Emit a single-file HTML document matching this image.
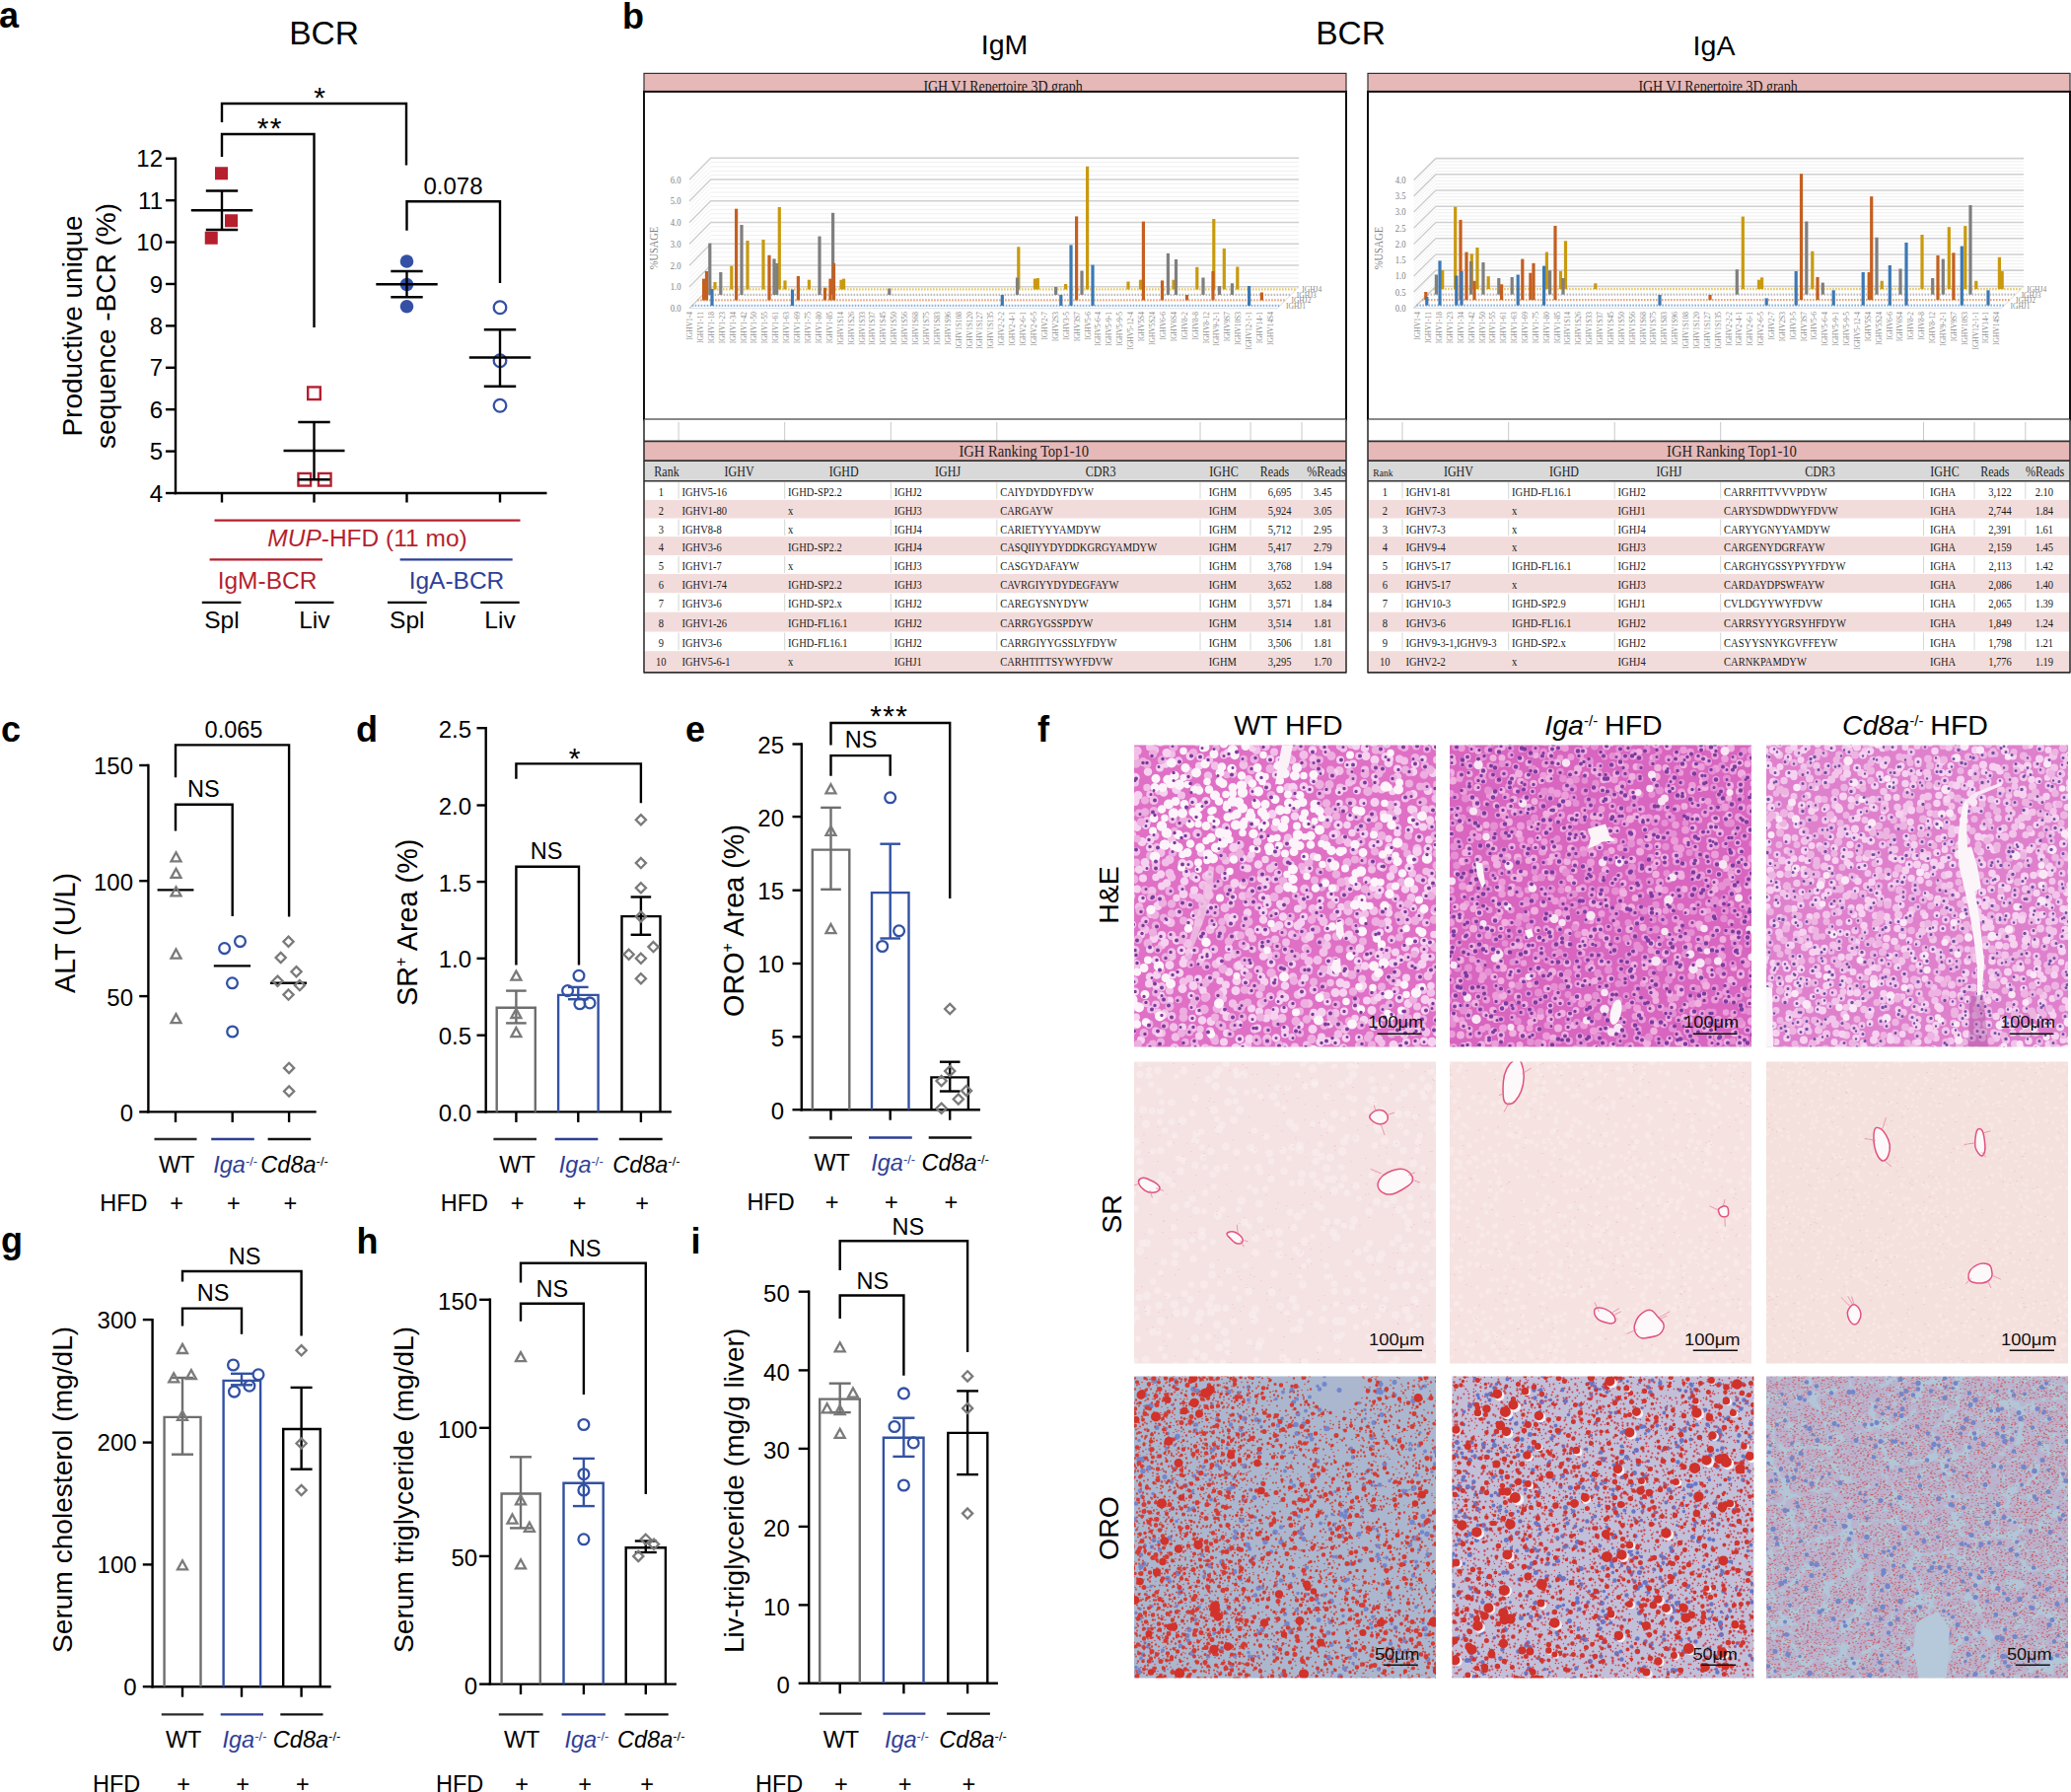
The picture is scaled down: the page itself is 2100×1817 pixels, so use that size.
<!DOCTYPE html>
<html><head><meta charset="utf-8"><title>Figure</title>
<style>html,body{margin:0;padding:0;background:#fff;overflow:hidden}svg{display:block}</style></head>
<body><svg width="2100" height="1817" viewBox="0 0 2100 1817" font-family="Liberation Sans, Arial, sans-serif" font-size="24">
<rect width="2100" height="1817" fill="#fff"/>
<text x="-1" y="28" font-size="36" font-weight="bold">a</text>
<text x="328.5" y="45" font-size="33.5" text-anchor="middle">BCR</text>
<path d="M178 159.55L178 501.2" stroke="#000" stroke-width="2.4" />
<path d="M168 160.75L178 160.75" stroke="#000" stroke-width="2.4" />
<text x="165" y="169.34" text-anchor="end">12</text>
<path d="M168 203.16L178 203.16" stroke="#000" stroke-width="2.4" />
<text x="165" y="211.75" text-anchor="end">11</text>
<path d="M168 245.56L178 245.56" stroke="#000" stroke-width="2.4" />
<text x="165" y="254.15" text-anchor="end">10</text>
<path d="M168 287.97L178 287.97" stroke="#000" stroke-width="2.4" />
<text x="165" y="296.56" text-anchor="end">9</text>
<path d="M168 330.38L178 330.38" stroke="#000" stroke-width="2.4" />
<text x="165" y="338.97" text-anchor="end">8</text>
<path d="M168 372.78L178 372.78" stroke="#000" stroke-width="2.4" />
<text x="165" y="381.37" text-anchor="end">7</text>
<path d="M168 415.19L178 415.19" stroke="#000" stroke-width="2.4" />
<text x="165" y="423.78" text-anchor="end">6</text>
<path d="M168 457.59L178 457.59" stroke="#000" stroke-width="2.4" />
<text x="165" y="466.19" text-anchor="end">5</text>
<path d="M168 500L178 500" stroke="#000" stroke-width="2.4" />
<text x="165" y="508.59" text-anchor="end">4</text>
<path d="M176.8 500L554.5 500" stroke="#000" stroke-width="2.4" />
<path d="M225 500L225 509.5" stroke="#000" stroke-width="2.4" />
<path d="M318.5 500L318.5 509.5" stroke="#000" stroke-width="2.4" />
<path d="M412.5 500L412.5 509.5" stroke="#000" stroke-width="2.4" />
<path d="M507 500L507 509.5" stroke="#000" stroke-width="2.4" />
<text x="82.5" y="330.5" font-size="28" text-anchor="middle" transform="rotate(-90 82.5 330.5)">Productive unique</text>
<text x="117" y="330.5" font-size="28" text-anchor="middle" transform="rotate(-90 117 330.5)">sequence -BCR (%)</text>
<path d="M225 124V105H412V167.5" stroke="#000" stroke-width="2.4" fill="none" stroke-linejoin="miter"/>
<text x="324" y="109.4" font-size="30" text-anchor="middle">*</text>
<path d="M225 159V136H318.5V332" stroke="#000" stroke-width="2.4" fill="none" stroke-linejoin="miter"/>
<text x="273.7" y="139.7" font-size="30" text-anchor="middle" letter-spacing="1.3">**</text>
<path d="M412.5 233.75V204.25H507V287" stroke="#000" stroke-width="2.4" fill="none" stroke-linejoin="miter"/>
<text x="459.5" y="197" text-anchor="middle">0.078</text>
<rect x="218" y="169.25" width="13" height="13" fill="#b51f2e"/>
<rect x="228" y="217.25" width="13" height="13" fill="#b51f2e"/>
<rect x="207.75" y="234.75" width="13" height="13" fill="#b51f2e"/>
<path d="M225 193.5L225 233" stroke="#000" stroke-width="2.4" />
<path d="M208.8 193.5L241.2 193.5" stroke="#000" stroke-width="2.4" />
<path d="M208.8 233L241.2 233" stroke="#000" stroke-width="2.4" />
<path d="M193.8 213.25L256.2 213.25" stroke="#000" stroke-width="2.4" />
<rect x="312.2" y="392.45" width="12.6" height="12.6" fill="none" stroke="#b51f2e" stroke-width="2.4"/>
<rect x="302.45" y="479.95" width="12.6" height="12.6" fill="none" stroke="#b51f2e" stroke-width="2.4"/>
<rect x="322.95" y="479.95" width="12.6" height="12.6" fill="none" stroke="#b51f2e" stroke-width="2.4"/>
<path d="M318.5 428L318.5 486.25" stroke="#000" stroke-width="2.4" />
<path d="M302.3 428L334.7 428" stroke="#000" stroke-width="2.4" />
<path d="M302.3 486.25L334.7 486.25" stroke="#000" stroke-width="2.4" />
<path d="M287.5 457L349.5 457" stroke="#000" stroke-width="2.4" />
<circle cx="412.5" cy="265" r="6.8" fill="#3450a6"/>
<circle cx="412.5" cy="288.5" r="6.8" fill="#3450a6"/>
<circle cx="412.5" cy="310.7" r="6.8" fill="#3450a6"/>
<path d="M412.5 275L412.5 301.25" stroke="#000" stroke-width="2.4" />
<path d="M396.3 275L428.7 275" stroke="#000" stroke-width="2.4" />
<path d="M396.3 301.25L428.7 301.25" stroke="#000" stroke-width="2.4" />
<path d="M381.3 288.25L443.7 288.25" stroke="#000" stroke-width="2.4" />
<circle cx="507" cy="311.75" r="6.3" fill="none" stroke="#3450a6" stroke-width="2.3"/>
<circle cx="507" cy="365.75" r="6.3" fill="none" stroke="#3450a6" stroke-width="2.3"/>
<circle cx="507" cy="411.25" r="6.3" fill="none" stroke="#3450a6" stroke-width="2.3"/>
<path d="M507 334.25L507 391.75" stroke="#000" stroke-width="2.4" />
<path d="M490.8 334.25L523.2 334.25" stroke="#000" stroke-width="2.4" />
<path d="M490.8 391.75L523.2 391.75" stroke="#000" stroke-width="2.4" />
<path d="M475.8 362.5L538.2 362.5" stroke="#000" stroke-width="2.4" />
<path d="M217.5 527.6L527.5 527.6" stroke="#b51f2e" stroke-width="2.3" />
<text x="372.5" y="553.6" font-size="24.5" text-anchor="middle" fill="#b51f2e"><tspan font-style="italic">MUP</tspan>-HFD (11 mo)</text>
<path d="M212.6 567.3L327 567.3" stroke="#b51f2e" stroke-width="2.3" />
<path d="M405.6 567.3L519.7 567.3" stroke="#2e3f96" stroke-width="2.3" />
<text x="271" y="596.8" font-size="24.5" text-anchor="middle" fill="#b51f2e">IgM-BCR</text>
<text x="463" y="596.8" font-size="24.5" text-anchor="middle" fill="#2e3f96">IgA-BCR</text>
<path d="M204.8 610.9L244.4 610.9" stroke="#000" stroke-width="2.3" />
<path d="M299 610.9L338.5 610.9" stroke="#000" stroke-width="2.3" />
<path d="M393 610.9L432.7 610.9" stroke="#000" stroke-width="2.3" />
<path d="M487.3 610.9L526.7 610.9" stroke="#000" stroke-width="2.3" />
<text x="225" y="637" font-size="24.5" text-anchor="middle">Spl</text>
<text x="318.8" y="637" font-size="24.5" text-anchor="middle">Liv</text>
<text x="412.8" y="637" font-size="24.5" text-anchor="middle">Spl</text>
<text x="507" y="637" font-size="24.5" text-anchor="middle">Liv</text>
<text x="631" y="28.6" font-size="36" font-weight="bold">b</text>
<text x="1018.5" y="55.2" font-size="28.5" text-anchor="middle">IgM</text>
<text x="1369.5" y="44.8" font-size="33.5" text-anchor="middle">BCR</text>
<text x="1738" y="56.4" font-size="28.5" text-anchor="middle">IgA</text>
<rect x="653" y="74.4" width="712" height="18.5" fill="#e6b8b7" stroke="#333" stroke-width="1.2"/>
<svg x="653" y="74.4" width="712" height="18.5" overflow="hidden"><g font-family="Liberation Serif" font-size="16" fill="#1a1a1a"><text transform="matrix(0.87 0 0 1 364 18.8)" text-anchor="middle">IGH VJ Repertoire 3D graph</text></g></svg>
<rect x="653" y="92.9" width="712" height="332.6" fill="#fff" stroke="#111" stroke-width="2"/>
<path d="M699 312.7L720.7 290.7H1317" stroke="#d0d0d0" stroke-width="1.6" fill="none"/><path d="M699 308.35L720.7 286.35H1317" stroke="#ececec" stroke-width="0.8" fill="none"/><path d="M699 304L720.7 282H1317" stroke="#ececec" stroke-width="0.8" fill="none"/><path d="M699 299.65L720.7 277.65H1317" stroke="#ececec" stroke-width="0.8" fill="none"/><path d="M699 295.3L720.7 273.3H1317" stroke="#ececec" stroke-width="0.8" fill="none"/><path d="M699 290.95L720.7 268.95H1317" stroke="#d0d0d0" stroke-width="1.6" fill="none"/><path d="M699 286.6L720.7 264.6H1317" stroke="#ececec" stroke-width="0.8" fill="none"/><path d="M699 282.25L720.7 260.25H1317" stroke="#ececec" stroke-width="0.8" fill="none"/><path d="M699 277.9L720.7 255.9H1317" stroke="#ececec" stroke-width="0.8" fill="none"/><path d="M699 273.55L720.7 251.55H1317" stroke="#ececec" stroke-width="0.8" fill="none"/><path d="M699 269.2L720.7 247.2H1317" stroke="#d0d0d0" stroke-width="1.6" fill="none"/><path d="M699 264.85L720.7 242.85H1317" stroke="#ececec" stroke-width="0.8" fill="none"/><path d="M699 260.5L720.7 238.5H1317" stroke="#ececec" stroke-width="0.8" fill="none"/><path d="M699 256.15L720.7 234.15H1317" stroke="#ececec" stroke-width="0.8" fill="none"/><path d="M699 251.8L720.7 229.8H1317" stroke="#ececec" stroke-width="0.8" fill="none"/><path d="M699 247.45L720.7 225.45H1317" stroke="#d0d0d0" stroke-width="1.6" fill="none"/><path d="M699 243.1L720.7 221.1H1317" stroke="#ececec" stroke-width="0.8" fill="none"/><path d="M699 238.75L720.7 216.75H1317" stroke="#ececec" stroke-width="0.8" fill="none"/><path d="M699 234.4L720.7 212.4H1317" stroke="#ececec" stroke-width="0.8" fill="none"/><path d="M699 230.05L720.7 208.05H1317" stroke="#ececec" stroke-width="0.8" fill="none"/><path d="M699 225.7L720.7 203.7H1317" stroke="#d0d0d0" stroke-width="1.6" fill="none"/><path d="M699 221.35L720.7 199.35H1317" stroke="#ececec" stroke-width="0.8" fill="none"/><path d="M699 217L720.7 195H1317" stroke="#ececec" stroke-width="0.8" fill="none"/><path d="M699 212.65L720.7 190.65H1317" stroke="#ececec" stroke-width="0.8" fill="none"/><path d="M699 208.3L720.7 186.3H1317" stroke="#ececec" stroke-width="0.8" fill="none"/><path d="M699 203.95L720.7 181.95H1317" stroke="#d0d0d0" stroke-width="1.6" fill="none"/><path d="M699 199.6L720.7 177.6H1317" stroke="#ececec" stroke-width="0.8" fill="none"/><path d="M699 195.25L720.7 173.25H1317" stroke="#ececec" stroke-width="0.8" fill="none"/><path d="M699 190.9L720.7 168.9H1317" stroke="#ececec" stroke-width="0.8" fill="none"/><path d="M699 186.55L720.7 164.55H1317" stroke="#ececec" stroke-width="0.8" fill="none"/><path d="M699 182.2L720.7 160.2H1317" stroke="#d0d0d0" stroke-width="1.6" fill="none"/><path d="M699 312.7H1295.3L1317 290.7" stroke="#dcdcdc" stroke-width="1" fill="none"/>
<path d="M701.71 309.95H1298.01" stroke="#8fb6dd" stroke-width="2.2" stroke-dasharray="1.6 1.4" fill="none"/>
<path d="M707.14 304.45H1303.44" stroke="#e9a57c" stroke-width="2.2" stroke-dasharray="1.6 1.4" fill="none"/>
<path d="M712.56 298.95H1308.86" stroke="#bcbcbc" stroke-width="2.2" stroke-dasharray="1.6 1.4" fill="none"/>
<path d="M717.99 293.45H1314.29" stroke="#e6c766" stroke-width="2.2" stroke-dasharray="1.6 1.4" fill="none"/>
<rect x="723.4" y="286" width="3.2" height="7.45" fill="#c99a0e"/>
<rect x="740.2" y="269.7" width="3.2" height="23.75" fill="#c99a0e"/>
<rect x="756.4" y="244" width="3.2" height="49.45" fill="#c99a0e"/>
<rect x="772.4" y="243" width="3.2" height="50.45" fill="#c99a0e"/>
<rect x="788.7" y="210" width="3.2" height="83.45" fill="#c99a0e"/>
<rect x="794.4" y="284.4" width="3.2" height="9.05" fill="#c99a0e"/>
<rect x="818.8" y="283.7" width="3.2" height="9.75" fill="#c99a0e"/>
<rect x="851.4" y="283.7" width="3.2" height="9.75" fill="#c99a0e"/>
<rect x="854" y="282.6" width="3.2" height="10.85" fill="#c99a0e"/>
<rect x="1031.2" y="250.3" width="3.2" height="43.15" fill="#c99a0e"/>
<rect x="1047.8" y="282.6" width="3.2" height="10.85" fill="#c99a0e"/>
<rect x="1050.7" y="282" width="3.2" height="11.45" fill="#c99a0e"/>
<rect x="1079" y="288" width="3.2" height="5.45" fill="#c99a0e"/>
<rect x="1101" y="168.8" width="3.2" height="124.65" fill="#c99a0e"/>
<rect x="1142.4" y="285.5" width="3.2" height="7.95" fill="#c99a0e"/>
<rect x="1154.9" y="283.7" width="3.2" height="9.75" fill="#c99a0e"/>
<rect x="1188.4" y="283.7" width="3.2" height="9.75" fill="#c99a0e"/>
<rect x="1212.2" y="270.8" width="3.2" height="22.65" fill="#c99a0e"/>
<rect x="1229.2" y="222" width="3.2" height="71.45" fill="#c99a0e"/>
<rect x="1239.7" y="252" width="3.2" height="41.45" fill="#c99a0e"/>
<rect x="1253.2" y="270.5" width="3.2" height="22.95" fill="#c99a0e"/>
<rect x="718.2" y="246.6" width="3.2" height="52.35" fill="#7f7f7f"/>
<rect x="729.2" y="276" width="3.2" height="22.95" fill="#7f7f7f"/>
<rect x="750.4" y="228" width="3.2" height="70.95" fill="#7f7f7f"/>
<rect x="783.4" y="262.4" width="3.2" height="36.55" fill="#7f7f7f"/>
<rect x="786.1" y="267" width="3.2" height="31.95" fill="#7f7f7f"/>
<rect x="829.4" y="239.6" width="3.2" height="59.35" fill="#7f7f7f"/>
<rect x="843" y="215.8" width="3.2" height="83.15" fill="#7f7f7f"/>
<rect x="900.2" y="292.5" width="3.2" height="6.45" fill="#7f7f7f"/>
<rect x="1029.9" y="281.5" width="3.2" height="17.45" fill="#7f7f7f"/>
<rect x="1069" y="291" width="3.2" height="7.95" fill="#7f7f7f"/>
<rect x="1095.4" y="274.5" width="3.2" height="24.45" fill="#7f7f7f"/>
<rect x="1182.8" y="256.9" width="3.2" height="42.05" fill="#7f7f7f"/>
<rect x="1190.9" y="263" width="3.2" height="35.95" fill="#7f7f7f"/>
<rect x="1218.4" y="281.5" width="3.2" height="17.45" fill="#7f7f7f"/>
<rect x="1234.9" y="290" width="3.2" height="8.95" fill="#7f7f7f"/>
<rect x="1247.8" y="287.3" width="3.2" height="11.65" fill="#7f7f7f"/>
<rect x="712" y="282.6" width="3.2" height="21.85" fill="#c55f1f"/>
<rect x="714.9" y="275" width="3.2" height="29.45" fill="#c55f1f"/>
<rect x="745" y="211.7" width="3.2" height="92.75" fill="#c55f1f"/>
<rect x="778.4" y="258.7" width="3.2" height="45.75" fill="#c55f1f"/>
<rect x="807.8" y="280" width="3.2" height="24.45" fill="#c55f1f"/>
<rect x="834.9" y="291.7" width="3.2" height="12.75" fill="#c55f1f"/>
<rect x="840.4" y="282.6" width="3.2" height="21.85" fill="#c55f1f"/>
<rect x="843.9" y="266.8" width="3.2" height="37.65" fill="#c55f1f"/>
<rect x="1090" y="219.4" width="3.2" height="85.05" fill="#c55f1f"/>
<rect x="1157.8" y="224.6" width="3.2" height="79.85" fill="#c55f1f"/>
<rect x="1176.9" y="284.4" width="3.2" height="20.05" fill="#c55f1f"/>
<rect x="1201.9" y="299" width="3.2" height="5.45" fill="#c55f1f"/>
<rect x="1228.4" y="275" width="3.2" height="29.45" fill="#c55f1f"/>
<rect x="1277.8" y="296.5" width="3.2" height="7.95" fill="#c55f1f"/>
<rect x="720.4" y="293" width="3.2" height="16.95" fill="#3b78b5"/>
<rect x="801.9" y="293.6" width="3.2" height="16.35" fill="#3b78b5"/>
<rect x="1014.7" y="299" width="3.2" height="10.95" fill="#3b78b5"/>
<rect x="1074.2" y="299" width="3.2" height="10.95" fill="#3b78b5"/>
<rect x="1084.4" y="248.4" width="3.2" height="61.55" fill="#3b78b5"/>
<rect x="1106.4" y="268.6" width="3.2" height="41.35" fill="#3b78b5"/>
<rect x="1265" y="290" width="3.2" height="19.95" fill="#3b78b5"/>
<g font-family="Liberation Serif" font-size="10" fill="#7f7f7f"><text transform="matrix(0.87 0 0 1 690.6 316.1)" text-anchor="end">0.0</text></g>
<g font-family="Liberation Serif" font-size="10" fill="#7f7f7f"><text transform="matrix(0.87 0 0 1 690.6 294.35)" text-anchor="end">1.0</text></g>
<g font-family="Liberation Serif" font-size="10" fill="#7f7f7f"><text transform="matrix(0.87 0 0 1 690.6 272.6)" text-anchor="end">2.0</text></g>
<g font-family="Liberation Serif" font-size="10" fill="#7f7f7f"><text transform="matrix(0.87 0 0 1 690.6 250.85)" text-anchor="end">3.0</text></g>
<g font-family="Liberation Serif" font-size="10" fill="#7f7f7f"><text transform="matrix(0.87 0 0 1 690.6 229.1)" text-anchor="end">4.0</text></g>
<g font-family="Liberation Serif" font-size="10" fill="#7f7f7f"><text transform="matrix(0.87 0 0 1 690.6 207.35)" text-anchor="end">5.0</text></g>
<g font-family="Liberation Serif" font-size="10" fill="#7f7f7f"><text transform="matrix(0.87 0 0 1 690.6 185.6)" text-anchor="end">6.0</text></g>
<g font-family="Liberation Serif" font-size="12" fill="#7f7f7f"><text transform="matrix(0 -0.87 1 0 666.5 251.5)" text-anchor="middle">%USAGE</text></g>
<g font-family="Liberation Serif" font-size="8.9" fill="#8a8a8a" text-anchor="end"><text transform="matrix(0 -0.84 1 0 702 316)">IGHV1-4</text><text transform="matrix(0 -0.84 1 0 712.91 316)">IGHV1-11</text><text transform="matrix(0 -0.84 1 0 723.81 316)">IGHV1-18</text><text transform="matrix(0 -0.84 1 0 734.72 316)">IGHV1-23</text><text transform="matrix(0 -0.84 1 0 745.63 316)">IGHV1-34</text><text transform="matrix(0 -0.84 1 0 756.53 316)">IGHV1-42</text><text transform="matrix(0 -0.84 1 0 767.44 316)">IGHV1-50</text><text transform="matrix(0 -0.84 1 0 778.35 316)">IGHV1-55</text><text transform="matrix(0 -0.84 1 0 789.26 316)">IGHV1-61</text><text transform="matrix(0 -0.84 1 0 800.16 316)">IGHV1-63</text><text transform="matrix(0 -0.84 1 0 811.07 316)">IGHV1-69</text><text transform="matrix(0 -0.84 1 0 821.98 316)">IGHV1-75</text><text transform="matrix(0 -0.84 1 0 832.88 316)">IGHV1-80</text><text transform="matrix(0 -0.84 1 0 843.79 316)">IGHV1-85</text><text transform="matrix(0 -0.84 1 0 854.7 316)">IGHV1S14</text><text transform="matrix(0 -0.84 1 0 865.61 316)">IGHV1S26</text><text transform="matrix(0 -0.84 1 0 876.51 316)">IGHV1S33</text><text transform="matrix(0 -0.84 1 0 887.42 316)">IGHV1S37</text><text transform="matrix(0 -0.84 1 0 898.33 316)">IGHV1S45</text><text transform="matrix(0 -0.84 1 0 909.23 316)">IGHV1S50</text><text transform="matrix(0 -0.84 1 0 920.14 316)">IGHV1S56</text><text transform="matrix(0 -0.84 1 0 931.05 316)">IGHV1S68</text><text transform="matrix(0 -0.84 1 0 941.95 316)">IGHV1S75</text><text transform="matrix(0 -0.84 1 0 952.86 316)">IGHV1S83</text><text transform="matrix(0 -0.84 1 0 963.77 316)">IGHV1S96</text><text transform="matrix(0 -0.84 1 0 974.67 316)">IGHV1S108</text><text transform="matrix(0 -0.84 1 0 985.58 316)">IGHV1S120</text><text transform="matrix(0 -0.84 1 0 996.49 316)">IGHV1S127</text><text transform="matrix(0 -0.84 1 0 1007.4 316)">IGHV1S135</text><text transform="matrix(0 -0.84 1 0 1018.3 316)">IGHV2-2-2</text><text transform="matrix(0 -0.84 1 0 1029.21 316)">IGHV2-4-1</text><text transform="matrix(0 -0.84 1 0 1040.12 316)">IGHV2-6-1</text><text transform="matrix(0 -0.84 1 0 1051.02 316)">IGHV2-6-5</text><text transform="matrix(0 -0.84 1 0 1061.93 316)">IGHV2-7</text><text transform="matrix(0 -0.84 1 0 1072.84 316)">IGHV2S3</text><text transform="matrix(0 -0.84 1 0 1083.74 316)">IGHV3-5</text><text transform="matrix(0 -0.84 1 0 1094.65 316)">IGHV3S7</text><text transform="matrix(0 -0.84 1 0 1105.56 316)">IGHV5-6</text><text transform="matrix(0 -0.84 1 0 1116.47 316)">IGHV5-6-4</text><text transform="matrix(0 -0.84 1 0 1127.37 316)">IGHV5-9-1</text><text transform="matrix(0 -0.84 1 0 1138.28 316)">IGHV5-9-5</text><text transform="matrix(0 -0.84 1 0 1149.19 316)">IGHV5-12-4</text><text transform="matrix(0 -0.84 1 0 1160.09 316)">IGHV5S4</text><text transform="matrix(0 -0.84 1 0 1171 316)">IGHV5S24</text><text transform="matrix(0 -0.84 1 0 1181.91 316)">IGHV6-6</text><text transform="matrix(0 -0.84 1 0 1192.82 316)">IGHV6S4</text><text transform="matrix(0 -0.84 1 0 1203.72 316)">IGHV8-2</text><text transform="matrix(0 -0.84 1 0 1214.63 316)">IGHV8-8</text><text transform="matrix(0 -0.84 1 0 1225.54 316)">IGHV8-12</text><text transform="matrix(0 -0.84 1 0 1236.44 316)">IGHV9-2-1</text><text transform="matrix(0 -0.84 1 0 1247.35 316)">IGHV9S7</text><text transform="matrix(0 -0.84 1 0 1258.26 316)">IGHV10S3</text><text transform="matrix(0 -0.84 1 0 1269.16 316)">IGHV12-1-1</text><text transform="matrix(0 -0.84 1 0 1280.07 316)">IGHV14-1</text><text transform="matrix(0 -0.84 1 0 1290.98 316)">IGHV14S4</text></g>
<text x="1304.01" y="312.95" font-family="Liberation Serif" font-size="7.5" fill="#8a8a8a">IGHJ1</text>
<text x="1309.44" y="307.45" font-family="Liberation Serif" font-size="7.5" fill="#8a8a8a">IGHJ2</text>
<text x="1314.86" y="301.95" font-family="Liberation Serif" font-size="7.5" fill="#8a8a8a">IGHJ3</text>
<text x="1320.29" y="296.45" font-family="Liberation Serif" font-size="7.5" fill="#8a8a8a">IGHJ4</text>
<rect x="653" y="425.5" width="712" height="22" fill="#fff"/>
<path d="M688.1 428V446.5" stroke="#c8c8c8" stroke-width="1"/>
<path d="M795.7 428V446.5" stroke="#c8c8c8" stroke-width="1"/>
<path d="M903.3 428V446.5" stroke="#c8c8c8" stroke-width="1"/>
<path d="M1010.8 428V446.5" stroke="#c8c8c8" stroke-width="1"/>
<path d="M1217 428V446.5" stroke="#c8c8c8" stroke-width="1"/>
<path d="M1268 428V446.5" stroke="#c8c8c8" stroke-width="1"/>
<path d="M1320 428V446.5" stroke="#c8c8c8" stroke-width="1"/>
<rect x="653" y="447.4" width="712" height="19.7" fill="#e6b8b7"/>
<g font-family="Liberation Serif" font-size="16.8" fill="#222"><text transform="matrix(0.87 0 0 1 1038.3 462.8)" text-anchor="middle">IGH Ranking Top1-10</text></g>
<rect x="653" y="467.1" width="712" height="20.7" fill="#d9d9d9"/>
<g font-family="Liberation Serif" font-size="13.8" fill="#222"><text transform="matrix(0.87 0 0 1 676 482.8)" text-anchor="middle">Rank</text></g>
<g font-family="Liberation Serif" font-size="13.8" fill="#222"><text transform="matrix(0.87 0 0 1 749.6 482.8)" text-anchor="middle">IGHV</text></g>
<g font-family="Liberation Serif" font-size="13.8" fill="#222"><text transform="matrix(0.87 0 0 1 855.7 482.8)" text-anchor="middle">IGHD</text></g>
<g font-family="Liberation Serif" font-size="13.8" fill="#222"><text transform="matrix(0.87 0 0 1 961.1 482.8)" text-anchor="middle">IGHJ</text></g>
<g font-family="Liberation Serif" font-size="13.8" fill="#222"><text transform="matrix(0.87 0 0 1 1116.2 482.8)" text-anchor="middle">CDR3</text></g>
<g font-family="Liberation Serif" font-size="13.8" fill="#222"><text transform="matrix(0.87 0 0 1 1241 482.8)" text-anchor="middle">IGHC</text></g>
<g font-family="Liberation Serif" font-size="13.8" fill="#222"><text transform="matrix(0.87 0 0 1 1292.5 482.8)" text-anchor="middle">Reads</text></g>
<g font-family="Liberation Serif" font-size="13.8" fill="#222"><text transform="matrix(0.87 0 0 1 1345 482.8)" text-anchor="middle">%Reads</text></g>
<path d="M688.1 489V505.9" stroke="#d6d6d6" stroke-width="1"/>
<path d="M795.7 489V505.9" stroke="#d6d6d6" stroke-width="1"/>
<path d="M903.3 489V505.9" stroke="#d6d6d6" stroke-width="1"/>
<path d="M1010.8 489V505.9" stroke="#d6d6d6" stroke-width="1"/>
<path d="M1217 489V505.9" stroke="#d6d6d6" stroke-width="1"/>
<path d="M1268 489V505.9" stroke="#d6d6d6" stroke-width="1"/>
<path d="M1320 489V505.9" stroke="#d6d6d6" stroke-width="1"/>
<rect x="653" y="506.9" width="712" height="18.6" fill="#f2dcdb"/>
<path d="M688.1 526.5V543.1" stroke="#d6d6d6" stroke-width="1"/>
<path d="M795.7 526.5V543.1" stroke="#d6d6d6" stroke-width="1"/>
<path d="M903.3 526.5V543.1" stroke="#d6d6d6" stroke-width="1"/>
<path d="M1010.8 526.5V543.1" stroke="#d6d6d6" stroke-width="1"/>
<path d="M1217 526.5V543.1" stroke="#d6d6d6" stroke-width="1"/>
<path d="M1268 526.5V543.1" stroke="#d6d6d6" stroke-width="1"/>
<path d="M1320 526.5V543.1" stroke="#d6d6d6" stroke-width="1"/>
<rect x="653" y="544.1" width="712" height="18.9" fill="#f2dcdb"/>
<path d="M688.1 564V580.9" stroke="#d6d6d6" stroke-width="1"/>
<path d="M795.7 564V580.9" stroke="#d6d6d6" stroke-width="1"/>
<path d="M903.3 564V580.9" stroke="#d6d6d6" stroke-width="1"/>
<path d="M1010.8 564V580.9" stroke="#d6d6d6" stroke-width="1"/>
<path d="M1217 564V580.9" stroke="#d6d6d6" stroke-width="1"/>
<path d="M1268 564V580.9" stroke="#d6d6d6" stroke-width="1"/>
<path d="M1320 564V580.9" stroke="#d6d6d6" stroke-width="1"/>
<rect x="653" y="581.9" width="712" height="19.3" fill="#f2dcdb"/>
<path d="M688.1 602.2V619.7" stroke="#d6d6d6" stroke-width="1"/>
<path d="M795.7 602.2V619.7" stroke="#d6d6d6" stroke-width="1"/>
<path d="M903.3 602.2V619.7" stroke="#d6d6d6" stroke-width="1"/>
<path d="M1010.8 602.2V619.7" stroke="#d6d6d6" stroke-width="1"/>
<path d="M1217 602.2V619.7" stroke="#d6d6d6" stroke-width="1"/>
<path d="M1268 602.2V619.7" stroke="#d6d6d6" stroke-width="1"/>
<path d="M1320 602.2V619.7" stroke="#d6d6d6" stroke-width="1"/>
<rect x="653" y="620.7" width="712" height="19.8" fill="#f2dcdb"/>
<path d="M688.1 641.5V659.2" stroke="#d6d6d6" stroke-width="1"/>
<path d="M795.7 641.5V659.2" stroke="#d6d6d6" stroke-width="1"/>
<path d="M903.3 641.5V659.2" stroke="#d6d6d6" stroke-width="1"/>
<path d="M1010.8 641.5V659.2" stroke="#d6d6d6" stroke-width="1"/>
<path d="M1217 641.5V659.2" stroke="#d6d6d6" stroke-width="1"/>
<path d="M1268 641.5V659.2" stroke="#d6d6d6" stroke-width="1"/>
<path d="M1320 641.5V659.2" stroke="#d6d6d6" stroke-width="1"/>
<rect x="653" y="660.2" width="712" height="21.4" fill="#f2dcdb"/>
<g font-family="Liberation Serif" font-size="12.1" fill="#1a1a1a"><text transform="matrix(0.87 0 0 1 670.35 503.1)" text-anchor="middle">1</text><text transform="matrix(0.87 0 0 1 691.5 503.1)">IGHV5-16</text><text transform="matrix(0.87 0 0 1 799.1 503.1)">IGHD-SP2.2</text><text transform="matrix(0.87 0 0 1 906.7 503.1)">IGHJ2</text><text transform="matrix(0.87 0 0 1 1014.2 503.1)">CAIYDYDDYFDYW</text><text transform="matrix(0.87 0 0 1 1225.8 503.1)">IGHM</text><text transform="matrix(0.87 0 0 1 1309.5 503.1)" text-anchor="end">6,695</text><text transform="matrix(0.87 0 0 1 1341.25 503.1)" text-anchor="middle">3.45</text><text transform="matrix(0.87 0 0 1 670.35 522)" text-anchor="middle">2</text><text transform="matrix(0.87 0 0 1 691.5 522)">IGHV1-80</text><text transform="matrix(0.87 0 0 1 799.1 522)">x</text><text transform="matrix(0.87 0 0 1 906.7 522)">IGHJ3</text><text transform="matrix(0.87 0 0 1 1014.2 522)">CARGAYW</text><text transform="matrix(0.87 0 0 1 1225.8 522)">IGHM</text><text transform="matrix(0.87 0 0 1 1309.5 522)" text-anchor="end">5,924</text><text transform="matrix(0.87 0 0 1 1341.25 522)" text-anchor="middle">3.05</text><text transform="matrix(0.87 0 0 1 670.35 540.6)" text-anchor="middle">3</text><text transform="matrix(0.87 0 0 1 691.5 540.6)">IGHV8-8</text><text transform="matrix(0.87 0 0 1 799.1 540.6)">x</text><text transform="matrix(0.87 0 0 1 906.7 540.6)">IGHJ4</text><text transform="matrix(0.87 0 0 1 1014.2 540.6)">CARIETYYYAMDYW</text><text transform="matrix(0.87 0 0 1 1225.8 540.6)">IGHM</text><text transform="matrix(0.87 0 0 1 1309.5 540.6)" text-anchor="end">5,712</text><text transform="matrix(0.87 0 0 1 1341.25 540.6)" text-anchor="middle">2.95</text><text transform="matrix(0.87 0 0 1 670.35 559.2)" text-anchor="middle">4</text><text transform="matrix(0.87 0 0 1 691.5 559.2)">IGHV3-6</text><text transform="matrix(0.87 0 0 1 799.1 559.2)">IGHD-SP2.2</text><text transform="matrix(0.87 0 0 1 906.7 559.2)">IGHJ4</text><text transform="matrix(0.87 0 0 1 1014.2 559.2)">CASQIIYYDYDDKGRGYAMDYW</text><text transform="matrix(0.87 0 0 1 1225.8 559.2)">IGHM</text><text transform="matrix(0.87 0 0 1 1309.5 559.2)" text-anchor="end">5,417</text><text transform="matrix(0.87 0 0 1 1341.25 559.2)" text-anchor="middle">2.79</text><text transform="matrix(0.87 0 0 1 670.35 578.1)" text-anchor="middle">5</text><text transform="matrix(0.87 0 0 1 691.5 578.1)">IGHV1-7</text><text transform="matrix(0.87 0 0 1 799.1 578.1)">x</text><text transform="matrix(0.87 0 0 1 906.7 578.1)">IGHJ3</text><text transform="matrix(0.87 0 0 1 1014.2 578.1)">CASGYDAFAYW</text><text transform="matrix(0.87 0 0 1 1225.8 578.1)">IGHM</text><text transform="matrix(0.87 0 0 1 1309.5 578.1)" text-anchor="end">3,768</text><text transform="matrix(0.87 0 0 1 1341.25 578.1)" text-anchor="middle">1.94</text><text transform="matrix(0.87 0 0 1 670.35 597)" text-anchor="middle">6</text><text transform="matrix(0.87 0 0 1 691.5 597)">IGHV1-74</text><text transform="matrix(0.87 0 0 1 799.1 597)">IGHD-SP2.2</text><text transform="matrix(0.87 0 0 1 906.7 597)">IGHJ3</text><text transform="matrix(0.87 0 0 1 1014.2 597)">CAVRGIYYDYDEGFAYW</text><text transform="matrix(0.87 0 0 1 1225.8 597)">IGHM</text><text transform="matrix(0.87 0 0 1 1309.5 597)" text-anchor="end">3,652</text><text transform="matrix(0.87 0 0 1 1341.25 597)" text-anchor="middle">1.88</text><text transform="matrix(0.87 0 0 1 670.35 616.3)" text-anchor="middle">7</text><text transform="matrix(0.87 0 0 1 691.5 616.3)">IGHV3-6</text><text transform="matrix(0.87 0 0 1 799.1 616.3)">IGHD-SP2.x</text><text transform="matrix(0.87 0 0 1 906.7 616.3)">IGHJ2</text><text transform="matrix(0.87 0 0 1 1014.2 616.3)">CAREGYSNYDYW</text><text transform="matrix(0.87 0 0 1 1225.8 616.3)">IGHM</text><text transform="matrix(0.87 0 0 1 1309.5 616.3)" text-anchor="end">3,571</text><text transform="matrix(0.87 0 0 1 1341.25 616.3)" text-anchor="middle">1.84</text><text transform="matrix(0.87 0 0 1 670.35 635.8)" text-anchor="middle">8</text><text transform="matrix(0.87 0 0 1 691.5 635.8)">IGHV1-26</text><text transform="matrix(0.87 0 0 1 799.1 635.8)">IGHD-FL16.1</text><text transform="matrix(0.87 0 0 1 906.7 635.8)">IGHJ2</text><text transform="matrix(0.87 0 0 1 1014.2 635.8)">CARRGYGSSPDYW</text><text transform="matrix(0.87 0 0 1 1225.8 635.8)">IGHM</text><text transform="matrix(0.87 0 0 1 1309.5 635.8)" text-anchor="end">3,514</text><text transform="matrix(0.87 0 0 1 1341.25 635.8)" text-anchor="middle">1.81</text><text transform="matrix(0.87 0 0 1 670.35 655.6)" text-anchor="middle">9</text><text transform="matrix(0.87 0 0 1 691.5 655.6)">IGHV3-6</text><text transform="matrix(0.87 0 0 1 799.1 655.6)">IGHD-FL16.1</text><text transform="matrix(0.87 0 0 1 906.7 655.6)">IGHJ2</text><text transform="matrix(0.87 0 0 1 1014.2 655.6)">CARRGIYYGSSLYFDYW</text><text transform="matrix(0.87 0 0 1 1225.8 655.6)">IGHM</text><text transform="matrix(0.87 0 0 1 1309.5 655.6)" text-anchor="end">3,506</text><text transform="matrix(0.87 0 0 1 1341.25 655.6)" text-anchor="middle">1.81</text><text transform="matrix(0.87 0 0 1 670.35 675.3)" text-anchor="middle">10</text><text transform="matrix(0.87 0 0 1 691.5 675.3)">IGHV5-6-1</text><text transform="matrix(0.87 0 0 1 799.1 675.3)">x</text><text transform="matrix(0.87 0 0 1 906.7 675.3)">IGHJ1</text><text transform="matrix(0.87 0 0 1 1014.2 675.3)">CARHTITTSYWYFDVW</text><text transform="matrix(0.87 0 0 1 1225.8 675.3)">IGHM</text><text transform="matrix(0.87 0 0 1 1309.5 675.3)" text-anchor="end">3,295</text><text transform="matrix(0.87 0 0 1 1341.25 675.3)" text-anchor="middle">1.70</text></g>
<path d="M653 447.4H1365M653 467.1H1365M653 487.8H1365M653 681.9H1365" stroke="#333" stroke-width="1.6"/>
<path d="M653 425.5V682.6M1365 425.5V682.6" stroke="#333" stroke-width="1.6"/>
<rect x="1387" y="74.4" width="712" height="18.5" fill="#e6b8b7" stroke="#333" stroke-width="1.2"/>
<svg x="1387" y="74.4" width="712" height="18.5" overflow="hidden"><g font-family="Liberation Serif" font-size="16" fill="#1a1a1a"><text transform="matrix(0.87 0 0 1 355 18.8)" text-anchor="middle">IGH VJ Repertoire 3D graph</text></g></svg>
<rect x="1387" y="92.9" width="712" height="332.6" fill="#fff" stroke="#111" stroke-width="2"/>
<path d="M1433.6 312.4L1455.9 290.4H2052" stroke="#d0d0d0" stroke-width="1.6" fill="none"/><path d="M1433.6 309.15L1455.9 287.15H2052" stroke="#ececec" stroke-width="0.8" fill="none"/><path d="M1433.6 305.91L1455.9 283.91H2052" stroke="#ececec" stroke-width="0.8" fill="none"/><path d="M1433.6 302.66L1455.9 280.66H2052" stroke="#ececec" stroke-width="0.8" fill="none"/><path d="M1433.6 299.42L1455.9 277.42H2052" stroke="#ececec" stroke-width="0.8" fill="none"/><path d="M1433.6 296.17L1455.9 274.17H2052" stroke="#d0d0d0" stroke-width="1.6" fill="none"/><path d="M1433.6 292.93L1455.9 270.93H2052" stroke="#ececec" stroke-width="0.8" fill="none"/><path d="M1433.6 289.68L1455.9 267.68H2052" stroke="#ececec" stroke-width="0.8" fill="none"/><path d="M1433.6 286.44L1455.9 264.44H2052" stroke="#ececec" stroke-width="0.8" fill="none"/><path d="M1433.6 283.19L1455.9 261.19H2052" stroke="#ececec" stroke-width="0.8" fill="none"/><path d="M1433.6 279.95L1455.9 257.95H2052" stroke="#d0d0d0" stroke-width="1.6" fill="none"/><path d="M1433.6 276.7L1455.9 254.7H2052" stroke="#ececec" stroke-width="0.8" fill="none"/><path d="M1433.6 273.46L1455.9 251.46H2052" stroke="#ececec" stroke-width="0.8" fill="none"/><path d="M1433.6 270.21L1455.9 248.21H2052" stroke="#ececec" stroke-width="0.8" fill="none"/><path d="M1433.6 266.97L1455.9 244.97H2052" stroke="#ececec" stroke-width="0.8" fill="none"/><path d="M1433.6 263.72L1455.9 241.72H2052" stroke="#d0d0d0" stroke-width="1.6" fill="none"/><path d="M1433.6 260.48L1455.9 238.48H2052" stroke="#ececec" stroke-width="0.8" fill="none"/><path d="M1433.6 257.23L1455.9 235.23H2052" stroke="#ececec" stroke-width="0.8" fill="none"/><path d="M1433.6 253.99L1455.9 231.99H2052" stroke="#ececec" stroke-width="0.8" fill="none"/><path d="M1433.6 250.74L1455.9 228.74H2052" stroke="#ececec" stroke-width="0.8" fill="none"/><path d="M1433.6 247.5L1455.9 225.5H2052" stroke="#d0d0d0" stroke-width="1.6" fill="none"/><path d="M1433.6 244.25L1455.9 222.25H2052" stroke="#ececec" stroke-width="0.8" fill="none"/><path d="M1433.6 241.01L1455.9 219.01H2052" stroke="#ececec" stroke-width="0.8" fill="none"/><path d="M1433.6 237.76L1455.9 215.76H2052" stroke="#ececec" stroke-width="0.8" fill="none"/><path d="M1433.6 234.52L1455.9 212.52H2052" stroke="#ececec" stroke-width="0.8" fill="none"/><path d="M1433.6 231.27L1455.9 209.27H2052" stroke="#d0d0d0" stroke-width="1.6" fill="none"/><path d="M1433.6 228.03L1455.9 206.03H2052" stroke="#ececec" stroke-width="0.8" fill="none"/><path d="M1433.6 224.78L1455.9 202.78H2052" stroke="#ececec" stroke-width="0.8" fill="none"/><path d="M1433.6 221.54L1455.9 199.54H2052" stroke="#ececec" stroke-width="0.8" fill="none"/><path d="M1433.6 218.29L1455.9 196.29H2052" stroke="#ececec" stroke-width="0.8" fill="none"/><path d="M1433.6 215.05L1455.9 193.05H2052" stroke="#d0d0d0" stroke-width="1.6" fill="none"/><path d="M1433.6 211.8L1455.9 189.8H2052" stroke="#ececec" stroke-width="0.8" fill="none"/><path d="M1433.6 208.56L1455.9 186.56H2052" stroke="#ececec" stroke-width="0.8" fill="none"/><path d="M1433.6 205.31L1455.9 183.31H2052" stroke="#ececec" stroke-width="0.8" fill="none"/><path d="M1433.6 202.07L1455.9 180.07H2052" stroke="#ececec" stroke-width="0.8" fill="none"/><path d="M1433.6 198.82L1455.9 176.82H2052" stroke="#d0d0d0" stroke-width="1.6" fill="none"/><path d="M1433.6 195.58L1455.9 173.58H2052" stroke="#ececec" stroke-width="0.8" fill="none"/><path d="M1433.6 192.33L1455.9 170.33H2052" stroke="#ececec" stroke-width="0.8" fill="none"/><path d="M1433.6 189.09L1455.9 167.09H2052" stroke="#ececec" stroke-width="0.8" fill="none"/><path d="M1433.6 185.84L1455.9 163.84H2052" stroke="#ececec" stroke-width="0.8" fill="none"/><path d="M1433.6 182.6L1455.9 160.6H2052" stroke="#d0d0d0" stroke-width="1.6" fill="none"/><path d="M1433.6 312.4H2029.7L2052 290.4" stroke="#dcdcdc" stroke-width="1" fill="none"/>
<path d="M1436.39 309.65H2032.49" stroke="#8fb6dd" stroke-width="2.2" stroke-dasharray="1.6 1.4" fill="none"/>
<path d="M1441.96 304.15H2038.06" stroke="#e9a57c" stroke-width="2.2" stroke-dasharray="1.6 1.4" fill="none"/>
<path d="M1447.54 298.65H2043.64" stroke="#bcbcbc" stroke-width="2.2" stroke-dasharray="1.6 1.4" fill="none"/>
<path d="M1453.11 293.15H2049.21" stroke="#e6c766" stroke-width="2.2" stroke-dasharray="1.6 1.4" fill="none"/>
<rect x="1461.1" y="274" width="3.2" height="19.15" fill="#c99a0e"/>
<rect x="1474.1" y="209.7" width="3.2" height="83.45" fill="#c99a0e"/>
<rect x="1490.7" y="257.3" width="3.2" height="35.85" fill="#c99a0e"/>
<rect x="1496.4" y="251" width="3.2" height="42.15" fill="#c99a0e"/>
<rect x="1507.6" y="280.2" width="3.2" height="12.95" fill="#c99a0e"/>
<rect x="1566.8" y="255.6" width="3.2" height="37.55" fill="#c99a0e"/>
<rect x="1580.9" y="275" width="3.2" height="18.15" fill="#c99a0e"/>
<rect x="1585.9" y="244.3" width="3.2" height="48.85" fill="#c99a0e"/>
<rect x="1616.2" y="287.3" width="3.2" height="5.85" fill="#c99a0e"/>
<rect x="1765.7" y="219.6" width="3.2" height="73.55" fill="#c99a0e"/>
<rect x="1781.9" y="283.7" width="3.2" height="9.45" fill="#c99a0e"/>
<rect x="1785" y="281.3" width="3.2" height="11.85" fill="#c99a0e"/>
<rect x="1836.2" y="254.8" width="3.2" height="38.35" fill="#c99a0e"/>
<rect x="1906.6" y="284.8" width="3.2" height="8.35" fill="#c99a0e"/>
<rect x="1947.4" y="238" width="3.2" height="55.15" fill="#c99a0e"/>
<rect x="1974.7" y="230.2" width="3.2" height="62.95" fill="#c99a0e"/>
<rect x="1991.2" y="229.1" width="3.2" height="64.05" fill="#c99a0e"/>
<rect x="2002.2" y="284.8" width="3.2" height="8.35" fill="#c99a0e"/>
<rect x="2025.8" y="260.8" width="3.2" height="32.35" fill="#c99a0e"/>
<rect x="2028.6" y="275" width="3.2" height="18.15" fill="#c99a0e"/>
<rect x="1454.8" y="278.5" width="3.2" height="20.15" fill="#7f7f7f"/>
<rect x="1490" y="265" width="3.2" height="33.65" fill="#7f7f7f"/>
<rect x="1502.4" y="266" width="3.2" height="32.65" fill="#7f7f7f"/>
<rect x="1518.2" y="282" width="3.2" height="16.65" fill="#7f7f7f"/>
<rect x="1531.6" y="281" width="3.2" height="17.65" fill="#7f7f7f"/>
<rect x="1570" y="274.2" width="3.2" height="24.45" fill="#7f7f7f"/>
<rect x="1583.4" y="282" width="3.2" height="16.65" fill="#7f7f7f"/>
<rect x="1759.7" y="273.2" width="3.2" height="25.45" fill="#7f7f7f"/>
<rect x="1830.2" y="224.5" width="3.2" height="74.15" fill="#7f7f7f"/>
<rect x="1846.7" y="286.6" width="3.2" height="12.05" fill="#7f7f7f"/>
<rect x="1901.4" y="240.7" width="3.2" height="57.95" fill="#7f7f7f"/>
<rect x="1925.4" y="272.5" width="3.2" height="26.15" fill="#7f7f7f"/>
<rect x="1958.1" y="282" width="3.2" height="16.65" fill="#7f7f7f"/>
<rect x="1968.7" y="262.6" width="3.2" height="36.05" fill="#7f7f7f"/>
<rect x="1996.4" y="208" width="3.2" height="90.65" fill="#7f7f7f"/>
<rect x="1444.2" y="296" width="3.2" height="8.15" fill="#c55f1f"/>
<rect x="1479.4" y="223" width="3.2" height="81.15" fill="#c55f1f"/>
<rect x="1485.4" y="255.6" width="3.2" height="48.55" fill="#c55f1f"/>
<rect x="1493.4" y="284.8" width="3.2" height="19.35" fill="#c55f1f"/>
<rect x="1521" y="288.3" width="3.2" height="15.85" fill="#c55f1f"/>
<rect x="1542.2" y="262.6" width="3.2" height="41.55" fill="#c55f1f"/>
<rect x="1550.3" y="276.7" width="3.2" height="27.45" fill="#c55f1f"/>
<rect x="1553.4" y="266.8" width="3.2" height="37.35" fill="#c55f1f"/>
<rect x="1575.4" y="229" width="3.2" height="75.15" fill="#c55f1f"/>
<rect x="1732.4" y="299" width="3.2" height="5.15" fill="#c55f1f"/>
<rect x="1824.9" y="176.2" width="3.2" height="127.95" fill="#c55f1f"/>
<rect x="1841.4" y="281" width="3.2" height="23.15" fill="#c55f1f"/>
<rect x="1893.6" y="276" width="3.2" height="28.15" fill="#c55f1f"/>
<rect x="1896.1" y="199.2" width="3.2" height="104.95" fill="#c55f1f"/>
<rect x="1963.4" y="259" width="3.2" height="45.15" fill="#c55f1f"/>
<rect x="1979.3" y="256.3" width="3.2" height="47.85" fill="#c55f1f"/>
<rect x="1445.2" y="301" width="3.2" height="8.65" fill="#3b78b5"/>
<rect x="1458.4" y="264.4" width="3.2" height="45.25" fill="#3b78b5"/>
<rect x="1475.2" y="279.5" width="3.2" height="30.15" fill="#3b78b5"/>
<rect x="1480.4" y="275" width="3.2" height="34.65" fill="#3b78b5"/>
<rect x="1537.6" y="278.5" width="3.2" height="31.15" fill="#3b78b5"/>
<rect x="1564" y="269.6" width="3.2" height="40.05" fill="#3b78b5"/>
<rect x="1681.4" y="299" width="3.2" height="10.65" fill="#3b78b5"/>
<rect x="1789.6" y="302.4" width="3.2" height="7.25" fill="#3b78b5"/>
<rect x="1819.6" y="275" width="3.2" height="34.65" fill="#3b78b5"/>
<rect x="1857.6" y="294.3" width="3.2" height="15.35" fill="#3b78b5"/>
<rect x="1887.6" y="276" width="3.2" height="33.65" fill="#3b78b5"/>
<rect x="1914.7" y="269" width="3.2" height="40.65" fill="#3b78b5"/>
<rect x="1931.4" y="246" width="3.2" height="63.65" fill="#3b78b5"/>
<rect x="1987.7" y="249.6" width="3.2" height="60.05" fill="#3b78b5"/>
<rect x="2014.4" y="294.3" width="3.2" height="15.35" fill="#3b78b5"/>
<g font-family="Liberation Serif" font-size="10" fill="#7f7f7f"><text transform="matrix(0.87 0 0 1 1425.5 315.8)" text-anchor="end">0.0</text></g>
<g font-family="Liberation Serif" font-size="10" fill="#7f7f7f"><text transform="matrix(0.87 0 0 1 1425.5 299.57)" text-anchor="end">0.5</text></g>
<g font-family="Liberation Serif" font-size="10" fill="#7f7f7f"><text transform="matrix(0.87 0 0 1 1425.5 283.35)" text-anchor="end">1.0</text></g>
<g font-family="Liberation Serif" font-size="10" fill="#7f7f7f"><text transform="matrix(0.87 0 0 1 1425.5 267.12)" text-anchor="end">1.5</text></g>
<g font-family="Liberation Serif" font-size="10" fill="#7f7f7f"><text transform="matrix(0.87 0 0 1 1425.5 250.9)" text-anchor="end">2.0</text></g>
<g font-family="Liberation Serif" font-size="10" fill="#7f7f7f"><text transform="matrix(0.87 0 0 1 1425.5 234.67)" text-anchor="end">2.5</text></g>
<g font-family="Liberation Serif" font-size="10" fill="#7f7f7f"><text transform="matrix(0.87 0 0 1 1425.5 218.45)" text-anchor="end">3.0</text></g>
<g font-family="Liberation Serif" font-size="10" fill="#7f7f7f"><text transform="matrix(0.87 0 0 1 1425.5 202.22)" text-anchor="end">3.5</text></g>
<g font-family="Liberation Serif" font-size="10" fill="#7f7f7f"><text transform="matrix(0.87 0 0 1 1425.5 186)" text-anchor="end">4.0</text></g>
<g font-family="Liberation Serif" font-size="12" fill="#7f7f7f"><text transform="matrix(0 -0.87 1 0 1401.5 251.5)" text-anchor="middle">%USAGE</text></g>
<g font-family="Liberation Serif" font-size="8.9" fill="#8a8a8a" text-anchor="end"><text transform="matrix(0 -0.84 1 0 1440.3 316)">IGHV1-4</text><text transform="matrix(0 -0.84 1 0 1451.17 316)">IGHV1-11</text><text transform="matrix(0 -0.84 1 0 1462.04 316)">IGHV1-18</text><text transform="matrix(0 -0.84 1 0 1472.91 316)">IGHV1-23</text><text transform="matrix(0 -0.84 1 0 1483.78 316)">IGHV1-34</text><text transform="matrix(0 -0.84 1 0 1494.65 316)">IGHV1-42</text><text transform="matrix(0 -0.84 1 0 1505.52 316)">IGHV1-50</text><text transform="matrix(0 -0.84 1 0 1516.39 316)">IGHV1-55</text><text transform="matrix(0 -0.84 1 0 1527.26 316)">IGHV1-61</text><text transform="matrix(0 -0.84 1 0 1538.13 316)">IGHV1-63</text><text transform="matrix(0 -0.84 1 0 1549 316)">IGHV1-69</text><text transform="matrix(0 -0.84 1 0 1559.87 316)">IGHV1-75</text><text transform="matrix(0 -0.84 1 0 1570.74 316)">IGHV1-80</text><text transform="matrix(0 -0.84 1 0 1581.61 316)">IGHV1-85</text><text transform="matrix(0 -0.84 1 0 1592.48 316)">IGHV1S14</text><text transform="matrix(0 -0.84 1 0 1603.35 316)">IGHV1S26</text><text transform="matrix(0 -0.84 1 0 1614.22 316)">IGHV1S33</text><text transform="matrix(0 -0.84 1 0 1625.09 316)">IGHV1S37</text><text transform="matrix(0 -0.84 1 0 1635.96 316)">IGHV1S45</text><text transform="matrix(0 -0.84 1 0 1646.83 316)">IGHV1S50</text><text transform="matrix(0 -0.84 1 0 1657.7 316)">IGHV1S56</text><text transform="matrix(0 -0.84 1 0 1668.57 316)">IGHV1S68</text><text transform="matrix(0 -0.84 1 0 1679.44 316)">IGHV1S75</text><text transform="matrix(0 -0.84 1 0 1690.31 316)">IGHV1S83</text><text transform="matrix(0 -0.84 1 0 1701.18 316)">IGHV1S96</text><text transform="matrix(0 -0.84 1 0 1712.05 316)">IGHV1S108</text><text transform="matrix(0 -0.84 1 0 1722.92 316)">IGHV1S120</text><text transform="matrix(0 -0.84 1 0 1733.79 316)">IGHV1S127</text><text transform="matrix(0 -0.84 1 0 1744.66 316)">IGHV1S135</text><text transform="matrix(0 -0.84 1 0 1755.53 316)">IGHV2-2-2</text><text transform="matrix(0 -0.84 1 0 1766.4 316)">IGHV2-4-1</text><text transform="matrix(0 -0.84 1 0 1777.27 316)">IGHV2-6-1</text><text transform="matrix(0 -0.84 1 0 1788.14 316)">IGHV2-6-5</text><text transform="matrix(0 -0.84 1 0 1799.01 316)">IGHV2-7</text><text transform="matrix(0 -0.84 1 0 1809.88 316)">IGHV2S3</text><text transform="matrix(0 -0.84 1 0 1820.75 316)">IGHV3-5</text><text transform="matrix(0 -0.84 1 0 1831.62 316)">IGHV3S7</text><text transform="matrix(0 -0.84 1 0 1842.49 316)">IGHV5-6</text><text transform="matrix(0 -0.84 1 0 1853.36 316)">IGHV5-6-4</text><text transform="matrix(0 -0.84 1 0 1864.23 316)">IGHV5-9-1</text><text transform="matrix(0 -0.84 1 0 1875.1 316)">IGHV5-9-5</text><text transform="matrix(0 -0.84 1 0 1885.97 316)">IGHV5-12-4</text><text transform="matrix(0 -0.84 1 0 1896.84 316)">IGHV5S4</text><text transform="matrix(0 -0.84 1 0 1907.71 316)">IGHV5S24</text><text transform="matrix(0 -0.84 1 0 1918.58 316)">IGHV6-6</text><text transform="matrix(0 -0.84 1 0 1929.45 316)">IGHV6S4</text><text transform="matrix(0 -0.84 1 0 1940.32 316)">IGHV8-2</text><text transform="matrix(0 -0.84 1 0 1951.19 316)">IGHV8-8</text><text transform="matrix(0 -0.84 1 0 1962.06 316)">IGHV8-12</text><text transform="matrix(0 -0.84 1 0 1972.93 316)">IGHV9-2-1</text><text transform="matrix(0 -0.84 1 0 1983.8 316)">IGHV9S7</text><text transform="matrix(0 -0.84 1 0 1994.67 316)">IGHV10S3</text><text transform="matrix(0 -0.84 1 0 2005.54 316)">IGHV12-1-1</text><text transform="matrix(0 -0.84 1 0 2016.41 316)">IGHV14-1</text><text transform="matrix(0 -0.84 1 0 2027.28 316)">IGHV14S4</text></g>
<text x="2038.49" y="312.65" font-family="Liberation Serif" font-size="7.5" fill="#8a8a8a">IGHJ1</text>
<text x="2044.06" y="307.15" font-family="Liberation Serif" font-size="7.5" fill="#8a8a8a">IGHJ2</text>
<text x="2049.64" y="301.65" font-family="Liberation Serif" font-size="7.5" fill="#8a8a8a">IGHJ3</text>
<text x="2055.21" y="296.15" font-family="Liberation Serif" font-size="7.5" fill="#8a8a8a">IGHJ4</text>
<rect x="1387" y="425.5" width="712" height="22" fill="#fff"/>
<path d="M1422 428V446.5" stroke="#c8c8c8" stroke-width="1"/>
<path d="M1529.7 428V446.5" stroke="#c8c8c8" stroke-width="1"/>
<path d="M1637.2 428V446.5" stroke="#c8c8c8" stroke-width="1"/>
<path d="M1744.7 428V446.5" stroke="#c8c8c8" stroke-width="1"/>
<path d="M1950.5 428V446.5" stroke="#c8c8c8" stroke-width="1"/>
<path d="M2002 428V446.5" stroke="#c8c8c8" stroke-width="1"/>
<path d="M2053.8 428V446.5" stroke="#c8c8c8" stroke-width="1"/>
<rect x="1387" y="447.4" width="712" height="19.7" fill="#e6b8b7"/>
<g font-family="Liberation Serif" font-size="16.8" fill="#222"><text transform="matrix(0.87 0 0 1 1756 462.8)" text-anchor="middle">IGH Ranking Top1-10</text></g>
<rect x="1387" y="467.1" width="712" height="20.7" fill="#d9d9d9"/>
<g font-family="Liberation Serif" font-size="11" fill="#222"><text transform="matrix(0.87 0 0 1 1402.4 482.8)" text-anchor="middle">Rank</text></g>
<g font-family="Liberation Serif" font-size="13.8" fill="#222"><text transform="matrix(0.87 0 0 1 1478.9 482.8)" text-anchor="middle">IGHV</text></g>
<g font-family="Liberation Serif" font-size="13.8" fill="#222"><text transform="matrix(0.87 0 0 1 1586 482.8)" text-anchor="middle">IGHD</text></g>
<g font-family="Liberation Serif" font-size="13.8" fill="#222"><text transform="matrix(0.87 0 0 1 1692.5 482.8)" text-anchor="middle">IGHJ</text></g>
<g font-family="Liberation Serif" font-size="13.8" fill="#222"><text transform="matrix(0.87 0 0 1 1845.5 482.8)" text-anchor="middle">CDR3</text></g>
<g font-family="Liberation Serif" font-size="13.8" fill="#222"><text transform="matrix(0.87 0 0 1 1972 482.8)" text-anchor="middle">IGHC</text></g>
<g font-family="Liberation Serif" font-size="13.8" fill="#222"><text transform="matrix(0.87 0 0 1 2022.8 482.8)" text-anchor="middle">Reads</text></g>
<g font-family="Liberation Serif" font-size="13.8" fill="#222"><text transform="matrix(0.87 0 0 1 2073.6 482.8)" text-anchor="middle">%Reads</text></g>
<path d="M1422 489V505.9" stroke="#d6d6d6" stroke-width="1"/>
<path d="M1529.7 489V505.9" stroke="#d6d6d6" stroke-width="1"/>
<path d="M1637.2 489V505.9" stroke="#d6d6d6" stroke-width="1"/>
<path d="M1744.7 489V505.9" stroke="#d6d6d6" stroke-width="1"/>
<path d="M1950.5 489V505.9" stroke="#d6d6d6" stroke-width="1"/>
<path d="M2002 489V505.9" stroke="#d6d6d6" stroke-width="1"/>
<path d="M2053.8 489V505.9" stroke="#d6d6d6" stroke-width="1"/>
<rect x="1387" y="506.9" width="712" height="18.6" fill="#f2dcdb"/>
<path d="M1422 526.5V543.1" stroke="#d6d6d6" stroke-width="1"/>
<path d="M1529.7 526.5V543.1" stroke="#d6d6d6" stroke-width="1"/>
<path d="M1637.2 526.5V543.1" stroke="#d6d6d6" stroke-width="1"/>
<path d="M1744.7 526.5V543.1" stroke="#d6d6d6" stroke-width="1"/>
<path d="M1950.5 526.5V543.1" stroke="#d6d6d6" stroke-width="1"/>
<path d="M2002 526.5V543.1" stroke="#d6d6d6" stroke-width="1"/>
<path d="M2053.8 526.5V543.1" stroke="#d6d6d6" stroke-width="1"/>
<rect x="1387" y="544.1" width="712" height="18.9" fill="#f2dcdb"/>
<path d="M1422 564V580.9" stroke="#d6d6d6" stroke-width="1"/>
<path d="M1529.7 564V580.9" stroke="#d6d6d6" stroke-width="1"/>
<path d="M1637.2 564V580.9" stroke="#d6d6d6" stroke-width="1"/>
<path d="M1744.7 564V580.9" stroke="#d6d6d6" stroke-width="1"/>
<path d="M1950.5 564V580.9" stroke="#d6d6d6" stroke-width="1"/>
<path d="M2002 564V580.9" stroke="#d6d6d6" stroke-width="1"/>
<path d="M2053.8 564V580.9" stroke="#d6d6d6" stroke-width="1"/>
<rect x="1387" y="581.9" width="712" height="19.3" fill="#f2dcdb"/>
<path d="M1422 602.2V619.7" stroke="#d6d6d6" stroke-width="1"/>
<path d="M1529.7 602.2V619.7" stroke="#d6d6d6" stroke-width="1"/>
<path d="M1637.2 602.2V619.7" stroke="#d6d6d6" stroke-width="1"/>
<path d="M1744.7 602.2V619.7" stroke="#d6d6d6" stroke-width="1"/>
<path d="M1950.5 602.2V619.7" stroke="#d6d6d6" stroke-width="1"/>
<path d="M2002 602.2V619.7" stroke="#d6d6d6" stroke-width="1"/>
<path d="M2053.8 602.2V619.7" stroke="#d6d6d6" stroke-width="1"/>
<rect x="1387" y="620.7" width="712" height="19.8" fill="#f2dcdb"/>
<path d="M1422 641.5V659.2" stroke="#d6d6d6" stroke-width="1"/>
<path d="M1529.7 641.5V659.2" stroke="#d6d6d6" stroke-width="1"/>
<path d="M1637.2 641.5V659.2" stroke="#d6d6d6" stroke-width="1"/>
<path d="M1744.7 641.5V659.2" stroke="#d6d6d6" stroke-width="1"/>
<path d="M1950.5 641.5V659.2" stroke="#d6d6d6" stroke-width="1"/>
<path d="M2002 641.5V659.2" stroke="#d6d6d6" stroke-width="1"/>
<path d="M2053.8 641.5V659.2" stroke="#d6d6d6" stroke-width="1"/>
<rect x="1387" y="660.2" width="712" height="21.4" fill="#f2dcdb"/>
<g font-family="Liberation Serif" font-size="12.1" fill="#1a1a1a"><text transform="matrix(0.87 0 0 1 1404.3 503.1)" text-anchor="middle">1</text><text transform="matrix(0.87 0 0 1 1425.4 503.1)">IGHV1-81</text><text transform="matrix(0.87 0 0 1 1533.1 503.1)">IGHD-FL16.1</text><text transform="matrix(0.87 0 0 1 1640.6 503.1)">IGHJ2</text><text transform="matrix(0.87 0 0 1 1748.1 503.1)">CARRFITTVVVPDYW</text><text transform="matrix(0.87 0 0 1 1956.9 503.1)">IGHA</text><text transform="matrix(0.87 0 0 1 2039.8 503.1)" text-anchor="end">3,122</text><text transform="matrix(0.87 0 0 1 2072.9 503.1)" text-anchor="middle">2.10</text><text transform="matrix(0.87 0 0 1 1404.3 522)" text-anchor="middle">2</text><text transform="matrix(0.87 0 0 1 1425.4 522)">IGHV7-3</text><text transform="matrix(0.87 0 0 1 1533.1 522)">x</text><text transform="matrix(0.87 0 0 1 1640.6 522)">IGHJ1</text><text transform="matrix(0.87 0 0 1 1748.1 522)">CARYSDWDDWYFDVW</text><text transform="matrix(0.87 0 0 1 1956.9 522)">IGHA</text><text transform="matrix(0.87 0 0 1 2039.8 522)" text-anchor="end">2,744</text><text transform="matrix(0.87 0 0 1 2072.9 522)" text-anchor="middle">1.84</text><text transform="matrix(0.87 0 0 1 1404.3 540.6)" text-anchor="middle">3</text><text transform="matrix(0.87 0 0 1 1425.4 540.6)">IGHV7-3</text><text transform="matrix(0.87 0 0 1 1533.1 540.6)">x</text><text transform="matrix(0.87 0 0 1 1640.6 540.6)">IGHJ4</text><text transform="matrix(0.87 0 0 1 1748.1 540.6)">CARYYGNYYAMDYW</text><text transform="matrix(0.87 0 0 1 1956.9 540.6)">IGHA</text><text transform="matrix(0.87 0 0 1 2039.8 540.6)" text-anchor="end">2,391</text><text transform="matrix(0.87 0 0 1 2072.9 540.6)" text-anchor="middle">1.61</text><text transform="matrix(0.87 0 0 1 1404.3 559.2)" text-anchor="middle">4</text><text transform="matrix(0.87 0 0 1 1425.4 559.2)">IGHV9-4</text><text transform="matrix(0.87 0 0 1 1533.1 559.2)">x</text><text transform="matrix(0.87 0 0 1 1640.6 559.2)">IGHJ3</text><text transform="matrix(0.87 0 0 1 1748.1 559.2)">CARGENYDGRFAYW</text><text transform="matrix(0.87 0 0 1 1956.9 559.2)">IGHA</text><text transform="matrix(0.87 0 0 1 2039.8 559.2)" text-anchor="end">2,159</text><text transform="matrix(0.87 0 0 1 2072.9 559.2)" text-anchor="middle">1.45</text><text transform="matrix(0.87 0 0 1 1404.3 578.1)" text-anchor="middle">5</text><text transform="matrix(0.87 0 0 1 1425.4 578.1)">IGHV5-17</text><text transform="matrix(0.87 0 0 1 1533.1 578.1)">IGHD-FL16.1</text><text transform="matrix(0.87 0 0 1 1640.6 578.1)">IGHJ2</text><text transform="matrix(0.87 0 0 1 1748.1 578.1)">CARGHYGSSYPYYFDYW</text><text transform="matrix(0.87 0 0 1 1956.9 578.1)">IGHA</text><text transform="matrix(0.87 0 0 1 2039.8 578.1)" text-anchor="end">2,113</text><text transform="matrix(0.87 0 0 1 2072.9 578.1)" text-anchor="middle">1.42</text><text transform="matrix(0.87 0 0 1 1404.3 597)" text-anchor="middle">6</text><text transform="matrix(0.87 0 0 1 1425.4 597)">IGHV5-17</text><text transform="matrix(0.87 0 0 1 1533.1 597)">x</text><text transform="matrix(0.87 0 0 1 1640.6 597)">IGHJ3</text><text transform="matrix(0.87 0 0 1 1748.1 597)">CARDAYDPSWFAYW</text><text transform="matrix(0.87 0 0 1 1956.9 597)">IGHA</text><text transform="matrix(0.87 0 0 1 2039.8 597)" text-anchor="end">2,086</text><text transform="matrix(0.87 0 0 1 2072.9 597)" text-anchor="middle">1.40</text><text transform="matrix(0.87 0 0 1 1404.3 616.3)" text-anchor="middle">7</text><text transform="matrix(0.87 0 0 1 1425.4 616.3)">IGHV10-3</text><text transform="matrix(0.87 0 0 1 1533.1 616.3)">IGHD-SP2.9</text><text transform="matrix(0.87 0 0 1 1640.6 616.3)">IGHJ1</text><text transform="matrix(0.87 0 0 1 1748.1 616.3)">CVLDGYYWYFDVW</text><text transform="matrix(0.87 0 0 1 1956.9 616.3)">IGHA</text><text transform="matrix(0.87 0 0 1 2039.8 616.3)" text-anchor="end">2,065</text><text transform="matrix(0.87 0 0 1 2072.9 616.3)" text-anchor="middle">1.39</text><text transform="matrix(0.87 0 0 1 1404.3 635.8)" text-anchor="middle">8</text><text transform="matrix(0.87 0 0 1 1425.4 635.8)">IGHV3-6</text><text transform="matrix(0.87 0 0 1 1533.1 635.8)">IGHD-FL16.1</text><text transform="matrix(0.87 0 0 1 1640.6 635.8)">IGHJ2</text><text transform="matrix(0.87 0 0 1 1748.1 635.8)">CARRSYYYGRSYHFDYW</text><text transform="matrix(0.87 0 0 1 1956.9 635.8)">IGHA</text><text transform="matrix(0.87 0 0 1 2039.8 635.8)" text-anchor="end">1,849</text><text transform="matrix(0.87 0 0 1 2072.9 635.8)" text-anchor="middle">1.24</text><text transform="matrix(0.87 0 0 1 1404.3 655.6)" text-anchor="middle">9</text><text transform="matrix(0.87 0 0 1 1425.4 655.6)">IGHV9-3-1,IGHV9-3</text><text transform="matrix(0.87 0 0 1 1533.1 655.6)">IGHD-SP2.x</text><text transform="matrix(0.87 0 0 1 1640.6 655.6)">IGHJ2</text><text transform="matrix(0.87 0 0 1 1748.1 655.6)">CASYYSNYKGVFFEYW</text><text transform="matrix(0.87 0 0 1 1956.9 655.6)">IGHA</text><text transform="matrix(0.87 0 0 1 2039.8 655.6)" text-anchor="end">1,798</text><text transform="matrix(0.87 0 0 1 2072.9 655.6)" text-anchor="middle">1.21</text><text transform="matrix(0.87 0 0 1 1404.3 675.3)" text-anchor="middle">10</text><text transform="matrix(0.87 0 0 1 1425.4 675.3)">IGHV2-2</text><text transform="matrix(0.87 0 0 1 1533.1 675.3)">x</text><text transform="matrix(0.87 0 0 1 1640.6 675.3)">IGHJ4</text><text transform="matrix(0.87 0 0 1 1748.1 675.3)">CARNKPAMDYW</text><text transform="matrix(0.87 0 0 1 1956.9 675.3)">IGHA</text><text transform="matrix(0.87 0 0 1 2039.8 675.3)" text-anchor="end">1,776</text><text transform="matrix(0.87 0 0 1 2072.9 675.3)" text-anchor="middle">1.19</text></g>
<path d="M1387 447.4H2099M1387 467.1H2099M1387 487.8H2099M1387 681.9H2099" stroke="#333" stroke-width="1.6"/>
<path d="M1387 425.5V682.6M2099 425.5V682.6" stroke="#333" stroke-width="1.6"/>
<text x="1" y="751.5" font-size="36" font-weight="bold">c</text>
<path d="M150.4 774.8L150.4 1128.6" stroke="#000" stroke-width="2.4" />
<path d="M141.2 776L150.4 776" stroke="#000" stroke-width="2.4" />
<text x="135" y="785.4" text-anchor="end">150</text>
<path d="M141.2 893.2L150.4 893.2" stroke="#000" stroke-width="2.4" />
<text x="135" y="902.6" text-anchor="end">100</text>
<path d="M141.2 1010.1L150.4 1010.1" stroke="#000" stroke-width="2.4" />
<text x="135" y="1019.5" text-anchor="end">50</text>
<path d="M141.2 1127.4L150.4 1127.4" stroke="#000" stroke-width="2.4" />
<text x="135" y="1136.8" text-anchor="end">0</text>
<path d="M149.2 1127.4L320.7 1127.4" stroke="#000" stroke-width="2.4" />
<path d="M178 1127.4L178 1137.9" stroke="#000" stroke-width="2.4" />
<path d="M235.7 1127.4L235.7 1137.9" stroke="#000" stroke-width="2.4" />
<path d="M293.1 1127.4L293.1 1137.9" stroke="#000" stroke-width="2.4" />
<text x="76" y="946" font-size="28.8" text-anchor="middle" transform="rotate(-90 76 946)">ALT (U/L)</text>
<path d="M159.6 902.4L196.4 902.4" stroke="#000" stroke-width="2.4" />
<path d="M216.8 979.4L254.1 979.4" stroke="#000" stroke-width="2.4" />
<path d="M274 996.8L311.1 996.8" stroke="#000" stroke-width="2.4" />
<path d="M178.5 864.3L183.5 873.4L173.5 873.4Z" fill="none" stroke="#7a7a7a" stroke-width="2.3"/>
<path d="M178.5 880.8L183.5 889.9L173.5 889.9Z" fill="none" stroke="#7a7a7a" stroke-width="2.3"/>
<path d="M178.5 899.3L183.5 908.4L173.5 908.4Z" fill="none" stroke="#7a7a7a" stroke-width="2.3"/>
<path d="M178.5 962.5L183.5 971.6L173.5 971.6Z" fill="none" stroke="#7a7a7a" stroke-width="2.3"/>
<path d="M178.5 1028.1L183.5 1037.2L173.5 1037.2Z" fill="none" stroke="#7a7a7a" stroke-width="2.3"/>
<circle cx="227.6" cy="961.6" r="5.4" fill="none" stroke="#3251a3" stroke-width="2.3"/>
<circle cx="243.5" cy="954.6" r="5.4" fill="none" stroke="#3251a3" stroke-width="2.3"/>
<circle cx="235.5" cy="996.8" r="5.4" fill="none" stroke="#3251a3" stroke-width="2.3"/>
<circle cx="235.7" cy="1046" r="5.4" fill="none" stroke="#3251a3" stroke-width="2.3"/>
<path d="M292.5 949.6l5.1 5.1l-5.1 5.1l-5.1 -5.1Z" fill="none" stroke="#7a7a7a" stroke-width="2.3"/>
<path d="M284.7 965.9l5.1 5.1l-5.1 5.1l-5.1 -5.1Z" fill="none" stroke="#7a7a7a" stroke-width="2.3"/>
<path d="M300.5 980.1l5.1 5.1l-5.1 5.1l-5.1 -5.1Z" fill="none" stroke="#7a7a7a" stroke-width="2.3"/>
<path d="M281.5 989.6l5.1 5.1l-5.1 5.1l-5.1 -5.1Z" fill="none" stroke="#7a7a7a" stroke-width="2.3"/>
<path d="M303.9 994l5.1 5.1l-5.1 5.1l-5.1 -5.1Z" fill="none" stroke="#7a7a7a" stroke-width="2.3"/>
<path d="M292.5 1003.5l5.1 5.1l-5.1 5.1l-5.1 -5.1Z" fill="none" stroke="#7a7a7a" stroke-width="2.3"/>
<path d="M293.1 1077.8l5.1 5.1l-5.1 5.1l-5.1 -5.1Z" fill="none" stroke="#7a7a7a" stroke-width="2.3"/>
<path d="M293.1 1101.4l5.1 5.1l-5.1 5.1l-5.1 -5.1Z" fill="none" stroke="#7a7a7a" stroke-width="2.3"/>
<path d="M178 788.2V755.4H293.1V929.4" stroke="#000" stroke-width="2.4" fill="none" stroke-linejoin="miter"/>
<path d="M178 842.5V815.8H235.7V929" stroke="#000" stroke-width="2.4" fill="none" stroke-linejoin="miter"/>
<text x="237" y="748.3" font-size="23.5" text-anchor="middle">0.065</text>
<text x="206.3" y="808.2" font-size="23.5" text-anchor="middle">NS</text>
<path d="M156.5 1155L199.5 1155" stroke="#2a2a2a" stroke-width="2.3" />
<path d="M214.2 1155L257.8 1155" stroke="#2f3e95" stroke-width="2.3" />
<path d="M271.6 1155L315.2 1155" stroke="#111" stroke-width="2.3" />
<text x="179.2" y="1188.8" font-size="23.5" text-anchor="middle">WT</text>
<text x="238.7" y="1188.8" font-size="23.5" text-anchor="middle" fill="#2f3e95"><tspan font-style="italic">Iga</tspan><tspan font-size="13" dy="-7">-/-</tspan></text>
<text x="298.6" y="1188.8" font-size="23.5" text-anchor="middle"><tspan font-style="italic">Cd8a</tspan><tspan font-size="13" dy="-7">-/-</tspan></text>
<text x="101.3" y="1228.3" font-size="23.5">HFD</text>
<text x="179.2" y="1228.3" font-size="23.5" text-anchor="middle">+</text>
<text x="236.9" y="1228.3" font-size="23.5" text-anchor="middle">+</text>
<text x="294.3" y="1228.3" font-size="23.5" text-anchor="middle">+</text>
<text x="361" y="751.5" font-size="36" font-weight="bold">d</text>
<path d="M492.7 737L492.7 1128.6" stroke="#000" stroke-width="2.4" />
<path d="M483.5 738.2L492.7 738.2" stroke="#000" stroke-width="2.4" />
<text x="478" y="747.6" text-anchor="end">2.5</text>
<path d="M483.5 816.5L492.7 816.5" stroke="#000" stroke-width="2.4" />
<text x="478" y="825.9" text-anchor="end">2.0</text>
<path d="M483.5 894.1L492.7 894.1" stroke="#000" stroke-width="2.4" />
<text x="478" y="903.5" text-anchor="end">1.5</text>
<path d="M483.5 971.8L492.7 971.8" stroke="#000" stroke-width="2.4" />
<text x="478" y="981.2" text-anchor="end">1.0</text>
<path d="M483.5 1049.7L492.7 1049.7" stroke="#000" stroke-width="2.4" />
<text x="478" y="1059.1" text-anchor="end">0.5</text>
<path d="M483.5 1127.4L492.7 1127.4" stroke="#000" stroke-width="2.4" />
<text x="478" y="1136.8" text-anchor="end">0.0</text>
<path d="M491.5 1127.4L680.9 1127.4" stroke="#000" stroke-width="2.4" />
<path d="M523.4 1127.4L523.4 1137.9" stroke="#000" stroke-width="2.4" />
<path d="M586.3 1127.4L586.3 1137.9" stroke="#000" stroke-width="2.4" />
<path d="M649.9 1127.4L649.9 1137.9" stroke="#000" stroke-width="2.4" />
<text x="423" y="935.3" font-size="28.8" text-anchor="middle" transform="rotate(-90 423 935.3)">SR<tspan font-size="16" dy="-11">+</tspan><tspan dy="11"> Area (%)</tspan></text>
<path d="M503.7 1127.4V1021.8H542.8V1127.4" fill="none" stroke="#6e6e6e" stroke-width="2.4"/>
<path d="M566.1 1127.4V1008.9H606.6V1127.4" fill="none" stroke="#3251a3" stroke-width="2.4"/>
<path d="M630.5 1127.4V929.1H669.5V1127.4" fill="none" stroke="#000" stroke-width="2.4"/>
<path d="M523.4 1004.6L523.4 1037.4" stroke="#6e6e6e" stroke-width="2.4" />
<path d="M513.1 1004.6L533.7 1004.6" stroke="#6e6e6e" stroke-width="2.4" />
<path d="M513.1 1037.4L533.7 1037.4" stroke="#6e6e6e" stroke-width="2.4" />
<path d="M586.3 1000.9L586.3 1013.2" stroke="#3251a3" stroke-width="2.4" />
<path d="M576 1000.9L596.6 1000.9" stroke="#3251a3" stroke-width="2.4" />
<path d="M576 1013.2L596.6 1013.2" stroke="#3251a3" stroke-width="2.4" />
<path d="M649.9 909.5L649.9 947.8" stroke="#000" stroke-width="2.4" />
<path d="M639.6 909.5L660.2 909.5" stroke="#000" stroke-width="2.4" />
<path d="M639.6 947.8L660.2 947.8" stroke="#000" stroke-width="2.4" />
<path d="M523.4 984.6L528.4 993.7L518.4 993.7Z" fill="none" stroke="#7a7a7a" stroke-width="2.3"/>
<path d="M523.4 1022.9L528.4 1032L518.4 1032Z" fill="none" stroke="#7a7a7a" stroke-width="2.3"/>
<path d="M523.4 1042L528.4 1051.1L518.4 1051.1Z" fill="none" stroke="#7a7a7a" stroke-width="2.3"/>
<circle cx="587" cy="989.3" r="5.4" fill="none" stroke="#3251a3" stroke-width="2.3"/>
<circle cx="575.6" cy="1004.6" r="5.4" fill="none" stroke="#3251a3" stroke-width="2.3"/>
<circle cx="587.9" cy="1017.8" r="5.4" fill="none" stroke="#3251a3" stroke-width="2.3"/>
<circle cx="598" cy="1016.9" r="5.4" fill="none" stroke="#3251a3" stroke-width="2.3"/>
<path d="M649.9 826.1l5.1 5.1l-5.1 5.1l-5.1 -5.1Z" fill="none" stroke="#7a7a7a" stroke-width="2.3"/>
<path d="M649.9 870l5.1 5.1l-5.1 5.1l-5.1 -5.1Z" fill="none" stroke="#7a7a7a" stroke-width="2.3"/>
<path d="M649.9 895.2l5.1 5.1l-5.1 5.1l-5.1 -5.1Z" fill="none" stroke="#7a7a7a" stroke-width="2.3"/>
<path d="M649.9 924.3l5.1 5.1l-5.1 5.1l-5.1 -5.1Z" fill="none" stroke="#7a7a7a" stroke-width="2.3"/>
<path d="M662.5 955l5.1 5.1l-5.1 5.1l-5.1 -5.1Z" fill="none" stroke="#7a7a7a" stroke-width="2.3"/>
<path d="M637.6 962.7l5.1 5.1l-5.1 5.1l-5.1 -5.1Z" fill="none" stroke="#7a7a7a" stroke-width="2.3"/>
<path d="M649.9 966.7l5.1 5.1l-5.1 5.1l-5.1 -5.1Z" fill="none" stroke="#7a7a7a" stroke-width="2.3"/>
<path d="M649.9 987.2l5.1 5.1l-5.1 5.1l-5.1 -5.1Z" fill="none" stroke="#7a7a7a" stroke-width="2.3"/>
<path d="M523.4 789.8V774.4H649.9V814.3" stroke="#000" stroke-width="2.4" fill="none" stroke-linejoin="miter"/>
<path d="M523.4 978.5V878.8H587V978.5" stroke="#000" stroke-width="2.4" fill="none" stroke-linejoin="miter"/>
<text x="583.3" y="779.3" font-size="30" text-anchor="middle" letter-spacing="1.3">*</text>
<text x="554.1" y="871.1" font-size="23.5" text-anchor="middle">NS</text>
<path d="M500.4 1155L544 1155" stroke="#2a2a2a" stroke-width="2.3" />
<path d="M562.7 1155L606.3 1155" stroke="#2f3e95" stroke-width="2.3" />
<path d="M627.8 1155L671.7 1155" stroke="#111" stroke-width="2.3" />
<text x="524.6" y="1188.8" font-size="23.5" text-anchor="middle">WT</text>
<text x="589.3" y="1188.8" font-size="23.5" text-anchor="middle" fill="#2f3e95"><tspan font-style="italic">Iga</tspan><tspan font-size="13" dy="-7">-/-</tspan></text>
<text x="655.4" y="1188.8" font-size="23.5" text-anchor="middle"><tspan font-style="italic">Cd8a</tspan><tspan font-size="13" dy="-7">-/-</tspan></text>
<text x="446.7" y="1228.3" font-size="23.5">HFD</text>
<text x="524.6" y="1228.3" font-size="23.5" text-anchor="middle">+</text>
<text x="587.5" y="1228.3" font-size="23.5" text-anchor="middle">+</text>
<text x="651.1" y="1228.3" font-size="23.5" text-anchor="middle">+</text>
<text x="695" y="751.5" font-size="36" font-weight="bold">e</text>
<path d="M812.8 753.3L812.8 1126.4" stroke="#000" stroke-width="2.4" />
<path d="M803.5 754.5L812.8 754.5" stroke="#000" stroke-width="2.4" />
<text x="795" y="763.9" text-anchor="end">25</text>
<path d="M803.5 828.1L812.8 828.1" stroke="#000" stroke-width="2.4" />
<text x="795" y="837.5" text-anchor="end">20</text>
<path d="M803.5 902.7L812.8 902.7" stroke="#000" stroke-width="2.4" />
<text x="795" y="912.1" text-anchor="end">15</text>
<path d="M803.5 977L812.8 977" stroke="#000" stroke-width="2.4" />
<text x="795" y="986.4" text-anchor="end">10</text>
<path d="M803.5 1051.3L812.8 1051.3" stroke="#000" stroke-width="2.4" />
<text x="795" y="1060.7" text-anchor="end">5</text>
<path d="M803.5 1125.2L812.8 1125.2" stroke="#000" stroke-width="2.4" />
<text x="795" y="1134.6" text-anchor="end">0</text>
<path d="M811.6 1125.2L993.9 1125.2" stroke="#000" stroke-width="2.4" />
<path d="M842.5 1125.2L842.5 1135.7" stroke="#000" stroke-width="2.4" />
<path d="M902.7 1125.2L902.7 1135.7" stroke="#000" stroke-width="2.4" />
<path d="M963.2 1125.2L963.2 1135.7" stroke="#000" stroke-width="2.4" />
<text x="754" y="933.5" font-size="28.8" text-anchor="middle" transform="rotate(-90 754 933.5)">ORO<tspan font-size="16" dy="-11">+</tspan><tspan dy="11"> Area (%)</tspan></text>
<path d="M823.8 1125.2V861.6H861.3V1125.2" fill="none" stroke="#6e6e6e" stroke-width="2.4"/>
<path d="M884 1125.2V905.1H921.5V1125.2" fill="none" stroke="#3251a3" stroke-width="2.4"/>
<path d="M944.4 1125.2V1092.4H981.9V1125.2" fill="none" stroke="#000" stroke-width="2.4"/>
<path d="M842.5 818.9L842.5 901.8" stroke="#6e6e6e" stroke-width="2.4" />
<path d="M832.2 818.9L852.8 818.9" stroke="#6e6e6e" stroke-width="2.4" />
<path d="M832.2 901.8L852.8 901.8" stroke="#6e6e6e" stroke-width="2.4" />
<path d="M902.7 855.7L902.7 951.5" stroke="#3251a3" stroke-width="2.4" />
<path d="M892.4 855.7L913 855.7" stroke="#3251a3" stroke-width="2.4" />
<path d="M892.4 951.5L913 951.5" stroke="#3251a3" stroke-width="2.4" />
<path d="M963.2 1076.7L963.2 1106.5" stroke="#000" stroke-width="2.4" />
<path d="M952.9 1076.7L973.5 1076.7" stroke="#000" stroke-width="2.4" />
<path d="M952.9 1106.5L973.5 1106.5" stroke="#000" stroke-width="2.4" />
<path d="M842.5 795.2L847.5 804.3L837.5 804.3Z" fill="none" stroke="#7a7a7a" stroke-width="2.3"/>
<path d="M842.5 837.8L847.5 846.9L837.5 846.9Z" fill="none" stroke="#7a7a7a" stroke-width="2.3"/>
<path d="M842.5 937L847.5 946.1L837.5 946.1Z" fill="none" stroke="#7a7a7a" stroke-width="2.3"/>
<circle cx="902.7" cy="808.8" r="5.4" fill="none" stroke="#3251a3" stroke-width="2.3"/>
<circle cx="911.6" cy="943.8" r="5.4" fill="none" stroke="#3251a3" stroke-width="2.3"/>
<circle cx="894.7" cy="959.5" r="5.4" fill="none" stroke="#3251a3" stroke-width="2.3"/>
<path d="M963.2 1017.9l5.1 5.1l-5.1 5.1l-5.1 -5.1Z" fill="none" stroke="#7a7a7a" stroke-width="2.3"/>
<path d="M963.2 1080.9l5.1 5.1l-5.1 5.1l-5.1 -5.1Z" fill="none" stroke="#7a7a7a" stroke-width="2.3"/>
<path d="M954.6 1090.9l5.1 5.1l-5.1 5.1l-5.1 -5.1Z" fill="none" stroke="#7a7a7a" stroke-width="2.3"/>
<path d="M980 1100.8l5.1 5.1l-5.1 5.1l-5.1 -5.1Z" fill="none" stroke="#7a7a7a" stroke-width="2.3"/>
<path d="M971.8 1109.4l5.1 5.1l-5.1 5.1l-5.1 -5.1Z" fill="none" stroke="#7a7a7a" stroke-width="2.3"/>
<path d="M954.6 1118.6l5.1 5.1l-5.1 5.1l-5.1 -5.1Z" fill="none" stroke="#7a7a7a" stroke-width="2.3"/>
<path d="M842.5 755.4V733H963.2V911" stroke="#000" stroke-width="2.4" fill="none" stroke-linejoin="miter"/>
<path d="M842.5 786.7V766.1H902.7V786.7" stroke="#000" stroke-width="2.4" fill="none" stroke-linejoin="miter"/>
<text x="901.8" y="736.3" font-size="30" text-anchor="middle" letter-spacing="1.3">***</text>
<text x="873.2" y="757.5" font-size="23.5" text-anchor="middle">NS</text>
<path d="M820.4 1153.5L864 1153.5" stroke="#2a2a2a" stroke-width="2.3" />
<path d="M881 1153.5L924.8 1153.5" stroke="#2f3e95" stroke-width="2.3" />
<path d="M941.7 1153.5L985.3 1153.5" stroke="#111" stroke-width="2.3" />
<text x="843.7" y="1187.2" font-size="23.5" text-anchor="middle">WT</text>
<text x="905.7" y="1187.2" font-size="23.5" text-anchor="middle" fill="#2f3e95"><tspan font-style="italic">Iga</tspan><tspan font-size="13" dy="-7">-/-</tspan></text>
<text x="968.7" y="1187.2" font-size="23.5" text-anchor="middle"><tspan font-style="italic">Cd8a</tspan><tspan font-size="13" dy="-7">-/-</tspan></text>
<text x="757.5" y="1226.9" font-size="23.5">HFD</text>
<text x="843.7" y="1226.9" font-size="23.5" text-anchor="middle">+</text>
<text x="903.9" y="1226.9" font-size="23.5" text-anchor="middle">+</text>
<text x="964.4" y="1226.9" font-size="23.5" text-anchor="middle">+</text>
<text x="1" y="1270" font-size="36" font-weight="bold">g</text>
<path d="M154.6 1336.9L154.6 1711.4" stroke="#000" stroke-width="2.4" />
<path d="M144.8 1338.1L154.6 1338.1" stroke="#000" stroke-width="2.4" />
<text x="138.6" y="1346.7" text-anchor="end">300</text>
<path d="M144.8 1462.6L154.6 1462.6" stroke="#000" stroke-width="2.4" />
<text x="138.6" y="1471.2" text-anchor="end">200</text>
<path d="M144.8 1586.4L154.6 1586.4" stroke="#000" stroke-width="2.4" />
<text x="138.6" y="1595" text-anchor="end">100</text>
<path d="M144.8 1710.2L154.6 1710.2" stroke="#000" stroke-width="2.4" />
<text x="138.6" y="1718.8" text-anchor="end">0</text>
<path d="M153.4 1710.2L335.7 1710.2" stroke="#000" stroke-width="2.4" />
<path d="M185 1710.2L185 1720.7" stroke="#000" stroke-width="2.4" />
<path d="M245 1710.2L245 1720.7" stroke="#000" stroke-width="2.4" />
<path d="M305.6 1710.2L305.6 1720.7" stroke="#000" stroke-width="2.4" />
<text x="73" y="1510.4" font-size="28.1" text-anchor="middle" transform="rotate(-90 73 1510.4)">Serum cholesterol (mg/dL)</text>
<path d="M166.6 1710.2V1436.9H203.5V1710.2" fill="none" stroke="#6e6e6e" stroke-width="2.4"/>
<path d="M226.6 1710.2V1399.9H264.1V1710.2" fill="none" stroke="#3251a3" stroke-width="2.4"/>
<path d="M287.2 1710.2V1449H324.8V1710.2" fill="none" stroke="#000" stroke-width="2.4"/>
<path d="M185 1397L185 1474.7" stroke="#6e6e6e" stroke-width="2.4" />
<path d="M174 1397L196 1397" stroke="#6e6e6e" stroke-width="2.4" />
<path d="M174 1474.7L196 1474.7" stroke="#6e6e6e" stroke-width="2.4" />
<path d="M245 1392.8L245 1404.3" stroke="#3251a3" stroke-width="2.4" />
<path d="M234 1392.8L256 1392.8" stroke="#3251a3" stroke-width="2.4" />
<path d="M234 1404.3L256 1404.3" stroke="#3251a3" stroke-width="2.4" />
<path d="M305.6 1406.9L305.6 1489.7" stroke="#000" stroke-width="2.4" />
<path d="M294.6 1406.9L316.6 1406.9" stroke="#000" stroke-width="2.4" />
<path d="M294.6 1489.7L316.6 1489.7" stroke="#000" stroke-width="2.4" />
<path d="M185 1362.9L190 1372L180 1372Z" fill="none" stroke="#7a7a7a" stroke-width="2.3"/>
<path d="M176.2 1392.3L181.2 1401.4L171.2 1401.4Z" fill="none" stroke="#7a7a7a" stroke-width="2.3"/>
<path d="M193.9 1389.1L198.9 1398.2L188.9 1398.2Z" fill="none" stroke="#7a7a7a" stroke-width="2.3"/>
<path d="M185 1430.7L190 1439.8L180 1439.8Z" fill="none" stroke="#7a7a7a" stroke-width="2.3"/>
<path d="M185 1582.3L190 1591.4L180 1591.4Z" fill="none" stroke="#7a7a7a" stroke-width="2.3"/>
<circle cx="236.5" cy="1384" r="5.4" fill="none" stroke="#3251a3" stroke-width="2.3"/>
<circle cx="262" cy="1393.8" r="5.4" fill="none" stroke="#3251a3" stroke-width="2.3"/>
<circle cx="237.5" cy="1411.1" r="5.4" fill="none" stroke="#3251a3" stroke-width="2.3"/>
<circle cx="252.9" cy="1405.2" r="5.4" fill="none" stroke="#3251a3" stroke-width="2.3"/>
<path d="M305.6 1364.1l5.1 5.1l-5.1 5.1l-5.1 -5.1Z" fill="none" stroke="#7a7a7a" stroke-width="2.3"/>
<path d="M305.6 1458.4l5.1 5.1l-5.1 5.1l-5.1 -5.1Z" fill="none" stroke="#7a7a7a" stroke-width="2.3"/>
<path d="M305.6 1505.9l5.1 5.1l-5.1 5.1l-5.1 -5.1Z" fill="none" stroke="#7a7a7a" stroke-width="2.3"/>
<path d="M185 1299.4V1289H305.6V1354.5" stroke="#000" stroke-width="2.4" fill="none" stroke-linejoin="miter"/>
<path d="M185 1344.6V1326.6H245V1352.8" stroke="#000" stroke-width="2.4" fill="none" stroke-linejoin="miter"/>
<text x="248" y="1281.8" font-size="23.5" text-anchor="middle">NS</text>
<text x="216.2" y="1319.4" font-size="23.5" text-anchor="middle">NS</text>
<path d="M163.8 1738.4L206.4 1738.4" stroke="#2a2a2a" stroke-width="2.3" />
<path d="M223.7 1738.4L267 1738.4" stroke="#2f3e95" stroke-width="2.3" />
<path d="M284.3 1738.4L327.5 1738.4" stroke="#111" stroke-width="2.3" />
<text x="186.2" y="1772" font-size="23.5" text-anchor="middle">WT</text>
<text x="248" y="1772" font-size="23.5" text-anchor="middle" fill="#2f3e95"><tspan font-style="italic">Iga</tspan><tspan font-size="13" dy="-7">-/-</tspan></text>
<text x="311.1" y="1772" font-size="23.5" text-anchor="middle"><tspan font-style="italic">Cd8a</tspan><tspan font-size="13" dy="-7">-/-</tspan></text>
<text x="94" y="1816.5" font-size="23.5">HFD</text>
<text x="186.2" y="1816.5" font-size="23.5" text-anchor="middle">+</text>
<text x="246.2" y="1816.5" font-size="23.5" text-anchor="middle">+</text>
<text x="306.8" y="1816.5" font-size="23.5" text-anchor="middle">+</text>
<text x="361.5" y="1271" font-size="36" font-weight="bold">h</text>
<path d="M496.9 1316.6L496.9 1708.8" stroke="#000" stroke-width="2.4" />
<path d="M486.1 1317.8L496.9 1317.8" stroke="#000" stroke-width="2.4" />
<text x="484.1" y="1328" text-anchor="end">150</text>
<path d="M486.1 1447.8L496.9 1447.8" stroke="#000" stroke-width="2.4" />
<text x="484.1" y="1458" text-anchor="end">100</text>
<path d="M486.1 1577.9L496.9 1577.9" stroke="#000" stroke-width="2.4" />
<text x="484.1" y="1588.1" text-anchor="end">50</text>
<path d="M486.1 1707.6L496.9 1707.6" stroke="#000" stroke-width="2.4" />
<text x="484.1" y="1717.8" text-anchor="end">0</text>
<path d="M495.7 1707.6L685.9 1707.6" stroke="#000" stroke-width="2.4" />
<path d="M528 1707.6L528 1718.1" stroke="#000" stroke-width="2.4" />
<path d="M591.9 1707.6L591.9 1718.1" stroke="#000" stroke-width="2.4" />
<path d="M654.8 1707.6L654.8 1718.1" stroke="#000" stroke-width="2.4" />
<text x="419" y="1510.4" font-size="28.1" text-anchor="middle" transform="rotate(-90 419 1510.4)">Serum triglyceride (mg/dL)</text>
<path d="M508.6 1707.6V1514.5H547.8V1707.6" fill="none" stroke="#6e6e6e" stroke-width="2.4"/>
<path d="M571.5 1707.6V1503.7H611.7V1707.6" fill="none" stroke="#3251a3" stroke-width="2.4"/>
<path d="M634.7 1707.6V1569.2H674.9V1707.6" fill="none" stroke="#000" stroke-width="2.4"/>
<path d="M528 1477.3L528 1549.4" stroke="#6e6e6e" stroke-width="2.4" />
<path d="M517 1477.3L539 1477.3" stroke="#6e6e6e" stroke-width="2.4" />
<path d="M517 1549.4L539 1549.4" stroke="#6e6e6e" stroke-width="2.4" />
<path d="M591.9 1478.9L591.9 1527.1" stroke="#3251a3" stroke-width="2.4" />
<path d="M580.9 1478.9L602.9 1478.9" stroke="#3251a3" stroke-width="2.4" />
<path d="M580.9 1527.1L602.9 1527.1" stroke="#3251a3" stroke-width="2.4" />
<path d="M654.8 1562.5L654.8 1574" stroke="#000" stroke-width="2.4" />
<path d="M643.8 1562.5L665.8 1562.5" stroke="#000" stroke-width="2.4" />
<path d="M643.8 1574L665.8 1574" stroke="#000" stroke-width="2.4" />
<path d="M528 1371.1L533 1380.2L523 1380.2Z" fill="none" stroke="#7a7a7a" stroke-width="2.3"/>
<path d="M528 1516.2L533 1525.3L523 1525.3Z" fill="none" stroke="#7a7a7a" stroke-width="2.3"/>
<path d="M519.5 1535.5L524.5 1544.6L514.5 1544.6Z" fill="none" stroke="#7a7a7a" stroke-width="2.3"/>
<path d="M536.9 1543.7L541.9 1552.8L531.9 1552.8Z" fill="none" stroke="#7a7a7a" stroke-width="2.3"/>
<path d="M528 1581.3L533 1590.4L523 1590.4Z" fill="none" stroke="#7a7a7a" stroke-width="2.3"/>
<circle cx="591.9" cy="1444.5" r="5.4" fill="none" stroke="#3251a3" stroke-width="2.3"/>
<circle cx="591.9" cy="1494.7" r="5.4" fill="none" stroke="#3251a3" stroke-width="2.3"/>
<circle cx="591.9" cy="1511" r="5.4" fill="none" stroke="#3251a3" stroke-width="2.3"/>
<circle cx="591.9" cy="1560.8" r="5.4" fill="none" stroke="#3251a3" stroke-width="2.3"/>
<path d="M654.8 1555.7l5.1 5.1l-5.1 5.1l-5.1 -5.1Z" fill="none" stroke="#7a7a7a" stroke-width="2.3"/>
<path d="M663 1560.6l5.1 5.1l-5.1 5.1l-5.1 -5.1Z" fill="none" stroke="#7a7a7a" stroke-width="2.3"/>
<path d="M647.3 1572.8l5.1 5.1l-5.1 5.1l-5.1 -5.1Z" fill="none" stroke="#7a7a7a" stroke-width="2.3"/>
<path d="M528 1300.4V1280.8H654.8V1515" stroke="#000" stroke-width="2.4" fill="none" stroke-linejoin="miter"/>
<path d="M528 1339.7V1321.7H591.9V1414.1" stroke="#000" stroke-width="2.4" fill="none" stroke-linejoin="miter"/>
<text x="593.2" y="1273.6" font-size="23.5" text-anchor="middle">NS</text>
<text x="559.8" y="1314.5" font-size="23.5" text-anchor="middle">NS</text>
<path d="M505.8 1738.4L550.6 1738.4" stroke="#2a2a2a" stroke-width="2.3" />
<path d="M569.6 1738.4L613.9 1738.4" stroke="#2f3e95" stroke-width="2.3" />
<path d="M633.5 1738.4L677.7 1738.4" stroke="#111" stroke-width="2.3" />
<text x="529.2" y="1772" font-size="23.5" text-anchor="middle">WT</text>
<text x="594.9" y="1772" font-size="23.5" text-anchor="middle" fill="#2f3e95"><tspan font-style="italic">Iga</tspan><tspan font-size="13" dy="-7">-/-</tspan></text>
<text x="660.3" y="1772" font-size="23.5" text-anchor="middle"><tspan font-style="italic">Cd8a</tspan><tspan font-size="13" dy="-7">-/-</tspan></text>
<text x="442" y="1816.5" font-size="23.5">HFD</text>
<text x="529.2" y="1816.5" font-size="23.5" text-anchor="middle">+</text>
<text x="593.1" y="1816.5" font-size="23.5" text-anchor="middle">+</text>
<text x="656" y="1816.5" font-size="23.5" text-anchor="middle">+</text>
<text x="700.5" y="1270.5" font-size="36" font-weight="bold">i</text>
<path d="M820.2 1308.5L820.2 1708" stroke="#000" stroke-width="2.4" />
<path d="M809.7 1309.7L820.2 1309.7" stroke="#000" stroke-width="2.4" />
<text x="800.8" y="1320.1" text-anchor="end">50</text>
<path d="M809.7 1389.4L820.2 1389.4" stroke="#000" stroke-width="2.4" />
<text x="800.8" y="1399.8" text-anchor="end">40</text>
<path d="M809.7 1468.9L820.2 1468.9" stroke="#000" stroke-width="2.4" />
<text x="800.8" y="1479.3" text-anchor="end">30</text>
<path d="M809.7 1547.9L820.2 1547.9" stroke="#000" stroke-width="2.4" />
<text x="800.8" y="1558.3" text-anchor="end">20</text>
<path d="M809.7 1627.4L820.2 1627.4" stroke="#000" stroke-width="2.4" />
<text x="800.8" y="1637.8" text-anchor="end">10</text>
<path d="M809.7 1706.8L820.2 1706.8" stroke="#000" stroke-width="2.4" />
<text x="800.8" y="1717.2" text-anchor="end">0</text>
<path d="M819 1706.8L1011.9 1706.8" stroke="#000" stroke-width="2.4" />
<path d="M851.7 1706.8L851.7 1717.3" stroke="#000" stroke-width="2.4" />
<path d="M916.4 1706.8L916.4 1717.3" stroke="#000" stroke-width="2.4" />
<path d="M981.1 1706.8L981.1 1717.3" stroke="#000" stroke-width="2.4" />
<text x="754" y="1511.4" font-size="28.1" text-anchor="middle" transform="rotate(-90 754 1511.4)">Liv-triglyceride (mg/g liver)</text>
<path d="M831.2 1706.8V1418.6H871.8V1706.8" fill="none" stroke="#6e6e6e" stroke-width="2.4"/>
<path d="M895.9 1706.8V1457.8H936.5V1706.8" fill="none" stroke="#3251a3" stroke-width="2.4"/>
<path d="M961.3 1706.8V1452.9H1001.3V1706.8" fill="none" stroke="#000" stroke-width="2.4"/>
<path d="M851.7 1402.7L851.7 1432.1" stroke="#6e6e6e" stroke-width="2.4" />
<path d="M840.7 1402.7L862.7 1402.7" stroke="#6e6e6e" stroke-width="2.4" />
<path d="M840.7 1432.1L862.7 1432.1" stroke="#6e6e6e" stroke-width="2.4" />
<path d="M916.4 1437.7L916.4 1476.9" stroke="#3251a3" stroke-width="2.4" />
<path d="M905.4 1437.7L927.4 1437.7" stroke="#3251a3" stroke-width="2.4" />
<path d="M905.4 1476.9L927.4 1476.9" stroke="#3251a3" stroke-width="2.4" />
<path d="M981.1 1410.4L981.1 1495.1" stroke="#000" stroke-width="2.4" />
<path d="M970.2 1410.4L992 1410.4" stroke="#000" stroke-width="2.4" />
<path d="M970.2 1495.1L992 1495.1" stroke="#000" stroke-width="2.4" />
<path d="M851.7 1361.3L856.7 1370.4L846.7 1370.4Z" fill="none" stroke="#7a7a7a" stroke-width="2.3"/>
<path d="M865 1407.5L870 1416.6L860 1416.6Z" fill="none" stroke="#7a7a7a" stroke-width="2.3"/>
<path d="M838.7 1423.2L843.7 1432.3L833.7 1432.3Z" fill="none" stroke="#7a7a7a" stroke-width="2.3"/>
<path d="M851.7 1425L856.7 1434.1L846.7 1434.1Z" fill="none" stroke="#7a7a7a" stroke-width="2.3"/>
<path d="M851.7 1448.8L856.7 1457.9L846.7 1457.9Z" fill="none" stroke="#7a7a7a" stroke-width="2.3"/>
<circle cx="916.4" cy="1412.9" r="5.4" fill="none" stroke="#3251a3" stroke-width="2.3"/>
<circle cx="907" cy="1446.5" r="5.4" fill="none" stroke="#3251a3" stroke-width="2.3"/>
<circle cx="926.2" cy="1462.9" r="5.4" fill="none" stroke="#3251a3" stroke-width="2.3"/>
<circle cx="916.4" cy="1506" r="5.4" fill="none" stroke="#3251a3" stroke-width="2.3"/>
<path d="M981.1 1390.3l5.1 5.1l-5.1 5.1l-5.1 -5.1Z" fill="none" stroke="#7a7a7a" stroke-width="2.3"/>
<path d="M981.1 1422.8l5.1 5.1l-5.1 5.1l-5.1 -5.1Z" fill="none" stroke="#7a7a7a" stroke-width="2.3"/>
<path d="M981.1 1529.5l5.1 5.1l-5.1 5.1l-5.1 -5.1Z" fill="none" stroke="#7a7a7a" stroke-width="2.3"/>
<path d="M851.7 1288V1258.2H981.1V1370.9" stroke="#000" stroke-width="2.4" fill="none" stroke-linejoin="miter"/>
<path d="M851.7 1337V1313.5H916.4V1394.7" stroke="#000" stroke-width="2.4" fill="none" stroke-linejoin="miter"/>
<text x="920.9" y="1252.3" font-size="23.5" text-anchor="middle">NS</text>
<text x="884.9" y="1307.2" font-size="23.5" text-anchor="middle">NS</text>
<path d="M831 1737.6L873.7 1737.6" stroke="#2a2a2a" stroke-width="2.3" />
<path d="M895.4 1737.6L938.4 1737.6" stroke="#2f3e95" stroke-width="2.3" />
<path d="M960.1 1737.6L1003.9 1737.6" stroke="#111" stroke-width="2.3" />
<text x="852.9" y="1772.3" font-size="23.5" text-anchor="middle">WT</text>
<text x="919.4" y="1772.3" font-size="23.5" text-anchor="middle" fill="#2f3e95"><tspan font-style="italic">Iga</tspan><tspan font-size="13" dy="-7">-/-</tspan></text>
<text x="986.6" y="1772.3" font-size="23.5" text-anchor="middle"><tspan font-style="italic">Cd8a</tspan><tspan font-size="13" dy="-7">-/-</tspan></text>
<text x="766" y="1816.5" font-size="23.5">HFD</text>
<text x="852.9" y="1816.5" font-size="23.5" text-anchor="middle">+</text>
<text x="917.6" y="1816.5" font-size="23.5" text-anchor="middle">+</text>
<text x="982.3" y="1816.5" font-size="23.5" text-anchor="middle">+</text>
<defs><filter id="bl" x="0" y="0" width="1" height="1"><feGaussianBlur stdDeviation="0.6"/></filter></defs>
<text x="1052" y="751.5" font-size="36" font-weight="bold">f</text>
<text x="1306.5" y="744.8" font-size="28.5" text-anchor="middle">WT HFD</text>
<text x="1626" y="744.8" font-size="28.5" text-anchor="middle"><tspan font-style="italic">Iga</tspan><tspan font-size="15" dy="-9">-/-</tspan><tspan dy="9" dx="-1"> HFD</tspan></text>
<text x="1942" y="744.8" font-size="28.5" text-anchor="middle"><tspan font-style="italic">Cd8a</tspan><tspan font-size="15" dy="-9">-/-</tspan><tspan dy="9" dx="-1"> HFD</tspan></text>
<text x="1134" y="907.5" font-size="28.5" text-anchor="middle" transform="rotate(-90 1134 907.5)">H&amp;E</text>
<text x="1137" y="1231" font-size="28.5" text-anchor="middle" transform="rotate(-90 1137 1231)">SR</text>
<text x="1134" y="1549.5" font-size="28.5" text-anchor="middle" transform="rotate(-90 1134 1549.5)">ORO</text>
<clipPath id="c1"><rect width="306" height="306"/></clipPath>
<g transform="translate(1150 755.5)" clip-path="url(#c1)"><g filter="url(#bl)" stroke-linecap="round" fill="none"><rect x="-2" y="-2" width="310" height="310" fill="#df70c6"/><path d="M280 -4h0m-52 15h0m17 26h0m-32 7h0m-200-1h0m3 7h0m-23 48h0m166 23h0m137 7h0m16-5h0m-264 22h0m123 18h0m-57-3h0m-58 2h0m171 26h0m-231 13h0m228 10h0m-52 3h0m-52-7h0m-58 1h0m225 17h0m-134 3h0m-70 5h0m116 8h0m-72 12h0m-115 9h0m92 4h0m32 5h0m-69 17h0m93 8h0m107-5h0m44 10h0m-60 1h0m-64 12h0" stroke="#f2bfe8" stroke-width="7.5"/><path d="M256 -1h0m-13-1h0m-92-2h0m-39-4h0m-96 10h0m22 7h0m53 1h0m51-3h0m165 8h0m-33 1h0m-5-2h0m-268-1h0m233 12h0m17 20h0m-33-7h0m-9 5h0m-13 3h0m-195-8h0m47 13h0m227 3h0m20 11h0m-82 0h0m-217 9h0m59 4h0m246 4h0m-74 3h0m-97 7h0m-13 23h0m-24 2h0m-61 2h0m-10 5h0m89 0h0m31-2h0m30 5h0m69-1h0m41 4h0m32 5h0m-21 2h0m-150-1h0m-8 0h0m-43-2h0m112 11h0m14 1h0m95 20h0m-159-8h0m-28 6h0m-28-3h0m136 10h0m57-2h0m25-1h0m-20 12h0m-268 23h0m22-10h0m70 3h0m23 1h0m11 3h0m147 15h0m-44-7h0m-1 6h0m-20 0h0m-82-6h0m-59 7h0m-28 5h0m138 4h0m22 3h0m89-1h0m-15 3h0m-42 7h0m-28 1h0m-175 0h0m-63-4h0m43 16h0m82 0h0m52-8h0m60 6h0m35 2h0m49-7h0m-71 17h0m-153-2h0m-68 6h0m-5 5h0m7 3h0m35-6h0m228 0h0m22 2h0m-56 9h0m-12 5h0m-246 15h0m27-6h0m6 2h0m137-3h0m121 12h0m-58 4h0m-53-1h0m-12 2h0m-91 1h0m-20 9h0m180-2h0" stroke="#f2bfe8" stroke-width="8"/><path d="M297 -2h0m-245-5h0m-25 4h0m-1 0h0m-5 8h0m174 2h0m14-6h0m3 2h0m100 16h0m-152-4h0m-78 6h0m-6-6h0m-31 1h0m30 15h0m25-2h0m167 3h0m-22 12h0m-24-8h0m-157 7h0m249 19h0m-11 3h0m-209 18h0m144-8h0m6-1h0m69 10h0m-45 0h0m-111 10h0m-158-3h0m219 8h0m-215 9h0m136 17h0m8 5h0m52-6h0m54 0h0m37 11h0m-216-2h0m-13 0h0m-22 1h0m-41 19h0m63-1h0m38-6h0m12 7h0m67 0h0m70-1h0m18 3h0m46-10h0m-41 17h0m-188 3h0m-77-1h0m6 14h0m84-3h0m132-3h0m-229 10h0m72 10h0m90 0h0m62 5h0m39 0h0m16 18h0m-2-10h0m-24 1h0m-77 0h0m-37 7h0m-36-1h0m-20-5h0m-43 3h0m45 12h0m130 5h0m68-4h0m-120 12h0m-161 4h0m50 1h0m92 1h0m159 10h0m-124 11h0m-11-9h0m-6 10h0m-22-8h0m-38 7h0m-69 10h0m261 14h0m-252 0h0m-42 4h0m44 6h0m80-8h0m80 11h0m5-6h0m41 5h0m19 11h0m-55-2h0m-60-1h0m-37-2h0m-118 12h0m67 0h0m82-4h0" stroke="#f2bfe8" stroke-width="8.5"/><path d="M220 -1h0m-96 6h0m48 5h0m20-9h0m-10 13h0m-71 6h0m-119 10h0m63 1h0m153-5h0m25 13h0m-77 4h0m-35 4h0m-96-1h0m-5 10h0m201 2h0m85-4h0m-293 23h0m26-2h0m104 8h0m146 11h0m-76 1h0m-8-5h0m-167 5h0m-17-3h0m2 12h0m84-3h0m48-2h0m68 8h0m64-2h0m21-3h0m-10 9h0m-14 5h0m-26 0h0m-103 2h0m-119-2h0m-9-7h0m-5 10h0m14 11h0m227-4h0m38 4h0m-85 8h0m-146 4h0m-74-9h0m22 15h0m101 0h0m28-2h0m113-2h0m21 11h0m24-7h0m-48 17h0m-76 1h0m-11-9h0m-20 6h0m-58 2h0m-65-9h0m-10 15h0m28-1h0m145 5h0m2 4h0m51-11h0m31 2h0m3 8h0m12-4h0m-80 6h0m-132 7h0m-40-7h0m-26 7h0m27 6h0m16 8h0m15-7h0m61 8h0m115-10h0m49 15h0m-102 3h0m-62-5h0m-92 9h0m-37-6h0m1 14h0m103 2h0m72-5h0m9-1h0m112 16h0m-32-3h0m-76 0h0m-64-3h0m-50 9h0m-48 8h0m41 0h0m113 3h0m111 0h0m-41 5h0m-103 0h0m-20 9h0m-56-7h0m-35 20h0m166-3h0m-54 5h0m-91 10h0m155 1h0m60 5h0m5-4h0m17 2h0m14 2h0m-248 13h0m-21 1h0m-31 8h0" stroke="#f2bfe8" stroke-width="9"/><path d="M3 6h0m130-5h0m182 29h0m-251 60h0m195 14h0m-193 51h0m10-3h0m97-6h0m54 11h0m-10 11h0m-100 22h0m-19-10h0m76 16h0m21 7h0m118 47h0m-131 24h0m-47 24h0m136 8h0m-52 6h0" stroke="#f2bfe8" stroke-width="9.5"/><path d="M120 3h0m173 11h0m-146 1h0m-80-3h0m-71 0h0m248 20h0m18 15h0m-54 12h0m8 22h0m51 8h0m-9 6h0m-37-6h0m-88 27h0m-14-5h0m-107 13h0m10 10h0m21 21h0m240 10h0m-73-1h0m-21-7h0m7 29h0m-54 0h0m54 9h0m89 3h0m19-6h0m-66 20h0m-241-7h0m54 12h0m36 22h0m-65 5h0m48 5h0m43-9h0m188 4h0m-243 10h0m94 14h0m30 3h0m66 13h0m-5 2h0m-19-9h0m-165 0h0m-20 34h0m-38-2h0m-9-4h0" stroke="#f6d2f0" stroke-width="7.5"/><path d="M135 -7h0m-59 1h0m-23 1h0m172 6h0m34 13h0m-37 5h0m-5 1h0m-8-5h0m-71-1h0m-72 7h0m-40 2h0m-34-1h0m197 5h0m14 1h0m64-4h0m42 23h0m-83-1h0m-48-1h0m-43-3h0m97 16h0m49 7h0m-15-5h0m-13 10h0m-254 10h0m220-7h0m74 10h0m-240 9h0m-37 12h0m283-8h0m8 6h0m-125 11h0m-188 0h0m82 18h0m39-6h0m135-2h0m-14 14h0m-126 5h0m-82 1h0m-19-8h0m-6 11h0m58 1h0m138 5h0m43-7h0m-38 12h0m-16 7h0m-22 2h0m-18-5h0m-140-5h0m25 22h0m110-8h0m29 4h0m141 9h0m-64 7h0m-242 2h0m211 0h0m76 7h0m7 2h0m12-2h0m-48 11h0m-152-6h0m-17 2h0m-21 7h0m-2-3h0m-4 5h0m-13-5h0m-40-3h0m249 14h0m46 14h0m-35 1h0m-72-5h0m-31 5h0m-108 1h0m-26-4h0m-38 17h0m14-8h0m78 1h0m122 0h0m52-2h0m22 5h0m24 13h0m-66-3h0m-11 3h0m-40 1h0m-45-5h0m-115 4h0m-9-5h0m2 20h0m37-4h0m53-3h0m8 3h0m16-1h0m70 1h0m12-5h0m62 10h0m-89 8h0m-30 1h0m-34-7h0m-9 10h0m-76-1h0m-47-10h0m5 23h0m18-7h0m41 3h0m11-5h0m17 2h0m59 1h0m37 3h0m38 1h0m58-7h0m8 10h0m-18 1h0m-71 0h0m-9-1h0m0 11h0m-105-10h0m-62 10h0m69 2h0m26 3h0m38-1h0" stroke="#f6d2f0" stroke-width="8"/><path d="M315 -8h0m-154 6h0m-63-6h0m-86 2h0m-18-1h0m101 15h0m58-2h0m28-1h0m53-2h0m72-2h0m-21 18h0m-253 0h0m-18 8h0m130 3h0m139-3h0m32 13h0m-107 7h0m-26-11h0m-10 6h0m-177 9h0m35-3h0m30 9h0m207 10h0m-255 14h0m109-1h0m42-8h0m137 4h0m-21 10h0m-154 12h0m123 1h0m63 7h0m-201 9h0m-42-6h0m-75 10h0m12 7h0m22 5h0m26-1h0m3-9h0m70 0h0m134 12h0m-168-1h0m-29 3h0m-12 3h0m-18 2h0m67 14h0m30 0h0m145-8h0m9 0h0m12 6h0m2-7h0m-221 20h0m-16 7h0m54-2h0m16 7h0m20-3h0m106 5h0m1-9h0m0 16h0m-76 1h0m-13-7h0m-43 7h0m-70-7h0m-25 20h0m12-2h0m173-4h0m95 11h0m-26 4h0m-154 5h0m-109 4h0m65 1h0m73 3h0m17 5h0m21-8h0m29 0h0m7 5h0m28-3h0m8-4h0m45 2h0m-100 12h0m-14-1h0m-59 7h0m-13-2h0m-33-5h0m-50 1h0m-23 2h0m-7 2h0m116 5h0m21 4h0m59 7h0m20-7h0m-41 10h0m-38 2h0m-6 3h0m-57 10h0m205 0h0m-189 14h0m-37-4h0m75 18h0m9-9h0m62 9h0m92-6h0m-200 24h0m120 0h0m77 0h0" stroke="#f6d2f0" stroke-width="8.5"/><path d="M304 -3h0m-20 0h0m-30-2h0m-29 1h0m-53-2h0m-87 1h0m-52 13h0m24 3h0m178 0h0m23 7h0m-3-6h0m-11 3h0m-128 20h0m187-7h0m-5 18h0m-297 11h0m3-6h0m69 6h0m171 1h0m39-8h0m0 16h0m-143 4h0m-137 13h0m194-8h0m89 5h0m-53 10h0m-31 1h0m-194 7h0m8-2h0m226 5h0m56 4h0m-99 13h0m-188 1h0m38 1h0m128 5h0m132 0h0m-7 13h0m-76 5h0m-97-8h0m-27 5h0m-52 11h0m199-4h0m62 8h0m-176 1h0m0 5h0m-111 2h0m-30 0h0m137 6h0m75 1h0m99-2h0m-139 15h0m-19 0h0m-14 6h0m-53-7h0m-86 8h0m26 6h0m8-3h0m76 0h0m74 1h0m117 21h0m-47-2h0m-19-7h0m-181 2h0m-49 5h0m37 10h0m14-2h0m57 2h0m10-1h0m22-1h0m153 1h0m-47 13h0m-133-5h0m-8 9h0m-55 8h0m11-3h0m30 6h0m13-1h0m67 2h0m34 0h0m5-10h0m93 20h0m-7-3h0m-17 4h0m-9-5h0m-175 18h0m48 0h0m99-6h0m-8 10h0m-113-2h0m-42 3h0m29 18h0m10 0h0m64-10h0m82 16h0m-152 3h0m-8 0h0m-46 4h0m237 4h0" stroke="#f6d2f0" stroke-width="9"/><path d="M1 33h0m160 10h0m-118 2h0m164 36h0m-106 23h0m186 4h0m-143 1h0m135 15h0m-146 19h0m-32 32h0m56 6h0m41 47h0m-8 43h0m112 30h0m-113 0h0" stroke="#f6d2f0" stroke-width="9.5"/><path d="M116 -4h0m-119 5h0m86 2h0m86-1h0m-58 12h0m-17 16h0m125-3h0m60 1h0m-61 29h0m72 1h0m20 2h0m-264 20h0m198 7h0m-203 0h0m-38 8h0m205 2h0m-38 26h0m-50 13h0m-101 18h0m77-3h0m-7 28h0m135 5h0m-60 10h0m120 18h0m-43-2h0m-136 1h0m-50 3h0m-54-2h0m191 32h0m33 15h0m-30-5h0m-150 4h0m225 17h0m-71 1h0m-113 7h0m12 10h0m-46 8h0m-33 9h0" stroke="#edaee0" stroke-width="7.5"/><path d="M210 -1h0m-48 3h0m109-1h0m15 0h0m11 3h0m-53 18h0m-56-7h0m-133 11h0m132-1h0m12 0h0m2 6h0m21 2h0m41 1h0m12-9h0m32 15h0m-1 6h0m-16-4h0m-11-3h0m-287-3h0m19 20h0m58 5h0m-64 8h0m-8 1h0m184 12h0m24-10h0m43 10h0m17-7h0m20-3h0m-7 20h0m-4 11h0m33 7h0m-30 0h0m-33-2h0m-3 11h0m-9-2h0m-8-1h0m-134-3h0m-74-1h0m-14 7h0m-5 8h0m191 1h0m-5 9h0m-71 2h0m-26 1h0m-4 3h0m-65 11h0m99-2h0m12-7h0m36 8h0m-95 8h0m-39 14h0m20 3h0m14-8h0m11-1h0m4 10h0m61-7h0m19 2h0m43 0h0m113 17h0m-44-3h0m-20-7h0m-243 2h0m79 11h0m21-1h0m124 6h0m37-4h0m-61 12h0m-32 1h0m-17 2h0m-14-6h0m-1 9h0m-87 9h0m59-3h0m33 7h0m43 1h0m114-2h0m-17 10h0m-112-6h0m-61 5h0m-89-6h0m-5 23h0m100-7h0m7 2h0m53-6h0m60 11h0m9-6h0m-46 18h0m-90-2h0m-65 9h0m118 0h0m143 11h0m-33-4h0m-10 10h0m-65-7h0m-59 2h0m-62-6h0m-51 8h0m-35-7h0m60 14h0m79-2h0m102 8h0m2-3h0m22-1h0m44-5h0m-17 20h0m-14 3h0m-15-1h0m-9 1h0m-9-7h0m-11-2h0m-112 8h0m-36-10h0m-21 1h0m-34 0h0m-8 2h0m-3 3h0m-12-3h0m202 13h0" stroke="#edaee0" stroke-width="8"/><path d="M269 -7h0m-84 4h0m-1-1h0m-42 1h0m-78 0h0m-57-3h0m12 15h0m226-4h0m5 0h0m60 2h0m-15 14h0m-113-1h0m-154-5h0m-26 4h0m153 5h0m93 5h0m3-4h0m43 5h0m-301 25h0m202 4h0m98-2h0m-51 13h0m-38-5h0m-41-1h0m-152 4h0m-4 10h0m43-2h0m50 37h0m-61-4h0m90 21h0m76 1h0m66 8h0m-260 8h0m179-3h0m23 7h0m21-5h0m5 6h0m62 1h0m4 13h0m-105-4h0m-162-1h0m-9-1h0m9 11h0m75 5h0m67 1h0m38 2h0m34-10h0m16 4h0m36 4h0m-119 10h0m-34 3h0m-129-7h0m-3 7h0m77 9h0m3-4h0m90 4h0m16-5h0m14 13h0m-187 8h0m-8-8h0m133 9h0m15 12h0m-10 11h0m-50 9h0m110 2h0m61 8h0m-151 2h0m-22 3h0m-47-6h0m-2 3h0m47 7h0m91 5h0m54-5h0m50-1h0m9 19h0m-5-7h0m-14 0h0m-75 2h0m-10 4h0m-33-6h0m-47-2h0m-18 0h0m-11 0h0m-51 16h0m120 0h0m115-1h0m-105 16h0m-31-3h0m-67 9h0m15 0h0m148 2h0" stroke="#edaee0" stroke-width="8.5"/><path d="M236 -8h0m-194 2h0m-2 8h0m20 6h0m140 3h0m74-9h0m40 10h0m-29 1h0m-114 6h0m-14-6h0m-35 1h0m-109 5h0m-4-2h0m110 8h0m19-1h0m96 5h0m66-4h0m-4 17h0m-98-2h0m-59 11h0m23-2h0m27 1h0m90 1h0m-19 19h0m-63-3h0m-11-7h0m-166 7h0m61 16h0m114-3h0m31-8h0m5 11h0m81 8h0m-7 1h0m-54 0h0m-58 3h0m-107 11h0m144-8h0m-14 21h0m-39 0h0m-70-9h0m-20 16h0m220-4h0m-97 17h0m-17 0h0m-42-1h0m-151-2h0m36 12h0m38-3h0m21 1h0m47 8h0m136 7h0m-61 1h0m-97-3h0m-70 2h0m-55 9h0m11-2h0m15 4h0m61-2h0m34 9h0m68-8h0m61 8h0m40-1h0m-114 12h0m-59-7h0m-23 4h0m-2 3h0m-22-10h0m-61 17h0m10 4h0m34-4h0m62 5h0m26-2h0m169 5h0m-141 9h0m-91 10h0m17 3h0m22-8h0m150 20h0m-41-6h0m-229 10h0m80-2h0m187 22h0m-86-1h0m-87-9h0m-14 3h0m-42 2h0m6 7h0m48 2h0m191 3h0m-16 13h0m-29 1h0m-37 0h0m-29-4h0m-75 5h0m-39-9h0m-35 7h0m-5 9h0m71 5h0m43 1h0m56 0h0m-45 3h0m-10-1h0m-48 9h0m80 4h0m16 2h0" stroke="#edaee0" stroke-width="9"/><path d="M124 -2h0m113 49h0m-49-7h0m72 21h0m-268 82h0m278 35h0m-62 8h0m-4 33h0m-65 12h0m-68 37h0m30 17h0" stroke="#edaee0" stroke-width="9.5"/><path d="M50 33h0m132 32h0m1 12h0m-10 16h0m-53 12h0m5 1h0m-60 20h0m39 108h0m-107 35h0" stroke="#fdf3fa" stroke-width="7"/><path d="M50 6h0m81 4h0m129-2h0m-127 24h0m39-1h0m86 12h0m-110 2h0m-18-8h0m-56 0h0m-20 3h0m39 10h0m30 8h0m131 1h0m-136 9h0m-24-8h0m-14 6h0m-2 1h0m-47 7h0m34 6h0m35-8h0m12 5h0m12 1h0m66-4h0m-45 20h0m-35-5h0m-37 8h0m24-1h0m93 4h0m22 7h0m53 5h0m-79 2h0m-49-6h0m-63 9h0m-25-6h0m48 17h0m58 3h0m36-10h0m59 18h0m-75-6h0m-13 13h0m77 17h0m50 25h0m-13-2h0m-137-5h0m-4 27h0m93 37h0m14 1h0m50-1h0m-16 8h0m-61 7h0m-214 3h0m256 9h0" stroke="#fdf3fa" stroke-width="7.5"/><path d="M91 -1h0m-21 4h0m149 7h0m50 28h0m-121-2h0m-87 9h0m39 4h0m56 1h0m17 19h0m-18-3h0m-77 9h0m66 3h0m21 4h0m6-8h0m87 0h0m23 2h0m-38 15h0m-104 4h0m-120-8h0m128 15h0m26 11h0m-20-3h0m-88 9h0m-17 5h0m166 1h0m51 18h0m-71-3h0m-107 15h0m114-10h0m88 12h0m-10 42h0m-284 27h0m19-8h0m-16 33h0m166 20h0m107-2h0m-133 43h0" stroke="#fdf3fa" stroke-width="8"/><path d="M89 22h0m20 9h0m11 8h0m-44 6h0m-10 1h0m20 11h0m139 9h0m-131-3h0m-66 2h0m29 15h0m26-2h0m50 2h0m-76 20h0m122 1h0m79 6h0m-6 4h0m-151 5h0m171 14h0m-88 15h0m48 33h0m-31 6h0m-146 2h0m191 10h0m5 6h0m-32 12h0m-216 16h0m271 13h0m-44 25h0m-218 13h0m-9 2h0m75 10h0m230 22h0" stroke="#fdf3fa" stroke-width="8.5"/><path d="M200 -5h0m-128 7h0m9 7h0m32-8h0m12 22h0m-73 0h0m-30 11h0m65-6h0m95 2h0m-82 13h0m-10-4h0m-3-2h0m-58 6h0m-8 0h0m21 14h0m101-2h0m25-4h0m3 7h0m59 9h0m-47-7h0m-18 0h0m-32 0h0m-9 0h0m-58 3h0m-15-3h0m-31 14h0m53 8h0m22-9h0m35 10h0m23-7h0m22 4h0m-7 22h0m27 0h0m37 7h0m-70-1h0m-108 1h0m171 21h0m-3 7h0m72 29h0m-63-10h0m61 34h0m-282 36h0m22 10h0m156 20h0m-177-3h0m-12 5h0m261 17h0m-78 34h0" stroke="#fdf3fa" stroke-width="9"/><path d="M102 10h0m44 11h0m-74-2h0m-38 16h0m7-4h0m58-7h0m54 5h0m35 38h0m-84 3h0m-44-2h0m73 4h0m121 2h0m7 7h0m-82 11h0m-58-2h0m-43 4h0m-33-3h0m0 13h0m22 0h0m133 3h0m24-6h0m43 17h0m-58-10h0m35 31h0m-83-3h0m98 15h0m-5 12h0m-237 4h0m56 33h0m175 31h0" stroke="#fdf3fa" stroke-width="9.5"/><path d="M165 23h0m-127-5h0m25 10h0m100 3h0m105 14h0m-142 2h0m-89-8h0m45 12h0m75 8h0m-9 7h0m-18 2h0m-20-4h0m-61 5h0m-14-9h0m29 12h0m39 9h0m7 0h0m182-9h0m18 2h0m-122 12h0m-94 4h0m-11 14h0m54 0h0m144 12h0m-201-1h0m81 11h0m-5 18h0m77 19h0m-9-1h0m7 27h0m12 35h0m-91 11h0m-115 7h0m221 11h0m-172 9h0m-81 4h0m21 9h0m195 8h0m-34-4h0" stroke="#fdf3fa" stroke-width="10"/><path d="M100 5h0m28 27h0m127 10h0m-146-1h0m-63-1h0m54 17h0m6 1h0m4-10h0m-70 21h0m-12 13h0m90-10h0m33 11h0m15 8h0m-79-2h0m-54 0h0m-2 12h0m10 1h0m49-3h0m72 0h0m105 0h0m30 16h0m-222-4h0m-54 2h0m182 9h0m27 6h0m49 11h0m-254 85h0m228-3h0m33 30h0" stroke="#fdf3fa" stroke-width="10.5"/><path d="M235 -9h0m-93 6h0m-8-5h0m-48 3h0m-20 1h0m-42 1h0m-18-2h0m33 6h0m30 2h0m12 1h0m10 7h0m103-4h0m18-5h0m24-1h0m47 13h0m-28-2h0m-39 8h0m-34-2h0m-72-4h0m-10 9h0m-75-1h0m-28-10h0m88 19h0m59-1h0m45-1h0m32-2h0m1 7h0m10-8h0m65 16h0m-125 1h0m-52 4h0m-80-11h0m-20 10h0m-19-10h0m16 14h0m41-2h0m150 0h0m25 11h0m48-7h0m9 6h0m-25 2h0m-61 5h0m-42-1h0m-4-3h0m-61 5h0m-28-4h0m-63 8h0m6 12h0m1-5h0m26-2h0m17 2h0m25 0h0m101 6h0m25-2h0m18-8h0m42 11h0m-35 6h0m-5-4h0m-91 6h0m-7-6h0m-109 5h0m-22 0h0m88 14h0m1-9h0m19 3h0m39 5h0m85-6h0m13 4h0m62-1h0m5 5h0m-79 11h0m-158-3h0m-34-6h0m-26 17h0m42-4h0m9 5h0m46-2h0m34-3h0m107 2h0m28 2h0m-44 14h0m-10 2h0m-90-5h0m-43-1h0m-7 3h0m-3 5h0m-19-9h0m-65 21h0m14-9h0m25 2h0m12-2h0m115 7h0m11-6h0m1 7h0m62-3h0m11-4h0m57 19h0m-23 0h0m-13-3h0m-5-7h0m-10 10h0m-24-9h0m-26 0h0m-70 5h0m-8 3h0m-44-1h0m-90-2h0m39 14h0m1 1h0m27-4h0m19 5h0m3-8h0m20 4h0m29-4h0m8 3h0m19 0h0m13 1h0m19-1h0m78 4h0m21-4h0m8 7h0m-26 8h0m-14-3h0m-32-2h0m-75 7h0m-25-3h0m-14-4h0m-30-1h0m-88 9h0m44 1h0m74 9h0m52-8h0m98 5h0m39 16h0m-6-7h0m-16 8h0m-31-1h0m-7-3h0m-17 0h0m-47-2h0m-13 5h0m-19 0h0m-48-7h0m-16 0h0m-6 5h0m-5 3h0m-11 8h0m7-1h0m47-4h0m116 1h0m24 6h0m63 1h0m-172 12h0m-15-3h0m-3-6h0m-13 2h0m-94 5h0m-18 4h0m68 3h0m103-2h0m93 9h0m-68 10h0m-50 0h0m-13-1h0m-75-5h0m-14 5h0m-16-5h0m-34 0h0m64 12h0m51-2h0m32 4h0m111 0h0m50-1h0m9 15h0m-114 1h0m-77-5h0m-18 6h0m-14 0h0m-41 2h0m77 13h0m20-2h0m9-3h0m8 3h0m7-6h0m48 5h0m12 0h0m56-4h0m26 10h0m-16-1h0m-176 8h0m-56-3h0m-5 4h0m-15-3h0m-45 8h0m12 0h0m117 0h0m21-2h0m60 4h0" stroke="#7a3a9c" stroke-width="3"/><path d="M299 -1h0m-126-5h0m-23 3h0m-154 5h0m22 9h0m78-2h0m35-7h0m38-1h0m24 1h0m99 13h0m-34 0h0m-88 3h0m-22-3h0m-25-2h0m-48 2h0m-46-1h0m-16 4h0m-4 0h0m-18 13h0m49-3h0m15 4h0m64-8h0m10 9h0m116-1h0m17 2h0m6-9h0m11 2h0m26 17h0m-61-6h0m-19 9h0m-12-3h0m-18 1h0m-13-8h0m-4 8h0m-121-6h0m-64 17h0m66 2h0m63-2h0m41-7h0m24 10h0m1-10h0m31 22h0m-12-11h0m-186 11h0m-24 3h0m49 5h0m17-6h0m18 10h0m51-4h0m45 1h0m19-4h0m91 4h0m15 3h0m4 9h0m-28-6h0m-76 6h0m-108-8h0m-29 7h0m-13 1h0m-4 2h0m-7-5h0m-48 9h0m22-2h0m1 7h0m25-4h0m181 7h0m25-8h0m14 6h0m37 1h0m-1 6h0m-125 2h0m-84-1h0m-35 16h0m24 3h0m15-1h0m55-1h0m11-9h0m20 5h0m11 4h0m113 1h0m7-4h0m-300 29h0m9 0h0m77-4h0m38-7h0m67 7h0m96 2h0m15 3h0m-5 11h0m-117-2h0m-1-7h0m-75 1h0m-44 2h0m-62 8h0m5 10h0m132-8h0m41-1h0m41 1h0m49-2h0m2 8h0m41-9h0m-83 13h0m-28 6h0m-11-1h0m-26 3h0m-13-8h0m-102-1h0m-46 3h0m-1 8h0m19 3h0m23 0h0m36 0h0m44 6h0m6-1h0m79-3h0m30-4h0m29 11h0m20-5h0m-38 10h0m-5-1h0m-31-1h0m-60 3h0m-15-5h0m-26 2h0m-14 4h0m-31 4h0m-13-6h0m-13 0h0m-11 2h0m-35 3h0m-1-5h0m2 13h0m20-3h0m9-2h0m85 2h0m1 3h0m87-3h0m66 0h0m11 6h0m3 2h0m21-1h0m-43 14h0m-36-10h0m-14 0h0m-24 3h0m-16-4h0m-109 10h0m-20-8h0m-5 3h0m-38 17h0m21 0h0m97-1h0m3-5h0m61 4h0m58 3h0m62 11h0m-51-10h0m-48 11h0m-43-1h0m-11-7h0m-11 1h0m-54-2h0m-73 7h0m-2-6h0m11 9h0m7 10h0m38-5h0m41-2h0m2 8h0m43-9h0m29 7h0m32-3h0m17 1h0m30-7h0m1 9h0m12-3h0m-14 15h0m-14 2h0m-14-3h0m-64 2h0m-15 0h0m-6-3h0m-25 4h0m-13-3h0m-48 2h0m-1-9h0m-48 16h0m45-2h0m41 2h0m39-4h0m65 8h0m85-7h0m22 2h0m-23 8h0m-54 3h0m-27-1h0m-14 0h0m-16 4h0m-21 1h0m-43-1h0m-49-6h0m-11 2h0m-10 8h0m-24-4h0m-14 2h0m95 4h0m60 0h0m16 3h0m15-1h0m55 3h0m51-1h0" stroke="#7a3a9c" stroke-width="3.5"/><path d="M304 -2h0m-47 0h0m-31-3h0m-41 3h0m-23 1h0m-109-4h0m5 16h0m46-4h0m77 0h0m48 4h0m21-7h0m23-2h0m14-1h0m10 3h0m9-2h0m4 5h0m3 6h0m-2 6h0m-16 3h0m-10-3h0m-40 4h0m-23-3h0m-12-5h0m-23 1h0m-49-1h0m-71-3h0m-21 5h0m-44 17h0m97-4h0m88-6h0m14 7h0m51-7h0m-18 14h0m-100 5h0m-113 13h0m52 2h0m66-5h0m80 6h0m56-6h0m28 13h0m-62 4h0m-29-3h0m-159-4h0m-34 5h0m-23 2h0m123 10h0m111 2h0m8-6h0m26-2h0m19 2h0m6 17h0m-75 0h0m-85 0h0m-127 13h0m22-2h0m100 1h0m31-5h0m154 1h0m-25 15h0m-25-1h0m-17 3h0m-44-1h0m-42 2h0m-13-11h0m-34 8h0m-87 2h0m-29-5h0m29 12h0m27-4h0m81 10h0m123-8h0m55-2h0m-5 19h0m-10-3h0m-104 5h0m-45-6h0m-25 0h0m-8 1h0m-114-3h0m-6 9h0m28 11h0m78-7h0m3 7h0m20-6h0m7-3h0m4 10h0m82-3h0m6-6h0m80-1h0m-127 11h0m-20 6h0m-31-3h0m-23 1h0m-20 5h0m-21-3h0m-8-2h0m-23-4h0m-30 15h0m50-2h0m28 0h0m39 7h0m93-7h0m2 10h0m44-10h0m65 21h0m-69 1h0m-22-2h0m-45-2h0m-48 0h0m-35-6h0m-11 10h0m-17 0h0m-47-7h0m-24-2h0m4 16h0m40 0h0m25-4h0m31 0h0m89 6h0m97-1h0m15 1h0m-64 12h0m-83-5h0m-23-3h0m-106 4h0m-8-3h0m58 20h0m15-6h0m50 1h0m10 6h0m3 1h0m7-5h0m38-3h0m17 8h0m51-5h0m50-2h0m-14 8h0m-11 7h0m-26-5h0m-6 5h0m-55-5h0m-26-2h0m-100 8h0m-51-8h0m-33 4h0m0 12h0m28-2h0m7 4h0m85-5h0m29 0h0m28 9h0m21-5h0m101 2h0m20 3h0m3-7h0m-46 13h0m-45 1h0m-160 0h0m-34 1h0m-12 10h0m17-4h0m57 4h0m107 4h0m25-8h0m50 6h0m22-1h0m10 10h0m-14-1h0m-38-2h0m-47 7h0m-13 0h0m-70 4h0m-24-11h0m-62 0h0m-8 9h0m-15-1h0m-20 12h0m5-6h0m24 0h0m51 1h0m32 7h0m57-8h0m52-2h0m51 1h0m8 3h0m18-4h0m11 1h0m-28 13h0m-3 8h0m-3-5h0m-57 2h0m-17 4h0m-1-11h0m-48 5h0m-12-5h0m-63 8h0m-46-5h0m-33 3h0m59 11h0m12-1h0m15-2h0m224 1h0" stroke="#7a3a9c" stroke-width="4"/><path d="M150 0h11l-4 20-9 18-5 2 3-20Z" fill="#fbf2f7"/><path d="M76 122l5 2-2 28-8 24-9 24-7 14-3-2 8-28 10-34Z" fill="#f0c6e6" fill-opacity="0.8"/><path d="M205 180l6-2 2 14-4 6-4-6Z" fill="#fbf2f7"/><path d="M202 218l7-2 1 14-6 2-5-6Z" fill="#fbf2f7"/></g></g>
<clipPath id="c2"><rect width="306" height="306"/></clipPath>
<g transform="translate(1470 755.5)" clip-path="url(#c2)"><g filter="url(#bl)" stroke-linecap="round" fill="none"><rect x="-2" y="-2" width="310" height="310" fill="#d865bf"/><path d="M288 13h0m-176 0h0m122 15h0m-150 19h0m-47 12h0m3-8h0m265 1h0m-53 9h0m1 15h0m15-2h0m-157 30h0m58 10h0m78 21h0m-233 18h0m65-6h0m15-1h0m81 1h0m4 20h0m-174 6h0m115 3h0m99-8h0m43 0h0m-203 21h0m-62 0h0m78 32h0m68 0h0m53 21h0m23 3h0m-200 30h0m261-4h0m-17 10h0m-179 13h0m6-6h0" stroke="#ec9dda" stroke-width="6.5"/><path d="M244 -6h0m-10 2h0m-47 0h0m-133-1h0m-12 3h0m20 12h0m11-6h0m38-2h0m119 6h0m-65 12h0m-13 1h0m-17-5h0m-12-4h0m-64 7h0m-49 15h0m211-7h0m33 17h0m-71-7h0m-80 9h0m-107-3h0m-3 14h0m8-8h0m42 4h0m124-2h0m95 6h0m48 8h0m-88 6h0m-2-7h0m-66 1h0m-18 1h0m-24-4h0m-63 9h0m5 10h0m73-3h0m10-6h0m28 3h0m10-3h0m105 2h0m20 3h0m-38 11h0m-6 1h0m-58-4h0m-77 5h0m-49 5h0m-79 6h0m81 1h0m8-5h0m14 1h0m39 8h0m27-9h0m11 7h0m20-6h0m37 6h0m12-3h0m28 1h0m9-1h0m-17 17h0m-29-7h0m-54 7h0m-101-8h0m-82 11h0m140 2h0m58 3h0m13-3h0m12-3h0m18 1h0m26 7h0m10 3h0m12-1h0m25-4h0m-138 6h0m-4 4h0m-3 4h0m-11-4h0m-67-1h0m-5 6h0m-46-1h0m-13 0h0m5 13h0m228-6h0m41 16h0m-12-2h0m-59 6h0m-111-10h0m-37 3h0m-38 7h0m-5-3h0m-18-3h0m-19 10h0m80 0h0m76 0h0m40 6h0m74-2h0m33 0h0m-16 5h0m-31 5h0m-20-4h0m-44-1h0m-79 6h0m-13 0h0m-96 8h0m16-2h0m79 5h0m15 3h0m25 3h0m17-10h0m69 8h0m79-6h0m-35 12h0m-15-2h0m-42 5h0m-6-2h0m-181 9h0m206 4h0m5 1h0m72 8h0m0 4h0m-176-1h0m-15 1h0m-3-2h0m-43-3h0m-37 9h0m110 3h0m89 5h0m50-2h0m-1 15h0m-56-1h0m-39 3h0m-17-9h0m-139 3h0m-24-1h0m138 12h0m38-2h0m7 11h0m93 6h0m-49-3h0m-45 6h0m-43-3h0m-42 3h0m-21 3h0m-17-11h0m-26 10h0m-26-7h0m-15 18h0m36-9h0m48 7h0m34 3h0m27-1h0m10-9h0m81 8h0m31 0h0m2-7h0m34 9h0m9-3h0m-14 13h0m-240 3h0m-51-5h0m264 7h0" stroke="#ec9dda" stroke-width="7"/><path d="M305 -5h0m-245 4h0m-48 4h0m11 1h0m94-1h0m63 0h0m57 2h0m7 2h0m19-5h0m6 9h0m10 3h0m-24 8h0m-14-9h0m-5 1h0m-6 0h0m-52 8h0m-111 0h0m-26-1h0m-11-7h0m-10 7h0m13 10h0m62 0h0m28-2h0m44 6h0m103 0h0m10-10h0m29 4h0m-63 12h0m-21-5h0m-16 5h0m-149 1h0m-26-6h0m-20 11h0m8 6h0m35-1h0m36-1h0m182 5h0m31-7h0m-59 11h0m-82 2h0m-23 0h0m-133 3h0m-7 1h0m24 14h0m75-2h0m9-2h0m11 7h0m76-9h0m3 3h0m29 4h0m17-6h0m65 17h0m-214-3h0m-68 4h0m-8 3h0m181 7h0m47 1h0m11 8h0m-56 2h0m-95-2h0m-83 15h0m116-1h0m106 2h0m38-5h0m-25 14h0m-9-3h0m-60 9h0m-48-9h0m-91 5h0m-52 8h0m52 4h0m18 0h0m31 4h0m116-8h0m8 5h0m8 12h0m-30 2h0m-45-9h0m-52 1h0m-33 3h0m-12 6h0m-6-6h0m15 13h0m222-2h0m-124 9h0m-107-1h0m-67 1h0m35 13h0m9-1h0m45 10h0m60-2h0m54-6h0m24-2h0m19 3h0m32 13h0m-166 3h0m-14-5h0m-68 2h0m5 18h0m38-8h0m21 7h0m15-6h0m57 1h0m87 2h0m50-4h0m-53 15h0m-63-4h0m-30 6h0m-157 12h0m135-6h0m117 4h0m11-6h0m22 10h0m8 9h0m-5-3h0m-29 0h0m-25 0h0m-41-4h0m-63 6h0m89 8h0m42 6h0m32 0h0m-3 7h0m-13-1h0m-270 15h0m18 1h0m120 4h0m35-8h0m16-2h0m0 3h0m40 2h0m71-4h0m12 12h0m-41 1h0m-8 0h0m-18-1h0m-27 2h0m-132 8h0m-42-8h0m-32 8h0m-18-1h0m248 2h0" stroke="#ec9dda" stroke-width="7.5"/><path d="M308 -7h0m-32 5h0m-138 1h0m-99 6h0m91 1h0m2 4h0m38 1h0m17-3h0m119-3h0m-44 12h0m-10-5h0m-30 2h0m-125 5h0m-98-4h0m12 15h0m44-1h0m96 0h0m119-5h0m17 2h0m8 14h0m-120 0h0m-28 4h0m-25-7h0m-4 6h0m-41 11h0m32-5h0m8 2h0m58-2h0m60-1h0m70 16h0m-9-1h0m-17 0h0m-14 1h0m-35 0h0m-18-1h0m-18 2h0m-21 0h0m-60 6h0m-78-1h0m-38 9h0m59-7h0m16 10h0m24-6h0m82 3h0m24-5h0m91-1h0m3 2h0m-57 11h0m-34 4h0m-21 3h0m-47 1h0m-15 1h0m-21-10h0m-77 5h0m-16 8h0m70 6h0m64 1h0m86-8h0m36 0h0m42 18h0m-20-6h0m-17 2h0m-22 8h0m-17-1h0m-87 1h0m-32-1h0m-17-10h0m-42 4h0m-57 13h0m92-2h0m142 8h0m42-11h0m37 20h0m-20 3h0m-33-11h0m-42 7h0m-188-3h0m-12 7h0m39 2h0m44 5h0m39-5h0m9 6h0m132 9h0m-13 0h0m-269-4h0m17 16h0m38 2h0m50-1h0m19-2h0m111 5h0m17 5h0m-100 7h0m-145-8h0m101 14h0m125 3h0m7-2h0m19 2h0m40 9h0m-18 0h0m-33-2h0m-55 6h0m-108-6h0m-20 5h0m-41 2h0m11 9h0m100 6h0m12 0h0m76-6h0m84 2h0m-6 9h0m-109 5h0m-67 2h0m-58-4h0m-27 0h0m-11 13h0m291 9h0m-41-3h0m-4 5h0m-23 4h0m-82-2h0m-30 2h0m-25-10h0m-61 7h0m-1-5h0m-10 4h0m-28 7h0m10 6h0m65 2h0m17-2h0m89-4h0m106 16h0m-101-5h0m-59 6h0m-82 3h0m-25 6h0m14-2h0m55 4h0m48-5h0m44 7h0m5 2h0m46-9h0m31 6h0m23 1h0m11 12h0m-55 2h0m-123-3h0m-7-8h0m-59 5h0m41 10h0m45-2h0m57 0h0" stroke="#ec9dda" stroke-width="8"/><path d="M132 -4h0m-103 39h0m33 2h0m197 32h0m-25 36h0m62 11h0m-198 60h0m211 14h0m-16 0h0m-17 24h0m-175 21h0m64 19h0m-58 3h0m179 26h0m-80-3h0m-74 16h0m149 13h0m-30-3h0m-87 3h0" stroke="#ec9dda" stroke-width="8.5"/><path d="M296 -4h0m-35-2h0m-123 36h0m-71 16h0m-18-10h0m207 20h0m27-2h0m-43 19h0m-125 12h0m-25 9h0m6 11h0m71-8h0m126 21h0m-189-5h0m-97 17h0m64-1h0m5 1h0m55 16h0m-104 15h0m-22 27h0m10 7h0m277 1h0m-53 9h0m-12 2h0m61 19h0m-207 17h0m-77 30h0m32 0h0m174 10h0m-158 16h0m86 14h0" stroke="#f0b0e0" stroke-width="6.5"/><path d="M269 -1h0m-106-1h0m-77-6h0m-66 6h0m9 8h0m20 0h0m38 4h0m15 0h0m34-4h0m56 1h0m110 12h0m-44-5h0m-9 6h0m-30 3h0m-13-10h0m-17 9h0m-16-4h0m-31 2h0m-8-1h0m-54-1h0m-8-4h0m-19-1h0m-9 0h0m-26-1h0m-4 4h0m6 13h0m59 2h0m50-3h0m179 11h0m-49 4h0m-33 1h0m-71 1h0m-62-9h0m-40 10h0m-58-7h0m91 18h0m34 2h0m35-3h0m24-3h0m59 9h0m-191-1h0m-50 3h0m10 8h0m4 5h0m26 4h0m173-7h0m104 11h0m-10 1h0m-15 3h0m-19-5h0m-240 0h0m-29 6h0m18 14h0m26 1h0m42-2h0m77 4h0m47-5h0m53 1h0m28-4h0m3 8h0m16-2h0m-31 10h0m-30 3h0m-39-8h0m-36 6h0m-95 1h0m-21-4h0m-39-4h0m6 13h0m100 5h0m1-7h0m153 5h0m6 9h0m-51-1h0m-13 3h0m-46 4h0m-50-1h0m-64 11h0m58-4h0m65-1h0m3 10h0m15-7h0m35-2h0m9 18h0m-88-2h0m-8 0h0m-102 0h0m-4-5h0m-21 9h0m-18-2h0m45 5h0m92 9h0m97-9h0m65-1h0m-177 14h0m-39 5h0m-37-1h0m129 14h0m31 2h0m49-6h0m16 1h0m13 12h0m-156 2h0m-97-2h0m-1-4h0m-39-1h0m201 21h0m68 8h0m-12 2h0m-1-5h0m-55 8h0m-51 1h0m-63-6h0m-32 6h0m-42 8h0m53-4h0m58 1h0m13-1h0m154-2h0m10 7h0m17-4h0m-57 9h0m-35-1h0m-14 7h0m-133 4h0m-23 4h0m3-3h0m46 0h0m8 10h0m12-1h0m6-4h0m111-5h0m42 20h0m-38-6h0m-5-2h0m-16 1h0m-46 3h0m-56 6h0m-34-7h0m-4 2h0m-76-3h0m14 10h0m19 9h0m184 1h0m58 3h0m-68 9h0m-48-6h0m-10 7h0m-7-4h0m-77-3h0m-52 0h0m-5 1h0m32 8h0m131-1h0" stroke="#f0b0e0" stroke-width="7"/><path d="M197 -6h0m-160-1h0m-10 3h0m-17-1h0m-4 2h0m47 5h0m133 9h0m69-8h0m53 1h0m-14 14h0m-57 2h0m-26 3h0m-208-6h0m61 16h0m23-7h0m15 1h0m54 8h0m13-6h0m16 3h0m22 2h0m3-2h0m46-1h0m-85 13h0m-86-5h0m-13-2h0m-44 6h0m-2 13h0m19-7h0m20 6h0m49 2h0m71-9h0m123 6h0m-25 17h0m-154 0h0m-31-1h0m-18-7h0m-1 4h0m-18-5h0m21 21h0m7-3h0m76-8h0m24 0h0m61 1h0m64-1h0m-67 12h0m-36 9h0m-42-7h0m-34 4h0m-65 0h0m-7 13h0m89 0h0m88-6h0m-11 15h0m-19 7h0m-91-1h0m-18 0h0m-72-3h0m-13-6h0m-19 6h0m39 6h0m61 8h0m112 2h0m83-3h0m16 15h0m-6-1h0m-33-3h0m-147-4h0m-19-1h0m-38 0h0m-19 1h0m-53 10h0m27 0h0m29 0h0m14-1h0m202 6h0m4-4h0m-174 15h0m15 9h0m161 17h0m-40 0h0m-35-2h0m-13 0h0m-1 2h0m-45 3h0m-35-1h0m-46-9h0m-13 7h0m-4-1h0m32 17h0m20-7h0m23 1h0m6 5h0m16-4h0m25 5h0m131 8h0m-160-7h0m-83 5h0m-26-5h0m-24 11h0m12 3h0m77-1h0m56 9h0m43-3h0m11-3h0m36 6h0m51 12h0m-8-5h0m-71 6h0m-68 0h0m-45-9h0m-19 9h0m-12-9h0m-17 5h0m-35 4h0m-12-9h0m236 17h0m18 15h0m-122-7h0m-18 6h0m-68 8h0m48 6h0m22-3h0m133-1h0m-30 12h0m-91 1h0m-54 3h0m-25-9h0m-6-2h0m4 14h0m19 2h0m41 5h0m12-3h0m42-6h0m48 2h0m-24 15h0m-105 4h0m-39-9h0m-42 4h0m4 8h0m26 3h0m144-1h0m53 0h0m66-2h0" stroke="#f0b0e0" stroke-width="7.5"/><path d="M209 -1h0m-52-5h0m-14 0h0m-73 1h0m34 8h0m55-2h0m109 4h0m17-2h0m3 19h0m-179-4h0m-107-5h0m-1 15h0m33-2h0m36 3h0m31 5h0m29-10h0m17 2h0m13 8h0m134 13h0m-10-6h0m-27-4h0m-12 9h0m-242-10h0m157 19h0m76-4h0m-130 14h0m-3 2h0m-37 1h0m-12-2h0m6 12h0m63-4h0m23-2h0m37 3h0m12 1h0m70 6h0m5-7h0m4 14h0m-23 6h0m-50-1h0m-16-5h0m-23-2h0m-9-1h0m-26 8h0m-67-2h0m-50-8h0m-15 4h0m45 13h0m66 3h0m17 1h0m145-7h0m-50 16h0m-25-6h0m-8 8h0m-40-6h0m-60 5h0m-16-1h0m-23 1h0m-33 3h0m35 3h0m67 5h0m87 0h0m32 5h0m67-9h0m-231 13h0m83 17h0m23-2h0m36-4h0m80 0h0m-71 15h0m-45 3h0m-162 0h0m-4 12h0m20-6h0m16 7h0m40-9h0m119 1h0m6 0h0m46 0h0m53 9h0m-57 4h0m-101 4h0m-32 4h0m-96-4h0m41 17h0m78-10h0m16 3h0m45 5h0m84-6h0m25 9h0m-82 11h0m-66-6h0m-87 1h0m-76-4h0m49 14h0m3 6h0m65-5h0m35-1h0m49 0h0m111 14h0m-19-1h0m-31-5h0m-39 5h0m-40-5h0m-22 9h0m-64 10h0m106 3h0m29 1h0m26-7h0m45 17h0m-97-8h0m-68 3h0m-71-1h0m-43 7h0m-20 2h0m187 9h0m33-8h0m84 8h0m-4 7h0m-47 7h0m-149 0h0m-8-9h0m-88 6h0m-20 1h0m17 9h0m41 0h0m22 0h0m215-2h0m-51 11h0m-6-2h0m-138 2h0m-62 1h0" stroke="#f0b0e0" stroke-width="8"/><path d="M221 1h0m75 28h0m-74 16h0m-195 15h0m125 12h0m6 55h0m-163 12h0m319 15h0m-130 11h0m-39-5h0m74 51h0m-115 19h0m-50 24h0m150 13h0m90 36h0m-94-1h0" stroke="#f0b0e0" stroke-width="8.5"/><path d="M253 -1h0m-80-5h0m-64 5h0m204 22h0m-120-8h0m-36-1h0m-144 7h0m209 22h0m-85-5h0m-61 8h0m106 21h0m-162 0h0m61 14h0m158 0h0m-183 14h0m-25 10h0m253 4h0m-127 8h0m-21-5h0m125 33h0m-126 16h0m-57-2h0m61 21h0m-83 23h0m94 1h0m51-5h0m-89 23h0m-30 8h0m-35 16h0m154 18h0m-186-10h0m220 17h0m20 11h0m-95-2h0m149 32h0m-173-6h0" stroke="#e690d4" stroke-width="6.5"/><path d="M104 -3h0m-111-1h0m69 7h0m13 1h0m7 5h0m83 2h0m35-6h0m12 1h0m83 4h0m-90 8h0m-12 4h0m-140-3h0m-57 4h0m196 9h0m1 2h0m54-6h0m52 6h0m4-2h0m-68 6h0m-73 9h0m-112-11h0m-30 7h0m-14 9h0m122 7h0m17-2h0m48-7h0m12 0h0m40 5h0m28-4h0m0 13h0m-67-2h0m-208 7h0m22 8h0m126 3h0m4 1h0m68-2h0m68 15h0m-4 1h0m-55-5h0m-18-3h0m-27 1h0m-39 0h0m-34 7h0m-65-6h0m-7 1h0m-28 8h0m117 8h0m50-8h0m3 8h0m18-4h0m110-2h0m6 11h0m-70-2h0m-84 1h0m-63 9h0m-26-2h0m-30-8h0m-16 20h0m28 0h0m34-1h0m19 2h0m35 1h0m54-10h0m26 9h0m-29 9h0m-161 7h0m10 0h0m73 1h0m9 6h0m22-7h0m50 6h0m18 0h0m20-6h0m20 15h0m-59 4h0m-22-1h0m-38-7h0m-14 8h0m-123-4h0m88 18h0m47-10h0m20 9h0m67 1h0m49-7h0m14 17h0m-36 1h0m-5 0h0m-59-10h0m-186 18h0m14 3h0m52-8h0m69-1h0m172 10h0m-109 4h0m-12 7h0m-28 0h0m-21-1h0m-15 1h0m-6-3h0m-68-3h0m-29 2h0m20 12h0m30-1h0m75-3h0m34 2h0m40 7h0m49-7h0m48 9h0m-101 9h0m-35-3h0m-179 2h0m40 10h0m136-4h0m19 4h0m12-1h0m57 14h0m-80-5h0m-28 5h0m-5 3h0m-24 0h0m-2-9h0m-28 6h0m-22 0h0m-7 4h0m-68-11h0m78 19h0m19-1h0m47-1h0m31 0h0m6-2h0m122 2h0m-60 14h0m-24-2h0m-94-2h0m-21 5h0m-96-1h0m246 15h0m53 5h0m-15-3h0m-115 0h0m-50 11h0m-98 0h0m12 4h0m190-1h0" stroke="#e690d4" stroke-width="7"/><path d="M289 -7h0m-57-1h0m-32 7h0m-207 7h0m13-4h0m88 9h0m1-4h0m59 1h0m18-4h0m126 2h0m-22 15h0m-67-9h0m-31 0h0m-75 5h0m-57 5h0m-12-10h0m9 19h0m69-4h0m3 7h0m13 1h0m31-4h0m68 1h0m4-8h0m80 21h0m-36 1h0m-16-7h0m-111 0h0m-72 0h0m-4 18h0m116-3h0m43-2h0m64 1h0m-210 12h0m-82 14h0m10-5h0m73 0h0m86-1h0m70-1h0m72 7h0m-22 6h0m-203 0h0m-85 18h0m51 4h0m50-9h0m114 5h0m92 16h0m-59-8h0m-123 0h0m-111 6h0m-11 5h0m8 9h0m169-1h0m122 1h0m-15 10h0m-136-9h0m-143 3h0m23 16h0m91 0h0m81 2h0m38-1h0m34 3h0m27 0h0m-37 2h0m-44 7h0m-16-2h0m-44 5h0m-28 0h0m-53-9h0m-61-2h0m3 22h0m51-2h0m88 0h0m41 1h0m56-1h0m16 0h0m10-8h0m10 11h0m-95 9h0m-42-3h0m-34 0h0m-111-2h0m30 14h0m6-3h0m127 2h0m8-3h0m3 10h0m24-7h0m97-3h0m-55 15h0m-168 5h0m11 5h0m74 9h0m7-7h0m43 7h0m64-5h0m-9 9h0m-5-2h0m-96 7h0m-27-5h0m-111-1h0m-20 5h0m-18 4h0m6 6h0m28 6h0m26-1h0m26-8h0m19 3h0m8 0h0m38 1h0m58-3h0m41 4h0m18-1h0m33 6h0m-58 4h0m-46 5h0m-50-7h0m-51 1h0m-17-3h0m78 20h0m109-1h0m37-1h0m7 4h0m-138 4h0m-44 3h0m-60-1h0m-17-2h0m-52 0h0m168 15h0m43 5h0m-79 4h0m-35 8h0m-15-9h0m-12 13h0" stroke="#e690d4" stroke-width="7.5"/><path d="M218 -4h0m-36 2h0m-85-1h0m-18-1h0m8 8h0m60-3h0m158 12h0m-163 3h0m-144 15h0m86-7h0m175 8h0m7-6h0m15 8h0m-13 9h0m-55 3h0m-76 1h0m-41 0h0m-57-1h0m-19-7h0m-4 15h0m86-1h0m23 0h0m15 3h0m146 4h0m-99 1h0m-93 0h0m-22 7h0m-44 0h0m17 14h0m90-6h0m34 1h0m39 1h0m17-4h0m57 5h0m3 0h0m14 14h0m-51 0h0m-26-4h0m-4 4h0m-67-1h0m-87-5h0m-9 3h0m-10 4h0m-49 1h0m14 7h0m174-2h0m-21 17h0m-42-5h0m-65 5h0m-51-5h0m32 13h0m23 4h0m125-5h0m118 12h0m-22 3h0m-78-1h0m-18-4h0m-45 2h0m-26 4h0m-21-6h0m-49-2h0m25 15h0m17 7h0m67-7h0m5 0h0m10 1h0m66 4h0m21 0h0m31-2h0m22 11h0m-5 4h0m-35-4h0m-95-4h0m-47 5h0m-12-1h0m-13 11h0m67-1h0m19-1h0m10-2h0m18 8h0m32-8h0m32 0h0m31 4h0m-24 17h0m-77-2h0m-128-3h0m-10 4h0m-2-8h0m-36 6h0m-16-6h0m13 23h0m40-6h0m8-3h0m29 9h0m63-6h0m89 5h0m8-10h0m22 9h0m20 11h0m-70 0h0m-41 3h0m-31-9h0m-1 3h0m-21 4h0m-74 0h0m-70-4h0m-2 12h0m9 5h0m11 0h0m29 0h0m82-6h0m96 7h0m51-5h0m-42 14h0m-13 2h0m-17-7h0m-44-3h0m-41 3h0m-105 1h0m14 15h0m41-3h0m20 7h0m69-7h0m18-3h0m129 3h0m-13 11h0m-101 2h0m-21 2h0m-84 1h0m-89-1h0m16 10h0m17-1h0m34-1h0m17 2h0m68 6h0m76-3h0m37-1h0m33-7h0m18 0h0m-1 21h0m-87 2h0m-115 12h0m39-3h0m27-1h0m25 1h0m73-1h0m-62 6h0m-26 10h0m-78 0h0m-5-8h0m-14-1h0m-30 6h0m179 5h0m23 1h0" stroke="#e690d4" stroke-width="8"/><path d="M178 29h0m-53 15h0m180 23h0m-177 23h0m-10 39h0m64 0h0m94 14h0m-173 3h0m145 0h0m-246 10h0m169 31h0m-54 8h0m-23 18h0m2 20h0m-45 15h0m-33 15h0m202 7h0m74 10h0m-50 15h0m7-6h0m-70 17h0m-25-4h0" stroke="#e690d4" stroke-width="8.5"/><path d="M261 209h0" stroke="#f8e6f4" stroke-width="6.5"/><path d="M191 48h0m93 0h0m-250 133h0m46 54h0m-18 51h0" stroke="#f8e6f4" stroke-width="7"/><path d="M203 44h0m-166 49h0m22 71h0m245 23h0m-46-1h0m-40 3h0m-104-9h0m192 35h0m-302 8h0m153 28h0m40 59h0" stroke="#f8e6f4" stroke-width="7.5"/><path d="M124 -8h0m81 38h0m10 27h0m3-3h0m-194 13h0m131 52h0m71 15h0m-224 4h0m291 17h0m-21 64h0m-254 37h0m121 23h0" stroke="#f8e6f4" stroke-width="8"/><path d="M118 18h0m-44 41h0m98 60h0m-88 26h0m160 67h0m-198 4h0m266 6h0m-148 69h0" stroke="#f8e6f4" stroke-width="8.5"/><path d="M279 6h0m-219 116h0m217-1h0m-171 55h0m-56 36h0m-56 57h0" stroke="#f8e6f4" stroke-width="9"/><path d="M312 14h0m-283 6h0m118 77h0m75 60h0m-79 16h0m104 54h0m7-6h0m-97 47h0m14 19h0m-144-9h0" stroke="#f8e6f4" stroke-width="9.5"/><path d="M209 219h0" stroke="#f8e6f4" stroke-width="10"/><path d="M232 -8h0m-32 7h0m-121-4h0m-36 4h0m-33-3h0m-17 0h0m29 8h0m41 6h0m24-7h0m8 5h0m192 4h0m-49 3h0m-16 0h0m-12-3h0m-41 0h0m-16 9h0m-151-3h0m-3-3h0m104 19h0m118-10h0m38 7h0m22-6h0m0 10h0m19 0h0m-32 8h0m-15 2h0m-29-8h0m-2 4h0m-149-3h0m-21 7h0m-23-2h0m-9-4h0m52 18h0m54-4h0m120 6h0m60-9h0m5 14h0m-174 2h0m-25 5h0m-109 8h0m55-6h0m25 10h0m54-7h0m12 5h0m19-4h0m9 3h0m19-4h0m27-3h0m91 6h0m-24 11h0m-28-2h0m-92-1h0m-43 7h0m-25-9h0m-13 0h0m0 9h0m-64-3h0m-5 5h0m156 2h0m34 5h0m57-5h0m45 20h0m-16-2h0m-127-2h0m-61-2h0m-88-2h0m-25 16h0m58 4h0m157-10h0m77 14h0m-19 5h0m-46-4h0m-8 5h0m-12-1h0m-46-5h0m-110 1h0m-2-3h0m-50 14h0m5 1h0m103-2h0m21 7h0m103 0h0m52 2h0m36-1h0m-10 13h0m-7-2h0m-34-6h0m-11 4h0m-191 4h0m-23 0h0m-33-2h0m97 9h0m28-3h0m8 7h0m66 0h0m6-6h0m29-1h0m17-1h0m22-1h0m14 4h0m-46 8h0m-13 8h0m-135-1h0m-103-5h0m140 17h0m13 4h0m33-2h0m31-6h0m14 2h0m66 14h0m-37-3h0m-24 7h0m-68-5h0m-70-4h0m-56 3h0m-28 15h0m27-1h0m62-6h0m46 9h0m44-2h0m9-1h0m90-2h0m-187 13h0m-54 1h0m-50 2h0m51 7h0m83-2h0m12 1h0m130 9h0m-2 5h0m-91-2h0m-8 5h0m-135-3h0m-9 6h0m10 11h0m166-7h0m21 5h0m32 0h0m33-1h0m-8 12h0m-9-4h0m-35 6h0m-19-1h0m-89-2h0m-26-4h0m0 7h0m-17-6h0m-23-3h0m-15 3h0m-28 8h0m203 10h0m59 12h0m-16-7h0m-93-2h0m-24 6h0m-55-2h0m-94 9h0m28 3h0m176-1h0m22 0h0" stroke="#7a3aa0" stroke-width="3"/><path d="M275 -3h0m-42-1h0m-24 3h0m-11-5h0m-16 4h0m-43 0h0m-16-4h0m-62 5h0m-24-5h0m-31 1h0m24 10h0m5 6h0m17-10h0m9 2h0m70 8h0m22-4h0m28-4h0m7 6h0m22-4h0m10-4h0m32 10h0m18-5h0m44 15h0m-51-5h0m-22-4h0m-35 7h0m-12 4h0m-18 0h0m-34-2h0m-1-7h0m-5 3h0m-26 2h0m-12-1h0m-40 2h0m-45 0h0m-11-8h0m17 16h0m13 3h0m18 4h0m5-6h0m27-3h0m30 2h0m16 0h0m19-3h0m5 5h0m6 0h0m20-1h0m15 3h0m0 2h0m38-8h0m25 5h0m9-6h0m18 15h0m-23-2h0m-14 7h0m-12-7h0m-8 6h0m-44-7h0m-88-1h0m-9 4h0m-1 7h0m-8-7h0m-47-4h0m-17 10h0m-7 7h0m51 0h0m36-1h0m64 5h0m30-9h0m50 1h0m21 6h0m50-2h0m-23 18h0m-19-7h0m-6 4h0m-7-7h0m-59 4h0m-6-4h0m-22 1h0m-12 9h0m-6-1h0m-18 1h0m-26-5h0m-23-1h0m-1 4h0m-7-1h0m-6 2h0m-4-8h0m-8 4h0m-46-2h0m-1 7h0m-5-6h0m-4 15h0m22-4h0m70 4h0m38-4h0m44-4h0m3 0h0m15 1h0m11 3h0m8 1h0m37-2h0m23-1h0m26 0h0m17-2h0m-26 22h0m-3 0h0m-9-4h0m-53-1h0m-22 4h0m-45-8h0m-20 5h0m-6 1h0m-65-3h0m-17 2h0m-37 8h0m1 5h0m53 1h0m12-1h0m12 1h0m17-6h0m21 7h0m27-1h0m9-7h0m81 2h0m0 2h0m7 2h0m15-6h0m1 5h0m15-2h0m4 6h0m28 4h0m-50 8h0m-52-8h0m-26 5h0m-8-1h0m-48-4h0m-33 9h0m-10-3h0m-44-6h0m-13 6h0m-11 1h0m-21-3h0m41 12h0m22-6h0m1 9h0m81 2h0m19-3h0m43-2h0m27 4h0m71 11h0m-9-2h0m-30 4h0m-2-6h0m-7-5h0m-7 4h0m-71 5h0m-4-9h0m-3 4h0m-3 4h0m-26-5h0m-26 4h0m-47-4h0m-31 7h0m-14-2h0m-6 14h0m14 0h0m10-8h0m29 3h0m25-3h0m4 5h0m38-5h0m9 6h0m1-6h0m39-1h0m29 6h0m52-2h0m41 6h0m-23 7h0m-14 1h0m-21 3h0m-27-4h0m-63-5h0m-5 4h0m-29 1h0m-9-1h0m-14-5h0m-28 5h0m-29-3h0m-16 3h0m-5-5h0m-22 0h0m-6 6h0m15 13h0m40-7h0m27 1h0m89 9h0m3-7h0m19-1h0m28 7h0m13-2h0m60-7h0m11 6h0m-14 8h0m-6 6h0m-41 3h0m-35-4h0m-20-1h0m-23-2h0m-39 7h0m-32-3h0m-27-8h0m-11 6h0m-37-4h0m-5 18h0m50-6h0m4 8h0m14-7h0m6 8h0m11-5h0m42 5h0m8-1h0m25-6h0m53-4h0m29 5h0m15-4h0m22 8h0m13 0h0m-61 12h0m-109-9h0m-26 9h0m-84-9h0m-3 8h0m-20 9h0m10-4h0m20 2h0m23 0h0m16 1h0m14 7h0m5-11h0m17 4h0m27 5h0m30-5h0m42-1h0m30 6h0m14-2h0m60 5h0m-2 6h0m-10-2h0m-29-4h0m0 5h0m-42 0h0m-19 6h0m-8-2h0m-19 0h0m-36-9h0m-5 11h0m-19 0h0m-5-7h0m-30 2h0m-21-4h0m-1 3h0m-61 5h0m-5 13h0m39-5h0m26 4h0m40-3h0m10 4h0m42-6h0m26-4h0m25 5h0m1 5h0m16-4h0m27 0h0m32-3h0m3 6h0m6-8h0m18 3h0m8 11h0m0 7h0m-10-1h0m-11-8h0m-10 1h0m-25 4h0m-20 4h0m-51-10h0m-23 5h0m-13 1h0m-30 3h0m-9 0h0m-5-5h0m-15 1h0m-45 2h0m-36 4h0m7 0h0m28 6h0m17-6h0m1 3h0m8 4h0m3-7h0m8 8h0m28 1h0m16-3h0m92 2h0m6-6h0m39 6h0m2 0h0m-8 15h0m-19-10h0m-7 2h0m-10-3h0m-45 5h0m-4-4h0m-53 1h0m0 8h0m-106-1h0m-20 0h0m27 8h0m9-1h0m51 4h0m3-2h0m69-6h0m24 7h0m13-7h0m22 10h0m18-5h0m34 3h0m26-5h0m4 5h0m14 15h0m-1-3h0m-17 2h0m-18-7h0m-21 2h0m-37 6h0m-2-9h0m-29 4h0m-1 1h0m-16-4h0m-33-1h0m-72 3h0m-43-1h0m-22 1h0m26 7h0m48 3h0m153 0h0m44-3h0" stroke="#7a3aa0" stroke-width="3.5"/><path d="M305 -5h0m-45 0h0m-17-3h0m-85 2h0m-61 2h0m-12-3h0m-91 12h0m13-3h0m87 9h0m9 0h0m1-7h0m6-1h0m25 3h0m21 5h0m3-10h0m14 3h0m5 7h0m20-5h0m32 1h0m15 2h0m10-9h0m0 5h0m14 5h0m26-1h0m11 4h0m-12 5h0m-17 4h0m-20-8h0m-7 5h0m-21-5h0m-96 5h0m-29-1h0m-23-1h0m-39 4h0m-13-7h0m-8 7h0m-3-9h0m-23 11h0m2 7h0m15 0h0m32 0h0m19 4h0m17-4h0m22-4h0m20 4h0m15 1h0m70 4h0m80-10h0m15 8h0m9 13h0m-16-6h0m-20 7h0m-17-8h0m-35 8h0m-13-6h0m-35 1h0m-15 5h0m-5-1h0m-17 0h0m-14-1h0m-5-4h0m-44 4h0m-6 2h0m-8-4h0m-27-6h0m-14 5h0m-23 0h0m66 14h0m78-1h0m26-5h0m7-2h0m62 4h0m37-2h0m21 5h0m10-2h0m2 14h0m-34-4h0m-44 2h0m-7-2h0m-10-1h0m-68-1h0m-38 5h0m-21-2h0m-35 7h0m-11-11h0m-40 9h0m-1-7h0m32 20h0m73-6h0m8 2h0m12 5h0m15-10h0m27 2h0m32 3h0m42-6h0m13 3h0m14 8h0m5-9h0m0 9h0m10-8h0m17 1h0m15 16h0m-13 0h0m-7-8h0m-35 4h0m-5 7h0m-6-11h0m-29 10h0m-10-3h0m-9-5h0m-35 1h0m-27 6h0m-14-3h0m-1 5h0m-5-11h0m-56 8h0m-3-3h0m-12 5h0m-43-4h0m-7-3h0m25 18h0m24 0h0m11 1h0m25-1h0m26-2h0m72 3h0m22-4h0m70-2h0m22-1h0m4 9h0m-3 11h0m-32-6h0m-7-2h0m-5 6h0m-18 1h0m-1-6h0m-12 2h0m0 5h0m-39 0h0m-7-1h0m-9-2h0m-19-5h0m-23 0h0m-42-1h0m-24 8h0m-3-6h0m-55 8h0m17 10h0m12-9h0m1 6h0m45 1h0m14-4h0m39 3h0m2-5h0m15 4h0m42 2h0m11-6h0m53-2h0m15 8h0m30 0h0m7-7h0m6 9h0m-3 6h0m-51-2h0m-61 8h0m-1-2h0m-34-3h0m-13-4h0m-17 7h0m-43 1h0m-71-7h0m-18 21h0m35-10h0m19-1h0m13 1h0m92 6h0m1-4h0m39 6h0m11-3h0m28-3h0m1 6h0m22-3h0m23 11h0m-55 3h0m-18 2h0m-11-2h0m-21-6h0m-8 7h0m-6-2h0m-24-5h0m-17 8h0m-23-7h0m-38 2h0m-23 2h0m-35 7h0m5 4h0m6-2h0m17 7h0m56 0h0m15-8h0m39-2h0m14 8h0m76-9h0m42 8h0m34 14h0m-16-1h0m-16-1h0m-35-5h0m-64 5h0m-19-1h0m-41 0h0m-41 2h0m-11-1h0m-17 0h0m-11-3h0m-14-5h0m-24 19h0m10-6h0m12 1h0m1-1h0m13 0h0m17 4h0m4-3h0m18 4h0m11 5h0m22-9h0m12 2h0m0 4h0m29-6h0m20 8h0m36-7h0m14 7h0m11-1h0m10-7h0m59 1h0m15 16h0m-17-3h0m-14-1h0m-6 2h0m-73 6h0m-12-6h0m-4 3h0m-31 1h0m-7 0h0m-12-2h0m-15 2h0m-24-2h0m-44-1h0m-35 0h0m-11-5h0m-1 5h0m-2 4h0m-3-10h0m52 21h0m80-6h0m11-1h0m14 1h0m20 0h0m0 8h0m6-7h0m4 7h0m50-4h0m63-3h0m14 7h0m-33 5h0m-43 4h0m-28-5h0m-55 6h0m-22-3h0m-28-2h0m-7 2h0m-25-5h0m-54 2h0m-5 8h0m-16 8h0m34-2h0m23 2h0m23-7h0m60 4h0m24 0h0m32 3h0m32 3h0m12-2h0m33-1h0m20 14h0m-44-7h0m-43 7h0m-3 1h0m-4-6h0m-9 5h0m-16-8h0m-4 0h0m-85-1h0m-10 3h0m0 6h0m-35-9h0m-6 3h0m-25 17h0m1-7h0m14 9h0m12-6h0m50 0h0m21-4h0m20 8h0m17-4h0m18 5h0m56-8h0m22 4h0m75 5h0m-24 8h0m-22 0h0m-36 3h0m-34-8h0m-36 10h0m-14-7h0m-3-3h0m-89 1h0m-56 18h0m44 1h0m0 2h0m4-8h0m2-2h0m6 5h0m62 5h0m3-4h0m22 3h0m13-1h0m17-4h0m21 4h0m2-5h0m3 7h0m36 0h0m10-9h0m3 5h0m8-4h0m13-2h0m8 8h0m26 2h0m3-10h0m-8 13h0m-12 0h0m-39 8h0m-65 1h0m-15-3h0m-8-6h0m-28 7h0m-7 2h0m-42-1h0m-18-2h0m-8-7h0m-22 3h0m-17 1h0m-9 2h0m-9 3h0m18 2h0m90 3h0m6-2h0m41-1h0m38 0h0m52 0h0m9 0h0" stroke="#7a3aa0" stroke-width="4"/><path d="M296 -4h0m-27 3h0m-51-4h0m-56 2h0m-19-5h0m-38 7h0m-36-5h0m-49 4h0m21 7h0m9 2h0m23-4h0m3 1h0m6 4h0m48-2h0m55 5h0m80-9h0m45 1h0m-21 19h0m-53-3h0m-44-6h0m-19 4h0m-9 3h0m-93-7h0m-4 9h0m-21 1h0m-33-8h0m21 11h0m16 9h0m37-8h0m70 7h0m3 0h0m10-6h0m50-1h0m8 6h0m20-4h0m22 6h0m25 11h0m-149-3h0m-85-5h0m-15 9h0m-51-7h0m28 13h0m5 6h0m16-6h0m34 0h0m24 1h0m13 3h0m43-2h0m20-4h0m9 2h0m44-2h0m13 4h0m33-1h0m18 10h0m-9-4h0m-78 2h0m-34 2h0m-63-3h0m-16 1h0m-47 0h0m-13 7h0m-25 8h0m16 2h0m30 1h0m39-4h0m29-1h0m41-2h0m76 1h0m60 4h0m4 8h0m-56 7h0m-38 0h0m-27-3h0m-1-1h0m-85 0h0m-67 13h0m8 0h0m56 2h0m190 5h0m-83 7h0m-44-1h0m-47 3h0m-42 1h0m-61 12h0m14-3h0m76 1h0m6 0h0m31-6h0m48 6h0m12-4h0m41-5h0m11 9h0m24-8h0m2 10h0m14-9h0m24 4h0m-1 15h0m-21 1h0m-262-6h0m7 15h0m171 2h0m41-1h0m2-6h0m9 1h0m29 4h0m-103 16h0m-3-1h0m-34-7h0m-14-1h0m-49 0h0m-33 3h0m-20 9h0m16 8h0m51-2h0m23-1h0m75 1h0m10-6h0m63 4h0m31 5h0m5-10h0m6 4h0m-1 16h0m-16 1h0m-103-9h0m-43 6h0m-46 3h0m-63-4h0m-34 3h0m-7-1h0m33 14h0m61-7h0m17 7h0m14 0h0m37-6h0m29-2h0m13 4h0m3 3h0m56 0h0m42-6h0m-12 14h0m-24-1h0m-13-1h0m-14-2h0m-13 0h0m-6 5h0m-9 0h0m-44-2h0m-90 2h0m-5 2h0m-11-2h0m-17-3h0m-10 0h0m-8 2h0m64 17h0m20-6h0m9 0h0m99-1h0m12 2h0m47 2h0m-22 13h0m-70-1h0m-2-6h0m-19 8h0m-51-4h0m-96 1h0m-20-6h0m11 17h0m3 1h0m12 0h0m65-5h0m32 4h0m89-2h0m90 4h0m17-3h0m-36 16h0m-22-8h0m-5 2h0m-124 1h0m-32 0h0m-10 6h0m-30 1h0m-42-10h0m-9 2h0m36 21h0m11-8h0m49 3h0m40-4h0m28 4h0m22 4h0m56-4h0m47-6h0m1 4h0m-82 13h0m-9 0h0m-17 3h0m-28-5h0m-86 16h0m17-7h0m19 10h0m10 1h0m12-4h0m9 1h0m34-7h0m59 9h0m40-2h0m33-2h0m8 6h0m-13 2h0m-7 6h0m-49-8h0m-7 3h0m-19-1h0m-116 2h0m-7 6h0m41 3h0m123 2h0" stroke="#7a3aa0" stroke-width="4.5"/><path d="M140 85l18-5 4 12 6 5-13 1-7 4-8 3 3-10Z" fill="#fbf4f8"/><path d="M26 118l7 2 3 20-3 5-5-13Z" fill="#fbf4f8"/><path d="M76 188l7-2 2 8-6 2Z" fill="#fbf4f8"/><ellipse cx="168.5" cy="270.7" rx="5.5" ry="13" transform="rotate(12 168.5 270.7)" fill="#fbf4f8"/></g></g>
<clipPath id="c3"><rect width="306" height="306"/></clipPath>
<g transform="translate(1791 755.5)" clip-path="url(#c3)"><g filter="url(#bl)" stroke-linecap="round" fill="none"><rect x="-2" y="-2" width="310" height="310" fill="#df80cd"/><path d="M255 77h0m-74 24h0m-22 69h0m106 31h0m-61 6h0m-66 48h0" stroke="#f2c4ea" stroke-width="6.5"/><path d="M273 -4h0m-93 0h0m-14 2h0m-77 0h0m-47 0h0m20 4h0m18 1h0m20 3h0m53-5h0m148 20h0m-128-7h0m-19 5h0m-46-4h0m-46 6h0m-24 1h0m-39-10h0m79 21h0m182-1h0m27-5h0m5 8h0m-40 7h0m-27-5h0m-131 4h0m-66 11h0m131 1h0m40 4h0m47-6h0m67 2h0m-3 15h0m-26 3h0m-96-9h0m-22 7h0m-24-7h0m-2 6h0m-54-6h0m-61 9h0m-1-8h0m76 13h0m18-2h0m8-1h0m13 2h0m87 2h0m81 10h0m-14-3h0m-30 7h0m-27 1h0m-32-8h0m-6 7h0m-51-6h0m-118 9h0m-8 13h0m40-6h0m68-4h0m14 3h0m5 7h0m39-8h0m8 2h0m81-3h0m34 7h0m6 2h0m-55 2h0m-11 0h0m-33 7h0m-53-5h0m-5-3h0m-65 7h0m-95-1h0m-2 9h0m106 7h0m28 1h0m38-1h0m59-9h0m8 1h0m21 0h0m34 4h0m9 4h0m-1 10h0m-9-2h0m-20 5h0m-40-5h0m-65 2h0m-27-1h0m-127 1h0m6 10h0m149 4h0m23-5h0m100-2h0m18 18h0m-18-1h0m-60-5h0m-28 7h0m-154-5h0m-51-3h0m55 15h0m185 5h0m15 1h0m49-2h0m-29 12h0m-100-8h0m-12 1h0m-85-2h0m-7 10h0m-4-1h0m-42-7h0m-18 7h0m-2 7h0m34 2h0m118 3h0m112-5h0m23-2h0m-23 18h0m-3-8h0m-19 0h0m-14 11h0m-11 0h0m-29-9h0m-58 7h0m-81-8h0m125 11h0m37 1h0m94 9h0m-46 11h0m-26-7h0m-6 0h0m-13-2h0m-14 10h0m-5 0h0m-22-1h0m-33 1h0m-1-6h0m-11 5h0m-45 2h0m-77-10h0m-2 7h0m73 14h0m7-4h0m85 0h0m30 3h0m5-3h0m61 13h0m-14 3h0m-17-5h0m-20 5h0m-82-7h0m-114 4h0m-9 10h0m13 3h0m58-6h0m117-1h0m40 5h0m25-2h0m9 19h0m-118-9h0m-57 6h0m-36-4h0m-59-1h0m1 10h0m40 1h0m13 7h0m41-4h0m50-4h0m103 3h0m45 15h0m-9-1h0m-70 4h0m-11-1h0m-54-7h0m-25 9h0m-28-9h0m-16 7h0m-75 0h0m175 5h0m61 5h0m10 0h0m25-3h0m28-1h0" stroke="#f2c4ea" stroke-width="7"/><path d="M307 -8h0m-21 5h0m-21-1h0m-28 3h0m-25-4h0m-86-2h0m179 24h0m-3-5h0m-28 8h0m-62 3h0m-21-10h0m-16 8h0m-54-4h0m-40 6h0m-30-2h0m19 9h0m26-2h0m54 6h0m76-4h0m35 3h0m36 3h0m-11 5h0m-34-5h0m-28 5h0m-4 2h0m-32-3h0m-69 7h0m-101-11h0m51 19h0m39 0h0m75 3h0m45-3h0m46-2h0m28 0h0m-8 7h0m-3 7h0m-21 1h0m-21 1h0m-3-4h0m-29 1h0m-6-1h0m-78-2h0m-23 1h0m-49-1h0m-17-3h0m43 15h0m78 7h0m24-9h0m46 1h0m17 9h0m13-10h0m24 17h0m-48-6h0m-66 11h0m-94-11h0m-82 16h0m22-3h0m106 10h0m40-7h0m103 3h0m12 0h0m-16 14h0m-31 1h0m-50-4h0m-42-3h0m-35-1h0m-97 1h0m103 16h0m82 4h0m14-9h0m71 20h0m-95 0h0m-6 1h0m-48-4h0m-21-6h0m-37 1h0m-29 4h0m-14 2h0m-32-2h0m82 15h0m35 2h0m22-1h0m67-9h0m47 7h0m10 3h0m35 4h0m-41 5h0m-14-3h0m-94 6h0m-14-11h0m-120 19h0m110 4h0m19-4h0m51 4h0m96-7h0m-3 15h0m-48 2h0m-49-4h0m-90 4h0m-10-1h0m-44-1h0m-50 14h0m18-6h0m97 7h0m44-9h0m137 8h0m18 6h0m-36 7h0m-96 1h0m-34-9h0m-23-2h0m-32 6h0m-5 5h0m-11-10h0m-15 4h0m-61 16h0m61-6h0m25 7h0m30 0h0m65-1h0m41 0h0m34 1h0m52 8h0m-52 2h0m-76 2h0m-82-3h0m-17-7h0m-13 14h0m216 20h0m-62-5h0m-30-4h0m0 8h0m-18-2h0m-16-7h0m-9 7h0m-136-2h0m-12-4h0m31 20h0m3-3h0m1 3h0m46 0h0m20-5h0m6 5h0m34-2h0m63 0h0m10 3h0m14-1h0m-12 10h0m-24-1h0m-68 2h0m-51 8h0m20-3h0m81 8h0m37 0h0m10 0h0m41-5h0m42 16h0m-115-8h0m-24 9h0m-58 0h0m-27-6h0m-5 4h0m-22-7h0m64 14h0" stroke="#f2c4ea" stroke-width="7.5"/><path d="M261 -7h0m-38 0h0m-29 1h0m-52 3h0m-10-1h0m-119 14h0m10-5h0m18-3h0m43 4h0m63 1h0m38-5h0m93 1h0m14 20h0m-38-2h0m-132-6h0m-8 0h0m-107 11h0m34 2h0m3 6h0m22 1h0m66-7h0m31 0h0m1 5h0m10-7h0m116 18h0m-20-2h0m-32 4h0m-37-4h0m-20-6h0m-84 3h0m-10 7h0m-68 3h0m34 6h0m50 2h0m61-5h0m23-1h0m24 0h0m33 7h0m-99 2h0m-25 0h0m-50 1h0m-69 20h0m59-5h0m113 3h0m73-5h0m13 0h0m20 4h0m7-3h0m13 11h0m-49 4h0m-23 4h0m-39-9h0m0 5h0m-81-4h0m-31 0h0m-1 5h0m-15-4h0m-17 7h0m75 7h0m12 5h0m175 8h0m-28-6h0m-60 0h0m-201 9h0m43 6h0m190 7h0m29 0h0m-97 2h0m-79 11h0m-12-8h0m-34 3h0m-35 15h0m64-2h0m66-5h0m77 0h0m35 0h0m23 9h0m8-3h0m-82 14h0m-25 1h0m-4-2h0m-2-7h0m-49 7h0m-9-6h0m-47 0h0m-22 4h0m-58 4h0m65 5h0m12-3h0m38 4h0m23-1h0m48 5h0m54-3h0m24-1h0m14-1h0m13 7h0m5-1h0m13 1h0m-14 10h0m-13-3h0m-65-5h0m-14 4h0m-41 4h0m-125-7h0m-20 8h0m-6-10h0m24 12h0m37 11h0m101-6h0m14 0h0m8 2h0m82 3h0m28-8h0m-59 19h0m-31 1h0m-36-4h0m-89-4h0m-47-1h0m-10 16h0m22 5h0m66-7h0m69 0h0m52 1h0m37 1h0m18 6h0m14-4h0m-154 16h0m-31-9h0m-86 8h0m-14 9h0m36 4h0m10 0h0m57-10h0m6 2h0m23 0h0m34 0h0m22 3h0m71 8h0m-55-2h0m-44 0h0m-64 6h0m-42-2h0m-6 4h0m-34-1h0m8 9h0m75-2h0m32 0h0m106 10h0m-32 7h0m-2 0h0m-21-1h0m-4-6h0m-32 2h0m-18-2h0m-59 11h0m-19-4h0m-3-5h0m-15 3h0m-11 5h0m-8-5h0m20 8h0m8 4h0m20 1h0m51 5h0m32 0h0m67-7h0m2 5h0m3-4h0m7 6h0m22 12h0m-13-8h0m-2 8h0m-68-6h0m-184 4h0m93 6h0m10 0h0" stroke="#f2c4ea" stroke-width="8"/><path d="M155 -3h0m-123 11h0m259 3h0m-298 16h0m80-1h0m74 1h0m152 2h0m-207 28h0m110 2h0m77-3h0m-37 37h0m-203 4h0m98 122h0m120 3h0m40 30h0m-193 22h0m78 16h0" stroke="#f2c4ea" stroke-width="8.5"/><path d="M285 33h0m-166 34h0m-60-2h0m41 31h0m112 36h0m87 88h0m-53 24h0m-199 11h0" stroke="#f6d2f0" stroke-width="6.5"/><path d="M52 -1h0m-53 7h0m142-4h0m145 3h0m21 5h0m-22 5h0m-98 6h0m-50 0h0m-91-7h0m-11 1h0m-21 7h0m-18-3h0m32 13h0m72-2h0m41-1h0m14-1h0m66-1h0m46 1h0m40 16h0m-31-8h0m-39 1h0m-28 8h0m-66 2h0m-56-9h0m-37 5h0m-8 8h0m44 4h0m46-2h0m102 4h0m20-8h0m53 3h0m10 7h0m-12 4h0m-184 2h0m-26 3h0m-45-4h0m-40 7h0m3 11h0m170-3h0m76 3h0m15-1h0m41 13h0m-46-5h0m-32-3h0m-57 7h0m-77-9h0m-6 8h0m-95 7h0m44 3h0m8 0h0m127 4h0m45-3h0m28-2h0m-127 13h0m-19-2h0m-26 7h0m-12-2h0m-8-3h0m-26 1h0m-8 0h0m-6 10h0m43 0h0m106-1h0m117 6h0m21-1h0m8-4h0m-114 16h0m-40-9h0m-24 2h0m-103 15h0m23 4h0m32-6h0m71 4h0m31 1h0m115 5h0m-38 10h0m-133-5h0m-34-5h0m-17 8h0m-85-1h0m43 10h0m40 5h0m5-7h0m44 6h0m28-5h0m12-1h0m42-3h0m29 4h0m19 18h0m-35-6h0m-49 1h0m-14 1h0m-83 4h0m-72-9h0m-15 17h0m150-1h0m161-4h0m5 18h0m-186 2h0m-91 1h0m-27 6h0m12 1h0m43 4h0m88-9h0m12 2h0m154 4h0m-2 10h0m-11-2h0m-22 6h0m-3-4h0m-11-2h0m-106 6h0m-73-7h0m-21 4h0m-1-4h0m-13 3h0m-6-4h0m-5 10h0m-13-7h0m-1 2h0m3 8h0m21 7h0m25-6h0m8 8h0m190-10h0m28 18h0m-13-2h0m-58-2h0m-7 4h0m-6-5h0m-22 0h0m-139 6h0m-27 2h0m-27-4h0m130 10h0m112 0h0m7 1h0m38 5h0m28 3h0m-30 6h0m-26 3h0m-14-1h0m-98-3h0m-46 0h0m-112 3h0m0 9h0m29-4h0m116 3h0m33-2h0m20-1h0m110 9h0m-15 4h0m-73 6h0m-43-1h0m-16-7h0m-85 0h0m-15 8h0m-44-8h0m0 10h0m-11 4h0m15 3h0m25-2h0m27-2h0m59-1h0m18 3h0m93 0h0" stroke="#f6d2f0" stroke-width="7"/><path d="M295 -5h0m-41 0h0m-85-1h0m-158 14h0m17-6h0m10 3h0m29-2h0m51 0h0m53 3h0m96-6h0m51 6h0m-60 17h0m-24 0h0m-56-6h0m-24-1h0m-144 12h0m18 1h0m89 6h0m61-7h0m7 0h0m23 0h0m61 7h0m-62 4h0m-34 3h0m-24-1h0m-8-2h0m-11-2h0m-70 1h0m-53-1h0m-2 5h0m118 11h0m50 6h0m2-8h0m8 4h0m24-6h0m77 3h0m31 18h0m-242-7h0m-27 4h0m-46 15h0m19 0h0m12-1h0m37-6h0m24-1h0m54 4h0m18-1h0m56 6h0m90-4h0m-4 14h0m-85 1h0m-64-10h0m-15 9h0m-77 0h0m4 11h0m10 3h0m6-6h0m65 0h0m107 2h0m10 3h0m-87 10h0m-7-7h0m-10 6h0m-4-2h0m-8 0h0m-50 1h0m-16-3h0m-43 6h0m-38 2h0m0 8h0m10 4h0m14-1h0m10-4h0m47-4h0m10 1h0m82-1h0m8 9h0m4-10h0m40 9h0m86 1h0m2 7h0m-9 4h0m-37-10h0m-11 6h0m-13-1h0m-35 3h0m-56-3h0m-9-2h0m-40 4h0m-14-1h0m-26 2h0m-74 6h0m58 2h0m187 6h0m36-4h0m43 12h0m-16 4h0m-16-5h0m-55 2h0m-28-6h0m-28-1h0m-1 4h0m-70 4h0m-36-2h0m-32 0h0m-7 4h0m-17-5h0m18 18h0m68-8h0m25 3h0m24-2h0m72 3h0m3 2h0m32-4h0m17 0h0m5 5h0m5-6h0m25-3h0m-2 18h0m-81-2h0m-52 1h0m-37 0h0m-22-1h0m-12-2h0m-24 7h0m-78-2h0m-1-6h0m27 21h0m99-7h0m8 3h0m105-5h0m-66 13h0m-10 7h0m-12-3h0m-7-4h0m-43 4h0m-21 4h0m-17-9h0m-7 3h0m-5 1h0m-49 9h0m11 6h0m99 0h0m25 0h0m22-2h0m49-4h0m25 0h0m60-1h0m3 15h0m-51 6h0m-138-9h0m-25 7h0m-44 7h0m27 0h0m55-3h0m30 5h0m115 1h0m-142 5h0m-20 5h0m-6 5h0m-7-1h0m-84-6h0m51 13h0m53 1h0m51-1h0m17-3h0m29 9h0m30 1h0m56-5h0m17-4h0m-22 16h0m-8-6h0m-30 5h0m-74 3h0m-149-7h0m-16 7h0m-8-8h0m11 16h0m11 5h0m14-7h0m42 3h0m14 4h0m20-4h0m15 2h0m148 12h0m-8-7h0m-8 7h0m-73 2h0m-86-3h0m-28 4h0m-17 4h0m53 0h0m65-1h0m19 1h0m39 1h0" stroke="#f6d2f0" stroke-width="7.5"/><path d="M313 -1h0m-206-1h0m-22 1h0m-57-5h0m-33 5h0m12 6h0m85-3h0m6 8h0m31-8h0m83 3h0m30 1h0m8 5h0m66 3h0m0 5h0m-39-5h0m-12 7h0m-35 1h0m-10-2h0m-128 3h0m-70-10h0m1 16h0m59 0h0m33 1h0m82 5h0m40-9h0m23 19h0m-67-4h0m-83 0h0m-107 14h0m75-3h0m79 7h0m62-5h0m44 13h0m-65-1h0m-51 0h0m-12 4h0m-27-7h0m-34 2h0m-38-4h0m-31 2h0m210 30h0m-14 1h0m-7-8h0m-104-1h0m-7 5h0m-44-3h0m-2 1h0m-16 6h0m18 13h0m164-10h0m28 9h0m70-6h0m-22 14h0m-80 3h0m-29 2h0m-33-3h0m-7-1h0m-16 3h0m-35-5h0m-56 6h0m16 12h0m60-8h0m42 4h0m4-6h0m8 0h0m8 3h0m41 0h0m17-3h0m68 2h0m-25 10h0m-23 10h0m-6-8h0m-106 8h0m-4-10h0m-119 4h0m-6-2h0m6 12h0m7-2h0m52 4h0m50 1h0m97-1h0m9 0h0m25-4h0m-21 12h0m-1 6h0m-7-4h0m-107 0h0m-13 6h0m-44-8h0m208 20h0m58-3h0m-6 17h0m-85-11h0m-104 6h0m-85 4h0m-12 13h0m18-1h0m95-9h0m85 10h0m13 0h0m13-7h0m2 6h0m12-4h0m10 1h0m11-1h0m16 11h0m-1-4h0m-300 10h0m22 11h0m196-6h0m41 6h0m17 1h0m-30 3h0m-15 6h0m-28-5h0m-93 6h0m-86 0h0m-20 7h0m11-3h0m78 10h0m226 7h0m-2-5h0m-4-1h0m-5 10h0m-28-1h0m-75-3h0m-43 5h0m-18-2h0m-121-8h0m35 16h0m78 4h0m41-6h0m122 19h0m-57-7h0m-76 8h0m-12-2h0m-36-6h0m-79 20h0m71 0h0m17 0h0m68-5h0m9-1h0m11-3h0m6 1h0m73 4h0m15 4h0m-168 11h0m-133 7h0m20-2h0m50 3h0m6-3h0m122-2h0" stroke="#f6d2f0" stroke-width="8"/><path d="M105 6h0m30 17h0m-16-3h0m-117 0h0m306 18h0m-48 12h0m33 24h0m-203 19h0m-96-3h0m112 7h0m-106 58h0m305-6h0m-214 51h0m-56 27h0m91 32h0m192 26h0" stroke="#f6d2f0" stroke-width="8.5"/><path d="M318 31h0m-308 18h0m45 56h0m179 1h0m86 13h0m-275 30h0m70 12h0m-49 23h0m-9 10h0m50 4h0m26 7h0m132 14h0m-164 17h0m145 27h0m-227 45h0" stroke="#edb4e2" stroke-width="6.5"/><path d="M101 -1h0m-42 10h0m102-8h0m18 0h0m15 3h0m36 2h0m2 3h0m19-2h0m12-6h0m30 6h0m-81 6h0m-14 5h0m-52 0h0m-40 0h0m-4 4h0m-31-7h0m-1 6h0m-50-4h0m177 9h0m47 5h0m65-2h0m4 7h0m-129 9h0m-26-3h0m-60 2h0m-37-3h0m-22 12h0m20 2h0m34-2h0m144-3h0m15 9h0m16-7h0m-1 8h0m-37 2h0m-5 9h0m-6-11h0m-13 7h0m-42-5h0m-83 9h0m-31-10h0m-14 6h0m-37 0h0m-2-4h0m46 12h0m6-1h0m26 5h0m58 4h0m49-1h0m29-7h0m17 8h0m71-4h0m-12 13h0m-8-1h0m-12-6h0m-58 2h0m-87 0h0m-14 2h0m-58 3h0m-10-5h0m-38 20h0m11-6h0m18 0h0m94-1h0m33-2h0m12 4h0m20 4h0m24 0h0m1-5h0m32 2h0m36 15h0m-55 1h0m-23-6h0m-92-3h0m-44 0h0m-75 1h0m83 13h0m33-4h0m154 1h0m45 6h0m-104 8h0m-10 4h0m-20 0h0m-58-6h0m-106 22h0m15-7h0m15 5h0m86-8h0m12 4h0m36-3h0m8 2h0m15-2h0m40 2h0m29 2h0m47 0h0m-38 12h0m-29-4h0m-141 8h0m-29-2h0m-8-5h0m-51 17h0m11-4h0m4 1h0m9 6h0m7 0h0m12 0h0m33-1h0m97-6h0m18 13h0m-159 3h0m-46 13h0m26-4h0m44 2h0m40-5h0m101 5h0m101 8h0m-28 7h0m-35-1h0m-47 2h0m-17-6h0m-28-3h0m-95 3h0m-44 0h0m-8 3h0m-2 9h0m24-2h0m10-1h0m9-1h0m69 5h0m24 4h0m29-7h0m16 6h0m51-4h0m4-4h0m55 15h0m-17-3h0m-102 8h0m-28-8h0m-162 6h0m39 14h0m9-7h0m58 2h0m80-2h0m38-2h0m24 9h0m7-2h0m28 3h0m41-5h0m-23 10h0m-138 3h0m-45 3h0m-59 0h0m11 3h0m58 2h0m41 3h0m50-2h0m8-2h0m79 2h0m3 8h0m-186 6h0m-25-3h0m-10 7h0m-68-6h0m105 15h0m154-2h0m28 2h0m10 1h0m-110 6h0m-58 1h0m-30 5h0m-26-5h0m-58 1h0m137 14h0m124-4h0m10 2h0" stroke="#edb4e2" stroke-width="7"/><path d="M298 -6h0m-92 2h0m-141-2h0m-28 0h0m-14 0h0m-10 5h0m-11-1h0m226 11h0m9-8h0m73 5h0m-45 8h0m-23 9h0m-41-4h0m-57-6h0m-9-1h0m-61 9h0m-23-9h0m-7 7h0m-16-1h0m33 9h0m65 0h0m87 2h0m33 6h0m8-9h0m25 0h0m-33 20h0m-27-9h0m-45 2h0m-9 2h0m-8-3h0m-28 6h0m-23-8h0m-27 7h0m-27-5h0m-6 4h0m-27 5h0m-9-9h0m-15 3h0m119 14h0m33-4h0m146-2h0m4 11h0m-178 4h0m-18 2h0m-89-6h0m-15 19h0m6-5h0m126 2h0m187-2h0m-32 11h0m-120 5h0m-15 4h0m-21-1h0m-7-1h0m103 5h0m10 5h0m53 4h0m2-9h0m4 17h0m-79 4h0m-8-10h0m-103 2h0m-9-2h0m-35 0h0m-8 9h0m-41 5h0m12 9h0m20-3h0m24 3h0m57-3h0m174-7h0m-50 12h0m-24 5h0m-72 3h0m-64-8h0m-10 6h0m-37 0h0m49 14h0m17-6h0m47 2h0m35 5h0m94-8h0m-49 19h0m-36-4h0m-30 2h0m-14 1h0m-119-8h0m-30 13h0m65 1h0m17-1h0m118 2h0m65 8h0m34-4h0m12 8h0m-112-1h0m-1 6h0m-38-7h0m-17 7h0m-8 0h0m-22 0h0m-6-7h0m-93 17h0m79-3h0m6 6h0m11 0h0m53-8h0m55 4h0m92-4h0m-32 12h0m-47 7h0m-25-4h0m-68 5h0m-116 2h0m105 3h0m58 9h0m96-4h0m-73 10h0m-39-3h0m-51 5h0m-4 0h0m-27 9h0m83 7h0m22-10h0m89 6h0m20-3h0m-35 8h0m-55 1h0m-17 4h0m-30-5h0m-173 10h0m12 9h0m184 2h0m26 0h0m54 1h0m10-1h0m6-6h0m29 3h0m-137 11h0m-48 0h0m-53 1h0m-29-3h0m-23 4h0m-7 1h0m-4 3h0m12 3h0m104 2h0m188 7h0m-28 3h0m-14-1h0m-38 6h0m-11-7h0m-46 1h0m-48 10h0m-43-6h0m-44-3h0m-1 3h0m-13 3h0m-5 2h0m-33-9h0m65 16h0m73-1h0m16-1h0m7 1h0m36-2h0m24 1h0m2 4h0" stroke="#edb4e2" stroke-width="7.5"/><path d="M225 -1h0m-34-1h0m-45-3h0m-71 0h0m-22 12h0m21 3h0m16 0h0m32-8h0m98 8h0m41 1h0m-56 1h0m-25 3h0m-14 6h0m-2-7h0m-24-1h0m-139-1h0m35 16h0m17-1h0m53-1h0m106 7h0m77-4h0m28 17h0m-280-6h0m-23 5h0m-22-9h0m4 15h0m74-3h0m72 2h0m52 4h0m69 4h0m10-10h0m29 23h0m-16-9h0m-8 7h0m-44-2h0m-62 3h0m-16-5h0m-150 6h0m11 8h0m19 0h0m30 4h0m48-1h0m25 0h0m20-7h0m157 6h0m-159 9h0m-42 1h0m-53 0h0m-6-4h0m-42 2h0m288 22h0m-4 8h0m-38-7h0m-13 2h0m-1-6h0m-201 3h0m-20-2h0m22 22h0m4-9h0m0 9h0m147-10h0m46 1h0m10 3h0m1 14h0m-38-7h0m-103 11h0m-108-11h0m64 14h0m5 0h0m23 5h0m37-4h0m13 8h0m105-7h0m47-2h0m14 13h0m-49-3h0m-106 1h0m-36 5h0m-101 4h0m-27 6h0m150 5h0m35-8h0m61 9h0m-221 8h0m21 10h0m10-2h0m36 3h0m156-3h0m15 17h0m-29-4h0m-111 3h0m-9 2h0m-18-7h0m-80 1h0m-10 4h0m68 8h0m4 4h0m25-2h0m8 0h0m88 0h0m41 13h0m-222 4h0m-19 7h0m55-3h0m96 9h0m20-8h0m64 1h0m41 1h0m23 0h0m-112 13h0m-48 0h0m-28-5h0m-3 2h0m-107 12h0m40 4h0m101 4h0m55-4h0m34-1h0m27 4h0m17-3h0m9-2h0m-137 18h0m-84-2h0m-17-5h0m127 16h0m74 0h0m77-2h0m-92 18h0m-30-7h0m-41 5h0m-7-2h0m-88 1h0m-55-8h0m18 18h0m248-4h0m10 5h0" stroke="#edb4e2" stroke-width="8"/><path d="M301 3h0m-264 39h0m28 29h0m-47-2h0m204 10h0m-149 19h0m21 5h0m215-6h0m-175 28h0m-113 18h0m8 11h0m86 24h0m1-6h0m112 1h0m88 15h0m-68-1h0m-52 9h0m96 19h0m-96-8h0m-115 16h0m69 15h0m-136 11h0m219-6h0m70 2h0m-41 7h0m-108 42h0m110-2h0m-147 9h0m-73 12h0" stroke="#edb4e2" stroke-width="8.5"/><path d="M63 -5h0m182 17h0m55 32h0m-101 32h0m-142 85h0m160 86h0m92 33h0m-116 3h0m-16-4h0m-3-3h0m67 29h0" stroke="#fae8f6" stroke-width="6.5"/><path d="M123 34h0m2 7h0m-28 14h0m-84 20h0m-8 16h0m274 31h0m0 20h0m-218-10h0m138 41h0m-9 7h0m-9 20h0m-86 18h0m176 15h0m-210 2h0m79 11h0m123 15h0m-182 15h0m203 20h0m-27 7h0m1 10h0" stroke="#fae8f6" stroke-width="7"/><path d="M241 -1h0m-210 44h0m170 34h0m53 87h0m-115 16h0m55 32h0m-33 1h0m2 15h0m86 25h0m-220-1h0m45 14h0" stroke="#fae8f6" stroke-width="7.5"/><path d="M217 5h0m68 14h0m-259 39h0m160 11h0m-8 1h0m-148 55h0m126 4h0m-88 63h0m250 36h0m-209 14h0m-21 25h0" stroke="#fae8f6" stroke-width="8"/><path d="M113 -1h0m80 14h0m-104 25h0m121 20h0m-180 17h0m77 4h0m196 11h0m-223 47h0m-25 5h0m191 45h0m-41 8h0m-79 59h0m145 33h0m-76 12h0m110 9h0m12 10h0" stroke="#fae8f6" stroke-width="8.5"/><path d="M201 1h0m-26 80h0m139 17h0m-119 13h0m84 47h0m-238 105h0m265 18h0m-69 3h0m-115-7h0" stroke="#fae8f6" stroke-width="9"/><path d="M83 16h0m99 29h0m108 61h0m-37 6h0m28 19h0m-52 63h0m87 18h0m3 96h0" stroke="#fae8f6" stroke-width="9.5"/><path d="M9 122h0m237 0h0m-183 28h0m34 46h0m-31 12h0m118 100h0" stroke="#6f4fa6" stroke-width="2"/><path d="M286 -3h0m-118-2h0m-82 4h0m-90 1h0m4 11h0m8-7h0m3 3h0m22 1h0m7-4h0m18 4h0m18 3h0m3-6h0m19 6h0m6-4h0m15-5h0m28 5h0m14-5h0m139 18h0m-35-7h0m-24 10h0m-34-11h0m-19 10h0m-14-1h0m-2-8h0m-31 2h0m-5 7h0m-24-7h0m-3-1h0m-39 8h0m-25-4h0m-17 1h0m-6-7h0m-20 9h0m40 7h0m58 1h0m15 3h0m11-4h0m31-2h0m6 8h0m60-6h0m24 7h0m15-4h0m16-6h0m13 11h0m-44 10h0m-10-10h0m-12 1h0m-24 4h0m-26-2h0m-17 2h0m-2-3h0m-27 0h0m-19 2h0m-59-3h0m-43 1h0m30 14h0m64 6h0m46-8h0m50 8h0m36-1h0m76 11h0m-25 2h0m-7-3h0m-30 2h0m-128-5h0m-11-1h0m-7 4h0m-6 1h0m-37-3h0m-9-4h0m-7 1h0m-7-1h0m-23-1h0m-7 4h0m24 16h0m30-5h0m28-1h0m29 0h0m47 3h0m57 3h0m25-5h0m29 6h0m34-2h0m5 15h0m-7-7h0m-8-1h0m-63 7h0m-7-9h0m-52 0h0m-13 7h0m-51-1h0m-51-4h0m-5 0h0m-8 6h0m-49-8h0m3 14h0m37 8h0m28-1h0m24 2h0m26-7h0m8 1h0m22 5h0m47-4h0m13 5h0m17-3h0m22 0h0m7-3h0m15 1h0m7 5h0m13-10h0m20 1h0m1 8h0m-13 13h0m-32-2h0m-30 1h0m-19-1h0m-17-1h0m-25-6h0m-60-1h0m-1 9h0m-88-10h0m-14 3h0m-13 3h0m-4-3h0m35 14h0m19 6h0m38-7h0m59-3h0m24 10h0m42-8h0m79 4h0m7-7h0m2 10h0m20-10h0m-19 21h0m-19 2h0m-18-8h0m-17 1h0m-16 1h0m-6 1h0m-19-3h0m-1 6h0m-30-4h0m-34-3h0m-13 9h0m-13 0h0m-4-11h0m-23 2h0m-82 4h0m16 15h0m8 1h0m8-5h0m7-1h0m16 7h0m30-7h0m13-4h0m36 5h0m22 1h0m57 0h0m21 5h0m42-8h0m37 16h0m-10 0h0m-12-4h0m-6 6h0m-6-3h0m-43-2h0m-68 2h0m-14-5h0m-5 7h0m-18-3h0m-19-5h0m-42 2h0m-63 2h0m-15-1h0m0 8h0m72 4h0m15 7h0m9 0h0m80-5h0m18 0h0m4 6h0m42-4h0m5 2h0m29-5h0m5 5h0m6-6h0m9 0h0m9 5h0m6 3h0m9 9h0m-2-6h0m-12 6h0m-32-8h0m-18 0h0m-61 5h0m-21 0h0m-60 1h0m-9 4h0m-9-4h0m-16 3h0m-8-5h0m-35-1h0m-38 17h0m1 1h0m27 2h0m20-6h0m27-5h0m18 5h0m28-4h0m29 7h0m8 2h0m4-8h0m59 6h0m9 2h0m10-10h0m32 10h0m47-10h0m-2 15h0m-37 7h0m-40-3h0m-28 4h0m-11-7h0m-7 0h0m-11 2h0m0 5h0m-15-10h0m-2 9h0m-13-3h0m-3-4h0m-135 19h0m10-4h0m37-6h0m1 3h0m12 0h0m39 2h0m16 1h0m10 4h0m22-4h0m30-3h0m7 0h0m46 2h0m4-1h0m64 6h0m-3 4h0m-71 1h0m-22 0h0m-11 8h0m-27-9h0m-78 6h0m-18-8h0m-14 10h0m-22 0h0m-5-10h0m-1 9h0m-7-5h0m-20-4h0m-2 8h0m35 6h0m9-1h0m2 8h0m13-6h0m2 8h0m18-4h0m20 4h0m12-9h0m9 0h0m98 9h0m23-8h0m14 3h0m15-5h0m43 5h0m-8 6h0m-15 2h0m-18 8h0m-8-9h0m-66 7h0m-15 0h0m-29 3h0m-5-11h0m-30 6h0m-49-1h0m-17 2h0m-6 3h0m-32-9h0m-11 3h0m-8-1h0m6 17h0m25-1h0m19-3h0m13-3h0m97 4h0m35-5h0m5 10h0m16-2h0m27-4h0m9 1h0m3 6h0m7-8h0m55 18h0m-31-3h0m-15 4h0m-28-4h0m-4-2h0m-28 3h0m-10 0h0m-14 0h0m-10-1h0m-7 3h0m-19-6h0m-1 7h0m-2-4h0m-29-2h0m-16 3h0m-8 2h0m-41-2h0m-4-3h0m-25 2h0m-3-6h0m-22 13h0m55 7h0m5-1h0m29-5h0m0 8h0m101-9h0m3 5h0m41-1h0m29 5h0m56 1h0m-19 10h0m-44-1h0m-101 2h0m-16 1h0m-7-1h0m-28 0h0m-14-4h0m-47 0h0m-21 13h0m4-3h0m16-2h0m9 0h0m113 2h0m25-3h0m2 2h0m27 4h0m10-4h0" stroke="#6f4fa6" stroke-width="2.5"/><path d="M296 -4h0m-73-4h0m-31 7h0m-26-1h0m-19-3h0m-22-1h0m-60-1h0m-37 1h0m-14 5h0m52 4h0m18 4h0m44-5h0m91 8h0m19-7h0m3-2h0m2 6h0m6 3h0m58 0h0m11-4h0m-1 8h0m-11 4h0m-5-5h0m-14 2h0m-12 4h0m-10 4h0m-12-4h0m-51 0h0m-12-5h0m-36 3h0m-20 5h0m-13-4h0m-29 5h0m-18-2h0m-11 0h0m-44-4h0m-16-5h0m6 16h0m14 0h0m14 2h0m16-5h0m63 10h0m14-7h0m17-2h0m26 1h0m13 0h0m26 2h0m15 2h0m26-5h0m8 6h0m7-2h0m30-1h0m14 5h0m-4 5h0m-11-2h0m-11 4h0m-9-4h0m-68 8h0m-24-1h0m-56-1h0m-4-1h0m-29-4h0m-10-1h0m-41 6h0m-8-4h0m-27-2h0m-13 3h0m73 15h0m22 3h0m7-5h0m16 2h0m28-7h0m75 5h0m19-4h0m7 10h0m8-1h0m23-6h0m5 6h0m22-5h0m-34 7h0m-50 7h0m-219-1h0m-4 13h0m40 0h0m70 4h0m22-10h0m51-1h0m5 6h0m97-2h0m12-1h0m23 0h0m3 7h0m-30 10h0m-4-6h0m-103 8h0m-16-10h0m-8 0h0m-9 2h0m-6 6h0m-8-7h0m-38 6h0m-7 3h0m-7-4h0m-2-5h0m-15 8h0m-23 1h0m-4-6h0m-18 10h0m40 2h0m19 6h0m15-4h0m12-6h0m38 5h0m14-3h0m8 3h0m15-1h0m7-2h0m2 9h0m65-4h0m47-3h0m-1 10h0m-22 6h0m-31-3h0m-19 6h0m-44-5h0m-21 1h0m-11-3h0m-15 3h0m-7 0h0m-5-6h0m-17 2h0m-1 0h0m-30 2h0m-34 4h0m-21 2h0m-19 1h0m23 9h0m13 1h0m24-5h0m3 5h0m27-6h0m6-2h0m89 0h0m29-1h0m10 1h0m38 0h0m49 8h0m-55 8h0m-20 4h0m-8-6h0m-81 6h0m-18-4h0m-67 1h0m-21 1h0m-7-2h0m-28 1h0m1 5h0m17 4h0m24-1h0m17-2h0m29 8h0m14-3h0m27 4h0m12-7h0m25 0h0m6 1h0m47-1h0m23 0h0m0 5h0m49-7h0m7 12h0m-32 4h0m-12-5h0m-2 0h0m-4 8h0m-11-4h0m-26-3h0m-9 8h0m-25 2h0m-7-9h0m-71 2h0m-3 5h0m-37-7h0m-3 3h0m-16-4h0m-3 5h0m-12 1h0m-25-6h0m-2 21h0m5-2h0m16-2h0m12 5h0m45-10h0m48 10h0m8-4h0m4-2h0m36 4h0m21-6h0m17 8h0m9-5h0m8 3h0m6-4h0m29-5h0m19 9h0m11-2h0m2-5h0m14 3h0m-47 15h0m-58-5h0m-34 3h0m-13 0h0m-40-6h0m-8 7h0m-54 3h0m-34-10h0m-27 10h0m1 10h0m26-3h0m44 2h0m8-7h0m21 10h0m64-10h0m105 5h0m15-4h0m7 8h0m6-7h0m-1 10h0m-17 0h0m-18 7h0m-5 1h0m-72-4h0m-18-1h0m-37 6h0m-9 0h0m-13 0h0m-18-8h0m-5 1h0m-13 0h0m-15 1h0m-3 3h0m-7-5h0m-15 9h0m-7 0h0m-24-4h0m-5 9h0m0 6h0m23 1h0m29-1h0m32-3h0m2 3h0m33-7h0m34-2h0m27 4h0m9 7h0m6-2h0m57-8h0m8 5h0m16 5h0m13-5h0m5-6h0m23 18h0m-10-1h0m-44 4h0m-10-2h0m-16-2h0m-20-5h0m-15 2h0m-4 9h0m-75-4h0m-3 1h0m-41 3h0m-48-6h0m-16 3h0m-18-1h0m0 8h0m6 2h0m13-3h0m8 5h0m10-6h0m2 3h0m41-1h0m17 1h0m7 1h0m32-1h0m13 5h0m21-8h0m41 4h0m9 1h0m3-6h0m86 6h0m1-3h0m-54 20h0m-17-5h0m-16-3h0m0 2h0m-4-5h0m-16 5h0m-52 1h0m-29-1h0m-58-5h0m-11 3h0m-17 7h0m-35-9h0m39 18h0m70-3h0m16-3h0m13 8h0m1-4h0m3 6h0m12-10h0m8 3h0m44 2h0m13-6h0m7 1h0m5 9h0m52-8h0m2-2h0m22 11h0m-5 10h0m-14-3h0m-6-6h0m-15 9h0m-14 0h0m-23-1h0m-27-7h0m-51-1h0m-26 9h0m-6-5h0m-27 7h0m-12-5h0m-17-4h0m-19 2h0m-9 1h0m-13 4h0m-4 2h0m-9-2h0m-14 1h0m28 4h0m2 6h0m13-5h0m14 7h0m49-5h0m33-1h0m22 3h0m29-4h0m26 6h0m6-7h0m3 6h0m3-5h0m12 1h0m51 2h0m18-1h0m9 2h0m9-2h0m-11 7h0m-17 2h0m-14-2h0m-4 7h0m-32 0h0m-2 1h0m-14 2h0m-9 1h0m-33-7h0m-2-2h0m-12 5h0m-53-7h0m-3 7h0m-13-7h0m-18 9h0m-3-7h0m-9 7h0m-36-2h0m-4 3h0m-30 6h0m39-1h0m77 0h0m39 2h0m50-4h0m86 0h0" stroke="#6f4fa6" stroke-width="3"/><path d="M272 -5h0m-129 2h0m-90 1h0m142 7h0m35 3h0m47-4h0m36-4h0m-103 13h0m-12 5h0m-149-6h0m-4 2h0m-48 5h0m-3 9h0m66 0h0m117-1h0m113 15h0m-31 3h0m-40-7h0m-38-2h0m-32 6h0m-63 5h0m-26-9h0m-58 17h0m259 11h0m-56 1h0m-46-7h0m-122 7h0m7 9h0m129 4h0m120 4h0m-56 1h0m-171-1h0m64 12h0m28 11h0m120-10h0m11 9h0m-39 2h0m-4 0h0m-104 4h0m-82-4h0m-59 1h0m123 22h0m46-7h0m34 1h0m34-3h0m12 9h0m-112 8h0m-138 15h0m106-7h0m83 5h0m21-4h0m56 1h0m4-5h0m15 10h0m-56 9h0m-15-3h0m-12 7h0m-19-2h0m-34-9h0m-72 9h0m-60 12h0m245 14h0m-63-5h0m-61 1h0m-17-2h0m-113-2h0m182 16h0m54-5h0m-147 16h0m-85 12h0m16 0h0m72-2h0m63-1h0m67-3h0m58 3h0m-131 10h0m-17 3h0m-11 5h0m-62-4h0m-3-3h0m-17-1h0m107 11h0m47 10h0m47-2h0m-67 11h0m-83-2h0m-11 4h0m-68 0h0m99 5h0m108 4h0m-59 7h0m-126 11h0m202 10h0m8 12h0m-38-1h0m-87 2h0m-61 1h0m149 3h0" stroke="#6f4fa6" stroke-width="3.5"/><path d="M203 54L199 62L196 80L194 100L196 125L202 150L207 175L211 200L214 225L214 250L213 262L216 262L219 245L221 222L219 200L216 175L212 150L209 128L204 105L203 80L205 62Z" fill="#fbf5f9"/><path d="M198 105l10-2 6 20 4 22-8 4-8-20Z" fill="#fbf5f9"/><path d="M202 56l10-8 26-10 1 3-24 10-9 9Z" fill="#f8eaf4"/><path d="M0 245l6 2 1 59H0Z" fill="#fbf5f9"/><path d="M206 255l14-2 5 53h-20Z" fill="#a84ea0" fill-opacity="0.4"/></g></g>
<clipPath id="c4"><rect width="306" height="306"/></clipPath>
<g transform="translate(1150 1076.6)" clip-path="url(#c4)"><g filter="url(#bl)" stroke-linecap="round" fill="none"><rect x="-2" y="-2" width="310" height="310" fill="#f5e3e3"/><path d="M85 -5h0m-70 13h0m294 10h0m-266-3h0m79 14h0m30 18h0m60 11h0m4 18h0m101 16h0m-160 6h0m-40 29h0m111 12h0m-56 13h0m-175 6h0m184 19h0m110-5h0m-114 30h0m124 12h0m-129-7h0m-145 7h0m75 16h0m117 20h0m-205 5h0m125 17h0m-112 19h0m223 8h0m-29 3h0m-179 5h0m275 11h0" stroke="#faeeee" stroke-width="5.5" stroke-opacity="0.6"/><path d="M232 -2h0m-86 3h0m25 2h0m90 12h0m-95-1h0m-149 9h0m80 5h0m4 3h0m13 0h0m14 4h0m28-8h0m62 9h0m-73 7h0m-117-2h0m56 17h0m167-9h0m34 7h0m-15 9h0m-25 0h0m-64-2h0m-155-2h0m10 22h0m254-8h0m-3 15h0m-268 1h0m-15 1h0m41 6h0m27 9h0m198-4h0m23 5h0m-286 21h0m8-2h0m66 0h0m-10 25h0m35-2h0m188-5h0m-20 12h0m-82 12h0m106 5h0m13-5h0m-30 17h0m-118 4h0m-172 9h0m204 8h0m-82 0h0m-34 0h0m8 18h0m81-7h0m27 0h0m37 3h0m14 17h0m-252-4h0m7 17h0m204-5h0m82-2h0m-132 11h0m-104 1h0m-48 3h0m285 8h0m16 0h0m10 3h0m-71 7h0m-32 0h0m-175 1h0m-32 3h0m91 14h0m93-4h0m18 3h0m88 4h0m-23 13h0m-112-1h0m-158-7h0m7 10h0" stroke="#faeeee" stroke-width="6" stroke-opacity="0.6"/><path d="M272 -5h0m-13 1h0m-253 6h0m97 7h0m38-8h0m62 4h0m22 0h0m82 11h0m-15 1h0m-288 12h0m288 2h0m-24 7h0m-165 2h0m-113 1h0m9 7h0m223 4h0m-100 18h0m-54 1h0m-37-1h0m10 5h0m235-3h0m34 12h0m-121 0h0m-67 6h0m-53-3h0m70 14h0m71 6h0m49-5h0m-131 10h0m-14-4h0m-75 17h0m94 4h0m27-6h0m50 3h0m83 0h0m-13 12h0m-190 12h0m123 16h0m-96 1h0m-100 5h0m204-4h0m57 2h0m-16 14h0m-27 6h0m-155-7h0m-9 6h0m-12-8h0m236 25h0m-48 8h0m-248-2h0m20 11h0m39 3h0m141-8h0m4 7h0m86 3h0m-255 9h0m-20 13h0m92-10h0m87 10h0m40-3h0m22-6h0m-8 17h0m-69-3h0m-17 17h0m64-3h0m51 12h0m-38-2h0m-121 5h0m-86 15h0m249-6h0m-156 9h0m-34 3h0m18 9h0" stroke="#faeeee" stroke-width="6.5" stroke-opacity="0.6"/><path d="M250 -3h0m-112-2h0m139 9h0m24 6h0m-60 8h0m-58 5h0m-79-9h0m-89 0h0m11 16h0m119-4h0m29-1h0m69 3h0m12 0h0m39 8h0m-51 6h0m-20-4h0m-161-1h0m-44 13h0m41 2h0m177-3h0m41 4h0m30 15h0m-269-7h0m96 15h0m154 5h0m-44 4h0m-140 7h0m-54 8h0m20-3h0m23 10h0m148 8h0m-28 3h0m-17 1h0m-171 3h0m98 9h0m68-4h0m79-2h0m39 15h0m-93-7h0m-144 0h0m-47 0h0m-26 1h0m55 11h0m104 8h0m27-8h0m5 3h0m66-3h0m-50 17h0m-78-2h0m-88 8h0m122 0h0m77 16h0m-91 1h0m-96 3h0m-2-5h0m-57-1h0m37 21h0m283-7h0m-28 9h0m-189 7h0m-55-8h0m254 28h0m-92 1h0m-124 6h0m-28-4h0m-27-3h0m69 18h0m76 13h0m-68 0h0m181 10h0m-207 6h0m-12 16h0m122 16h0m-29-7h0m-78 2h0m-30 10h0m100 2h0m20-2h0m46 2h0m91-6h0" stroke="#faeeee" stroke-width="7" stroke-opacity="0.6"/><path d="M212 -4h0m-37 2h0m-177-2h0m26 13h0m62-1h0m7-6h0m126 3h0m-1 14h0m-8 4h0m-135-5h0m-69-5h0m189 22h0m87-10h0m24 11h0m-268 5h0m-11 9h0m275 8h0m-102 10h0m-111-4h0m-26 9h0m162 5h0m41 5h0m7 7h0m-113-3h0m-9 3h0m-73 1h0m-51-1h0m-21 11h0m56 4h0m64 2h0m58-6h0m6-5h0m73 22h0m-111-7h0m-13 8h0m-55-10h0m-4 5h0m-52 1h0m-34 12h0m175-5h0m16 1h0m40 3h0m54-2h0m-220 15h0m-58 10h0m310 4h0m-4 3h0m-11 0h0m-101 6h0m-83 1h0m-43 8h0m68 3h0m172 8h0m-200-1h0m-66 2h0m-35 1h0m34 12h0m18 4h0m167-7h0m43 19h0m-53-8h0m-75 11h0m161 10h0m-71 7h0m-227 7h0m20 8h0m32-6h0m227 0h0m-232 11h0m-54 11h0m21 11h0m5 0h0m211-9h0m31 37h0m-5 5h0m-110-7h0m-93 4h0m188 13h0m30-2h0" stroke="#faeeee" stroke-width="7.5" stroke-opacity="0.6"/><path d="M225 -3h0m-24-2h0m-12 4h0m-147-8h0m8 18h0m133 12h0m-72-8h0m-28 0h0m191 19h0m38-3h0m-217 12h0m-86 8h0m92 10h0m147 10h0m-35 12h0m41-1h0m-70 12h0m-16-7h0m-31 8h0m-19-6h0m-25-1h0m-100 6h0m290 11h0m-15 11h0m-66 5h0m-7-11h0m-14 7h0m-11-1h0m-123-3h0m-13 9h0m217 3h0m53 4h0m-41 13h0m-17 2h0m-225-2h0m42 11h0m64-7h0m111 8h0m42-5h0m-2 16h0m-155 16h0m82-1h0m63 1h0m36 5h0m-291 0h0m110 10h0m24 2h0m102 4h0m2-5h0m30 16h0m-11-6h0m-191 11h0m233 12h0m-49 0h0m-123 6h0m-24-1h0m-32 17h0m39 1h0m41-2h0m115 11h0m-3-8h0m-85 10h0m-71-6h0m-42-2h0m-35 1h0m41 12h0m230 14h0m-228 9h0m40-1h0m191 4h0m-144 12h0m-48 6h0m-113-9h0m23 10h0m223 4h0" stroke="#faeeee" stroke-width="8" stroke-opacity="0.6"/><path d="M128 -9h0m-135 19h0m188-3h0m41 6h0m-139 12h0m58 10h0m157-9h0m-58 12h0m-159 11h0m26 0h0m96 4h0m65 0h0m35-5h0m-140 19h0m-5-5h0m-72 7h0m-37-9h0m-37 3h0m-10 18h0m60-1h0m149 11h0m-43-2h0m-171-2h0m202 10h0m-193 16h0m197 18h0m-94 10h0m-68 7h0m228 2h0m-46 11h0m-57-4h0m-81-1h0m-89 13h0m73 8h0m78-4h0m55 0h0m94 17h0m-22-1h0m-101-7h0m-167 10h0m162 2h0m71 6h0m-168 26h0m100 0h0m56-10h0m49 11h0m-60 6h0m-203 4h0m28 9h0m35 0h0m72 2h0m13-7h0m91 9h0m13 7h0m-54 6h0m-6 0h0m-83-1h0m-55-7h0m-2 7h0m-38 1h0m65 11h0m75-3h0m140 12h0m-101-3h0m-78 4h0m-34 1h0m-32-4h0m9 18h0m177-10h0" stroke="#faeeee" stroke-width="8.5" stroke-opacity="0.6"/><path d="M192 63h0m31 188h0m-23 63h0" stroke="#faeeee" stroke-width="9" stroke-opacity="0.6"/><path d="M12 5h0m191 2h0m38-3h0m-33 19h0m-207 6h0m142-5h0m153 6h0m-237 11h0m17 8h0m69 16h0m-144 1h0m53 17h0m110-4h0m13 3h0m-3 15h0m4 7h0m128 0h0m-62 8h0m-163-1h0m140 14h0m-66 21h0m146 7h0m-161 13h0m-83-9h0m-46 18h0m45-2h0m133 12h0m-19 6h0m113 3h0m-169 32h0m85-6h0m-22 28h0m112-4h0m-45 14h0m40 15h0m-102 7h0m-97 0h0m217 21h0m-59 4h0m-245-5h0" stroke="#e6a6b6" stroke-width="0.6" stroke-opacity="0.8"/><path d="M240 -2h0m-56 0h0m-147 0h0m-32 0h0m35 4h0m7 5h0m13-4h0m37 6h0m13-6h0m4 3h0m31-6h0m82 2h0m45 8h0m23 0h0m5-3h0m4 12h0m-1-1h0m-42 5h0m-14 0h0m-67-6h0m-9 4h0m-7-4h0m-18-4h0m-21 0h0m-5 0h0m-10 2h0m-45 1h0m-3 7h0m75 1h0m11 3h0m4 6h0m4-8h0m21 0h0m22-1h0m12 9h0m11-7h0m39 3h0m41 12h0m-18 5h0m-11 0h0m-30-5h0m-41-2h0m-5-3h0m-11 9h0m-13-2h0m-7-6h0m-11 3h0m-24-1h0m-50 2h0m-4-4h0m-1 3h0m-2 7h0m-48 0h0m-26 1h0m7 8h0m110 0h0m35-4h0m21 7h0m20-7h0m26 5h0m63 2h0m7-5h0m-3 10h0m-16 2h0m-28-2h0m-5 1h0m-10 4h0m-39-7h0m0 0h0m-8 5h0m-30 3h0m-68-3h0m-18 4h0m-18-8h0m-22 3h0m-15 16h0m1-8h0m16 1h0m14 7h0m21 1h0m3-6h0m21-4h0m15 6h0m17-7h0m14 3h0m33 2h0m26-2h0m6-3h0m28 5h0m42 6h0m28-10h0m8 18h0m-2 0h0m-10-7h0m-34 3h0m0 6h0m-7-8h0m-1 10h0m-44-10h0m0 5h0m-1-4h0m-41 0h0m-13 2h0m-26 1h0m-47-4h0m-5 8h0m-13-2h0m-43 1h0m9 9h0m26-5h0m3 5h0m18-4h0m25 9h0m8-8h0m116 3h0m15-3h0m47 0h0m15 10h0m-1 5h0m-66 2h0m-93 0h0m-74 0h0m-23-3h0m1 9h0m20 10h0m14-6h0m19-1h0m5 7h0m84 0h0m22-10h0m31 3h0m9 0h0m43-1h0m11 13h0m-8 1h0m-53-3h0m-3 1h0m-36-2h0m-10 4h0m-16-4h0m-27 10h0m-12-8h0m-48 2h0m-38-5h0m-15 2h0m-16 21h0m60-11h0m7 8h0m0 3h0m60-6h0m27-4h0m9-1h0m59 1h0m23 10h0m2-7h0m38 2h0m5 2h0m0 1h0m0 2h0m-7 8h0m-5-1h0m-11 3h0m-46-7h0m-9 8h0m-16-4h0m-13 4h0m-64 1h0m-24-9h0m-5 6h0m-12-7h0m-52 3h0m-13 1h0m0 1h0m-32 10h0m31 1h0m7-5h0m0 11h0m22-5h0m4-1h0m59 3h0m10-6h0m8 9h0m18-11h0m124 0h0m13 21h0m-18-2h0m-78 1h0m-19 2h0m-2-6h0m-10 0h0m-155 15h0m73 2h0m35-4h0m18-5h0m11 4h0m5 0h0m6 4h0m1 0h0m8-7h0m21-1h0m0 9h0m32-9h0m41 2h0m4 0h0m3 15h0m-6 1h0m-5-2h0m-17-2h0m-62-1h0m-4 3h0m-8 1h0m-10 6h0m-38-6h0m-15 4h0m-13-1h0m-47-1h0m-23-6h0m6 12h0m14-1h0m44 2h0m20 0h0m2 3h0m10-5h0m4 2h0m7 4h0m38-2h0m48-3h0m39 5h0m38-1h0m-99 16h0m-37 2h0m-8-8h0m-9-2h0m-4 6h0m-14-5h0m-7-1h0m-48 4h0m-20 6h0m-14-1h0m-24-10h0m-5 4h0m-4 13h0m12 4h0m89-3h0m1 4h0m10-2h0m24-6h0m3 7h0m49-7h0m13 5h0m11-2h0m11-3h0m6 8h0m6-4h0m2 5h0m16-2h0m18-1h0m6-1h0m6-1h0m5 2h0m12-1h0m9 7h0m-17 3h0m-35-5h0m-99 11h0m-1-5h0m-7-4h0m-29 7h0m-12-8h0m-8 6h0m-61-2h0m-6 2h0m-3-7h0m-5 2h0m-13-1h0m1 18h0m6-2h0m5 3h0m44-5h0m41 4h0m90 2h0m36-6h0m13 6h0m19-8h0m1 1h0m32 9h0m-47 9h0m-47-2h0m-54-3h0m-70-1h0m-27 3h0m-25 2h0m3 5h0m9 10h0m56-3h0m24-7h0m28 4h0m36 3h0m119-1h0m4 5h0m-46 9h0m-54-6h0m-22 0h0m-19 0h0m0 3h0m-17-4h0m-53 4h0m-26 3h0m-9-7h0m-59 8h0" stroke="#e6a6b6" stroke-width="1" stroke-opacity="0.8"/><path d="M257.3 56.9Q257.2 59.7 255.1 61.3Q253.0 63.0 250.2 63.2Q247.4 63.4 244.8 62.1Q242.2 60.8 240.0 58.4Q237.7 55.9 239.6 53.6Q241.5 51.4 243.9 50.0Q246.3 48.7 249.7 48.9Q253.1 49.1 255.2 51.6Q257.4 54.2 257.3 56.9Z" fill="#fdf8f9" stroke="#e0527f" stroke-width="1.5" stroke-linejoin="round"/><path d="M256.3 53.9l7.5 -2.3M250.2 63.3l3.7 10.7M244.9 50.1l-1.6 -6.0" stroke="#e67a9a" stroke-width="0.9" stroke-opacity="0.8"/><path d="M276.5 110.2Q280.3 112.3 282.2 116.8Q284.1 121.2 278.2 125.6Q272.2 130.0 265.7 132.9Q259.1 135.7 254.1 133.6Q249.2 131.5 247.6 127.6Q246.1 123.7 248.9 119.2Q251.7 114.8 256.9 112.4Q262.1 110.0 267.4 109.0Q272.6 108.1 276.5 110.2Z" fill="#fdf8f9" stroke="#e0527f" stroke-width="1.5" stroke-linejoin="round"/><path d="M280.8 119.3l8.7 2.9M250.4 113.2l-10.3 -4.4M278.7 114.7l6.0 -2.4" stroke="#e67a9a" stroke-width="0.9" stroke-opacity="0.8"/><path d="M25.1 125.8Q27.1 128.6 24.8 130.7Q22.5 132.8 18.2 132.7Q13.9 132.6 11.0 130.5Q8.0 128.4 6.5 126.5Q4.9 124.6 4.5 122.3Q4.0 120.0 6.6 118.4Q9.1 116.7 12.9 118.4Q16.7 120.1 19.9 121.6Q23.0 123.1 25.1 125.8Z" fill="#fdf8f9" stroke="#e0527f" stroke-width="1.5" stroke-linejoin="round"/><path d="M22.3 128.1l7.2 2.6M3.8 124.1l-5.8 1.9M16.1 130.8l2.3 6.8" stroke="#e67a9a" stroke-width="0.9" stroke-opacity="0.8"/><path d="M110.2 180.8Q110.3 182.5 109.0 183.7Q107.8 184.8 104.8 184.3Q101.8 183.8 99.8 181.5Q97.8 179.2 95.5 177.0Q93.2 174.8 94.5 173.5Q95.8 172.3 98.2 172.1Q100.6 171.8 103.6 173.4Q106.6 174.9 108.3 177.0Q110.1 179.1 110.2 180.8Z" fill="#fdf8f9" stroke="#e0527f" stroke-width="1.5" stroke-linejoin="round"/><path d="M109.4 180.5l5.8 1.7M107.7 181.4l3.6 6.0M105.2 174.4l-0.9 -8.9" stroke="#e67a9a" stroke-width="0.9" stroke-opacity="0.8"/></g></g>
<clipPath id="c5"><rect width="306" height="306"/></clipPath>
<g transform="translate(1470 1076.6)" clip-path="url(#c5)"><g filter="url(#bl)" stroke-linecap="round" fill="none"><rect x="-2" y="-2" width="310" height="310" fill="#f5e2e1"/><path d="M252 -5h0m-10 2h0m-69-1h0m-3 1h0m-19 0h0m-7 1h0m-16-2h0m-55 1h0m-31 1h0m-41 4h0m40 7h0m93-5h0m19 1h0m44 1h0m16 4h0m2-8h0m69 2h0m11-2h0m-247 10h0m-34 4h0m-13 1h0m0 14h0m19-6h0m50 4h0m29 1h0m30-1h0m43-5h0m10 11h0m11 0h0m99 2h0m-20 7h0m-8-8h0m-35 6h0m-85 4h0m-51-10h0m0 7h0m-29 4h0m-9 0h0m-56 1h0m10 3h0m50 5h0m20-5h0m14-3h0m173 4h0m17 4h0m8-2h0m20 16h0m-37-8h0m-11 8h0m-50-1h0m-11-8h0m-24 5h0m-12 5h0m-20-1h0m-55 1h0m-72-3h0m-17-2h0m25 14h0m32-5h0m44 8h0m7-6h0m75-1h0m31 2h0m97 10h0m-66 5h0m-43 0h0m-42-9h0m-55 4h0m-1 7h0m-37-1h0m-14 1h0m-5-11h0m-22 23h0m89-10h0m1 2h0m56-3h0m24 8h0m40 2h0m14-7h0m27 2h0m11-2h0m6 1h0m3-3h0m12 21h0m-42 1h0m-12-2h0m-42-7h0m-21 4h0m-57-3h0m-52 6h0m-4-1h0m-12 1h0m-44-1h0m-9 2h0m-1-8h0m-4 20h0m84-5h0m21 0h0m8 5h0m45-6h0m37 6h0m37 0h0m64-4h0m6-5h0m-40 19h0m-17-4h0m-73 4h0m-20-1h0m-115-5h0m-38 8h0m161 6h0m35-3h0m24 5h0m36 1h0m38-7h0m1 16h0m-45 7h0m-12-10h0m-33 10h0m-72-3h0m-58 3h0m-12-3h0m-26 1h0m-52 4h0m21 10h0m66-10h0m15 3h0m197 4h0m8 13h0m-52-1h0m-23-4h0m-28 0h0m-9 5h0m-53-9h0m-18 10h0m-9-9h0m-17 5h0m-82 15h0m15-5h0m24-3h0m54 3h0m32 4h0m34 0h0m73 3h0m4-9h0m62 0h0m0 10h0m-71 11h0m-7-4h0m-27-6h0m-3 0h0m-3 6h0m-9 4h0m-5 0h0m-28-1h0m-23-7h0m-30-2h0m-31 0h0m-14 2h0m-2 4h0m-17-5h0m-19 9h0m61 2h0m13-1h0m27 5h0m51-3h0m8 6h0m13-6h0m34 0h0m17 1h0m10 4h0m26 16h0m-37-1h0m-8-5h0m-38 1h0m-38-3h0m-23-1h0m-133 8h0m23 12h0m40-9h0m3 0h0m112 10h0m10-5h0m5 3h0m33-4h0m6 4h0m7-5h0m10 1h0m6-3h0m50 9h0m-78 9h0m-117-2h0m-19-3h0m-58 6h0m-19 6h0m10-3h0m1 8h0m42-5h0m1 7h0m15-5h0m53-5h0m127 9h0m16-3h0m17 16h0m-62-6h0m-61 0h0m-27 0h0m-45-1h0m-41-2h0m-51 5h0m-10 0h0m0 17h0m57-5h0m7 2h0m78-8h0m2 9h0m17-5h0m28 4h0m64-7h0m48 2h0m-52 20h0m-73-11h0m-27 5h0m-63 1h0m-60 0h0m200 7h0m13 2h0m24-1h0m24 0h0" stroke="#faeded" stroke-width="4" stroke-opacity="0.6"/><path d="M290 -3h0m-8 1h0m-16-4h0m-180 3h0m3 12h0m17 2h0m7 0h0m8-6h0m148-2h0m14 6h0m6-4h0m-25 13h0m-67-6h0m-4 11h0m-22-5h0m-46 0h0m-33-5h0m-41 9h0m-57-1h0m15 7h0m80 0h0m86 4h0m8-4h0m47-1h0m15-2h0m26 2h0m17-2h0m8-1h0m16 11h0m-10 7h0m-5-4h0m-35 2h0m-12-4h0m-62 4h0m-22 6h0m-59-4h0m-26 1h0m-7-7h0m-11 7h0m-35 9h0m14-1h0m9 1h0m57 5h0m2-7h0m82 4h0m9 0h0m45 5h0m23 7h0m-43 4h0m-71-8h0m-31 3h0m-17 4h0m-35 2h0m-4-4h0m-55-4h0m-3 6h0m-5 3h0m81 0h0m14 7h0m100-6h0m97 5h0m6 10h0m-53 0h0m-8-3h0m-27 7h0m-33 0h0m-51-1h0m-27 0h0m-7-3h0m-9-3h0m-55 7h0m-9 5h0m53 4h0m45-1h0m39 5h0m70-7h0m42-1h0m1 18h0m-15-5h0m-76 8h0m-21 0h0m-26-5h0m-4-3h0m-9 1h0m-1 2h0m-72 5h0m-51 6h0m26 6h0m16-8h0m153 8h0m3-4h0m12-6h0m32 5h0m41-5h0m32 11h0m-102 12h0m-123-9h0m-14 7h0m-14-9h0m-38 10h0m-6-8h0m-18 13h0m18 2h0m20 4h0m49 1h0m10-8h0m41 5h0m11-7h0m3 9h0m100-7h0m8 4h0m15-3h0m34 14h0m-17-2h0m-86-1h0m-19 8h0m-69-9h0m-36 7h0m-53-5h0m-10 3h0m-14 14h0m190-7h0m11 8h0m24-9h0m31 9h0m16-1h0m6 1h0m29-6h0m-34 9h0m-42 4h0m-50 7h0m-2-8h0m-20 7h0m-36-8h0m-41 0h0m-4 1h0m-23 7h0m-25 0h0m-5-7h0m-7 1h0m-19-2h0m81 14h0m40 0h0m28-4h0m29 6h0m68 1h0m15-7h0m5 12h0m-18 2h0m-45 6h0m-15-6h0m-22 8h0m-41-2h0m-5-5h0m-88 1h0m-23 0h0m-2 5h0m38 8h0m53-1h0m37 1h0m66 5h0m35-1h0m48 9h0m-60-5h0m-78 10h0m-16-8h0m-16 5h0m-14 3h0m-6-5h0m-11 2h0m-17-2h0m-7-4h0m-12 1h0m-12 3h0m-10-5h0m19 22h0m17 0h0m9-2h0m133-5h0m6-2h0m83 3h0m15 13h0m-32-1h0m-2 0h0m-61 1h0m-67 2h0m-31-5h0m-83-1h0m-33-2h0m6 13h0m25 1h0m13 9h0m32-10h0m30 9h0m1-10h0m41 2h0m30 6h0m5-4h0m35-3h0m15 1h0m8 7h0m33-4h0m24 14h0m-40-7h0m-65 3h0m-68 1h0m-71 2h0m-31 5h0m77 6h0m31 3h0m74-1h0m18-6h0m41 7h0m8-2h0m24 0h0m-29 10h0m-128 2h0m-74 3h0m-14-7h0m-13 3h0m-19 0h0m-27 6h0m111 2h0m15 1h0" stroke="#faeded" stroke-width="4.5" stroke-opacity="0.6"/><path d="M256 -1h0m-45-3h0m-26-2h0m-74 2h0m-34 1h0m-78-3h0m10 15h0m2-4h0m24-3h0m41-1h0m13 1h0m12 4h0m6-2h0m10-3h0m54 6h0m13 2h0m20-8h0m110 1h0m-27 17h0m-7 1h0m-86-4h0m-98 5h0m-20 0h0m64 3h0m19 11h0m58-10h0m21 7h0m23 2h0m18-2h0m27 3h0m7-6h0m-40 17h0m-27-10h0m-22 5h0m-70 4h0m-118-9h0m-4 5h0m-13 6h0m-14-7h0m-12-3h0m13 21h0m30-8h0m30 4h0m5 3h0m48-5h0m32-4h0m8 0h0m23 11h0m46-11h0m68 13h0m-127 3h0m-28 2h0m-18 4h0m-61-6h0m-25 4h0m-21-3h0m18 12h0m36-1h0m71 0h0m5 6h0m59 1h0m91-10h0m15 21h0m-251 1h0m-14 0h0m-5-7h0m-34 12h0m4 7h0m24-3h0m5-3h0m7 0h0m21 3h0m35-1h0m22-6h0m19 10h0m9-5h0m34-4h0m3 6h0m28-5h0m9 8h0m72 10h0m-1-7h0m-23 0h0m-27-2h0m-48 9h0m-22-2h0m-27-7h0m-8 8h0m-13 0h0m-13-2h0m-40-6h0m-72 14h0m124 8h0m10-8h0m7-1h0m33 2h0m25-1h0m23 0h0m7 1h0m2 5h0m59-5h0m3 6h0m15 12h0m-77-3h0m-20-4h0m-4 5h0m-30-5h0m-31-2h0m-104 7h0m-43 8h0m32-2h0m6 1h0m6 9h0m246 1h0m-6 0h0m-6 7h0m-13-3h0m-99-3h0m-9 6h0m-2 4h0m-53-1h0m-5-5h0m-91 15h0m23-7h0m6 5h0m7 3h0m54-6h0m25 0h0m59 4h0m48 2h0m22-7h0m25 0h0m11 20h0m-17 0h0m-14-6h0m-52-3h0m-7 9h0m-37-5h0m-7-3h0m-58 1h0m-77 9h0m102 0h0m11 1h0m90 8h0m58-3h0m8 4h0m16-4h0m-2 10h0m-24 3h0m-93-5h0m-28 1h0m-18 5h0m-29-5h0m-8 8h0m-18-9h0m-43 15h0m13-2h0m44 7h0m13-7h0m92 0h0m16 7h0m35-7h0m25 1h0m32 0h0m-52 8h0m-62 1h0m-40 10h0m-46-10h0m-4 7h0m-77 1h0m-26 9h0m6 5h0m129-7h0m14 1h0m42-3h0m37 2h0m33 7h0m28 0h0m-118 10h0m-3-8h0m-13 0h0m-20 2h0m-7-2h0m-60 5h0m-16-6h0m-16 8h0m-39 15h0m80-1h0m10-6h0m62 4h0m9-8h0m66 5h0m6 6h0m48-10h0m-31 21h0m-3-7h0m-82 2h0m-51-4h0m-43 7h0m-26-5h0m-9 0h0m-45 12h0m29 8h0m10 0h0m15-4h0m16-7h0m29 11h0m23-5h0m40 2h0m22 3h0m7-2h0m14-9h0m83 1h0m28 1h0m-27 15h0m-10 2h0m-61-3h0m-29 6h0m-10 1h0m-70-6h0m-17 6h0m-21-10h0m-10 1h0m66 12h0m46 0h0" stroke="#faeded" stroke-width="5" stroke-opacity="0.6"/><path d="M310 -3h0m-79 1h0m-8 0h0m-101-3h0m-73-2h0m-33 6h0m-12-3h0m-6 5h0m154 8h0m110 12h0m-19 0h0m-84-7h0m-7 7h0m-41-1h0m-102 14h0m68-4h0m9 2h0m9-4h0m24 0h0m6 7h0m5-1h0m13-10h0m69 11h0m89-7h0m-135 13h0m-64 6h0m-37-10h0m-14 4h0m-27-5h0m67 21h0m113 0h0m9-8h0m29 1h0m27 4h0m-23 12h0m-114-4h0m-24-1h0m-60 11h0m13 1h0m22 8h0m13 0h0m17 1h0m6-8h0m4 2h0m8 3h0m38 0h0m21 2h0m40 1h0m15-2h0m8 2h0m38 6h0m-15 0h0m-13 5h0m-28 1h0m-8 1h0m-40-8h0m-34-3h0m-36 2h0m-49 0h0m-48-1h0m-19 8h0m-7 0h0m16 9h0m17-4h0m152 1h0m18 8h0m9-4h0m29-2h0m25 2h0m54 5h0m-9 11h0m-41-9h0m-21 2h0m-16 6h0m-44-10h0m-9 3h0m-18 7h0m-50-9h0m-60 2h0m-27 13h0m9-3h0m13 9h0m12 0h0m101-4h0m31-5h0m99 0h0m2 10h0m-25 2h0m-7 0h0m-76 5h0m-9 1h0m-51-7h0m-12 9h0m-2 3h0m45 10h0m15-5h0m28-4h0m39 3h0m7 5h0m36 14h0m-36-8h0m-25 1h0m-17 2h0m-18-3h0m-53 4h0m-13-7h0m-16 7h0m-50 4h0m-17-1h0m-20-8h0m-16-2h0m70 16h0m16 7h0m6-5h0m20 4h0m3-1h0m9-5h0m17 5h0m18-1h0m3-5h0m20 8h0m130-2h0m-61 5h0m-69 2h0m-129 1h0m-17 7h0m41 8h0m11-2h0m20-5h0m70 10h0m8-9h0m55-1h0m26 16h0m-22-1h0m-15 5h0m-11 0h0m-64-9h0m-128 1h0m45 18h0m8 4h0m20-4h0m52 4h0m8-8h0m69 0h0m73 8h0m15 2h0m-44 10h0m-23-8h0m-13 7h0m-14-9h0m-21 8h0m-10-8h0m-29 10h0m-24-5h0m-11-6h0m-16 3h0m-65 1h0m-29 6h0m-14 4h0m11 3h0m49-2h0m18 6h0m19-4h0m94 6h0m33-3h0m61-2h0m23-1h0m-133 13h0m-6-6h0m-14 8h0m-5-7h0m-32 10h0m-8-4h0m-8 3h0m-73-2h0m-6-7h0m1 21h0m33-5h0m8-5h0m15 10h0m62-1h0m34-7h0m18 5h0m58-7h0m12 2h0m28 3h0m8 3h0m13 1h0m-4 7h0m-60 1h0m-24 0h0m-111 6h0m-2-7h0m-30 2h0m-18 2h0m-3 2h0m-45 0h0m4 9h0m3-7h0m24 1h0m36 6h0m15-6h0m13 4h0m24-5h0m106 3h0m22 5h0m4-7h0m12-1h0m35 8h0m-73 5h0m-39 9h0m-40-5h0m-29 1h0m-15-3h0m-8-2h0m-15 7h0m-54 1h0m-1 2h0m71 3h0m42-2h0m120 2h0m41-2h0" stroke="#faeded" stroke-width="5.5" stroke-opacity="0.6"/><path d="M272 -5h0m-180 1h0m-29 3h0m-7 6h0m10-4h0m117 3h0m23-4h0m50 5h0m-35 7h0m-46 6h0m-37-6h0m-50 7h0m-37 5h0m148 8h0m70-6h0m-3 16h0m-128-1h0m-52-2h0m-42 4h0m-35 12h0m69 0h0m49 4h0m131-9h0m-10 21h0m-17-6h0m-43 0h0m-84 6h0m-92 6h0m52-1h0m14 5h0m80-7h0m43 2h0m63 8h0m-3 5h0m-250 3h0m-9-3h0m18 13h0m42-2h0m67 3h0m36-7h0m4 19h0m-71 0h0m-88 2h0m-4-9h0m44 15h0m140 4h0m42 15h0m-8-1h0m-23-2h0m-102-1h0m-96-2h0m6 13h0m69 2h0m16 0h0m28-4h0m12 0h0m63 6h0m20-2h0m3-5h0m81 5h0m-80 6h0m-226 2h0m38 17h0m25 1h0m76-5h0m13 4h0m2-8h0m15 6h0m27 5h0m23-6h0m98 12h0m-55 6h0m-196-6h0m-60 6h0m41 2h0m9 3h0m13 3h0m49 4h0m31-6h0m48-1h0m22-4h0m29 5h0m17 1h0m37 15h0m-6-8h0m-18 10h0m-47-10h0m-73-1h0m-125 2h0m-21 3h0m4 11h0m74 0h0m25-3h0m34 4h0m55-3h0m69 3h0m8 15h0m-151 1h0m102 14h0m20 2h0m-4 9h0m-25-6h0m-14 3h0m-10-2h0m-33 4h0m-20-4h0m-146 10h0m1 6h0m41 1h0m93-1h0m54-2h0m114-3h0m-69 15h0m-52 4h0m-25-6h0m-116 1h0m47 17h0m19-11h0m106 4h0m7 4h0m31-5h0m8 4h0m1 8h0m-53 4h0m-8-5h0m-43 9h0m-75 0h0m-42-10h0m-36 1h0" stroke="#faeded" stroke-width="6" stroke-opacity="0.6"/><path d="M196 0h0m-100 34h0m79 3h0m-30 8h0m-143 5h0m239 16h0m-32 16h0m10 3h0m-30 6h0m-132 10h0m127-4h0m9 2h0m-144 9h0m187 14h0m55 18h0m-259 9h0m221 2h0m-199 9h0m116 19h0m85 3h0m-78-1h0m36 17h0m27 17h0m-203-7h0m-36 7h0m290 5h0m-269 8h0m56 16h0m133 0h0m41 12h0m-182 15h0m18-1h0m156 8h0m-139 9h0m-25-11h0m-17 10h0" stroke="#e6a6b6" stroke-width="0.6" stroke-opacity="0.8"/><path d="M291 -2h0m-11 0h0m-5 1h0m-151-2h0m-124 12h0m17 0h0m75-6h0m3-1h0m14 1h0m35 1h0m3-4h0m18 9h0m21-4h0m1 4h0m2-6h0m53 7h0m23-6h0m33 7h0m10-2h0m-11 6h0m-9 3h0m-3-4h0m-13 8h0m-6-7h0m-24 7h0m-40-1h0m-6-3h0m-36-3h0m-25 3h0m-22-4h0m-18 1h0m-49 3h0m-45-5h0m1 12h0m28 7h0m35-3h0m27-5h0m39 0h0m60 7h0m113-7h0m0 5h0m-2 16h0m-7-3h0m-50-3h0m-26 2h0m-18-5h0m-15 9h0m-13-8h0m-16 0h0m-6-1h0m-3 2h0m-2 2h0m-136 7h0m73 1h0m4 8h0m13-2h0m60-1h0m1 5h0m66 1h0m1-5h0m14-1h0m7 0h0m4 6h0m37 0h0m9-5h0m-7 16h0m-8-4h0m-11 1h0m-164 3h0m-46-6h0m-14 2h0m-19 3h0m-20 0h0m57 3h0m10 5h0m21 3h0m25-2h0m18 5h0m12-9h0m32 7h0m21-8h0m43 0h0m11 9h0m3-1h0m3-7h0m42 0h0m-23 18h0m-20-8h0m-9 7h0m-16-4h0m-58-3h0m-25 2h0m-63 7h0m-19-6h0m-56 8h0m-5-10h0m98 14h0m68 1h0m49-1h0m28 3h0m-15 11h0m-18-3h0m-16 7h0m-21 0h0m-16 0h0m-21 2h0m-37-3h0m-16 1h0m-3 0h0m-4-6h0m-46 1h0m-22 7h0m-1-1h0m20 9h0m11-1h0m6-2h0m2-2h0m1 0h0m44 0h0m28 7h0m5-2h0m5-6h0m51 9h0m77 1h0m5-4h0m13 2h0m15 13h0m-14-8h0m-2 4h0m-67 4h0m-78-5h0m-16 5h0m-54-1h0m-33-3h0m3 12h0m46 1h0m12-6h0m9 8h0m20-3h0m29-3h0m31 2h0m6-3h0m3 6h0m12-6h0m25 8h0m62-5h0m1 17h0m-129-3h0m-1-1h0m-11 4h0m-6-10h0m-8 11h0m-3-2h0m-14-7h0m-5 4h0m-5 4h0m-44-1h0m-8-8h0m-55 21h0m9-10h0m58 10h0m23-8h0m57 3h0m2-2h0m46-2h0m10 6h0m13-2h0m5 5h0m21 0h0m17-5h0m7 6h0m8-9h0m4 7h0m1-2h0m-25 6h0m-3 9h0m-46-4h0m-12 3h0m-15-2h0m-38-4h0m-32 1h0m-1 3h0m-49-3h0m-23 6h0m-32-7h0m-5-3h0m-11 7h0m0 3h0m-1-4h0m51 8h0m16 0h0m24-1h0m27 10h0m4-5h0m6-4h0m14 7h0m15-2h0m13-2h0m8 0h0m38-2h0m45-3h0m34 4h0m16 8h0m-6 7h0m-37-1h0m-16-4h0m-15 1h0m-42 8h0m-4-2h0m-13-6h0m-10-2h0m0 6h0m-23 1h0m-22-3h0m-39 2h0m-17-1h0m-8-3h0m-14 4h0m-12-3h0m-26 8h0m12 10h0m74-6h0m78 4h0m67-5h0m43-1h0m1 9h0m13-6h0m16-4h0m-42 13h0m-29 3h0m-3-5h0m0 8h0m-1-1h0m-21-1h0m-27-4h0m-45-2h0m-7 1h0m-1-1h0m-17 6h0m-36 2h0m-22-8h0m-1 7h0m-6 0h0m-52 14h0m31-2h0m17-5h0m8 5h0m37 1h0m7 2h0m133-1h0m2-5h0m9 5h0m28-6h0m16-2h0m5 8h0m1-8h0m-34 18h0m-18-1h0m-22 0h0m-6 2h0m-5 1h0m-7-5h0m-31 4h0m0 1h0m-76 1h0m-22-5h0m-45 4h0m-1-2h0m-17-1h0m60 13h0m3-4h0m30 6h0m2-7h0m1 4h0m72-3h0m3-3h0m22 6h0m39-3h0m9 8h0m26-5h0m20-5h0m1 16h0m-5-2h0m-16-2h0m-4 2h0m-67 8h0m-28-11h0m0 8h0m-18-3h0m-1 0h0m-104-5h0m-6 3h0m-2 6h0m-19-1h0m-21 8h0m45-1h0m7 1h0m44 3h0m31 1h0m6-8h0m34 2h0m22-2h0m0 5h0m84 0h0m19 10h0m-7 4h0m-4-2h0m-3-4h0m-81 7h0m-56-3h0m-58-4h0m-25 2h0m-3 4h0m-22 1h0" stroke="#e6a6b6" stroke-width="1" stroke-opacity="0.8"/><path d="M75.2 15.8Q75.0 23.2 72.6 29.3Q70.3 35.3 66.7 39.3Q63.2 43.4 58.9 42.8Q54.7 42.3 54.3 34.6Q53.8 26.9 54.4 20.0Q54.9 13.1 57.9 7.1Q61.0 1.1 65.7 -1.9Q70.5 -4.8 72.9 1.7Q75.4 8.3 75.2 15.8Z" fill="#fdf8f9" stroke="#e0527f" stroke-width="1.5" stroke-linejoin="round"/><path d="M54.8 32.5l-4.4 1.2M73.9 11.9l8.4 -5.2M60.1 41.2l-4.9 9.4" stroke="#e67a9a" stroke-width="0.9" stroke-opacity="0.8"/><path d="M214.7 262.5Q218.7 266.4 216.3 271.7Q213.9 276.9 208.7 278.1Q203.6 279.3 198.2 280.2Q192.8 281.1 189.5 276.5Q186.2 271.9 187.5 266.9Q188.8 261.8 191.6 258.2Q194.5 254.6 199.3 252.3Q204.2 250.1 207.4 254.3Q210.7 258.5 214.7 262.5Z" fill="#fdf8f9" stroke="#e0527f" stroke-width="1.5" stroke-linejoin="round"/><path d="M189.3 271.4l-9.5 4.4M212.2 259.2l10.6 -5.8M213.1 260.9l6.8 -3.4" stroke="#e67a9a" stroke-width="0.9" stroke-opacity="0.8"/><path d="M167.8 260.3Q168.7 263.0 166.4 264.5Q164.0 265.9 160.3 265.0Q156.6 264.1 153.0 262.6Q149.3 261.0 147.8 258.1Q146.3 255.3 146.6 252.5Q146.9 249.7 150.8 249.5Q154.7 249.4 158.4 251.0Q162.2 252.6 164.6 255.1Q166.9 257.5 167.8 260.3Z" fill="#fdf8f9" stroke="#e0527f" stroke-width="1.5" stroke-linejoin="round"/><path d="M165.2 253.9l6.4 -3.6M167.4 256.5l6.3 -3.3M151.2 253.2l-4.2 -9.1" stroke="#e67a9a" stroke-width="0.9" stroke-opacity="0.8"/><path d="M282.4 149.4Q282.6 151.6 282.6 154.0Q282.6 156.3 280.5 156.9Q278.4 157.4 276.6 157.1Q274.8 156.8 273.9 155.1Q273.0 153.4 272.5 151.4Q272.0 149.4 273.6 148.4Q275.2 147.3 276.8 146.6Q278.4 145.9 280.3 146.6Q282.2 147.2 282.4 149.4Z" fill="#fdf8f9" stroke="#e0527f" stroke-width="1.5" stroke-linejoin="round"/><path d="M277.4 146.1l1.6 -6.2M278.9 156.9l0.4 9.7M272.6 150.5l-8.8 -4.1" stroke="#e67a9a" stroke-width="0.9" stroke-opacity="0.8"/></g></g>
<clipPath id="c6"><rect width="306" height="306"/></clipPath>
<g transform="translate(1791 1076.6)" clip-path="url(#c6)"><g filter="url(#bl)" stroke-linecap="round" fill="none"><rect x="-2" y="-2" width="310" height="310" fill="#f4e0dc"/><path d="M158 -2h0m-43-1h0m-88 13h0m37-9h0m67 0h0m50 2h0m37 7h0m75-8h0m0 6h0m6 15h0m-114 0h0m-67-10h0m-18 1h0m-38 3h0m-38 3h0m-10 2h0m12 10h0m29 2h0m6-5h0m13 0h0m7 5h0m5-7h0m115 2h0m4 4h0m1-5h0m47 4h0m16-3h0m48 0h0m-2 17h0m-13 1h0m-17-11h0m-35 9h0m-8-5h0m-9 1h0m-3 2h0m-7-4h0m-11-1h0m-35 2h0m-45 5h0m-17-3h0m-62 5h0m-44 7h0m60-5h0m17-1h0m29 10h0m21-9h0m9 0h0m26 9h0m28 1h0m58-1h0m11-3h0m38 1h0m8 14h0m-28-1h0m-10-8h0m-15 8h0m-12 2h0m-4-2h0m-5-2h0m-33-4h0m-77 6h0m-108 2h0m-24 4h0m88-1h0m8 5h0m10 0h0m33 1h0m10-4h0m61 3h0m19-3h0m39-3h0m36 4h0m13 10h0m-4-2h0m-3 10h0m-7-11h0m-35 3h0m-12 7h0m-10 0h0m-20-4h0m-47-3h0m-34 1h0m-9 6h0m-28-7h0m-11 8h0m-66-7h0m-2 5h0m-13-8h0m-19 5h0m0 4h0m39 10h0m105-4h0m8-2h0m29 6h0m1-4h0m29 5h0m11-3h0m80 14h0m-20-7h0m-6 10h0m-23-9h0m-6 8h0m-5-5h0m-14 4h0m-28-7h0m-59 8h0m-19 1h0m-10-5h0m-46 2h0m-23-7h0m0 6h0m-14 1h0m-11 3h0m-1-9h0m29 11h0m47 1h0m41 5h0m8 0h0m2-2h0m3 2h0m88-4h0m25 1h0m6 6h0m10-9h0m46 8h0m-102 14h0m-8-7h0m-24 7h0m-44-5h0m-15-3h0m-5-1h0m-15 9h0m-10-4h0m-51-5h0m-11 4h0m-11 4h0m7 5h0m12 4h0m139-5h0m36 3h0m20 5h0m26 10h0m-23-6h0m-6 7h0m-22-6h0m-40-2h0m-5 5h0m-29 5h0m-137 5h0m20 6h0m56-7h0m37 5h0m7 0h0m101-6h0m83 11h0m-43 6h0m-13 1h0m-23 3h0m-27-7h0m-7 3h0m-20-6h0m-2 3h0m-3 5h0m-24 1h0m-5-5h0m-100-5h0m-15 0h0m-20 19h0m57-1h0m42-3h0m46 8h0m33-4h0m16-2h0m47 18h0m-21-6h0m-62 4h0m-65-4h0m-54-4h0m-23 14h0m34 3h0m63 1h0m37 0h0m28 0h0m10-1h0m16 5h0m81-3h0m9 10h0m-33-4h0m-96-1h0m-64 2h0m-20 1h0m-20 1h0m-37 4h0m-13-1h0m29 5h0m36 4h0m58-3h0m48 6h0m22-5h0m45 0h0m36 6h0m8-5h0m20 6h0m-45 12h0m-40 1h0m-84-8h0m-4 5h0m-44-4h0m-4 1h0m-92-3h0m31 15h0m21 0h0m77 2h0m21-6h0m14 2h0m13 4h0m81-5h0m27 17h0m-24-2h0m-16 3h0m-40-3h0m-61 6h0m-11-10h0m-21 10h0m-4-5h0m-9 2h0m-79 0h0m-26-2h0m13 13h0m35 2h0m91 2h0m17-5h0m28-1h0m15-3h0m34 1h0m8 7h0m33-2h0m18-7h0m-51 12h0m-11 4h0m-9 6h0m-38-7h0m-49-2h0m-83 0h0m-27-2h0m-18 11h0m105 5h0m3 1h0m135 0h0m9-4h0" stroke="#f8eae8" stroke-width="3" stroke-opacity="0.6"/><path d="M269 -1h0m-7-2h0m-5-1h0m-8 2h0m-51-2h0m-8-1h0m-63 0h0m-2 4h0m-19-3h0m-28-1h0m-68 16h0m5-9h0m2 6h0m17-2h0m0 5h0m4-2h0m20 0h0m25 0h0m85-1h0m27 1h0m8 0h0m72-2h0m29-4h0m5 7h0m-1 11h0m-29-7h0m-14 2h0m-34-3h0m-8 4h0m-8-4h0m-10-1h0m-15 1h0m-21 7h0m-8-4h0m0 7h0m-14 0h0m-6-9h0m-71 5h0m-8 3h0m-5-2h0m-12-4h0m-7 5h0m-5-8h0m-7 4h0m-4-2h0m0 7h0m3 7h0m14-5h0m55 8h0m36 2h0m19-2h0m8 1h0m1-6h0m26 6h0m1-6h0m8 1h0m34-2h0m33-1h0m18 3h0m18 0h0m9 14h0m-7-5h0m-3 10h0m-24 0h0m-2-8h0m-3 4h0m-3-7h0m-43 7h0m-7 4h0m-40-2h0m-2-6h0m-5 4h0m-12-6h0m-1 9h0m-46 1h0m-10-9h0m-16 1h0m-9 7h0m-26-1h0m-28 0h0m-11-1h0m-11-8h0m18 22h0m14-3h0m19 4h0m14-10h0m81 10h0m7-1h0m2-2h0m42-3h0m0 5h0m9-5h0m15 0h0m13-1h0m3 5h0m17 1h0m1-5h0m22-2h0m16 1h0m10 0h0m15 8h0m-6 10h0m-5-1h0m-2-9h0m-6 8h0m-24-1h0m-2 1h0m-51-5h0m-6 2h0m-22 4h0m-17 0h0m-37-3h0m-24-1h0m-23 3h0m-27-5h0m-4 2h0m-25-3h0m-21 6h0m-9 1h0m-7 14h0m13-5h0m44 2h0m12-4h0m30-1h0m33-2h0m21 7h0m14 2h0m73-1h0m15-2h0m3 4h0m19-11h0m13 6h0m10 1h0m5 8h0m-68 2h0m-26 6h0m-12-5h0m-19 2h0m-8 0h0m-18-6h0m-33 5h0m-64 3h0m-10-5h0m-6 0h0m-30 12h0m11-4h0m9 9h0m30 0h0m8-5h0m11-4h0m54 8h0m23-5h0m17 7h0m13-11h0m12 3h0m5 5h0m62-6h0m28 3h0m14 6h0m14 1h0m-17 6h0m-7-1h0m-34 0h0m-22 3h0m-56 3h0m-33-4h0m-9 4h0m-24-5h0m-10-1h0m-23-3h0m-12 9h0m-14-4h0m-11-5h0m-49 0h0m1 12h0m24 3h0m41-4h0m18 2h0m17-1h0m15 3h0m48 3h0m2-4h0m43-4h0m45 8h0m54 0h0m2 2h0m-42 9h0m-6 2h0m-15-5h0m-25 3h0m-8-5h0m-17 5h0m-91-2h0m-3-4h0m-18-1h0m-5 7h0m-46 0h0m-20-1h0m-4 10h0m3 6h0m23-4h0m30-5h0m2 6h0m1-6h0m31 9h0m31-9h0m14 3h0m131 4h0m18 0h0m5 15h0m-10-9h0m-23 3h0m-12-5h0m-4 8h0m-3-6h0m-11-1h0m-18 9h0m-37-9h0m-42 4h0m-7 3h0m-32-5h0m-4 0h0m-6 3h0m-12 4h0m-23-7h0m-5-2h0m-9 10h0m-6-9h0m-23 5h0m-15 12h0m22-3h0m35 3h0m36 3h0m15-2h0m40 2h0m30-8h0m18-1h0m17 8h0m26-2h0m25 0h0m3-6h0m10 3h0m3 3h0m10 10h0m-5 4h0m-11-6h0m-48 4h0m-10-6h0m-27 1h0m0 9h0m-7-6h0m-20-1h0m-51-3h0m-59 1h0m0 6h0m-13 1h0m-18-8h0m-11 9h0m-3-6h0m80 10h0m41 9h0m19-5h0m10 4h0m15-2h0m31 0h0m23-8h0m23 2h0m32 5h0m43 5h0m-27 3h0m-4 4h0m-8 3h0m-13-7h0m-9-2h0m-2 9h0m-12-9h0m-10 3h0m-33 7h0m-3-5h0m-8-3h0m-37-1h0m-27 0h0m-10 6h0m-5 1h0m-22-6h0m-10 8h0m-10-2h0m-42-1h0m-31 14h0m7-8h0m7 0h0m34-1h0m12 6h0m48 2h0m70 0h0m28-2h0m18 0h0m38 2h0m18-8h0m11 4h0m24-3h0m-7 12h0m-36 8h0m-18-9h0m-4 2h0m-10 5h0m-2-7h0m-34 10h0m-10-8h0m-61 2h0m-7-4h0m-68 2h0m-38 0h0m-12-2h0m12 15h0m18 6h0m19-10h0m7 5h0m10 6h0m10-10h0m39 5h0m23-1h0m54-4h0m16 8h0m2-7h0m14 9h0m4-3h0m7-4h0m33 1h0m8 0h0m18-3h0m0 8h0m11-7h0m5 19h0m-26-6h0m-36 4h0m-30 1h0m-8 2h0m-4-7h0m-4 3h0m-2 4h0m-87-8h0m-42-2h0m-22 0h0m-39 14h0m14 3h0m7 1h0m13-5h0m17 2h0m0 6h0m27-9h0m15 10h0m19 0h0m44-1h0m10-8h0m62 8h0m38-8h0m6 1h0m23 8h0m6 0h0m-4 4h0m-14-2h0m-21 5h0m-6 2h0m-26-2h0m-31-4h0m-19 2h0m-10-2h0m-31 4h0m-23 1h0m-3-3h0m-33 1h0m-54 6h0m-22-10h0m-10 4h0m-8 16h0m10-4h0m10 3h0m9-5h0m0 3h0m69 2h0m12-6h0m8 8h0m1-7h0m4-3h0m36 9h0m13 0h0m90-7h0m38 8h0m8 11h0m-8-7h0m-22 6h0m-90-4h0m-26-3h0m-21 0h0m-4 0h0m-3 9h0m-4-2h0m-22-3h0m-24 5h0m-14-9h0m-25 6h0m14 6h0m19 2h0m11 2h0m31-2h0m70 0h0m40 0h0m43 1h0m5 0h0" stroke="#f8eae8" stroke-width="3.5" stroke-opacity="0.6"/><path d="M309 -1h0m-25-1h0m-54-2h0m-16-2h0m-21 1h0m-30 4h0m-69 0h0m-49-4h0m-29 1h0m-14 12h0m21 3h0m14-8h0m7 8h0m8-10h0m15 10h0m10-9h0m5 1h0m3 5h0m2-6h0m4 2h0m24-2h0m75 5h0m21 3h0m6-6h0m25 2h0m25 0h0m13-1h0m17 5h0m16-3h0m-38 15h0m-18-8h0m-4 9h0m-59-4h0m-5 1h0m-7-4h0m-3 7h0m-1-10h0m-11 0h0m-13 0h0m-33 10h0m-40-2h0m-7 2h0m-5-10h0m-20 6h0m-52 5h0m18 10h0m17-4h0m10-1h0m25-2h0m20 7h0m26-1h0m30-7h0m26 9h0m18-1h0m31 1h0m25 0h0m5-4h0m37-4h0m28 12h0m-29 2h0m-21 5h0m-26 0h0m-13-3h0m-3-6h0m-38 6h0m-6 2h0m-28-7h0m-1 7h0m-5 0h0m-20-2h0m-14-2h0m-2-2h0m-34-2h0m-5 9h0m-13-8h0m-21 1h0m-9-2h0m-11 9h0m-11-3h0m-8 4h0m27 12h0m22-7h0m7 4h0m18 1h0m27-8h0m56 2h0m13 2h0m48 5h0m11 0h0m42-9h0m47 0h0m3 8h0m-25 5h0m-37 1h0m-25 4h0m-60-3h0m-5-2h0m-7 0h0m-15 1h0m-22 4h0m-3-1h0m-13 5h0m-5-9h0m-31 7h0m-3-2h0m-9 4h0m-7-4h0m-4 1h0m-35-6h0m-5 19h0m11-6h0m18 4h0m1-5h0m3 3h0m44 3h0m15-1h0m15 3h0m9-3h0m53-2h0m7 0h0m3 4h0m24-8h0m6 7h0m3-5h0m14-1h0m29 1h0m45 18h0m-31-8h0m-39 4h0m-8-2h0m-12 2h0m-4 5h0m-10-5h0m-3 3h0m-27-6h0m-15 0h0m-2 6h0m-10-1h0m-15-5h0m-4 5h0m-4-4h0m-39 4h0m-3-5h0m-6-2h0m-5 10h0m-23-2h0m-43 6h0m8 5h0m14-2h0m16-4h0m0 7h0m2 1h0m21 1h0m38-10h0m52 7h0m30-6h0m9 4h0m32-2h0m3 8h0m3-9h0m8 1h0m5-1h0m10 3h0m4 5h0m10-3h0m6 3h0m10 1h0m29-7h0m-28 13h0m-37 6h0m-62-9h0m-12 8h0m-6-7h0m-114 7h0m-48-2h0m2 5h0m0 6h0m47-5h0m31 5h0m20-2h0m6 2h0m26-3h0m15-3h0m23 2h0m9 1h0m6 5h0m5-9h0m5 8h0m9 0h0m6-7h0m1 7h0m33-4h0m5 7h0m6-7h0m4-4h0m0 5h0m0 6h0m21-8h0m5 17h0m-4-2h0m-3 2h0m-25-5h0m-55 4h0m-2-7h0m-29 7h0m-9-2h0m-32 2h0m-4-4h0m-41 5h0m-59-7h0m-2 8h0m-2-6h0m-21-3h0m1 15h0m14 4h0m6-3h0m5 6h0m21-2h0m1-6h0m26 2h0m9 6h0m33-10h0m25 9h0m6-1h0m4-6h0m3 5h0m14 0h0m2-4h0m12 5h0m54-4h0m16-2h0m11 3h0m21-2h0m25 6h0m2 2h0m-35 2h0m-13 10h0m-8 0h0m-14-2h0m-6-1h0m-94 2h0m-66-6h0m-20 7h0m-2-8h0m-12 5h0m-22-1h0m-8 2h0m7 5h0m27 2h0m8 0h0m9-4h0m59 11h0m25-1h0m1-9h0m14 3h0m13 4h0m36-3h0m23 4h0m2-6h0m73 0h0m3 4h0m4 8h0m-2 5h0m-7 1h0m-16-7h0m-12-1h0m-8 0h0m-37 10h0m-1-2h0m-21-8h0m-8 6h0m-18-2h0m-27 3h0m-12 1h0m-21-3h0m-9 3h0m-1-5h0m-6 0h0m-17-2h0m-6 8h0m-26 0h0m-3-7h0m-22-2h0m-11 0h0m-12 8h0m-4-7h0m-12 17h0m12-1h0m30-2h0m32 6h0m18-1h0m19 0h0m6 2h0m44-1h0m19-9h0m2 4h0m43-2h0m5 4h0m17 0h0m6-6h0m9 7h0m5-8h0m10 5h0m37 10h0m-1 4h0m-37-2h0m-37-4h0m-25 8h0m-3 2h0m-14 0h0m-18-6h0m-22 3h0m-12-1h0m-15 2h0m-25-7h0m-32 3h0m-8 1h0m-53 2h0m-14-5h0m33 11h0m44 1h0m8 0h0m8-2h0m8 4h0m13 6h0m15 0h0m11-4h0m16-2h0m7-2h0m32 0h0m20 0h0m49 4h0m3-4h0m36 6h0m-6 11h0m-1-3h0m-12-2h0m-41 0h0m-14 4h0m-31-6h0m-40 0h0m-13-1h0m-13 7h0m-7 0h0m-6 2h0m-9-2h0m-32-3h0m-23 3h0m-7-4h0m-6-2h0m-9 3h0m-9 1h0m-20 15h0m33-3h0m12 6h0m16-8h0m21 5h0m27 3h0m51-11h0m0 4h0m17 4h0m6-7h0m17 6h0m5 3h0m13-5h0m13 0h0m28 4h0m6-2h0m6 3h0m32-2h0m2-4h0m2 4h0m-30 5h0m-14 3h0m-10 5h0m-121 2h0m-3-1h0m-19-1h0m-6-5h0m-4 3h0m-18 4h0m-22-8h0m-13 8h0m-15-1h0m-23-9h0m-14 18h0m8-2h0m20-2h0m15-2h0m0 8h0m19-7h0m11-1h0m1 6h0m34-3h0m6-2h0m0 6h0m19-5h0m8 0h0m37 2h0m28 5h0m4 1h0m46-4h0m5 3h0m35-2h0m11-7h0m15 3h0m-21 15h0m-5 4h0m-18-7h0m-7-3h0m-9 1h0m-12 2h0m-20 3h0m-47-4h0m-7 6h0m-12-5h0m-3-4h0m0 8h0m-9-6h0m-6 7h0m-14-6h0m-21 5h0m-21-7h0m-10 0h0m-9 1h0m-5 1h0m-11-1h0m-22 7h0m-9-4h0m-19 10h0m2 8h0m67-5h0m1 1h0m7-4h0m23-3h0m30 5h0m15 6h0m7-4h0m33 4h0m6-6h0m18 1h0m2-1h0m15 0h0m14-1h0m22 7h0m19-4h0m35-3h0m-2 11h0m-30 6h0m-16 0h0m-6-6h0m-32 2h0m-24-1h0m-65 4h0m-23 0h0m-8-7h0m-58 5h0m-3 2h0m-26-2h0m-6 1h0m-23 0h0m30 6h0m99-1h0m10 2h0m13 3h0m6-3h0m15 0h0m6 0h0m115 2h0m7 1h0" stroke="#f8eae8" stroke-width="4" stroke-opacity="0.6"/><path d="M315 -3h0m-34 2h0m-8 0h0m-95-3h0m-35 3h0m-69-1h0m-3-3h0m-46 1h0m-16 1h0m-5-1h0m26 5h0m33 10h0m49-6h0m11-1h0m12-4h0m2 3h0m40-1h0m34 0h0m15 1h0m16-1h0m12 6h0m11-7h0m12 10h0m8-10h0m17 8h0m15-3h0m-4 15h0m-23-2h0m-21 2h0m-30 1h0m-19-2h0m-20-4h0m-37 3h0m-12 0h0m-19 3h0m-6-6h0m-17 5h0m-22-8h0m-11 0h0m-26 4h0m-4 4h0m-6-8h0m-8 7h0m-30-3h0m-5-4h0m58 13h0m28 3h0m62-1h0m31 0h0m14 0h0m24 4h0m4-4h0m32-2h0m12 6h0m47 2h0m-16 13h0m-8 0h0m-28-8h0m-21 2h0m-27-1h0m-4 4h0m-2-3h0m-76 0h0m-32 2h0m-9-5h0m-5 8h0m-16 1h0m-9-3h0m-10-4h0m-39-1h0m-9 2h0m-1 14h0m42 0h0m10-4h0m14 8h0m10-7h0m15 5h0m13 1h0m5-6h0m34-1h0m16 4h0m25 4h0m8-4h0m36-3h0m11 7h0m34 0h0m35-8h0m-4 14h0m-17-5h0m-13 2h0m-34-1h0m-8 3h0m-2 7h0m-1-8h0m-26 3h0m-22-2h0m-25 7h0m-5-1h0m-54-1h0m-18 1h0m-25-10h0m-4 3h0m-33 7h0m-13 3h0m21 3h0m1 3h0m21 3h0m23-1h0m57-5h0m18-3h0m15 2h0m6 1h0m14 7h0m22-9h0m1 6h0m38-7h0m5 7h0m73 11h0m-27-2h0m-8-2h0m-1 5h0m-7 0h0m-2-8h0m-10 2h0m-1 5h0m-11 0h0m-8-4h0m-36-3h0m-11 3h0m-21 6h0m-16-3h0m-40 0h0m-24-5h0m-20 10h0m-17-4h0m-61 12h0m3-6h0m19 3h0m53-3h0m7 6h0m2-2h0m9-2h0m6 1h0m5 4h0m14-7h0m7 8h0m37-6h0m10 3h0m18 5h0m100-7h0m14 1h0m9 12h0m-71-5h0m-8 7h0m-24-5h0m-5 9h0m-46-7h0m-8-1h0m-25 2h0m-28-1h0m-4 0h0m-8 7h0m-32-8h0m-17 6h0m18 12h0m8-8h0m0 6h0m37-7h0m27 11h0m26-2h0m11-4h0m5 2h0m8 2h0m5-2h0m7 3h0m9 0h0m12-6h0m37 6h0m2-5h0m28 6h0m5-1h0m16-1h0m5-2h0m15-5h0m-5 13h0m-19 0h0m-13 7h0m-11-5h0m-8 2h0m-25 4h0m-48-10h0m-17 8h0m-22-2h0m-4 0h0m-25 3h0m-23-7h0m-22 1h0m-21 3h0m-9 0h0m-29-1h0m-12 11h0m17-1h0m67-2h0m15 2h0m13 2h0m13 3h0m10-8h0m14 4h0m10 5h0m8-1h0m8 0h0m9-5h0m6 5h0m7-4h0m1 3h0m6-6h0m7 5h0m30-3h0m4 5h0m16 0h0m1-6h0m6 4h0m39 13h0m-17-4h0m-15 3h0m-54 1h0m-13-1h0m-14-5h0m0 8h0m-12-4h0m-11 5h0m-19-1h0m-5-5h0m-1 2h0m-65-6h0m-78-1h0m27 17h0m23-2h0m12 6h0m2 2h0m2-10h0m9 6h0m24-4h0m14 0h0m17 4h0m18-3h0m2 3h0m10 0h0m14-7h0m2 4h0m15 1h0m47-3h0m4 9h0m9-5h0m42-2h0m19 1h0m-24 7h0m-33 1h0m-15 5h0m0 3h0m-12-7h0m-38 5h0m-21 3h0m-12-6h0m-8 4h0m-29 0h0m-10 3h0m-32-1h0m-7-1h0m-9-5h0m-16 5h0m-54 6h0m20-2h0m10 2h0m28-1h0m0 5h0m27 0h0m14-3h0m39 1h0m40 3h0m27-6h0m40 7h0m11 2h0m28-10h0m29 9h0m9-9h0m-92 17h0m-1 5h0m-9-7h0m-125 4h0m-34-8h0m-5 1h0m-2 7h0m-45-8h0m19 16h0m42 0h0m17 4h0m12-7h0m7 6h0m30-7h0m36 0h0m0 10h0m27-5h0m9-3h0m23 1h0m2 4h0m2 4h0m5-5h0m18-1h0m12 6h0m6-4h0m8 0h0m35-7h0m-5 20h0m-6 2h0m-4-10h0m-28 1h0m-22 6h0m-23-5h0m-12 9h0m-10-6h0m-11 3h0m-8-5h0m-5 0h0m-68 1h0m-44 4h0m-7 2h0m-4 0h0m-11 0h0m-39-1h0m-2-2h0m-8-6h0m14 20h0m9-4h0m19 4h0m80 0h0m62-9h0m13 10h0m63-3h0m27-2h0m30-1h0m-5 13h0m0 2h0m-4-2h0m-7-4h0m0 7h0m-6 2h0m-26-10h0m-5 8h0m-16 2h0m-10-5h0m-1 2h0m-23-4h0m-18 3h0m-10 4h0m-4 1h0m-94-10h0m-21 9h0m-2-5h0m-26-1h0m-3 0h0m-32 4h0m88 13h0m25-4h0m9-1h0m22 4h0m39 2h0m3-7h0m3 5h0m2-1h0m9-3h0m6 1h0m17-1h0m8 1h0m6-3h0m25 6h0m4 2h0m2-7h0m6 5h0m23 3h0m3 0h0m11-8h0m1 10h0m-9 10h0m-24-3h0m-47 1h0m-3-8h0m-9 10h0m-55-9h0m-78 7h0m-5-2h0m-8 3h0m-5-3h0m-23 2h0m-38-1h0m5 5h0m37 6h0m13 1h0m29 3h0m12-6h0m22 6h0m7-6h0m9 1h0m15-2h0m5-1h0m0 5h0m54-2h0m49-3h0m24-1h0m7 3h0m2 16h0m-9-5h0m-53 3h0m-43-1h0m-18 5h0m-3-3h0m-10-5h0m0 7h0m-58 0h0m-7-9h0m-4 10h0m-33-10h0m-20 8h0m-9-1h0m-4-3h0m-13 8h0m116 5h0m46-5h0" stroke="#f8eae8" stroke-width="4.5" stroke-opacity="0.6"/><path d="M158 0h0m149 17h0m-165 18h0m158 0h0m-268 9h0m40 21h0m-10 18h0m13-10h0m220 4h0m-63 14h0m-123 4h0m-56 4h0m138 14h0m-99 3h0m133 7h0m54 10h0m-110 0h0m-123 19h0m116-3h0m-2 11h0m-123 0h0m92 18h0m6-9h0m132 6h0m-67 8h0m-15-3h0m-74 17h0m16 0h0m162 1h0m-124 11h0m-49-1h0m-20 7h0m154 8h0m-160 14h0m-7-1h0m90 11h0m63 3h0m-60 7h0m-150 0h0m206 14h0m-234 12h0m140 13h0m163-8h0m6 11h0m4 5h0m-51 3h0m-16-4h0" stroke="#f8eae8" stroke-width="5" stroke-opacity="0.6"/><path d="M252 -1h0m-250 5h0m115 13h0m-36 13h0m85 1h0m69-3h0m-153 14h0m-75-3h0m227 9h0m53 14h0m-146 6h0m1 7h0m167 16h0m-287 12h0m187 3h0m-56 5h0m84 10h0m-57 13h0m-9 5h0m6 15h0m42 0h0m-43 13h0m-77-11h0m-45 12h0m109 10h0m5-10h0m-12 14h0m-126 10h0m177 11h0m40-9h0m24 18h0m-148-7h0m-22 5h0m81 15h0m49-3h0m61 1h0m-148 35h0m-49 16h0m65-8h0m-120 19h0m-5 3h0m53 10h0m212-6h0m6 5h0m-87 8h0" stroke="#e6a6b6" stroke-width="0.6" stroke-opacity="0.8"/><path d="M131 -3h0m-115 9h0m22 0h0m23 4h0m18-4h0m84 5h0m23-3h0m23 0h0m55-1h0m9 4h0m6-4h0m3-6h0m-8 21h0m-13-3h0m-22 0h0m-47-2h0m-25-3h0m-49-2h0m-44 1h0m-47 10h0m-19 6h0m24 3h0m49 0h0m1-1h0m37 1h0m16-3h0m18 2h0m14-4h0m29 7h0m20-9h0m41 10h0m25-3h0m22-8h0m-67 23h0m-25-7h0m-29 3h0m-7-1h0m-34 3h0m-9-3h0m-9-1h0m-28 2h0m-28-6h0m-29 6h0m-39-5h0m1 20h0m4-4h0m73 2h0m50-2h0m10 2h0m6-8h0m62 8h0m54-8h0m14 3h0m-22 9h0m-60 1h0m-12 1h0m-3 7h0m-33-6h0m-17-3h0m-5 4h0m-12 5h0m-38-5h0m-5-3h0m-49 7h0m-7 3h0m-5-2h0m-3-6h0m0 4h0m147 9h0m27 7h0m29 0h0m32-5h0m9 4h0m50-10h0m-34 21h0m-62-8h0m-2 5h0m-3 0h0m-6-2h0m-3 4h0m-30-3h0m-63-5h0m-22 11h0m-5 3h0m10 1h0m6 8h0m12-1h0m4-8h0m26 3h0m5-4h0m3 4h0m5 6h0m15-6h0m37 0h0m29-5h0m18 2h0m22-2h0m2 0h0m41 16h0m-43 5h0m-7-6h0m-25 6h0m-21-6h0m-31 6h0m-6 0h0m-4-1h0m-30 1h0m-3-6h0m-19 4h0m-27-1h0m-12 0h0m-2 1h0m-6 4h0m-14-11h0m-17 0h0m8 17h0m2 1h0m29 5h0m6-1h0m8 0h0m58-7h0m2-3h0m0 5h0m12-2h0m80-1h0m8 1h0m6-2h0m17 8h0m4-2h0m6 8h0m-115 2h0m-2 0h0m-4 5h0m-34-9h0m-19 9h0m-18-4h0m-67-4h0m-5-2h0m4 15h0m39 4h0m15 0h0m11 0h0m7-6h0m46 0h0m17 8h0m12 1h0m22-3h0m29-1h0m40-3h0m49 6h0m-25 4h0m-7-1h0m-94 1h0m-8 8h0m-45-5h0m-1 2h0m-11-3h0m-66 5h0m-2-1h0m-4 2h0m-21-1h0m-7-6h0m-13 18h0m4-7h0m26-1h0m4 5h0m10-1h0m35 7h0m12-8h0m19 7h0m7-3h0m44 0h0m101 3h0m6-3h0m6-3h0m24 2h0m-5 11h0m-62-3h0m-8 8h0m-5-9h0m-39 9h0m-4-5h0m-83-2h0m-9 4h0m-61-1h0m-25-2h0m70 16h0m1-4h0m19-3h0m7 0h0m8-1h0m5 9h0m1 1h0m9-4h0m2 1h0m7-1h0m28-1h0m16-2h0m26 1h0m25 6h0m23-8h0m9 7h0m8 0h0m3-7h0m17 7h0m-7 11h0m-35 2h0m-117-10h0m-11 6h0m-13-1h0m-16 2h0m-55 7h0m2-1h0m2 3h0m21 1h0m9-1h0m21-2h0m26 1h0m9 8h0m1-1h0m1-4h0m182 17h0m-45-8h0m-1 8h0m-37 0h0m-35-10h0m-7 1h0m-18-2h0m-10 6h0m-13 2h0m-3-8h0m-57 0h0m-68 10h0m-8 0h0m0 4h0m3-1h0m4 5h0m18-1h0m20-3h0m36 4h0m22-4h0m38 9h0m4-2h0m12-3h0m41-5h0m8 10h0m2 0h0m50-6h0m0 4h0m1 0h0m2-1h0m9-5h0m10 4h0m2-5h0m11 16h0m0 4h0m-70-1h0m-8 0h0m-38-3h0m-37-3h0m-16 0h0m-102 7h0m-18-1h0m2 7h0m18 5h0m9-3h0m0 4h0m16-6h0m40-3h0m0 9h0m25-9h0m20 9h0m24-8h0m3 4h0m34-5h0m49 9h0m15-4h0m31-5h0m12 8h0m2 14h0m-46-2h0m-24 1h0m-17-8h0m-2 0h0m-43 5h0m-15 3h0m-69-3h0m-51 4h0m-6-1h0m-6-6h0m-20 13h0m15 6h0m9-4h0m30 1h0m1-2h0m67 2h0m2-7h0m7 4h0m2-3h0m14 3h0m29-4h0m35 7h0m-20 7h0m-4-3h0m-111 9h0" stroke="#e6a6b6" stroke-width="1" stroke-opacity="0.8"/><path d="M123.7 78.8Q126.1 84.4 125.1 90.1Q124.0 95.8 122.2 98.2Q120.4 100.6 118.1 100.3Q115.9 100.1 113.5 96.4Q111.2 92.7 109.8 86.3Q108.5 79.9 109.0 73.1Q109.6 66.2 112.8 66.7Q116.0 67.1 118.6 70.1Q121.3 73.2 123.7 78.8Z" fill="#fdf8f9" stroke="#e0527f" stroke-width="1.5" stroke-linejoin="round"/><path d="M110.6 79.7l-10.5 -1.8M117.5 68.7l3.9 -11.9M120.5 100.7l6.2 5.4" stroke="#e67a9a" stroke-width="0.9" stroke-opacity="0.8"/><path d="M220.7 75.2Q221.6 80.1 221.9 85.6Q222.1 91.1 220.5 93.8Q219.0 96.4 217.1 94.8Q215.2 93.2 213.3 90.1Q211.3 87.1 211.7 81.8Q212.0 76.5 212.7 72.8Q213.3 69.2 214.8 68.2Q216.3 67.2 218.0 68.7Q219.8 70.3 220.7 75.2Z" fill="#fdf8f9" stroke="#e0527f" stroke-width="1.5" stroke-linejoin="round"/><path d="M220.1 72.2l7.2 -1.9M212.1 82.2l-10.9 1.7M218.8 91.9l3.8 4.7" stroke="#e67a9a" stroke-width="0.9" stroke-opacity="0.8"/><path d="M228.0 208.8Q228.8 212.2 229.1 215.3Q229.3 218.4 226.3 221.3Q223.2 224.2 218.8 224.4Q214.3 224.7 209.9 223.6Q205.5 222.5 205.0 218.7Q204.5 214.9 206.8 211.5Q209.2 208.0 213.6 206.0Q218.0 203.9 222.5 204.7Q227.1 205.5 228.0 208.8Z" fill="#fdf8f9" stroke="#e0527f" stroke-width="1.5" stroke-linejoin="round"/><path d="M208.0 219.6l-5.5 5.2M230.0 217.0l7.4 3.4M224.8 222.6l3.0 6.4" stroke="#e67a9a" stroke-width="0.9" stroke-opacity="0.8"/><path d="M95.0 251.9Q96.7 255.6 95.6 259.0Q94.4 262.3 93.1 264.3Q91.7 266.4 89.6 266.4Q87.5 266.4 85.6 264.0Q83.6 261.7 82.7 257.9Q81.7 254.2 83.1 251.6Q84.5 249.0 86.4 247.2Q88.2 245.3 90.7 246.7Q93.3 248.1 95.0 251.9Z" fill="#fdf8f9" stroke="#e0527f" stroke-width="1.5" stroke-linejoin="round"/><path d="M85.6 248.8l-9.2 -9.7M88.1 247.1l-5.2 -9.1M89.3 247.0l-2.6 -8.7" stroke="#e67a9a" stroke-width="0.9" stroke-opacity="0.8"/></g></g>
<clipPath id="c7"><rect width="306" height="306"/></clipPath>
<g transform="translate(1150 1395.4)" clip-path="url(#c7)"><g filter="url(#bl)" stroke-linecap="round" fill="none"><rect x="-2" y="-2" width="310" height="310" fill="#aab7cf"/><path d="M39 29h0m251 28h0m-249 13h0m176 49h0m14 23h0m-232 79h0m154 15h0" stroke="#7386cc" stroke-width="3"/><path d="M186 10h0m7-10h0m45 14h0m-94 9h0m-69-3h0m4 8h0m149-1h0m6 7h0m0 9h0m-105 8h0m38 7h0m113 10h0m-39 3h0m-66-9h0m-30 2h0m-102-1h0m-38 2h0m76 9h0m13-1h0m207 9h0m-229 18h0m5 5h0m24-1h0m131-1h0m27 3h0m43-9h0m-26 19h0m-32-5h0m-40 6h0m-185 2h0m182 21h0m-6 2h0m-72 1h0m-80 4h0m203 8h0m44 10h0m-171-9h0m-17 1h0m-13 7h0m190 8h0m-4 16h0m-73-5h0m-131 15h0m210 17h0m-122-5h0m-142 3h0m-5 8h0m154-1h0m8 1h0m1 0h0m86 6h0m-74 3h0m-144 3h0m-25 0h0m-12 3h0m-4 4h0m102 6h0m108-3h0m49 8h0m32-1h0m-52 5h0m-72 2h0m-38-5h0m-50 9h0m-67-5h0m-3 14h0m208 16h0m-93-2h0m-10-4h0m-114 15h0m3 2h0m217-6h0m41 16h0m-62-7h0m-14 0h0m-99 1h0" stroke="#7386cc" stroke-width="3.5"/><path d="M41 10h0m249-10h0m5 10h0m-4 2h0m-113 9h0m-13 2h0m-14-7h0m-35 8h0m58 11h0m-24 8h0m-43-3h0m-23 3h0m-25 4h0m-27 6h0m2 5h0m-18 16h0m17-1h0m49-1h0m69 5h0m9 0h0m60-4h0m75 3h0m-57 19h0m-136-5h0m-37 7h0m88-1h0m6 11h0m77-10h0m51 3h0m-14 16h0m-73 3h0m-70-11h0m-12 7h0m-59 2h0m19 8h0m33 1h0m56 16h0m3 12h0m19-5h0m14 1h0m39 4h0m6 7h0m-37 1h0m-200 10h0m14-4h0m264 8h0m-3 12h0m-30-4h0m-51-1h0m-134 20h0m91-1h0m90 9h0m-35-5h0m-73 5h0m-36-5h0m107 11h0m12 1h0m59 16h0m-43 1h0m-177-1h0m18 7h0m9-1h0m74 7h0m73 4h0m2-7h0m66 11h0m-12 7h0m-200-8h0m-97 1h0m10 19h0m5 0h0m255 3h0m-1 3h0m-126 2h0m-25 2h0m-88-6h0m-22 8h0m10 3h0m13 8h0m184 0h0m18 11h0m-226-8h0" stroke="#7386cc" stroke-width="4"/><path d="M202 -3h0m-183 6h0m23 1h0m74 7h0m139 3h0m-9 2h0m-58-3h0m-82 4h0m-38 2h0m94 7h0m26 8h0m-61 11h0m-64 4h0m35 0h0m12 10h0m36-9h0m25 0h0m118 20h0m-25-6h0m-84 0h0m-53 13h0m95 5h0m58-8h0m25 15h0m-119-3h0m-99 7h0m-3-3h0m-14 2h0m-32 15h0m23-6h0m213 17h0m-25-8h0m-16 1h0m-71 0h0m-156 5h0m-4 13h0m6-7h0m170 0h0m53 14h0m-68 4h0m-103-6h0m-4 1h0m-17-1h0m110 19h0m50 2h0m94-4h0m13 4h0m-14 3h0m-122 2h0m-67-2h0m-85 15h0m8 3h0m70-1h0m21 0h0m22 3h0m108-6h0m33-2h0m-32 15h0m-1-4h0m-18 6h0m-9 3h0m-99-6h0m-52-3h0m-62 0h0m168 13h0m108 8h0m4-9h0m-138 14h0m-19 7h0m-94-6h0m10 12h0m77 2h0m57 3h0m13-3h0m110-5h0m2 22h0m-37 0h0m-103-2h0m-107 3h0m4 7h0m91-6h0m151 8h0m-257 24h0m8-5h0m205 3h0m1 16h0m-172-11h0m-14 8h0m-66-2h0m204 14h0m35 1h0" stroke="#7386cc" stroke-width="4.5"/><path d="M126 -1h0m-105 6h0m172 3h0m57 0h0m14-2h0m0 13h0m-56-5h0m-48 0h0m-64 2h0m155 23h0m-8 8h0m-77-9h0m-42 6h0m-101 8h0m39 3h0m46-1h0m57 4h0m7-10h0m24 5h0m-17 7h0m-100 15h0m175 14h0m-213 5h0m-42 3h0m32 5h0m63-3h0m190 14h0m-1 1h0m-43-6h0m-118 15h0m171 19h0m-78-5h0m-2 18h0m86-8h0m-71 13h0m-56 5h0m-70-2h0m-66 1h0m-16 2h0m99 22h0m-109 2h0m92 8h0m152-6h0m-40 15h0m-88 8h0m-79 3h0m138 8h0m74-3h0m-24 13h0m-124-1h0m-15 0h0m-90 10h0m181 2h0m12 2h0m66 6h0m-68 5h0m-67-3h0m-74 0h0m-2 6h0m90 12h0m56-3h0m18 2h0m56-6h0m24 19h0m-23-8h0m-51 3h0m-104 4h0m-18-3h0m-3 10h0m144 15h0m-69-7h0m-170-1h0" stroke="#7386cc" stroke-width="5"/><path d="M250 16h0m-2-2h0m-184 1h0m-4-2h0m-49 6h0m2 12h0m4-1h0m266-5h0m-171 18h0m52 6h0m31 4h0m46 9h0m-197-1h0m262 15h0m-194 15h0m-97 2h0m-6-9h0m-4 0h0m4 12h0m172 5h0m-81 11h0m-4 3h0m-44-4h0m191 24h0m-29 7h0m-4-2h0m-210 5h0m109 1h0m173 2h0m15 12h0m-13 4h0m-116-6h0m-25 0h0m-28 13h0m18-3h0m16 0h0m149 13h0m-209 7h0m-82 5h0m37 7h0m33-8h0m-43 13h0m166 23h0m-15 8h0m-30 15h0m140 5h0m-136 3h0m-32 1h0m70 25h0m-138-4h0m150 23h0m-58-2h0" stroke="#7386cc" stroke-width="5.5"/><path d="M4 -1h0m271 21h0m-167 1h0m-7-6h0m-12 0h0m-4-1h0m-41 5h0m-8-5h0m-33 14h0m112 0h0m0 10h0m-30 5h0m-19-5h0m-35-2h0m37 17h0m6-1h0m27 2h0m69-5h0m54 1h0m61 8h0m17 11h0m-277 2h0m-13-3h0m-2 3h0m-4 9h0m7-1h0m83-4h0m10 7h0m94-8h0m55 5h0m40 3h0m-21 7h0m-46-4h0m-68 2h0m-64 0h0m-52 7h0m-26-5h0m-12-2h0m0 16h0m123-3h0m24 6h0m13-7h0m42 3h0m66 3h0m10 2h0m23 6h0m-98 5h0m-3-1h0m-46 0h0m-158 6h0m12-3h0m156 9h0m9-1h0m68-2h0m27 5h0m-74 8h0m-20-7h0m-40 1h0m-12-1h0m-8 1h0m-20 2h0m-25 5h0m46 9h0m28-1h0m111 0h0m22 6h0m4 13h0m-101-5h0m-67 0h0m-37 2h0m-40-7h0m-18-1h0m14 17h0m28 1h0m67 3h0m175-7h0m-46 21h0m-19-5h0m-36-1h0m-71 2h0m-49 4h0m-29-8h0m-19 2h0m-9 4h0m-20 9h0m231 5h0m34-11h0m-129 22h0m-41-6h0m-82 0h0m-16 16h0m12-1h0m81-5h0m191 14h0m-2 0h0m-175 7h0m-16-5h0m-52-2h0m-6 1h0m-37 6h0m-4 6h0m22 6h0m12-4h0m24-7h0m14 10h0m6-7h0m37 7h0m1-3h0m60-7h0m122 23h0m-2-6h0m-135 0h0m-28 4h0m-116 8h0m22 3h0m112-6h0m83 3h0m64-3h0m11 2h0m3-1h0m-92 17h0m-156-4h0m-18 12h0m102 6h0m70 1h0m76 4h0m-4 5h0m-134-2h0m-17-4h0m-41-2h0m-27 5h0m-23-3h0" stroke="#d04840" stroke-width="1"/><path d="M274 -1h0m-37 0h0m-61-1h0m-15 1h0m-24 0h0m-15-1h0m-7 0h0m-17-1h0m-19-1h0m-12 0h0m-6 1h0m-1 2h0m-31 0h0m-25 6h0m4 1h0m7 5h0m1-8h0m2 3h0m1 2h0m4 1h0m9-2h0m8-5h0m4 7h0m4-4h0m4-5h0m7 6h0m2-3h0m6 2h0m2-5h0m15 4h0m5-1h0m1 8h0m1-4h0m8 3h0m3-5h0m7 1h0m7 4h0m1 1h0m5-11h0m6 0h0m7 0h0m1 2h0m1 0h0m18 4h0m7 4h0m5 1h0m4-8h0m2 5h0m3-2h0m57-6h0m0 2h0m1 9h0m5 0h0m2-10h0m9 4h0m6 6h0m0 0h0m4-7h0m0 5h0m7-8h0m2 1h0m2 6h0m1 2h0m12-6h0m4 4h0m8-3h0m2 3h0m9 15h0m-6 0h0m-1-8h0m-2 8h0m-15-9h0m0 3h0m-5-4h0m-2 9h0m-5-7h0m-12 6h0m-4-9h0m-24 10h0m-55-8h0m-6 0h0m-10 1h0m-19 0h0m-3 6h0m-5 0h0m-8 2h0m-7-2h0m-3-4h0m-10-1h0m-5 0h0m-2 4h0m-5-5h0m-12 4h0m-3 0h0m-3-1h0m-13-3h0m-2 5h0m-6 3h0m-3 0h0m-2-9h0m-2 9h0m-12-6h0m-13 0h0m-3 0h0m0 6h0m-8-7h0m-1 4h0m-1-2h0m-2 1h0m-1-7h0m-2 5h0m-5-5h0m0 3h0m-2 5h0m13 10h0m1-5h0m1-1h0m3 6h0m0 3h0m6-5h0m7 3h0m6 1h0m1-8h0m3 5h0m1 6h0m2-3h0m6-5h0m3 3h0m3-3h0m5 1h0m4-4h0m0 7h0m9-2h0m3 1h0m1-6h0m5 11h0m3-10h0m2 6h0m2 4h0m4-11h0m3 3h0m0 5h0m6 0h0m7 0h0m5-8h0m4 7h0m1-4h0m13 3h0m5-5h0m2 4h0m5-5h0m6 11h0m12-9h0m1 8h0m17-2h0m4-1h0m5 2h0m32 1h0m4-1h0m2 1h0m5-7h0m16 2h0m1 4h0m7-5h0m1 5h0m19-4h0m11 4h0m9 1h0m12-9h0m6 3h0m-3 12h0m-10 6h0m-11 0h0m-31-10h0m-3 9h0m-10-7h0m-4 4h0m-2 5h0m-12-5h0m-6 5h0m-1-10h0m-4 5h0m-10-1h0m-6-5h0m0 9h0m-3-9h0m-6 5h0m-9 2h0m-4-3h0m-5 2h0m0 2h0m-5-4h0m-11-1h0m-1 7h0m-1-6h0m-4 2h0m-7-4h0m-20 2h0m-4 4h0m-8-8h0m-10 8h0m-2 1h0m-5-8h0m-10 8h0m-1-9h0m0 9h0m-3-2h0m-3-5h0m-1 9h0m-1-9h0m-2 6h0m-4-1h0m0 3h0m-4-4h0m-5 4h0m-1-10h0m-2 5h0m-3 2h0m-7-7h0m-2 9h0m-4-6h0m0 4h0m-3-2h0m-5 1h0m-1-6h0m-4 3h0m0 6h0m-1-8h0m-1 6h0m-2-4h0m-4-3h0m-15 1h0m-5 4h0m-2 5h0m0 12h0m6-5h0m9 0h0m5 4h0m4-5h0m8-1h0m7 1h0m3-2h0m0 7h0m2-3h0m1 2h0m2-1h0m3 1h0m3 1h0m4-9h0m5 9h0m21-2h0m4-4h0m0 2h0m4-1h0m1 2h0m7 2h0m2-4h0m4 5h0m4-6h0m3 0h0m1 1h0m1 5h0m4-3h0m1-5h0m0 7h0m4-7h0m4 5h0m1-6h0m10 7h0m2 3h0m3-10h0m0 2h0m3 4h0m26 3h0m10 1h0m3-7h0m6 3h0m0 5h0m5 0h0m5-11h0m0 5h0m2 0h0m11 1h0m3-5h0m10 10h0m1-4h0m9-4h0m0 6h0m4-4h0m1 2h0m8-7h0m15 1h0m3 10h0m1-7h0m2 5h0m8-2h0m7-6h0m1 1h0m13-1h0m4 4h0m8-2h0m0 10h0m-13 4h0m-2-2h0m-1 2h0m-5 2h0m-10 3h0m-5-9h0m-6 5h0m-13 3h0m-1-7h0m-6 5h0m-17-5h0m-1 8h0m-2-5h0m-7-1h0m-12 0h0m-3 3h0m-2-6h0m-9 2h0m-4-2h0m-9 2h0m-10-2h0m-8 9h0m-1-2h0m-9-6h0m-1-2h0m-6 9h0m-25 1h0m-5-4h0m-3 2h0m-12 2h0m-5 0h0m-2-8h0m-6 2h0m-3 1h0m-4 1h0m-5 5h0m-9-11h0m-2 9h0m-5-8h0m-3 1h0m-9-1h0m0 9h0m-4-4h0m-2 2h0m-1-6h0m-3 3h0m-1 4h0m-7-9h0m-4 4h0m-14-4h0m-3 7h0m-12 2h0m4 6h0m3 2h0m7-3h0m1 8h0m7-8h0m3 8h0m3-8h0m7 6h0m10-5h0m2-3h0m0 0h0m7 0h0m0 7h0m13-5h0m6 7h0m4-2h0m6-4h0m5-2h0m2 8h0m8-5h0m1 6h0m2-7h0m1 1h0m11 5h0m6-6h0m5 4h0m6 3h0m1-4h0m6-4h0m22 4h0m8 2h0m4-4h0m5-2h0m20 6h0m6-6h0m2 3h0m5-2h0m15 2h0m14-5h0m10 6h0m7 3h0m4 1h0m13-2h0m2-8h0m4 2h0m9 9h0m8-4h0m15-3h0m0 12h0m-42 6h0m-4-2h0m-3-8h0m-12 7h0m-2-4h0m-2-1h0m-17 6h0m-4-4h0m-1 6h0m-2-6h0m-8 6h0m-15 1h0m-3-7h0m-12 6h0m-26-6h0m-12 2h0m-4 4h0m-5-1h0m-7-6h0m-3 2h0m-3-2h0m-12 2h0m-1-4h0m0 1h0m0 4h0m-6-4h0m-1 5h0m-2-3h0m-5 2h0m-2-6h0m-5 11h0m-1-4h0m-10 4h0m-3 0h0m-1-4h0m-1-3h0m-5-1h0m0 6h0m-2-1h0m-1 3h0m-5-8h0m-1 1h0m-4 3h0m-4-4h0m-6 0h0m-6-1h0m-2 6h0m-2-8h0m-6 11h0m-11-4h0m-6 0h0m-1-4h0m-11 6h0m10 6h0m2 2h0m4-4h0m5 4h0m4-2h0m8 7h0m10-3h0m1 2h0m1-5h0m1 6h0m1-6h0m14 1h0m3 1h0m4 3h0m3-7h0m1 6h0m3-3h0m0 6h0m4-1h0m1-9h0m1 6h0m7-4h0m2 6h0m6-2h0m1-4h0m4 2h0m7-5h0m2 8h0m6-6h0m2-1h0m2-1h0m16 8h0m4-3h0m6-3h0m0 0h0m11 4h0m3-1h0m3-4h0m8 5h0m14 0h0m4 0h0m8-3h0m3 3h0m11-4h0m2 8h0m13-4h0m17-4h0m3 2h0m19-1h0m4 4h0m2-5h0m8 0h0m5 6h0m10-2h0m6 3h0m13 9h0m0 4h0m-9 1h0m-11-6h0m-2 4h0m-10-2h0m-16-2h0m-8-1h0m-3-1h0m-18 6h0m-1-9h0m-1 1h0m-12 6h0m0 3h0m-14-5h0m-8-2h0m-6 2h0m-13 2h0m-2-5h0m-3 0h0m-4 3h0m-3 4h0m-10-1h0m-5 3h0m-6-6h0m-8 2h0m-17-7h0m-7 2h0m-5 3h0m-2 2h0m-4-5h0m-1 3h0m-3-3h0m-3 6h0m-2-6h0m-2 5h0m-3-2h0m-4 4h0m-1-3h0m-3-1h0m0 5h0m-7-9h0m0 5h0m-1 4h0m-2 1h0m-2-6h0m-2-2h0m-5-1h0m-1 9h0m-1-4h0m0 4h0m-7-3h0m-4-3h0m-23 5h0m-3-5h0m-16-1h0m-1 6h0m-9-9h0m0 10h0m1 9h0m2-4h0m9 7h0m1-9h0m4 5h0m22-5h0m8 1h0m10 7h0m2-4h0m7 1h0m4 1h0m0 0h0m1-6h0m4 9h0m12-9h0m1 3h0m4-4h0m4 4h0m1 5h0m4-4h0m9 4h0m4 0h0m7-2h0m2-1h0m14 3h0m8-1h0m3 0h0m2-7h0m1 5h0m4-4h0m13 4h0m17 2h0m19-8h0m5-1h0m2 8h0m1-1h0m3 0h0m3 1h0m8 3h0m8-8h0m5 4h0m6-6h0m4 10h0m2-10h0m6 4h0m5 5h0m1-5h0m2-5h0m1 5h0m16 5h0m5-2h0m18-7h0m2 7h0m1-5h0m2 7h0m4-8h0m-2 15h0m-1-3h0m-3 2h0m-2 4h0m-18-2h0m-2-6h0m-1 1h0m-14 0h0m-7 5h0m-19-1h0m-3-1h0m-7 3h0m-2-7h0m-9 5h0m-3 6h0m-3-6h0m-5-4h0m-7 8h0m-16-6h0m-1 2h0m-16-3h0m-48 9h0m-8-5h0m-1 4h0m-3-1h0m-3-6h0m-15 5h0m-4-3h0m0 4h0m-3-5h0m-2-4h0m-4 6h0m-6-6h0m-1 4h0m-3 3h0m-7-2h0m-3-1h0m-5 1h0m-6-1h0m-2-1h0m-7 8h0m-3-6h0m-3-5h0m0 4h0m-2 1h0m-1 6h0m-4-2h0m-3-6h0m-4 4h0m-1-6h0m-5 0h0m-3 8h0m-11-1h0m0 10h0m5 3h0m1-4h0m3-5h0m1 8h0m6-8h0m1 7h0m6-2h0m1 3h0m4-4h0m7 2h0m3-2h0m8-3h0m3 4h0m0 6h0m5-6h0m21-5h0m14 6h0m6-1h0m3 2h0m2-6h0m4 2h0m8-3h0m0 7h0m4-5h0m4 3h0m4-2h0m14-3h0m6 1h0m20 7h0m5-5h0m5-2h0m6 1h0m14 3h0m6 6h0m1 0h0m4-2h0m1-4h0m14 5h0m3-6h0m8 3h0m7-3h0m2 4h0m3 0h0m2 0h0m2-5h0m2 6h0m5-3h0m27-6h0m5 6h0m14 3h0m9 0h0m3 13h0m-6-4h0m-1-5h0m-25 6h0m-3 1h0m-5-4h0m-8-1h0m-2-3h0m-3 0h0m-30 8h0m-17-4h0m-1-3h0m-9 2h0m-6 7h0m-4-3h0m-10 3h0m-3 1h0m-6-7h0m-1-1h0m-2 4h0m-7-1h0m-9-4h0m-4 5h0m-2-3h0m-5-1h0m-6 7h0m-2-3h0m-10-4h0m-4 6h0m-5-9h0m0 7h0m-6-3h0m-6 6h0m-4-6h0m-2 7h0m-4-8h0m0 2h0m-1 6h0m-2-9h0m0 4h0m0 4h0m-10-9h0m0 8h0m-11 2h0m-1-8h0m-4 4h0m-4-3h0m0 2h0m-1 3h0m-9-6h0m-2 2h0m-10 6h0m-6-10h0m-7 7h0m-5 3h0m-3-1h0m-2-3h0m-5 1h0m-4-2h0m-4 5h0m-2 4h0m0 1h0m6-4h0m5 2h0m5-1h0m1 9h0m5-7h0m3 1h0m7 0h0m12 4h0m4-5h0m0 3h0m6 1h0m1-7h0m3 10h0m1-7h0m5 2h0m8-5h0m2 3h0m3-2h0m3 4h0m7 5h0m4-8h0m0 3h0m0 4h0m2-1h0m4-5h0m1 6h0m3-6h0m1 5h0m5 2h0m1-4h0m2 3h0m7-4h0m7-1h0m20 4h0m18-7h0m5 7h0m2 1h0m1-1h0m5-5h0m2 5h0m1 1h0m8 0h0m1-4h0m1 3h0m13-8h0m15 2h0m1 6h0m4-7h0m13 5h0m11-3h0m5 0h0m7 4h0m9 1h0m5-8h0m0 2h0m3 2h0m3 7h0m4-7h0m1 6h0m14-6h0m1 5h0m1-2h0m9-7h0m4 12h0m-7 7h0m-9-3h0m-1 5h0m-21-4h0m-5 6h0m-1-1h0m-14-6h0m-3 3h0m-5-4h0m-14-2h0m0 5h0m-7 1h0m-7-5h0m-14 7h0m-1-2h0m-5 4h0m-4-1h0m-17-7h0m-8 1h0m-5-4h0m-3 5h0m-1-3h0m-5-1h0m-6 2h0m-9 6h0m-2-2h0m-8-7h0m-2 7h0m-27-6h0m-11 0h0m-15 0h0m-12-1h0m-1 7h0m-12-4h0m-7-3h0m0 5h0m-1 3h0m-8-1h0m-6-6h0m-4 7h0m-6-4h0m-17 4h0m0 3h0m0 12h0m6-7h0m7 6h0m5-8h0m23-2h0m8 3h0m0 7h0m8-5h0m1-5h0m1 0h0m7 5h0m2-3h0m3 3h0m13 5h0m5-5h0m1-3h0m0 8h0m2-1h0m3-8h0m4-1h0m6 11h0m9-2h0m2-7h0m1 6h0m4-1h0m0 2h0m9-2h0m5 1h0m6-2h0m4 5h0m12-3h0m2-6h0m8 0h0m3 3h0m2-5h0m8 1h0m4 5h0m2-5h0m9 3h0m2-2h0m4 5h0m3 1h0m9 3h0m4-2h0m17-3h0m33 5h0m7-6h0m0 3h0m11-5h0m12 0h0m6 0h0m9 14h0m-6 1h0m-1 5h0m-16-5h0m-2-2h0m-1 4h0m-11 2h0m-1-8h0m-4 1h0m-2 5h0m-6-7h0m-2 3h0m-13 1h0m-4 6h0m-2-4h0m-9-6h0m-4 1h0m-2 6h0m-1-7h0m-4 5h0m-13 2h0m-3-8h0m-7 2h0m-3 1h0m-2 3h0m-11-6h0m-1 4h0m-4-3h0m-6 5h0m-1-3h0m-5-2h0m-2 4h0m-11-4h0m-14 2h0m-7 3h0m-21 0h0m-7 1h0m0 4h0m-8-3h0m-4 3h0m-1-5h0m-16 1h0m-8 2h0m-5-4h0m-2 3h0m-4 3h0m-5-4h0m-18-6h0m-3 7h0m-10 0h0m-5 2h0m-4-8h0m-1 2h0m-8 6h0m-2-6h0m-2 12h0m2-3h0m1 5h0m6-2h0m7-2h0m8 1h0m1 5h0m7 1h0m2-6h0m0 3h0m7 4h0m7-2h0m3-5h0m4 7h0m6-9h0m1 8h0m6 1h0m1-5h0m6 1h0m2 0h0m3-2h0m5 2h0m10 1h0m1-2h0m2 3h0m6 3h0m12-4h0m2-6h0m22 2h0m0 2h0m2-5h0m2 5h0m6 2h0m0 4h0m1-9h0m1 0h0m0 7h0m6-9h0m7 6h0m2 2h0m18-4h0m29 6h0m6-7h0m5-2h0m3 9h0m8-1h0m6-7h0m12 2h0m3 7h0m4-2h0m3 1h0m20-4h0m1-5h0m1-1h0m9 7h0m4-6h0m7 6h0m7-4h0m-1 19h0m-1-4h0m-25 4h0m-3-1h0m-4 1h0m-19-7h0m-10-3h0m-10 8h0m-4-4h0m-4-1h0m-3 1h0m-17-1h0m-9 8h0m-11-2h0m-1-7h0m-4 5h0m-2-3h0m-6 4h0m-2-4h0m-13 3h0m-3-3h0m-6 4h0m-7 3h0m-11-4h0m-4 4h0m-4-7h0m-5-2h0m-3 5h0m-8-5h0m-3 3h0m-13-1h0m-2-3h0m-6 6h0m-7 4h0m-6-9h0m0 4h0m-2 2h0m0 1h0m-3-6h0m-4-2h0m-7 0h0m-4 4h0m-1-3h0m-3 6h0m-8-2h0m-13 3h0m-12-9h0m0 4h0m0 7h0m-6-1h0m-14-10h0m8 15h0m5 2h0m21-1h0m1 3h0m6-7h0m0 2h0m1 7h0m8-8h0m6 1h0m6 4h0m6 0h0m4-4h0m5 0h0m0 3h0m3 1h0m11 1h0m1-5h0m0 7h0m7-8h0m3 1h0m3 2h0m10 2h0m1-6h0m7 3h0m0 7h0m8-4h0m3 5h0m4-9h0m1 6h0m8 1h0m1-3h0m19 2h0m7 0h0m4 1h0m19-1h0m1 3h0m21 0h0m5-8h0m3-1h0m1 9h0m19-4h0m1-4h0m1 6h0m15-1h0m14 0h0m15-8h0m5 0h0m0 5h0m10 1h0m1-4h0m7 5h0m-1 6h0m-4 6h0m-14-4h0m-6 1h0m-11 2h0m-20-1h0m-6-4h0m-1 5h0m-4 1h0m-19-5h0m0 3h0m-10 5h0m-1-5h0m-17 3h0m-4-7h0m-19 3h0m-10 3h0m-13-6h0m-5 7h0m-10-4h0m-1-4h0m-6 6h0m-14-5h0m-5 4h0m-2-3h0m-2 3h0m-9 1h0m-3-2h0m-1 3h0m-3-2h0m-1-4h0m-3 0h0m0 10h0m-10-4h0m-4 1h0m-2 2h0m-4-7h0m-7 5h0m-7-4h0m-1 2h0m-6-6h0m-5 6h0m-2-5h0m-4 8h0m-1-2h0m-3-3h0m-3 7h0m-1-4h0m-9-7h0m-4 0h0m-17 6h0m-1 13h0m7 4h0m4-6h0m3-5h0m0 9h0m3 2h0m8-7h0m8 2h0m1 5h0m2-1h0m10 1h0m4 0h0m1-11h0m6 3h0m1-3h0m7 6h0m3-3h0m3 1h0m1-1h0m9 5h0m13-1h0m4-4h0m9 0h0m2 3h0m2-3h0m5 3h0m19-3h0m5 0h0m6 2h0m2 1h0m10 1h0m10-3h0m6 1h0m6-5h0m8 1h0m3-1h0m1 1h0m4 2h0m13 1h0m10 7h0m2-3h0m1-7h0m10 2h0m4 3h0m13 5h0m5-10h0m49 4h0m8 0h0m4 7h0m-2 2h0m-3 6h0m-32 3h0m-3-3h0m-4-7h0m-3 0h0m-18 2h0m-11 2h0m-1-3h0m-9 7h0m-5-1h0m-7-1h0m-2 4h0m-5-7h0m-4-2h0m-4 2h0m-3-1h0m-1 3h0m-8-3h0m-3 0h0m-4 6h0m-33-5h0m-4 2h0m0 5h0m-1-8h0m-19 4h0m-2 0h0m-4-7h0m-4 0h0m-5 0h0m-4 10h0m-3-9h0m-3 8h0m-7-4h0m-8 4h0m-8 2h0m-5-8h0m0 7h0m-4-3h0m-8-7h0m-1 6h0m-4-1h0m-1 4h0m-1-5h0m-7 3h0m-5 0h0m-8 3h0m-1-3h0m-1-3h0m-3-2h0m-3 2h0m-7 4h0m-4-1h0m-1 4h0m-5-7h0m-4 2h0m-4-5h0m0 14h0m2 8h0m4-8h0m3 8h0m1-4h0m3-6h0m9 6h0m2-3h0m3 7h0m5-11h0m5 1h0m0 8h0m3-2h0m2 2h0m6-1h0m5-7h0m7 6h0m2 3h0m4-10h0m5 3h0m16 8h0m4-7h0m8 5h0m9-5h0m7 4h0m3-5h0m1-3h0m4 5h0m13 6h0m6-7h0m4-4h0m1 1h0m13 2h0m6-2h0m1 4h0m22 5h0m7-5h0m15 2h0m6 4h0m9-6h0m3 6h0m9-9h0m7 9h0m3-7h0m7-2h0m0 2h0m10 4h0m17 3h0m2-2h0m4-6h0m2 3h0m1 3h0m7-7h0m8 5h0m-4 15h0m-3-4h0m-7-4h0m-2 0h0m-9 1h0m-4 4h0m-12-7h0m-4 2h0m-1 5h0m-7-1h0m-14 4h0m-2-5h0m-1-4h0m-1 0h0m-1 4h0m-1 5h0m-23-5h0m-6-3h0m-1 2h0m-4 7h0m-4-11h0m-12 3h0m-11 7h0m-6-3h0m-10 3h0m-6-4h0m-9 3h0m-2-4h0m-5 0h0m-3 4h0m-10 1h0m-6-10h0m-6 6h0m-4-3h0m-8 4h0m-9-7h0m-3 11h0m-8-3h0m-2 1h0m-10-1h0m-1 2h0m-1 0h0m-3-6h0m-8 1h0m-6-3h0m-3-1h0m-3 6h0m-4-1h0m-5-4h0m-2 0h0m-2 3h0m-1-3h0m-11 5h0m-1 3h0m-3-10h0m-3 2h0m-2 5h0m29 5h0m35 0h0m133 0h0m49 0h0" stroke="#d04840" stroke-width="1.5"/><path d="M306 -1h0m-9-2h0m-46 2h0m-10-1h0m-72 1h0m-4 0h0m-18-2h0m-38 2h0m-17-1h0m0 1h0m-7 0h0m-2-2h0m-38 0h0m-12-1h0m-23 3h0m-11 0h0m-2 6h0m6 4h0m2-1h0m7-6h0m3 5h0m5-7h0m5 3h0m1-3h0m4 10h0m3-4h0m3-3h0m4 7h0m7-4h0m5-1h0m1-2h0m6-3h0m11 4h0m9-1h0m2 1h0m0 5h0m2-6h0m4 6h0m7-2h0m1-6h0m2 4h0m2-2h0m2 7h0m4 1h0m3-10h0m3 10h0m2-9h0m2 4h0m1-6h0m1 2h0m3 5h0m6 3h0m1-4h0m3-4h0m6 7h0m1-4h0m40 0h0m1-5h0m67 3h0m33 8h0m11-9h0m0 3h0m0 5h0m6-7h0m2-3h0m14 7h0m-3 13h0m-23 3h0m-3-2h0m-7-7h0m-7 9h0m-5-11h0m-1 8h0m-6-5h0m-1 5h0m-5-8h0m-3 10h0m-3-7h0m-8-2h0m-64 8h0m0 2h0m-1-4h0m-5-4h0m-3 7h0m-5-6h0m-6-3h0m-2 9h0m-12-6h0m-12 2h0m-2-6h0m-1 9h0m-3-6h0m-9 8h0m-3-7h0m-2 2h0m-7-4h0m-3 9h0m-5-2h0m-2-4h0m-4-1h0m-4 6h0m-2-10h0m-9 2h0m-3 1h0m0 5h0m-1-4h0m-5-4h0m-8 3h0m-12 1h0m-9-1h0m-1 3h0m-1 5h0m-4-6h0m0 6h0m-5 0h0m-4-10h0m-2 6h0m-7 1h0m-10 10h0m5-2h0m1-1h0m1 3h0m5 4h0m22-6h0m8 0h0m0 0h0m7 0h0m0 6h0m3-9h0m2 9h0m7-1h0m1-6h0m5-1h0m1 6h0m1-2h0m2 4h0m2-10h0m7 3h0m0 3h0m2-6h0m4 7h0m6 1h0m5-1h0m1-2h0m3-4h0m6 5h0m2-2h0m3 1h0m4 5h0m10-9h0m6 9h0m9-9h0m6 5h0m28-1h0m21 5h0m45-9h0m4 8h0m7 1h0m6-3h0m4 0h0m5-2h0m4 1h0m3 4h0m2-7h0m8 5h0m27-8h0m3 2h0m-14 11h0m-4 5h0m-2 5h0m-13-4h0m-13-7h0m-11 5h0m-7-1h0m-1 4h0m-2 3h0m-10-9h0m-4 6h0m-4-6h0m-3 6h0m-4 0h0m-7-8h0m-5 10h0m-15 0h0m-1-10h0m-4 3h0m-1 1h0m-4-2h0m-6 2h0m-11-4h0m-1 1h0m-2 5h0m-2 3h0m-1 2h0m-14-3h0m-9 0h0m-4 1h0m-13-6h0m-3 1h0m-4 3h0m-2-7h0m-6 2h0m-8 1h0m-1 4h0m-12-3h0m-6 2h0m-5-1h0m-1-3h0m-6 9h0m-3-9h0m-24-1h0m-2 10h0m-6-1h0m-1-5h0m-13 5h0m-6 1h0m-6 0h0m-3-2h0m-1-9h0m-1 1h0m-2 7h0m-1 6h0m4 1h0m1 3h0m4-3h0m1 6h0m6-9h0m8 3h0m1-3h0m3 0h0m0 10h0m5-1h0m2-2h0m12-6h0m6 5h0m7-5h0m4 1h0m8 5h0m2-4h0m3 0h0m3 5h0m3-5h0m3-1h0m4 7h0m6-6h0m3 7h0m10 1h0m23-7h0m13 5h0m12-7h0m13 7h0m11-6h0m15 0h0m9-2h0m6 0h0m8 3h0m13 4h0m6-1h0m5 4h0m3-7h0m10 6h0m5-7h0m0 4h0m11-3h0m3 4h0m6-5h0m9 4h0m3-5h0m5 4h0m4-1h0m1 3h0m5-7h0m2 5h0m-10 8h0m-11 0h0m-4 8h0m-1-9h0m-5 7h0m-8-4h0m0 0h0m-2 6h0m-5 1h0m-3-2h0m-2-4h0m-2 0h0m-9-2h0m0 5h0m-2-1h0m0 4h0m-10-6h0m-1-2h0m-7-1h0m-10 8h0m-15-6h0m-2 5h0m-9-4h0m-1 0h0m-13 4h0m-4-9h0m-4 7h0m0 4h0m-10-11h0m-3 8h0m-11-2h0m-4 3h0m-10-5h0m-2 0h0m-6 1h0m-1 5h0m-11-9h0m-3 6h0m-6-3h0m-2 3h0m-7-7h0m-2 10h0m-3 1h0m-2-9h0m-4 6h0m-2-7h0m-8 7h0m-3-5h0m-3 4h0m-6 2h0m-4-3h0m-6 1h0m-6 2h0m-8-2h0m-11-2h0m-3-2h0m0 3h0m-21-4h0m-1 3h0m-1 8h0m0 5h0m0 4h0m6-2h0m2-6h0m1-2h0m3 4h0m1 6h0m8 0h0m5-5h0m1 3h0m0 2h0m8-6h0m0 7h0m3-5h0m1-2h0m2 2h0m2 3h0m3-2h0m2-2h0m1 4h0m12-5h0m2 2h0m0 4h0m6-3h0m2-2h0m0 4h0m1-9h0m9 6h0m5 3h0m6-8h0m0 4h0m11-4h0m6-1h0m1 7h0m5 0h0m1-1h0m2-3h0m7 7h0m16-3h0m4-1h0m1 2h0m2 2h0m1-4h0m3-6h0m0 10h0m4-7h0m0 6h0m10-1h0m11 2h0m7-7h0m4 3h0m2-5h0m5 1h0m6 8h0m5-1h0m13-4h0m7 5h0m7-1h0m9-9h0m4 2h0m7 7h0m3-8h0m14 1h0m2 5h0m5 3h0m4 0h0m7-8h0m16 3h0m5 2h0m6 10h0m-11 5h0m-4-9h0m0 8h0m-1-1h0m-13-7h0m0 6h0m-6-3h0m-3 5h0m-6-6h0m-14 0h0m-34 2h0m-1 1h0m-16-5h0m-7 3h0m-4-4h0m-6 8h0m-9 0h0m-5-3h0m-6-1h0m-5 6h0m-2-4h0m-5 2h0m-9 2h0m-16-5h0m-47-2h0m-2 4h0m-3-7h0m-13 0h0m-17 1h0m-12 6h0m-6 3h0m-1-6h0m-1 1h0m-3 0h0m-2-3h0m-2 8h0m-1-7h0m-6 8h0m-5-2h0m-1-1h0m-6-1h0m-4-7h0m-1 7h0m4 11h0m1 0h0m2 4h0m7 0h0m4-1h0m5-7h0m4 4h0m1-3h0m0 7h0m6-10h0m8 5h0m1-4h0m8 3h0m2-3h0m0 4h0m3-1h0m0 5h0m3-6h0m4-1h0m5-1h0m3 3h0m8-1h0m5 8h0m3-7h0m4 1h0m6 6h0m12-9h0m6 1h0m3 1h0m1 6h0m4-2h0m0 2h0m12-2h0m3-5h0m2-1h0m13-2h0m0 5h0m19 5h0m9-8h0m6 1h0m1 5h0m33-2h0m5-5h0m4 2h0m0 8h0m3-3h0m1 0h0m4-5h0m0 5h0m12-5h0m15 5h0m2-4h0m12 3h0m1-4h0m3 3h0m11 5h0m7-8h0m3 6h0m3-4h0m6-4h0m0 5h0m1 9h0m-2-3h0m-6 2h0m-3-2h0m-2 10h0m-15-6h0m-15-1h0m-3 8h0m-18-8h0m0 7h0m-1-4h0m-4-3h0m-29 3h0m-4-1h0m-9-1h0m-4-4h0m-1 0h0m-22 0h0m-5 6h0m-23-6h0m-3 0h0m-14 6h0m-2-5h0m-6 7h0m-4 3h0m-4-2h0m-5-9h0m-4 10h0m-5 1h0m-13-11h0m-3 1h0m-2 9h0m-8-8h0m-15-2h0m-11 5h0m-3 3h0m-1-3h0m-4 2h0m-1-3h0m0 3h0m-1 1h0m-7-5h0m-1 0h0m0 3h0m-5-5h0m-2 0h0m-7 10h0m-1-6h0m-5 1h0m-7 0h0m-4 1h0m2 7h0m10-1h0m9 2h0m5 3h0m2-3h0m0 8h0m3-4h0m12-1h0m11-6h0m1 6h0m2-2h0m5-4h0m5 10h0m4-10h0m9 0h0m1 10h0m6-3h0m5-7h0m9 4h0m4 1h0m14-3h0m12 0h0m4 3h0m5 2h0m1-6h0m18 9h0m15-9h0m16 0h0m6 2h0m2 4h0m5 2h0m2-1h0m11 3h0m3-9h0m5 5h0m2-2h0m9 0h0m5 0h0m2 4h0m12-3h0m6 3h0m9 0h0m1-8h0m3 0h0m12-1h0m4 11h0m7-2h0m2-9h0m16 6h0m-5 9h0m-17-2h0m-5 5h0m-4 4h0m-1-10h0m-10 11h0m-10-4h0m-10-4h0m-16 8h0m-2-7h0m-1 7h0m-6-9h0m-22-2h0m0 3h0m-9 3h0m-2-2h0m-5 7h0m-9 0h0m-3-7h0m-3 2h0m-11 1h0m-4-7h0m-7 5h0m-6 6h0m-4-1h0m-8-9h0m0 8h0m-13-7h0m-8 0h0m-1 7h0m-3-3h0m-5 4h0m-2-10h0m0 1h0m-1 8h0m-6-9h0m-2 1h0m-9 8h0m-11 2h0m-4-6h0m-3 4h0m-4 0h0m-3-8h0m0 8h0m-3-9h0m-1 8h0m-8-5h0m-6 0h0m-1 0h0m-8-1h0m0 0h0m-3 4h0m-14-3h0m-5 2h0m-1-3h0m-2 9h0m-5 11h0m3-2h0m9-4h0m10-2h0m1-2h0m7 6h0m0 5h0m5-10h0m0 9h0m4-7h0m4 6h0m7-5h0m4-2h0m1 8h0m3-8h0m2 5h0m6 2h0m3-8h0m1 9h0m5-1h0m4 0h0m11-1h0m8 2h0m1 1h0m4-2h0m3-2h0m2 0h0m1-7h0m0 9h0m4 2h0m2-3h0m4-6h0m11 3h0m2 0h0m0 6h0m16-9h0m3 1h0m3 5h0m4-7h0m3 0h0m3 1h0m4 4h0m1-3h0m2 8h0m3-3h0m0 2h0m1-3h0m7-2h0m1 1h0m11 5h0m2-10h0m17 6h0m1 0h0m2-5h0m3-2h0m20 8h0m5-3h0m13 5h0m11-9h0m12 5h0m17 1h0m8-4h0m-1 19h0m-1-5h0m-2 4h0m-12-3h0m-12 5h0m-7-11h0m0 2h0m-12 3h0m0 0h0m0 4h0m-8 1h0m-8 1h0m-9-9h0m-5 4h0m-7-1h0m-1-2h0m-4 8h0m-1-3h0m-9-2h0m-10-4h0m-19 9h0m-6-3h0m-1 0h0m-2-7h0m-6 4h0m-32 0h0m-4-3h0m-19 1h0m-1 5h0m-6 0h0m-14-1h0m-1-7h0m0 4h0m-6-2h0m-2 4h0m-1 4h0m-9-6h0m-3 7h0m-8-9h0m-7 5h0m-6 4h0m-3-10h0m-5 9h0m-1-6h0m-3 2h0m-2 4h0m-8-10h0m-4 2h0m-11 2h0m0 3h0m-2-7h0m-5 11h0m2 7h0m0 5h0m1-6h0m5-4h0m7 8h0m6-4h0m3 2h0m4-1h0m3 5h0m4-11h0m2 11h0m4-9h0m5 3h0m0 4h0m9 0h0m2-6h0m3 4h0m26 1h0m3-3h0m6 1h0m3-6h0m3 7h0m4 4h0m3-8h0m9 6h0m26-5h0m2 1h0m9-3h0m1 5h0m2-7h0m0 11h0m32-10h0m5 1h0m1 0h0m0 4h0m2 0h0m2-1h0m9 1h0m8-6h0m8 6h0m7-1h0m7 6h0m4-1h0m10-4h0m3 5h0m4-10h0m8 5h0m3 1h0m3 0h0m6-1h0m12 5h0m2-8h0m0 5h0m5-4h0m8-1h0m7 5h0m1-6h0m-13 13h0m-7 5h0m-8-1h0m-10 2h0m-11-8h0m-11 0h0m-1 9h0m-3-2h0m-8-3h0m-15 5h0m-4-3h0m-20-5h0m-1 1h0m-12 4h0m-4 1h0m-9 3h0m-1-9h0m-12 5h0m-6-1h0m-4 5h0m-15-1h0m-6-1h0m-7-7h0m-2 7h0m-1 1h0m-2-3h0m-4 4h0m-3-5h0m-2-3h0m-1 4h0m-3-6h0m-12 10h0m-3-4h0m0 2h0m-6 2h0m-1-7h0m-4 6h0m-1-7h0m-1 4h0m-6-4h0m0 4h0m-4-7h0m-1 5h0m-1-4h0m-5 2h0m-6 8h0m-2-7h0m0 2h0m-5-4h0m-13 7h0m-5-4h0m-15 5h0m-5-3h0m-3-4h0m-1 7h0m-6-3h0m-1 6h0m0 7h0m2-1h0m11-5h0m2-2h0m3 7h0m1 4h0m3-7h0m0 1h0m4-2h0m0 4h0m2 3h0m2-2h0m1-5h0m2 5h0m5-8h0m0 1h0m0 3h0m6 7h0m1-5h0m2-6h0m3 0h0m0 11h0m6-9h0m2 6h0m0 3h0m6-2h0m4 0h0m7-9h0m2 9h0m2-1h0m11-3h0m11 3h0m1-1h0m8-7h0m1 10h0m1-3h0m10-5h0m1-2h0m10 2h0m10-1h0m10 9h0m10-2h0m10-5h0m17 6h0m5-4h0m4 4h0m9-6h0m38 0h0m0 6h0m11-5h0m1 3h0m2-3h0m2 0h0m1-2h0m8 1h0m10 3h0m3-6h0m8 9h0m4-4h0m5 0h0m3 3h0m4 6h0m-10 6h0m-10-8h0m-27 6h0m-5-4h0m-1 5h0m-7 4h0m-14-3h0m-9 3h0m-1-9h0m-4 9h0m-4-10h0m-12 8h0m-22-1h0m-20 2h0m-8-7h0m-1 4h0m-6-3h0m-1-3h0m-17 8h0m-1-8h0m-13 3h0m-1-3h0m-1 10h0m-5-2h0m-3-7h0m-3 4h0m-4-3h0m0 1h0m-4-1h0m-5 7h0m-3-9h0m-1 1h0m-6-2h0m0 4h0m0 1h0m-1 4h0m-2-6h0m-3-2h0m-2 5h0m-4-6h0m-10 3h0m-8 7h0m-1-6h0m-5-4h0m-2 10h0m-4-5h0m-1-4h0m-8 7h0m-5 1h0m-11 2h0m-4-9h0m0 7h0m-8 12h0m4-9h0m1 9h0m6 1h0m4-4h0m3-5h0m8 6h0m1-6h0m7 4h0m7 0h0m2 3h0m0 1h0m2-6h0m3 0h0m2 8h0m2-11h0m1 4h0m1 2h0m4-2h0m4 4h0m2 3h0m3-8h0m11 6h0m3-7h0m4 0h0m8 1h0m11-2h0m3 0h0m2 5h0m4 5h0m7 0h0m2-4h0m0 0h0m14-7h0m18 7h0m3-2h0m2-5h0m2 11h0m5-3h0m8 2h0m1-5h0m13 4h0m1-3h0m8-1h0m10-2h0m9 4h0m10-6h0m5 6h0m6-5h0m2 3h0m1 5h0m26 0h0m5-4h0m1 4h0m7-8h0m7 8h0m1-10h0m4 0h0m7 1h0m1 3h0m3 6h0m3 7h0m-11-3h0m-4 2h0m-9 4h0m-9-6h0m-8 2h0m-2 5h0m-5 0h0m-6-6h0m-2 8h0m-16-7h0m-9-3h0m0 9h0m-8-8h0m-1 7h0m-8 2h0m-19-4h0m-4 2h0m-7-9h0m0 11h0m-4-10h0m-5 6h0m-3 4h0m-10-9h0m-1 1h0m0 7h0m-5-6h0m-8 5h0m-27-2h0m-10-6h0m-5 1h0m-3-1h0m-2 9h0m-3 1h0m-6-11h0m-2 3h0m0 8h0m-2-11h0m-5 8h0m-7 3h0m-2-9h0m-8 4h0m-4 5h0m-4-10h0m-5 8h0m-2-7h0m-3-2h0m-4 3h0m-1 3h0m-4 3h0m-6-1h0m-1 1h0m-11 2h0m-2-4h0m-2-3h0m-3-4h0m0 7h0m-1 0h0m-1-3h0m-5 2h0m4 11h0m1 6h0m1-7h0m4 5h0m6 1h0m1-8h0m5-1h0m1 6h0m7-4h0m8 0h0m5 1h0m1 6h0m9-6h0m0 7h0m3-3h0m4 1h0m2-7h0m2 9h0m3 0h0m1-3h0m3-8h0m2 5h0m10 3h0m2-5h0m11 3h0m5-1h0m4 5h0m1-6h0m2-4h0m0 7h0m3-4h0m1 7h0m12-4h0m15 1h0m6-2h0m1-4h0m1 8h0m8-9h0m30 3h0m4-3h0m7 2h0m3 4h0m4-1h0m3 5h0m13-3h0m12 2h0m8-1h0m2-1h0m3 2h0m6-9h0m8 5h0m3-3h0m0 5h0m9-7h0m1 2h0m4 1h0m5 6h0m7 1h0m5-1h0m1-3h0m18 13h0m-20-2h0m-1-3h0m0 6h0m-8-6h0m0 6h0m-5-7h0m-6 7h0m-4-5h0m-1 8h0m-5-6h0m-7-2h0m-4-2h0m-10 3h0m-1-1h0m-4-2h0m-4 6h0m-10-1h0m-11-6h0m-2 5h0m-4-4h0m-11 8h0m-22-6h0m-11 0h0m-13 6h0m-3 2h0m-2-2h0m-12-8h0m-3 4h0m-3 1h0m-5 5h0m-2-5h0m-4 5h0m-11-6h0m-17 3h0m-1-8h0m-1 3h0m-3 8h0m-3-7h0m-7 0h0m-13-1h0m-6 0h0m-4 4h0m-2 1h0m-6-2h0m-16-3h0m-2 5h0m-2-7h0m-3 10h0m-11-5h0m-1-3h0m-3-1h0m-3 8h0m2 3h0m2 5h0m11 1h0m3-5h0m4 4h0m1-5h0m6 9h0m1-7h0m3-2h0m14 0h0m7 9h0m1-6h0m1-2h0m8 7h0m5 1h0m6-9h0m0 6h0m3-4h0m4 1h0m6 6h0m3-9h0m2 10h0m1-10h0m3 5h0m0 5h0m7-10h0m3 7h0m4 2h0m2-2h0m2-8h0m2 1h0m3 5h0m9-3h0m3 7h0m9 1h0m2-8h0m11 6h0m8-5h0m12 7h0m6-4h0m18 3h0m27-3h0m9 1h0m8-2h0m13-2h0m20 2h0m6-1h0m7 6h0m8-2h0m8 1h0m3-9h0m0 6h0m1 4h0m2-1h0m4 7h0m-6 1h0m-11-6h0m0 3h0m-3 2h0m-8 1h0m-3 3h0m-4-5h0m-12 7h0m-6-1h0m-2-4h0m-2-6h0m-2 8h0m-5-2h0m-5 2h0m-5-4h0m-8 7h0m-6-11h0m-5 9h0m-20 2h0m-10-3h0m-8-4h0m0 1h0m-8 3h0m-2-5h0m-7 2h0m-18-4h0m-12 10h0m-2-8h0m-3 7h0m-4-2h0m-7 3h0m-4-3h0m-1 0h0m-1-2h0m-8-6h0m0 1h0m-4-1h0m-10 7h0m-2-6h0m0 9h0m-3-3h0m-3-5h0m0 2h0m-5 3h0m-7 1h0m-2 1h0m-10-4h0m-2 5h0m-1-10h0m-7 11h0m-9-10h0m-4-1h0m-8 5h0m0 5h0m-7 1h0m-3-4h0m-5-6h0m-3 4h0m-3-2h0m-2 5h0m-5-1h0m5 15h0m11-1h0m6-8h0m7 1h0m5 9h0m2-5h0m3-3h0m13 2h0m6-2h0m7-2h0m1 9h0m6-3h0m3-6h0m5 6h0m4 3h0m10-10h0m1 2h0m0 8h0m4-9h0m4 8h0m4-3h0m6-3h0m1 8h0m8-7h0m2 6h0m4-7h0m3 6h0m1-6h0m11 7h0m29 1h0m2-3h0m10-2h0m3-4h0m9-1h0m19 4h0m4 2h0m2-5h0m4 8h0m8-7h0m5 7h0m2-8h0m2-2h0m0 8h0m2-4h0m8 4h0m10-7h0m0 4h0m3-5h0m9 5h0m7 2h0m30-7h0m3 7h0m1-4h0m-3 11h0m-3 4h0m-2 3h0m-26 2h0m-8-5h0m-2 2h0m-5 2h0m-12-9h0m-14 5h0m-17-1h0m-24-5h0m-14 1h0m-1 9h0m-17 0h0m-4-5h0m-2-4h0m-11 2h0m-1 7h0m-16 0h0m-1-7h0m-5 7h0m-8-7h0m-2 3h0m0 4h0m-2-4h0m-5 3h0m-14-6h0m-5-3h0m-6 2h0m-6-1h0m0 9h0m-3-10h0m0 10h0m-6-4h0m-12-4h0m-6 1h0m-2 8h0m-1-5h0m-5 5h0m-9-7h0m-1 3h0m-2 1h0m-4 1h0m-2 2h0m-6-3h0m-1 0h0m-2 2h0m-1-7h0m-3-2h0m-3 7h0m-1 2h0m-3-10h0m-3 9h0m-1-2h0m90 5h0m10 0h0m50 0h0m15 0h0m10 0h0m91 0h0" stroke="#d04840" stroke-width="2"/><path d="M157 -1h0m-8-1h0m-43-1h0m-6 2h0m-24-3h0m-27 3h0m-10-2h0m-22 0h0m-3 2h0m-6-2h0m-12 6h0m5-1h0m12 1h0m23 2h0m0 4h0m10-7h0m2 1h0m15 5h0m3-7h0m5 0h0m3 2h0m1 6h0m17 2h0m9-10h0m61 1h0m70-2h0m6 4h0m40 3h0m5 3h0m1 0h0m9 0h0m8-4h0m5-5h0m0 4h0m3 9h0m-2 1h0m0 3h0m-6 1h0m-28-2h0m-10 0h0m-27 5h0m-57-9h0m-13 6h0m-4-3h0m-4 5h0m-12-1h0m-2-5h0m-2 4h0m-13-1h0m-12-1h0m-1-3h0m-15 8h0m-14-1h0m-5-5h0m-9 5h0m-4-2h0m-5-1h0m-5 0h0m-6 2h0m-5-3h0m-3-4h0m-21-1h0m-1 3h0m-9 8h0m-1-10h0m-12 0h0m-3 4h0m2 10h0m2-3h0m16 3h0m11-2h0m4-1h0m8 9h0m1-9h0m11 6h0m18-6h0m4 9h0m10-7h0m6 5h0m11-5h0m8 0h0m14 1h0m10 7h0m20 1h0m15-6h0m6-4h0m1 3h0m6-1h0m44 0h0m5 8h0m4-6h0m5 5h0m1-4h0m2-2h0m1-3h0m8 3h0m7 6h0m10 1h0m1-9h0m13 3h0m11-3h0m10 4h0m2 15h0m-4-8h0m-10 3h0m-3 7h0m-2-6h0m-7-4h0m-2 10h0m-9-2h0m-8-4h0m-1-1h0m-1 5h0m-5-6h0m-6 1h0m-17 6h0m-2-7h0m-9 8h0m-29-9h0m-32 4h0m-13-3h0m-4 3h0m-7-1h0m-1-3h0m-2 8h0m-6-1h0m-1-7h0m-4-2h0m-1 9h0m-7 2h0m-5-4h0m-2 3h0m-4-1h0m-4-5h0m-2 6h0m-5 1h0m-29-4h0m-7-7h0m-7 6h0m-5 4h0m-23-4h0m-6-3h0m-4-3h0m-2 5h0m-10 14h0m5 3h0m6-9h0m2 5h0m10 3h0m10-4h0m2-5h0m15 4h0m5-3h0m3-1h0m0 8h0m1 0h0m4-1h0m6 2h0m2 0h0m5 0h0m4-5h0m12 4h0m5-2h0m5-2h0m14 5h0m6-4h0m1 4h0m8-1h0m8-5h0m11 3h0m0 2h0m6 0h0m2-4h0m5-2h0m12 5h0m4 4h0m8-1h0m23-6h0m12-1h0m3 2h0m20 5h0m8-4h0m16-4h0m17-2h0m5 11h0m19-3h0m2 15h0m-7-6h0m-13 5h0m-5-1h0m-15-6h0m-8-2h0m-10 0h0m-4 7h0m-4-8h0m-6 7h0m-6 4h0m-19-8h0m-2 2h0m-11 6h0m-5-4h0m-11 2h0m-8-2h0m-6 2h0m-8-8h0m-16-1h0m-16 9h0m-5-3h0m-8-6h0m-5 4h0m-1 6h0m-2-5h0m-3-3h0m-3 5h0m-2-4h0m-5 6h0m-1-2h0m-9-4h0m-2 8h0m-10-1h0m-1-6h0m-1 0h0m-4 1h0m-15-5h0m-15 3h0m-3-1h0m-4 9h0m-4-3h0m-10-5h0m-1 7h0m-5-7h0m-3-2h0m-6 2h0m-1 20h0m16-7h0m0 3h0m14-1h0m4-6h0m0 4h0m3 4h0m15 3h0m2-10h0m3 1h0m6 8h0m10-9h0m4 0h0m5 6h0m18 3h0m5-7h0m2-2h0m11 4h0m6 1h0m4-5h0m29-1h0m3 0h0m1 11h0m3-11h0m3 2h0m9 1h0m5 2h0m36-3h0m8 7h0m1-4h0m3-2h0m3 2h0m1 4h0m11 0h0m3-6h0m20 2h0m4-3h0m29 9h0m2-10h0m2-1h0m3 4h0m-7 9h0m-8 6h0m-3-5h0m-1 4h0m-3-2h0m0 5h0m-9-4h0m-1-2h0m-5 4h0m-24 4h0m-6 0h0m-3-7h0m-23 7h0m-3-4h0m-5 3h0m-7-5h0m-5 0h0m-4 3h0m0 3h0m-4-3h0m-3-8h0m0 3h0m-5-3h0m-23 9h0m-14 1h0m-23-6h0m-2 4h0m-3-8h0m-1 8h0m-15 0h0m-2-6h0m-5 0h0m-2 2h0m-4-2h0m-18 5h0m-13-3h0m-2 5h0m-3-1h0m-5-3h0m-1 4h0m-4 0h0m-1-2h0m-10-2h0m-10 4h0m-4-8h0m-10 5h0m-2 3h0m-6 6h0m5-3h0m3 0h0m21 6h0m3 5h0m4-10h0m2 10h0m5-3h0m17-8h0m10 3h0m16 4h0m7-3h0m2 0h0m1-4h0m5 3h0m5 3h0m1-2h0m1 6h0m6-1h0m2-1h0m11-2h0m27 5h0m9-2h0m7-1h0m35 1h0m5-5h0m6 2h0m20 2h0m11 3h0m13-9h0m28 2h0m2-3h0m6 14h0m-6 8h0m-11 0h0m-12-11h0m-25 11h0m-2-11h0m-4 7h0m-13-4h0m-1-3h0m-1 7h0m-16-7h0m-10 8h0m-4 1h0m-9 1h0m-9-9h0m-9 4h0m-8-1h0m-4 4h0m-22 3h0m-7-4h0m-6 1h0m-9-5h0m-6-3h0m-4 9h0m-5-8h0m-10 0h0m-14 5h0m-10 1h0m-5-4h0m-7-2h0m-14 3h0m-1 6h0m-12-4h0m-7 4h0m-3-10h0m-3 11h0m2 9h0m5-2h0m8-2h0m3-4h0m9 5h0m0 6h0m1-9h0m4 4h0m10 2h0m5-8h0m10 8h0m10-4h0m4 2h0m8-2h0m2 6h0m2-1h0m6-8h0m15 6h0m3-5h0m0 3h0m4 0h0m5 1h0m34-6h0m11 10h0m11-10h0m2 2h0m24-2h0m3 6h0m5-4h0m31 9h0m1-4h0m4-7h0m8 2h0m4 2h0m11 5h0m10-8h0m10-1h0m0 2h0m1 3h0m12 16h0m-2 0h0m-1-5h0m-24 2h0m-9-3h0m-12-3h0m-2 3h0m-1-3h0m-18 3h0m-13 5h0m-2-5h0m-9 2h0m-1 3h0m-4-3h0m-12 2h0m-16 4h0m-9-9h0m-1 7h0m-4-3h0m-11 5h0m-10-5h0m-6 5h0m-9-7h0m0 1h0m-2-5h0m-4 11h0m-3-3h0m-7-2h0m-13-5h0m-29 9h0m-2-9h0m-19-1h0m-3 7h0m-8 4h0m-15-7h0m-6 1h0m-9 4h0m-2-3h0m-5 7h0m5 2h0m0 8h0m7-6h0m3-3h0m2 8h0m2-3h0m9-1h0m6-3h0m8 3h0m9 4h0m9 1h0m3-7h0m3 4h0m2-4h0m4 4h0m4 0h0m4-1h0m4-3h0m4-2h0m1 5h0m5-6h0m23 6h0m10 3h0m2-8h0m9-2h0m2 8h0m25-3h0m17 3h0m17-1h0m5 0h0m7-4h0m4 6h0m18 0h0m2-5h0m15-3h0m2 8h0m16-3h0m3-6h0m10 1h0m6 9h0m5-2h0m6-6h0m14 0h0m-21 14h0m0 4h0m-6-1h0m-2 4h0m-1-10h0m-8 2h0m-10 6h0m-15-8h0m-9 2h0m-2-1h0m-15 6h0m-21 0h0m-11-7h0m-6 6h0m-20-3h0m-5 4h0m-9 1h0m-5 0h0m-5-4h0m-5-3h0m-8 3h0m-7 3h0m-2-5h0m-1 5h0m-5-2h0m-1 4h0m-5-6h0m0 4h0m-18 2h0m-1-10h0m-19 11h0m-3-3h0m-7-6h0m-8 7h0m-2-6h0m-4 2h0m-5 1h0m-17 1h0m-3-4h0m-2 5h0m-4-1h0m-12-3h0m2 19h0m2-4h0m2 2h0m5-2h0m0 4h0m16 0h0m9 0h0m14-6h0m0 5h0m18-5h0m1 5h0m6-2h0m1 2h0m4-1h0m4-2h0m25 0h0m3-5h0m0 1h0m15 4h0m4-1h0m1-1h0m6 6h0m8-6h0m12 2h0m2 0h0m20-6h0m1 7h0m2-4h0m16 7h0m2-4h0m2-3h0m5 0h0m4-4h0m20 6h0m9 4h0m31-9h0m5 0h0m15-1h0m16 7h0m-5 13h0m-2-8h0m-32 0h0m0 6h0m-10 0h0m-34-3h0m-1 5h0m-12-3h0m-4 6h0m-12-5h0m-10-3h0m-9 6h0m-30 0h0m-4-3h0m-11-3h0m-16-1h0m-3-1h0m-7 9h0m-3 0h0m-3-8h0m-1 6h0m-5-2h0m-21 1h0m-11 3h0m-16-4h0m-12-3h0m-4 0h0m-6 5h0m-1-5h0m-1 2h0m-4-1h0m-9 6h0m-4-4h0m-1-5h0m-2 9h0m-2 3h0m5 7h0m17 3h0m1-8h0m11 4h0m5 3h0m7-6h0m1-2h0m1 3h0m13 3h0m3-6h0m0 0h0m3-2h0m5 8h0m7-6h0m2 4h0m4-5h0m2 9h0m7-3h0m2-4h0m1 5h0m3-4h0m1 5h0m6-8h0m0 6h0m6-2h0m13 5h0m1-9h0m7 3h0m1-2h0m10 4h0m5-5h0m12 1h0m10 5h0m0 2h0m2 0h0m5-4h0m10 1h0m0 5h0m12-9h0m1 9h0m21 0h0m9 0h0m19-10h0m3 3h0m14 2h0m16 2h0m4-8h0m10 0h0m8 8h0m-11 15h0m-3-6h0m-11-3h0m-4 0h0m-1 5h0m-15 3h0m-4-9h0m-9 5h0m-10 0h0m-27-3h0m-1-3h0m-7 5h0m-1-2h0m-7-3h0m-5 1h0m-24 5h0m-12 1h0m-11-2h0m-1 4h0m-7 1h0m-3-8h0m-1 6h0m-11-3h0m-3-5h0m-30 5h0m-6 0h0m-8 4h0m-3 2h0m-15-5h0m-11 1h0m-4-3h0m-12 0h0m0 1h0m-12-5h0m0 4h0m-2-2h0m-8 4h0m-3-5h0m0 5h0m-4 3h0m8 14h0m4-6h0m1 6h0m8 0h0m2 0h0m12-10h0m2 9h0m21-3h0m4-5h0m14-1h0m10 8h0m7 1h0m6-5h0m12 0h0m1-2h0m2 5h0m6-6h0m1-1h0m8 5h0m3 3h0m6-1h0m4-5h0m20 0h0m9 1h0m2 6h0m5-5h0m6 5h0m7-4h0m9-3h0m2 1h0m3 3h0m26-6h0m5 4h0m11-5h0m13 1h0m14 6h0m5 3h0m11-5h0m2 4h0m12-6h0m3 3h0m4 5h0m-2 7h0m-3-5h0m-5 8h0m-5 1h0m-1-4h0m-11-4h0m-5 0h0m-13 9h0m-10-5h0m-12-1h0m-4-1h0m-8 7h0m-14-7h0m-13 2h0m-1-1h0m-4 1h0m-5-4h0m-2 4h0m-14 2h0m-2-8h0m-6 11h0m-24-9h0m-30-2h0m-5 7h0m-2 4h0m-2-7h0m-1-4h0m-3 8h0m0 0h0m-18-7h0m-2 7h0m-6-8h0m-1 5h0m-7-5h0m-6 10h0m-2-5h0m-1 3h0m-11-1h0m-3 3h0m-1-8h0m-16-2h0m-5 3h0m-3 0h0m-4 3h0m-20 5h0m0 4h0m11 0h0m4 0h0m7 4h0m5-5h0m1 3h0m1 6h0m3 0h0m4-11h0m12 4h0m17-1h0m12 5h0m6 0h0m9-3h0m1 4h0m6 1h0m4-10h0m2 1h0m4 10h0m20-11h0m27 8h0m13-7h0m1 10h0m9-5h0m1 5h0m26-10h0m3 5h0m4 5h0m13-5h0m7 1h0m1-6h0m4 3h0m10 2h0m11 3h0m5-4h0m4-2h0m17 6h0m5-3h0m16 6h0m-2 10h0m-1-3h0m-11 2h0m-7-3h0m-8 3h0m-8-2h0m-5-1h0m-20 2h0m-13-7h0m-3 10h0m-1 0h0m-2-7h0m-19 4h0m-13-6h0m-6 1h0m-3 0h0m-7 2h0m-6-4h0m-6 3h0m-2 1h0m-9 3h0m-1-5h0m-1 4h0m-9-5h0m-8 1h0m-1-3h0m-7 11h0m-6-6h0m-1-3h0m-3 7h0m-10-7h0m0 0h0m-6 8h0m-8-2h0m-2-3h0m-15-5h0m-2 2h0m-4 5h0m-3-2h0m-1 6h0m-14-2h0m-7-7h0m-7 0h0m-5 7h0m-6-3h0m-1 5h0m-8-7h0m-6-4h0m0 5h0m-3 6h0m-2-10h0m-1 10h0m3 10h0m12 1h0m4-2h0m11-8h0m1 7h0m4-2h0m2-3h0m2 5h0m6-7h0m9 7h0m3 3h0m12 0h0m4-9h0m8-1h0m1 9h0m1-3h0m7-6h0m21 10h0m8-2h0m3-4h0m11 5h0m5 1h0m4 0h0m1-7h0m8-2h0m3 8h0m6 1h0m2 1h0m12-5h0m3-6h0m7 10h0m8-4h0m2 4h0m2-4h0m4-1h0m5 1h0m2 5h0m16-5h0m16 5h0m4-10h0m9 2h0m5 1h0m6-4h0m2 9h0m1 1h0m5-9h0m2 5h0m6 1h0m5-6h0m24 21h0m-7-7h0m-5 3h0m-3 4h0m-1-6h0m-12 7h0m-5-10h0m-8 1h0m-7 2h0m-6-2h0m-32-2h0m-14 7h0m-7-3h0m-3 6h0m-15-6h0m-25 7h0m-11-1h0m-1-5h0m-14 2h0m-4-2h0m-6-1h0m-14-4h0m-4 8h0m-5-2h0m-4 1h0m-8-4h0m-13 2h0m-1-2h0m-4-3h0m-7 1h0m-17 5h0m-6 3h0m-1-8h0m-7 7h0m-11-1h0m-2 2h0m-4-4h0m-1-5h0m-12 13h0m7 5h0m3-1h0m5 4h0m2 2h0m8-4h0m7-7h0m9 11h0m2-10h0m4 8h0m3-5h0m1 6h0m13-6h0m0 7h0m3 0h0m1-7h0m4 6h0m9-3h0m8-1h0m10-4h0m3 7h0m6-5h0m8 1h0m1-4h0m6 4h0m20 3h0m2-6h0m3 8h0m8-2h0m9-8h0m4 3h0m2 2h0m21 4h0m4-5h0m3 5h0m23-1h0m4-3h0m6 1h0m5-1h0m13-5h0m20 3h0m29-3h0m2 4h0m0 5h0m6 7h0m-15-3h0m-7 3h0m-7 0h0m-8-3h0m-4 2h0m-15 0h0m-7 1h0m-3 7h0m-20-4h0m-1-6h0m-8 8h0m-8-2h0m-16-4h0m-3 7h0m-2-2h0m-10 3h0m-11-7h0m-14-2h0m-4 3h0m-7-5h0m-5 5h0m-19-2h0m-6 8h0m-2-9h0m-12 5h0m-3 2h0m-7 1h0m-9-4h0m-30 5h0m-6-5h0m-33 2h0m-10 4h0" stroke="#d04840" stroke-width="2.5"/><path d="M52 3h0m11 7h0m22-1h0m58-1h0m166-2h0m-174 6h0m-20 7h0m-63 0h0m-14-1h0m51 9h0m88 2h0m113-1h0m-239 15h0m-57-7h0m1 16h0m10 5h0m21-8h0m7 9h0m76-6h0m29 11h0m-88 2h0m-38-4h0m19 17h0m14-5h0m26 0h0m14 0h0m84 1h0m3 6h0m112 0h0m5 13h0m-154-4h0m-47-3h0m-41 2h0m32 12h0m23 2h0m6-3h0m123 0h0m40 5h0m14 15h0m-241-8h0m-11-3h0m-20 3h0m215 16h0m66 1h0m-7 11h0m-46-3h0m5 12h0m67 1h0m-204 14h0m-72 7h0m32 6h0m191 2h0m31-5h0m-63 14h0m-30 3h0m-119 0h0m-21-3h0m-17 13h0m5-1h0m36 1h0m67-7h0m3 10h0m33-6h0m14 3h0m-4 13h0m-52-1h0m-55-7h0m-48 8h0m-7-1h0m-28 9h0m31 1h0m5 3h0m35-7h0m97 5h0m141-7h0m-56 21h0m-17 2h0m-48-9h0m-44 9h0m-46-2h0m-66-4h0m31 11h0m3 1h0m2 3h0m120-4h0m100 13h0m-141 1h0m-39 4h0m-111-1h0m-4 9h0m15-6h0m44 6h0m47-3h0m47 4h0m53-1h0m-132 12h0m-2-6h0m-30 0h0m-30 7h0m10 16h0m170-1h0m80 12h0m-90 0h0m-16-4h0m-111 6h0" stroke="#d63a32" stroke-width="3"/><path d="M255 -4h0m-104-2h0m-19 3h0m-43 2h0m-49 0h0m-46 10h0m17-7h0m29 9h0m31-10h0m27 1h0m10-1h0m12 1h0m18 2h0m22 6h0m86-1h0m45-6h0m0 20h0m-35-1h0m-12-7h0m-114 2h0m-36-5h0m0 6h0m-6 0h0m-21 1h0m-55-5h0m-6 13h0m94 5h0m4-8h0m7 2h0m10 7h0m42 0h0m11-7h0m51 2h0m62 3h0m8 13h0m-96-7h0m-91 4h0m-34 3h0m-26-7h0m-47 1h0m13 17h0m22-4h0m28 7h0m17-7h0m30 8h0m129-3h0m28-4h0m6 2h0m24 4h0m6-10h0m10 10h0m-58 9h0m-10 1h0m-6-8h0m-13 0h0m-26 10h0m-52 0h0m-4-5h0m-4 6h0m-5-3h0m-20-3h0m-8 6h0m-13-2h0m-85 0h0m-12-2h0m-2-5h0m2 18h0m50 0h0m52-1h0m162-6h0m-21 17h0m-37-3h0m-24 8h0m-21-3h0m-14-3h0m-67 4h0m-37 2h0m-8-9h0m-15 1h0m17 19h0m15-5h0m37 0h0m6-3h0m0 5h0m57 2h0m87-9h0m10 5h0m10-3h0m21 9h0m17-1h0m15 0h0m-41 10h0m-54-8h0m-31 5h0m-4 3h0m-16 1h0m-36-3h0m-27-4h0m-49 1h0m-32-3h0m-24 17h0m1 4h0m12-6h0m12-1h0m61 4h0m18-4h0m13 5h0m83-2h0m39-4h0m42-1h0m-8 19h0m-165 2h0m-12 1h0m-23-3h0m-36 1h0m-9-1h0m5 13h0m29-5h0m27-3h0m3 8h0m40-6h0m126 4h0m35 0h0m-33 7h0m-41 2h0m-84 6h0m-79-3h0m-5-6h0m-27 6h0m-9-3h0m-1 14h0m1 4h0m14-6h0m119 8h0m28-2h0m11-6h0m7 3h0m66-6h0m25 20h0m-7 3h0m-95-3h0m-59-3h0m-46 6h0m-51-5h0m-22 14h0m10-4h0m34-1h0m6 5h0m168-1h0m7-2h0m8 0h0m27-3h0m24 1h0m19 3h0m-28 12h0m-33-2h0m-20 4h0m-44-8h0m-51 4h0m-65 5h0m-6 1h0m-4-8h0m-40 19h0m2-1h0m33-5h0m82 7h0m40 0h0m59-8h0m70 20h0m-30 0h0m-127 1h0m-56-2h0m-39-8h0m-10 10h0m-8-11h0m-31 9h0m30 9h0m59 5h0m5-11h0m70 1h0m50 9h0m65-7h0m16 4h0m17-4h0m-7 18h0m-53-3h0m-90 2h0m-15 0h0m-17 1h0m-53-4h0m-39-1h0m-37 4h0m16 12h0m2-7h0m8 0h0m21 4h0m10 2h0m33-1h0m8 2h0m10-8h0m110 4h0m32 2h0m58 12h0m-60 4h0m-5-8h0m-27 8h0m-21-2h0m-24 2h0m-89-4h0m-72 7h0m38 0h0m53 3h0m7-1h0m4 8h0m31-10h0m62 9h0m9-9h0m49 0h0m44 2h0m3 14h0m-2 4h0m-30 2h0m-15-11h0m-9 1h0m-34-1h0m0 8h0m-9-3h0m-25-1h0m-14 0h0m-12 4h0m-72-6h0m-15 4h0m-7 0h0m-3 2h0m-5-6h0m-15 5h0m-11-3h0m-4-1h0m36 10h0m227 1h0" stroke="#d63a32" stroke-width="3.5"/><path d="M246 -1h0m-14-4h0m-129 2h0m-39-1h0m-34 2h0m-5-4h0m-21 0h0m-1 12h0m22 0h0m43-3h0m17-1h0m162 4h0m67 17h0m-51-3h0m-139 0h0m-64-2h0m-17-5h0m-27 20h0m8-7h0m26 1h0m7 1h0m128 3h0m58-5h0m12 20h0m-42-3h0m-22-5h0m-10 0h0m-81 1h0m-14 6h0m-1-6h0m-56 4h0m-20 1h0m-8 6h0m17 9h0m12-5h0m50 3h0m16-2h0m80 0h0m38 0h0m6-5h0m10 3h0m7-2h0m-116 11h0m-22 3h0m-3-3h0m-23 7h0m-33-5h0m-8 4h0m-29 12h0m9 3h0m7-1h0m78-6h0m4 0h0m139-2h0m2 5h0m65 2h0m-10 14h0m-190-11h0m-99 7h0m-9 12h0m7-1h0m1-1h0m195 3h0m105-1h0m-19 5h0m-81 7h0m-8 3h0m-103 0h0m-40-2h0m-8-3h0m-7 5h0m-35-8h0m-2 15h0m11 3h0m7 0h0m54-6h0m35 0h0m65 3h0m7 2h0m6-5h0m124 3h0m-93 8h0m-44 2h0m-34 4h0m-22 3h0m-2 0h0m-9-7h0m-19-3h0m-29 4h0m-9-4h0m-2 8h0m-2-6h0m-9 0h0m-6 5h0m-25 3h0m-10 4h0m19-1h0m21 1h0m8 7h0m36-9h0m60 4h0m56 1h0m104 13h0m-14 3h0m-11-2h0m-30 0h0m-28 0h0m-59 3h0m-32-8h0m-33 9h0m-34-7h0m0 5h0m-8-5h0m-36-3h0m-11 3h0m-12-4h0m36 18h0m16-1h0m17-5h0m191 3h0m23-2h0m-14 16h0m-145 2h0m-11 0h0m-10 1h0m-18-4h0m-4 3h0m-8-1h0m-6-6h0m-22 7h0m-24-7h0m10 17h0m8 0h0m18-2h0m17-2h0m8 9h0m32-5h0m173 14h0m-14 3h0m-33-5h0m-25 6h0m-5-8h0m-16 1h0m-17-1h0m-68 4h0m-7-7h0m-10 9h0m-7-6h0m-4-1h0m-55 16h0m32 4h0m17 1h0m25 0h0m38-8h0m53 3h0m31-2h0m6 5h0m12-2h0m9 13h0m-9-8h0m-23 9h0m-13-8h0m-19 10h0m-2-3h0m-8-4h0m-34 2h0m-39 0h0m-36 4h0m-35-3h0m-10 0h0m-13-7h0m-7 13h0m54 7h0m15 3h0m15-9h0m25 5h0m2-6h0m14 8h0m16-3h0m38-6h0m27 8h0m50-2h0m20 5h0m5-5h0m23 5h0m0 11h0m-54-9h0m-4 10h0m-4-8h0m-21 5h0m-14 1h0m-21-6h0m-1 7h0m-57 0h0m-10-10h0m-27 8h0m-35 2h0m-19-9h0m-14 3h0m-8 0h0m-9 18h0m9 1h0m40 0h0m15-6h0m10 2h0m36 0h0m2 1h0m67-4h0m45 2h0m28-3h0m33 7h0m29-9h0m-53 11h0m-2 8h0m-3-8h0m-28 2h0m-23 7h0m-30 1h0m-14-9h0m-55 4h0m-8 1h0m-11-3h0m-4 3h0m-23 2h0m-23 3h0m-21-1h0m-12-5h0m-9 2h0m14 14h0m11-1h0m9 0h0m3-8h0m28 11h0m14-5h0m8-1h0m7-2h0m7 0h0m26 5h0m35-6h0m28 6h0m8-4h0m5-2h0m59 3h0m25 3h0m15-1h0m1-4h0m-170 15h0m-22-4h0m-24 3h0m-53 6h0m-35-1h0m11 3h0m67-1h0" stroke="#d63a32" stroke-width="4"/><path d="M278 -4h0m-35 2h0m-126 1h0m-119 6h0m17 3h0m17-6h0m6 1h0m5 3h0m33 3h0m26-1h0m47 1h0m90-5h0m30 19h0m-13-10h0m-7 10h0m-12-8h0m-106-3h0m0 10h0m-23-1h0m-33 1h0m-6 1h0m-68 10h0m12-1h0m66-1h0m6-1h0m75-1h0m118-2h0m-141 13h0m-5-3h0m-66-1h0m-31 0h0m70 23h0m36-10h0m43 9h0m127 6h0m-20 4h0m-22-2h0m-96 2h0m-5-1h0m-78-1h0m-9 3h0m-19 2h0m-45-5h0m-14 6h0m23 9h0m24-7h0m14 2h0m9 2h0m7 4h0m10-3h0m26 2h0m11 1h0m14 0h0m9 0h0m34-8h0m120 19h0m-50 0h0m-38-4h0m-109-3h0m-34 0h0m-25 9h0m-24-1h0m24 6h0m16 4h0m123-5h0m52 8h0m5-8h0m21 8h0m17 0h0m8 7h0m-21-6h0m-51 6h0m-44 2h0m-16-3h0m-34 3h0m-43 0h0m-5-6h0m-7 4h0m-11-5h0m-45 4h0m44 9h0m105 6h0m18 3h0m29-1h0m12-3h0m5-4h0m17 2h0m22 6h0m5-10h0m34 17h0m-85 4h0m-31-4h0m-2 3h0m-17-5h0m-86 0h0m-67 2h0m6 13h0m136-7h0m48 11h0m2-2h0m11-3h0m86 3h0m-90 12h0m-14-6h0m-2 6h0m-74-5h0m-15 0h0m-20 3h0m-10-4h0m-12 7h0m-39-4h0m-3-6h0m-20 18h0m49-2h0m23-2h0m12 8h0m19-2h0m92-2h0m24 4h0m57-2h0m16 14h0m-76 0h0m-13-7h0m-17-2h0m-62 4h0m-9 5h0m-31 1h0m-53-11h0m-38 15h0m17 4h0m76-5h0m54 6h0m13-6h0m148 20h0m-17-8h0m-114 8h0m-60-7h0m-9-3h0m-42 4h0m-17-3h0m-19 0h0m-1 2h0m-5 12h0m71-3h0m10 10h0m12-1h0m9 2h0m11-1h0m29 1h0m50-1h0m63 4h0m-48 2h0m-4-3h0m-7 8h0m-68 0h0m-73-1h0m-14 0h0m-9 3h0m-12 0h0m-12-7h0m-27 14h0m2-4h0m5-2h0m1 9h0m7-7h0m6 9h0m9-10h0m5 6h0m20-1h0m63-2h0m97 2h0m7-4h0m28 7h0m-7 13h0m-54 1h0m-3-5h0m-23-2h0m-11-1h0m-22 8h0m-45-6h0m-8 0h0m-5 5h0m-15 0h0m-17 1h0m-18-6h0m-22 15h0m6-6h0m23-1h0m62 10h0m4-1h0m29-1h0m53 2h0m11-3h0m78-5h0m33 4h0m9 6h0m-21 5h0m-7-1h0m-100-4h0m-36 0h0m-3 9h0m-25 1h0m-76-8h0m-6 6h0m-4-4h0m-11 1h0m-25 9h0m17-2h0m37 8h0m12-7h0m35 8h0m16-6h0m13 7h0m24 0h0m74-4h0m6-3h0m8 2h0m14 5h0m21 0h0m3-8h0m4-3h0m27 5h0m-10 14h0m-20 0h0m-82 4h0m-51-1h0m-6-6h0m-26-1h0m-12 4h0m-5-5h0m-14 8h0m-40-8h0m-28 7h0m24 4h0m51 1h0m11-1h0m12-1h0m138 2h0" stroke="#d63a32" stroke-width="4.5"/><path d="M110 -4h0m-17 2h0m-17 0h0m-56 4h0m34 7h0m3-4h0m21-3h0m24 2h0m62 6h0m8-9h0m124 0h0m5 21h0m-197-1h0m-25-9h0m-3 6h0m-43 1h0m-2 4h0m-5-10h0m-4 7h0m1 9h0m50 2h0m211 7h0m-108 8h0m-28 0h0m-4-6h0m-86 1h0m-1 5h0m-9 1h0m-16-8h0m-21-1h0m60 20h0m13-8h0m48 6h0m19-2h0m7-4h0m12 1h0m112 0h0m-10 20h0m-67-11h0m-62 0h0m-24 3h0m-101 11h0m42 5h0m67-5h0m95 2h0m75 7h0m16 6h0m-121 6h0m-9-5h0m-82-1h0m-22 1h0m-74-2h0m-6 2h0m25 15h0m44-7h0m113 8h0m37-6h0m78 17h0m-63-3h0m-63-4h0m-26 8h0m-13-9h0m-44 9h0m-77 12h0m26 0h0m28-2h0m10 2h0m21-8h0m39-2h0m17 5h0m17 0h0m4 1h0m22-6h0m70 5h0m21 18h0m-42-11h0m-17 9h0m-63-2h0m-70-6h0m-8 6h0m-75-2h0m-13-2h0m2 15h0m16-2h0m8-3h0m31 8h0m19-9h0m22 7h0m44-1h0m3-4h0m17 5h0m78 3h0m2 1h0m57-7h0m2-2h0m-31 15h0m-59 1h0m-45-3h0m-28 5h0m-52 3h0m-75 0h0m-4 11h0m69-10h0m1 6h0m0 2h0m20 2h0m5-4h0m7 1h0m46-4h0m11 3h0m18 0h0m39 5h0m15-4h0m24-2h0m47-3h0m3 3h0m-35 10h0m-3 8h0m-30-5h0m-25 4h0m-61-10h0m-19 0h0m-103 3h0m-11-2h0m-3 3h0m-12 16h0m53-4h0m31 3h0m18-4h0m63 2h0m84 0h0m18 8h0m-17 4h0m-99 4h0m-83 1h0m-29 0h0m-36 0h0m-12 7h0m28 5h0m34 0h0m2-3h0m28-6h0m21-1h0m69 10h0m79-6h0m-12 14h0m-15-2h0m-37 4h0m-9 0h0m-40-8h0m-87 11h0m29 3h0m20 5h0m6 1h0m32-2h0m81 3h0m34-2h0m21 2h0m8 13h0m-4-4h0m-8-1h0m-23 3h0m-148-4h0m-12 2h0m-27 2h0m-6-2h0m-27 3h0m-3 7h0m41 7h0m6-8h0m1 8h0m30-1h0m55-10h0m1 4h0m67 7h0m48-8h0m8 4h0m23-2h0m-16 15h0m-42-1h0m-13 0h0m-20-6h0m-58 5h0m-8-1h0m-94-3h0m-43 1h0m9 10h0m45 1h0m21 6h0m78-7h0m73 4h0m64 7h0m-143 10h0m-12-7h0m-1 8h0m-97-6h0m-16-5h0m-16 10h0m-11-1h0m-9-5h0m-5-4h0m-1 8h0m110 4h0m24 2h0m102-2h0" stroke="#d63a32" stroke-width="5"/><path d="M48 123h0m237 6h0m-103 89h0m-30 44h0m-116-8h0m69 54h0m-88-8h0" stroke="#d2322a" stroke-width="6.5"/><path d="M8 17h0m26 7h0m-32 20h0m174 170h0m56 46h0m-217 1h0" stroke="#d2322a" stroke-width="7"/><path d="M51 35h0m74 53h0m4 28h0m-100 72h0m-23 20h0" stroke="#d2322a" stroke-width="7.5"/><path d="M66 38h0m32 42h0m194 40h0m-269 79h0m152 12h0m75 39h0m-61 20h0" stroke="#d2322a" stroke-width="8"/><path d="M31 167h0m14 8h0m102 46h0m-62 23h0m47 6h0m-92 4h0m55 20h0" stroke="#d2322a" stroke-width="8.5"/><path d="M60 2h0m228 20h0m-281-3h0m28 47h0m10 22h0m-44 139h0m167 21h0" stroke="#d2322a" stroke-width="9"/><path d="M77 14h0m-5 3h0m-11 10h0m4 144h0m17 69h0m-1 37h0m-55 31h0" stroke="#d2322a" stroke-width="9.5"/><path d="M22 41h0m6 88h0m54 104h0m90 69h0" stroke="#d2322a" stroke-width="10"/><path d="M304 249h0m4 49h0m-262 3h0" stroke="#d2322a" stroke-width="10.5"/></g></g>
<clipPath id="c8"><rect width="306" height="306"/></clipPath>
<g transform="translate(1472.4 1395.4)" clip-path="url(#c8)"><g filter="url(#bl)" stroke-linecap="round" fill="none"><rect x="-2" y="-2" width="310" height="310" fill="#c2bfd9"/><path d="M39 10h0m55-9h0m84 4h0m12 1h0m21-1h0m50 0h0m-111 8h0m-76 14h0m119 5h0m79 8h0m-200 7h0m124 11h0m64-8h0m8 1h0m-166 9h0m-39 4h0m-7 16h0m128-3h0m-85 9h0m173 24h0m-37 5h0m-53-4h0m-58 7h0m-124 10h0m6-7h0m78 2h0m222 6h0m-164 14h0m-80-4h0m-15 5h0m159 1h0m22 6h0m33-5h0m-246 22h0m148 6h0m19 3h0m6-2h0m93 13h0m-20 3h0m-89-1h0m-43 17h0m-17 0h0m-71 1h0m-20 15h0m4 4h0m9-8h0m258-2h0m-182 16h0m-51-4h0m-42 22h0m179-7h0m92 5h0m0 4h0m-160 2h0m114 14h0m45 5h0m-260 7h0m223 16h0m-151 3h0m-47 7h0m-20-5h0" stroke="#6676c6" stroke-width="3"/><path d="M163 -3h0m-118 11h0m2-2h0m92 1h0m6 3h0m157 9h0m-56-6h0m-69 3h0m-65-3h0m-17 8h0m-41-9h0m-27 10h0m73 2h0m117 8h0m60 11h0m-116-6h0m-14 0h0m-29 2h0m-28 8h0m-1-11h0m-30 8h0m-22 3h0m-7-9h0m-18 11h0m31 10h0m10-2h0m164-4h0m24 0h0m49 13h0m-27-2h0m-36 3h0m-86-7h0m-130 22h0m16 1h0m44-7h0m11-3h0m132 2h0m55 0h0m3 5h0m6 2h0m-79 4h0m-80-2h0m-22 7h0m-82 7h0m53-1h0m49 1h0m24 3h0m120 4h0m-78 4h0m-32 0h0m-65 3h0m-42 6h0m-15 0h0m-20-4h0m112 9h0m71 1h0m0 5h0m10-7h0m32 9h0m1-8h0m17 2h0m13 17h0m-1-4h0m-29-1h0m-148 5h0m-20-5h0m-49 7h0m8 7h0m32 3h0m30-3h0m1 4h0m27-11h0m76 2h0m54 5h0m1-3h0m7-1h0m9-2h0m20 6h0m-27 6h0m-29 4h0m-151 4h0m-16 9h0m74 3h0m166 0h0m-82 14h0m-26-8h0m-8 2h0m-33-1h0m-48 7h0m-17-7h0m-74 6h0m-8-8h0m159 17h0m9-7h0m39 1h0m49 3h0m10-3h0m34 17h0m-16 5h0m-75-7h0m-177-4h0m-35 19h0m5-1h0m51-1h0m2-1h0m80-2h0m5 2h0m10-2h0m3 6h0m116 15h0m-9 0h0m-30-3h0m-4-7h0m-12-1h0m-105 4h0m-20-4h0m-39 7h0m-56 16h0m42-7h0m37-3h0m20 0h0m52 5h0m26 1h0m47 0h0m11-6h0m-105 16h0m-123-1h0m-5 17h0m6-7h0m6-1h0m31 0h0m110 5h0m87-4h0m49 5h0m-13 16h0m-73-11h0m-197 15h0m25 3h0m63 3h0m174 0h0m-11 11h0m-38-8h0m-12 7h0m-126-5h0" stroke="#6676c6" stroke-width="3.5"/><path d="M179 -2h0m-156 4h0m33 1h0m147 1h0m39 4h0m1 8h0m-2 6h0m-4-7h0m-6-1h0m-74 2h0m-16 3h0m-29-5h0m-21 5h0m-47 1h0m-18-1h0m-4 9h0m16-4h0m13 9h0m206 1h0m29-6h0m3-4h0m10 3h0m-84 10h0m-49 0h0m-20 10h0m-16-10h0m-118-1h0m48 18h0m45-4h0m67 7h0m23-6h0m13-1h0m24 5h0m7-7h0m9 1h0m19 9h0m31 11h0m-56-5h0m-54 0h0m-16 7h0m-59 0h0m-59 0h0m-12-5h0m-41 5h0m6 2h0m3 5h0m10-2h0m12-4h0m5 4h0m41-4h0m2 4h0m41-1h0m15-1h0m159 7h0m3 1h0m-134 8h0m-46-5h0m-20 3h0m-86 14h0m38 0h0m53 2h0m198-8h0m-43 21h0m-36 0h0m-6-7h0m-49 4h0m-4 1h0m-35-2h0m-54 2h0m-34 6h0m2 10h0m96-5h0m4-4h0m7 9h0m14-11h0m54 8h0m30 4h0m-41 6h0m-13-1h0m-18-1h0m-30 6h0m-45-6h0m-45 1h0m-6-5h0m-1 4h0m-44 6h0m83 8h0m38 2h0m32 1h0m29-7h0m60 1h0m19 19h0m-100-5h0m-76-1h0m-29 3h0m-45-1h0m-11 9h0m62 6h0m18-2h0m3 2h0m63-5h0m30 6h0m8 1h0m76-4h0m25 3h0m14-7h0m-20 17h0m-9-2h0m-60 3h0m-32-8h0m-14 2h0m-167-3h0m20 15h0m171-1h0m13 2h0m50-3h0m18 8h0m26-1h0m-85 13h0m-3-9h0m-16 5h0m-96 4h0m-7 2h0m-3-8h0m-21-1h0m8 17h0m72-4h0m160 14h0m-26 5h0m-22 0h0m-20-9h0m-35-1h0m-52 10h0m-15-9h0m-21 8h0m-90 9h0m122-2h0m12 6h0m30 0h0m70-4h0m18-2h0m15 10h0m-21 1h0m-58 7h0m-67-10h0m-41 10h0m-1-2h0m25 6h0m28 8h0m23 0h0m127 3h0m-7 6h0m-41-7h0m-3 9h0m-39-8h0m-48 2h0m-83 7h0m-65 1h0m-19-3h0m1 9h0m222 5h0m-183 10h0" stroke="#6676c6" stroke-width="4"/><path d="M197 -2h0m-119-1h0m76 14h0m17-7h0m28 7h0m12-4h0m32 2h0m52-1h0m-94 8h0m-111-2h0m-6 8h0m-1-8h0m-40-2h0m-8 7h0m95 10h0m37-5h0m126 9h0m3-9h0m-16 18h0m-91-1h0m-129 1h0m5 6h0m44 7h0m79-2h0m11 2h0m23-3h0m14 3h0m23-6h0m50 4h0m-7 8h0m-11-1h0m-21 4h0m-41 7h0m-128-8h0m-30 1h0m-51 3h0m3 14h0m28-5h0m16 4h0m84-3h0m68-4h0m43 7h0m12-7h0m20 14h0m-25 5h0m-40-5h0m-59 3h0m-16-5h0m-72 10h0m-71 10h0m11 2h0m20-5h0m31 5h0m70-2h0m138-1h0m14 1h0m-48 4h0m-4 2h0m-110 2h0m-3-5h0m-20 4h0m-50-1h0m-8 5h0m-31-3h0m-14-2h0m17 9h0m1 9h0m22-9h0m195 0h0m9 0h0m16 8h0m-42 5h0m-41 4h0m-16 4h0m-3-7h0m-42 3h0m-115 0h0m27 18h0m26-6h0m8-2h0m16 2h0m32 0h0m20-2h0m133 3h0m-9 15h0m-75-3h0m-55-6h0m-19 6h0m-5 2h0m-77-1h0m-23 3h0m107 7h0m2-1h0m53 5h0m53-3h0m-7 10h0m-3-2h0m-114-2h0m-1 10h0m-98 8h0m53 1h0m4 0h0m22-5h0m18 9h0m57-9h0m9-2h0m20 8h0m44 1h0m48-3h0m-76 15h0m-13-5h0m-20-1h0m-34 4h0m-112 4h0m-12 5h0m120 5h0m50-3h0m22-3h0m23 5h0m53-6h0m29 0h0m0 11h0m-26 3h0m-15-1h0m-37 7h0m-2-3h0m-1-2h0m-34-3h0m-60 6h0m-22-2h0m-23-4h0m-53-1h0m-11 14h0m38-3h0m22 4h0m9 0h0m134 1h0m49 7h0m-122 4h0m-120 4h0m45 13h0m2-3h0m56-5h0m55 1h0m8 3h0m6 3h0m13-5h0m17 0h0m15 2h0m58 18h0m-38-3h0m-95 3h0m-21-3h0m-84-5h0m-16-2h0m-2 9h0m-29-1h0m-2 3h0m13 2h0m47 6h0m48 0h0m69-1h0m74 5h0m-67 8h0m-78-2h0m-49-5h0m-44-1h0m-9 5h0" stroke="#6676c6" stroke-width="4.5"/><path d="M92 -1h0m50 8h0m129 1h0m7 15h0m-132-10h0m-84 10h0m-14-6h0m-9 1h0m-40 17h0m19-5h0m46 2h0m27-6h0m24-1h0m129 6h0m62 4h0m-118 5h0m-109 19h0m29-2h0m67-1h0m17-5h0m79 4h0m1 4h0m31-11h0m-70 17h0m-190 5h0m-11-1h0m-27-2h0m-1 13h0m32 2h0m136-4h0m5 4h0m10-7h0m2 14h0m-36-5h0m-19 6h0m-116-5h0m94 16h0m43 6h0m18-5h0m12-4h0m10 3h0m45 10h0m-20 4h0m-73-2h0m-27 0h0m-32 5h0m-58-1h0m-14-5h0m-15 1h0m23 16h0m284 8h0m-22-4h0m-171 0h0m-89 2h0m-13 7h0m19 9h0m266 5h0m-48 11h0m-6-4h0m-80 0h0m-98-4h0m-11 7h0m-30 0h0m-7-6h0m58 16h0m49-3h0m2-5h0m96 9h0m-61 11h0m-55-1h0m-26 3h0m-63-9h0m-18 6h0m-1-5h0m86 17h0m24 4h0m22-8h0m48 0h0m11 4h0m49 14h0m-43-4h0m-5 3h0m-3 3h0m-75-10h0m-98 1h0m-14 6h0m16 12h0m8-6h0m15 4h0m182 1h0m6 7h0m-76 0h0m-25-1h0m-57 16h0m49 3h0m34 1h0m3-6h0m6-1h0m28-2h0m82 10h0m1 12h0m-219-5h0m-49 9h0m74 9h0m56-8h0m32-1h0m1-1h0m141 8h0m-74 6h0m-68 2h0m-148-1h0m-4 8h0m125 1h0m50 8h0m34 1h0" stroke="#6676c6" stroke-width="5"/><path d="M29 7h0m33-2h0m127 4h0m123 6h0m-35-2h0m-26 3h0m-51 7h0m-8-6h0m-75 5h0m-43-2h0m-38 15h0m83-5h0m41 3h0m11-5h0m47-2h0m5 5h0m72 1h0m6 7h0m-28-1h0m-31 2h0m-101 4h0m-41-1h0m-71-4h0m-6 8h0m-13-6h0m105 16h0m10 2h0m35-9h0m29-2h0m32 2h0m60 5h0m16 2h0m8 7h0m-45 3h0m-74-2h0m-37 1h0m-58-2h0m-15 3h0m-41-2h0m-35 3h0m10 6h0m31 9h0m5-3h0m48-1h0m43-5h0m80 3h0m71 2h0m4-2h0m-27 10h0m-32 0h0m0 2h0m-9 2h0m-52 1h0m-58 2h0m-32-4h0m-59-6h0m39 12h0m117 8h0m26-1h0m19-1h0m17 1h0m25-3h0m-66 10h0m-26 0h0m-8 0h0m-37 9h0m-23-9h0m-42 8h0m-18-6h0m0 17h0m85-2h0m65 2h0m3-7h0m10 0h0m33-1h0m19 10h0m47-3h0m-14 15h0m-37-7h0m-57 1h0m-98 5h0m-1-10h0m-14 3h0m-7 12h0m45 7h0m50-5h0m19 4h0m28-4h0m-18 9h0m-100 5h0m-49-4h0m-19 5h0m27 15h0m11-9h0m13 2h0m48 0h0m33-3h0m24 10h0m65-8h0m30 11h0m-5-1h0m-21 10h0m-81-2h0m-18 0h0m-120-1h0m-14 11h0m24 4h0m11-9h0m202-1h0m15 4h0m-23 10h0m-3 4h0m-109 1h0m-41 7h0m16-2h0m20 9h0m89-9h0m39 7h0m40-6h0m-21 15h0m-124-1h0m-10 3h0m-73 4h0m-17-6h0m48 8h0m45 8h0m22 2h0m57 1h0m-12 3h0m-41 8h0m-30-8h0m-62 4h0m-72 4h0m-7-11h0m-13 21h0m91-3h0m30-6h0m22 9h0m92-3h0m4-4h0m75 10h0m-44 11h0m-70-6h0m-3 5h0m-21-4h0m-40 2h0m-58-1h0m-29-1h0m-25 6h0m14 1h0m64 7h0m39-5h0m59 3h0m28 0h0m32 9h0m-60 8h0m-1-9h0m-74 3h0m-41 1h0m-11-5h0m-52 9h0m255 2h0" stroke="#cc4450" stroke-width="1"/><path d="M267 -2h0m-16-1h0m-14 0h0m-31 2h0m-16-1h0m-10-1h0m-8 1h0m-16-1h0m-16-1h0m-34 1h0m-2 0h0m-68 1h0m-5 0h0m-6-1h0m-27 4h0m3 8h0m4 2h0m7-1h0m3-5h0m1-4h0m5-1h0m12 1h0m2 10h0m5-10h0m19 10h0m1-6h0m2-1h0m7 0h0m6-1h0m2 1h0m6 6h0m2-1h0m2-1h0m6-6h0m6 6h0m0 2h0m10-3h0m3-3h0m6 2h0m1 5h0m8-1h0m1-8h0m3 4h0m7-5h0m8 2h0m0 4h0m6 3h0m1-2h0m11-2h0m2-3h0m3 3h0m8 3h0m7-8h0m4 7h0m1-4h0m2 3h0m19-4h0m2 6h0m1-8h0m5 5h0m3 3h0m1 1h0m3-5h0m7-5h0m2 6h0m4 1h0m7 0h0m3 0h0m1-5h0m2 8h0m1-10h0m7 3h0m4 3h0m7 4h0m4-6h0m7 4h0m16 0h0m11-5h0m0 5h0m1-5h0m2 10h0m-2 5h0m-3 4h0m-3-4h0m-5 2h0m-4-5h0m-5-3h0m-7 6h0m-1-3h0m-11 2h0m-5-2h0m-7 6h0m-2-8h0m-1 9h0m-6-9h0m-1 5h0m-14 2h0m-9-7h0m-6 1h0m-2 6h0m-2 2h0m-3-2h0m-8 2h0m-1-10h0m-4 5h0m-1 5h0m-8-2h0m-11 0h0m-4-6h0m0 4h0m-4 2h0m-1-6h0m-16 0h0m-6-1h0m-1 4h0m-5 6h0m-4-1h0m-9-5h0m-2 3h0m-17-5h0m-5 6h0m-11-7h0m-1-2h0m-4 6h0m-2-4h0m-20 3h0m-1-5h0m-10 10h0m-3-10h0m-13 4h0m-4 6h0m-3-1h0m-2-1h0m-2-5h0m-5 0h0m-1 8h0m-1-10h0m-6 2h0m-15 4h0m-3-4h0m-2 10h0m34 3h0m2 3h0m6-6h0m1 3h0m2 1h0m14 4h0m1-7h0m4-1h0m6-1h0m9 4h0m3 6h0m2-3h0m1 1h0m5-7h0m4 9h0m7-3h0m17-3h0m1 0h0m4 6h0m8-6h0m4-2h0m3 0h0m3 2h0m10-1h0m3-2h0m3 9h0m8-7h0m2 0h0m4-3h0m0 8h0m5-8h0m7 11h0m7-4h0m1-3h0m5-4h0m19 3h0m0 4h0m12-7h0m5 4h0m4 1h0m5-3h0m3 0h0m4 4h0m11 3h0m16 1h0m3-3h0m1-4h0m13-2h0m1 10h0m8-7h0m4 2h0m2 5h0m2-7h0m7 19h0m-1-8h0m-2 2h0m-3-4h0m-2 7h0m-2 1h0m-1-5h0m-10-4h0m-1 7h0m-17-4h0m-2 1h0m-4-4h0m-11 0h0m-2 7h0m-2 4h0m-8-11h0m-10 6h0m-2-6h0m-1 5h0m-8-5h0m-1 8h0m-4-5h0m-5 7h0m-4-9h0m-12 4h0m-6 3h0m-1-3h0m-16 0h0m-3-3h0m-6-2h0m0 5h0m-5-1h0m-7 6h0m-3-3h0m-3 3h0m-3-4h0m-29 2h0m-10-3h0m-2 5h0m-5-9h0m0 10h0m-5-11h0m-2 10h0m-6-7h0m-5-2h0m-9 6h0m-5-2h0m0 5h0m-1-6h0m-1-2h0m-6 5h0m-3-5h0m-6-2h0m-5 5h0m-17 1h0m-3-5h0m-3 2h0m-2 4h0m-2 3h0m-1-8h0m-5 9h0m-9-6h0m-5 7h0m21 7h0m5-2h0m8 1h0m13-6h0m7 5h0m0 6h0m4-11h0m7 9h0m3 1h0m8 0h0m8-4h0m1-2h0m5-3h0m5 0h0m1 5h0m8 5h0m4-5h0m16 3h0m2-9h0m6 5h0m3-2h0m1-3h0m2 11h0m4-10h0m3 8h0m13-8h0m3 5h0m11-4h0m4 3h0m0 6h0m7-3h0m2 0h0m3 3h0m12-7h0m2 1h0m3 1h0m2 1h0m4 0h0m3-5h0m1 3h0m5 2h0m9-3h0m3 6h0m13-8h0m0 4h0m6 4h0m2-8h0m8-2h0m3 4h0m22 3h0m1-6h0m7 9h0m3-10h0m0 3h0m0 5h0m1-3h0m9 5h0m8 10h0m-23-3h0m-2 2h0m-4-6h0m-4 6h0m-4-7h0m0 6h0m-13-4h0m-3-1h0m0 10h0m-6-10h0m0 4h0m-11-5h0m-5 4h0m-3 6h0m-2-8h0m0 6h0m-8-7h0m-3 1h0m-2 6h0m-5-5h0m-2-3h0m-2 5h0m-4 2h0m-7 4h0m-2 0h0m-2-7h0m-4-4h0m-3 7h0m-2-6h0m-4 8h0m-3-2h0m-2-3h0m-9-4h0m-3 8h0m-5-3h0m-17 3h0m0 3h0m-8-9h0m-6 6h0m-7-4h0m-4 1h0m-2-5h0m-8 3h0m-4 7h0m-2-4h0m-3 5h0m-6-8h0m-2-3h0m-4 0h0m-4 6h0m-6-3h0m-5 8h0m-5-3h0m-9-6h0m0 7h0m-1 1h0m-10-9h0m-3 3h0m-8 5h0m-3-9h0m-6 1h0m-6 10h0m-3-1h0m-1-4h0m-7 0h0m-8 1h0m-1-3h0m-3-1h0m4 12h0m2 3h0m2-6h0m3 5h0m26-1h0m9 2h0m2-3h0m9 2h0m4-5h0m4 5h0m4 5h0m3-7h0m12 5h0m8-3h0m3-4h0m0 10h0m7-2h0m3-2h0m3-1h0m11 1h0m6-1h0m6 1h0m5 0h0m3-2h0m6-1h0m6 7h0m10-9h0m15-2h0m5 10h0m1-6h0m4 2h0m1-4h0m0 5h0m3-4h0m3 6h0m15 1h0m21-10h0m8 3h0m7-3h0m9 7h0m10-7h0m0 8h0m6 1h0m5-6h0m5-3h0m10 3h0m5-1h0m8 3h0m0 6h0m12-11h0m-1 12h0m0 4h0m-1 6h0m-2-5h0m-7 1h0m-4 3h0m-15-3h0m-2-4h0m0 3h0m-10-3h0m-7 8h0m-1-3h0m-7 2h0m-12-7h0m-3 9h0m-12-4h0m-12-2h0m-20 2h0m-18-6h0m-3 3h0m-1-4h0m-10 10h0m-7-7h0m-9-1h0m-4 8h0m-1-4h0m-4 3h0m-9-3h0m-9-6h0m-4 0h0m-6 8h0m-2 0h0m-9-4h0m0 6h0m-6-4h0m-5 1h0m-4 0h0m-10-1h0m-4 0h0m-3 4h0m-8-5h0m-8-1h0m-6-1h0m-4 5h0m-1-5h0m-5 4h0m-2-5h0m-11 6h0m-1-1h0m-5-5h0m-8 2h0m-5 3h0m-1-3h0m-3-3h0m0 10h0m-3-3h0m8 8h0m1 5h0m3-8h0m1 5h0m7 0h0m24-6h0m3 0h0m3 11h0m9-10h0m5 0h0m1 5h0m16-1h0m5 5h0m10 1h0m1-5h0m8 5h0m1-2h0m11 0h0m4-7h0m8 4h0m8 2h0m10-1h0m2 1h0m6-3h0m4-3h0m1 4h0m4 2h0m5-1h0m26-5h0m0 8h0m5-8h0m6 2h0m11 1h0m1-4h0m9 2h0m2-3h0m1 11h0m11-1h0m5-4h0m1 4h0m7-8h0m0 9h0m1-6h0m5-1h0m7-4h0m2 10h0m7-3h0m7-1h0m5 1h0m2 3h0m6-8h0m9 0h0m1-2h0m2 10h0m5-6h0m2 16h0m-4-4h0m-19 0h0m-8 1h0m-12-1h0m-10-4h0m-3 4h0m-21 1h0m-2 3h0m-4-3h0m-12-4h0m-5 5h0m-8-1h0m0 4h0m-10-3h0m-8-4h0m-5-2h0m-11 0h0m-6 9h0m-6-5h0m-5-2h0m-12-1h0m-4 7h0m-4-5h0m-10 5h0m-2-3h0m-3-1h0m-1-4h0m-4 8h0m-2-3h0m-3 4h0m-12 2h0m-3-6h0m-16-5h0m-3 11h0m-9-8h0m-5 8h0m-3-3h0m-5 1h0m-9-6h0m0 8h0m-5-10h0m-3 10h0m-5-7h0m-2 7h0m-6-6h0m-13-5h0m0 8h0m-10-7h0m-3 11h0m8 1h0m0 8h0m6-7h0m1 3h0m5-4h0m6 2h0m5 7h0m12-4h0m21 2h0m4-6h0m0 4h0m3-6h0m2 5h0m7 5h0m4-1h0m11-7h0m0 2h0m2 2h0m1 3h0m4-2h0m6-1h0m2-3h0m3 6h0m6-4h0m17 3h0m10-2h0m2 3h0m8 1h0m11-3h0m3 2h0m4 2h0m13-10h0m7 6h0m1-4h0m11 4h0m5-3h0m14 4h0m7-3h0m2 0h0m6-5h0m12 1h0m0 4h0m9-3h0m11 1h0m9 4h0m12-1h0m3-1h0m0 6h0m6-1h0m2-9h0m2 5h0m3 1h0m5 15h0m-3 0h0m-1-10h0m-3 4h0m-7 1h0m-5 0h0m-6-2h0m-9-2h0m0 4h0m-8-4h0m-8 1h0m-4 8h0m-6-5h0m-3-2h0m-7-1h0m-3 6h0m0 3h0m-2-9h0m-2-2h0m-11 8h0m-9-1h0m-8-3h0m-1 7h0m-6 0h0m-8-9h0m-2 1h0m-4 8h0m-7-10h0m-10 6h0m-16-1h0m-6-5h0m-6 1h0m-6 1h0m0 3h0m-2-3h0m-7-2h0m-1 10h0m-2-4h0m-7-2h0m-13 5h0m-3-6h0m-16-1h0m-14 7h0m-2-6h0m-1-4h0m-6 4h0m-5-2h0m0 9h0m-4-8h0m-1 4h0m-8-4h0m-2 3h0m-1-6h0m-10 11h0m-3-7h0m-8 2h0m-2-6h0m-5 2h0m0 8h0m-3 1h0m-1-4h0m-10 1h0m3 12h0m4-1h0m3-4h0m10 1h0m5 7h0m5-9h0m4 4h0m3 0h0m2 5h0m3-7h0m4-3h0m31 2h0m2-3h0m11 3h0m0 5h0m8-4h0m7 0h0m3 4h0m2-7h0m8 4h0m16 6h0m2-8h0m18 5h0m5-3h0m5-3h0m18 4h0m4 5h0m5-5h0m12-5h0m3 1h0m1 4h0m7-6h0m1 8h0m1-5h0m5 1h0m11-1h0m2 1h0m6 5h0m8 1h0m3-1h0m5-2h0m4 1h0m6-8h0m0 2h0m9-2h0m2 0h0m7 10h0m1-3h0m3-4h0m6-1h0m6 5h0m9-6h0m3 8h0m4 5h0m-13 2h0m-7 3h0m-15-4h0m-5 6h0m-3-6h0m-3 0h0m-1 6h0m-4-8h0m-1 2h0m-5 1h0m-9 0h0m-15-4h0m-3 8h0m-11-8h0m-3 10h0m0 1h0m-5-9h0m-7 3h0m-1-5h0m-16 4h0m0 6h0m-5 0h0m-8-7h0m-1 0h0m-4 4h0m-1-1h0m-2-5h0m-4 9h0m-5-9h0m-1 3h0m-2 6h0m-6-10h0m-7 3h0m-11 1h0m-1-3h0m-2 7h0m-13-1h0m-10-1h0m-5 4h0m-8-7h0m-1 6h0m-2-9h0m-5 3h0m-2 4h0m-6-6h0m-8 1h0m-10 0h0m-5 9h0m-3 0h0m-2-5h0m-16-2h0m-13 6h0m-11-3h0m-6 4h0m-2-4h0m4 9h0m9 2h0m1-3h0m8-1h0m0 5h0m6 1h0m9-8h0m13 8h0m5-2h0m2-1h0m2-3h0m3-2h0m0 10h0m2-6h0m12 2h0m2-4h0m2 4h0m8-6h0m0 10h0m7-6h0m5 2h0m1 5h0m4-2h0m13 2h0m4-5h0m3 3h0m9-2h0m11-5h0m4 3h0m3-3h0m18 3h0m8 6h0m1-7h0m2 7h0m5-10h0m5 10h0m7-11h0m5 8h0m0 2h0m6-7h0m5 0h0m12 0h0m0 5h0m6-4h0m7 5h0m4-5h0m0 5h0m3-4h0m2-5h0m3 10h0m1-10h0m2 4h0m3-1h0m0 7h0m3-3h0m11 4h0m1-5h0m18-3h0m11-3h0m4 9h0m8 0h0m-6 7h0m-3-2h0m0 6h0m-2-3h0m-6-5h0m-9 10h0m-8-6h0m-9 3h0m-4-5h0m-13 7h0m-2-2h0m-1-3h0m-6-2h0m-5 7h0m-9-9h0m-2 10h0m-4-5h0m-4-5h0m-3 11h0m-1-5h0m-6-3h0m-1 8h0m-16-1h0m-12-6h0m-9 6h0m-1-8h0m-3-2h0m-3 2h0m-11 2h0m-9 4h0m-2-2h0m0 5h0m-11-5h0m-4-2h0m-8 0h0m-5 5h0m-3-1h0m-4 0h0m-3-7h0m-3 8h0m-14-2h0m-2 0h0m-9-5h0m0 9h0m-3-11h0m-9 1h0m-2 4h0m-3 4h0m-2 0h0m-9-7h0m-3 8h0m-21-10h0m-3 7h0m-3 0h0m-2-2h0m-9-4h0m-3 6h0m-3-2h0m-2 14h0m2-4h0m10 7h0m1-9h0m15 9h0m3 0h0m1-6h0m5-1h0m7 1h0m3 0h0m0 7h0m10-10h0m1 5h0m15 4h0m2-6h0m6-2h0m2 6h0m21 1h0m3-4h0m0 6h0m3 0h0m2-4h0m8-6h0m6-1h0m1 7h0m4 4h0m5-3h0m1-8h0m9 7h0m4-3h0m24 5h0m9-3h0m7 5h0m4-5h0m10-6h0m3 7h0m7-4h0m0 3h0m9-1h0m2-5h0m32 5h0m1 6h0m5-8h0m12 8h0m16-3h0m9-2h0m7 5h0m7-1h0m-8 6h0m-4 6h0m-6-9h0m0 3h0m-5 1h0m-5 5h0m-8-10h0m-19 11h0m-4-3h0m-3 0h0m-7-8h0m-10 2h0m-3 3h0m-2 3h0m-3-7h0m-9 8h0m-5-7h0m-11-1h0m0 8h0m-4-5h0m-8 3h0m-11 2h0m-13-4h0m-1 3h0m-6-2h0m-40 1h0m-11 4h0m-7-5h0m0 3h0m-1-8h0m0 1h0m-7 3h0m-13 0h0m-2-4h0m-4 0h0m-2 1h0m-22 2h0m-8-3h0m0 7h0m-1-1h0m-4-3h0m0 5h0m-2-9h0m-6 2h0m-3 7h0m-1-4h0m-7-5h0m-6 5h0m-2 5h0m-6-7h0m0 6h0m-2 10h0m4 1h0m9 0h0m16-7h0m6 2h0m2-2h0m2 9h0m2-8h0m13 3h0m4 3h0m1-8h0m5 3h0m5 8h0m5-9h0m7 8h0m7-3h0m10-2h0m2 0h0m2 3h0m10 0h0m9-3h0m4-4h0m6 5h0m6-4h0m3 3h0m12 2h0m12-1h0m1-5h0m1 9h0m6-4h0m8 3h0m5-4h0m10 4h0m2-6h0m4-1h0m1 5h0m0 4h0m6 0h0m2-8h0m4 4h0m1-5h0m15-2h0m3 5h0m2 1h0m7-2h0m1-4h0m5 3h0m16-2h0m6 0h0m3 10h0m4-9h0m2 3h0m7-3h0m15-1h0m2 7h0m3-3h0m5 9h0m-5 8h0m-5-5h0m-2 3h0m-5 2h0m-5-2h0m-2-7h0m-10 2h0m-3 7h0m-3-9h0m-4 2h0m-7 7h0m-1-1h0m-6 1h0m-14-2h0m-2 0h0m-8-3h0m-4-1h0m-3-3h0m-6 0h0m-14 5h0m-7-4h0m-13 4h0m-10-4h0m-3 8h0m-10-8h0m-11 9h0m-3-4h0m-2 3h0m-4-1h0m-2 0h0m-4-8h0m0 10h0m-1-9h0m-4 8h0m-3-7h0m-2-2h0m-14 3h0m-6 0h0m-6 0h0m-9 3h0m-7-2h0m-5-2h0m-27-3h0m-2 2h0m-12 3h0m-6 0h0m-10-2h0m-6 2h0m-1 3h0m-14-4h0m-1-4h0m20 22h0m2-9h0m3 2h0m19 2h0m1 5h0m4-8h0m8 1h0m24-2h0m2 5h0m2 0h0m3-2h0m11 5h0m12-5h0m0 6h0m9-8h0m1 9h0m13-1h0m9 0h0m1-9h0m2 3h0m4 4h0m3-3h0m9 1h0m2 1h0m4-7h0m2 5h0m4 2h0m9 2h0m1-8h0m3 5h0m5 3h0m5 2h0m1-10h0m1 2h0m4 3h0m7-1h0m1 6h0m4-1h0m11-1h0m2-9h0m8 10h0m3-7h0m2 4h0m5-3h0m2 5h0m10-2h0m8 2h0m3 2h0m4-7h0m5 7h0m1-11h0m4 2h0m9 6h0m2-2h0m16 2h0m5-5h0m0 13h0m-1 5h0m-7-8h0m-10-1h0m-5 2h0m-6 1h0m-8-3h0m0 9h0m-5-3h0m-4 4h0m-8 0h0m-5-9h0m-2 10h0m-12-5h0m-1-3h0m-10 0h0m-6 4h0m-7 2h0m-6-5h0m-1 5h0m-9-8h0m-9 1h0m-1 3h0m-6 2h0m-19-3h0m-3 6h0m-21-7h0m0 5h0m-2-3h0m-7-3h0m-6 4h0m0 3h0m-12-8h0m-3 0h0m-8 10h0m-2-8h0m-2 2h0m-5-5h0m-15 1h0m-1 10h0m-4-9h0m-2 1h0m-13 1h0m-3-2h0m-3-1h0m-10 8h0m-22-2h0m-11-5h0m-1 9h0m-7 11h0m2-2h0m2-3h0m13 2h0m13 4h0m4-7h0m1-1h0m10 8h0m18-10h0m12 1h0m7 2h0m5 7h0m7-3h0m19-1h0m2-5h0m10 7h0m1-2h0m7 0h0m5-5h0m0 2h0m0 7h0m3-5h0m17 2h0m1-1h0m4-1h0m1-4h0m9 5h0m0 3h0m9-5h0m4-2h0m0 5h0m5 0h0m11 1h0m8 0h0m4 2h0m9-9h0m9 0h0m8 2h0m1 7h0m1-6h0m17 6h0m2-5h0m2-4h0m6 1h0m3 7h0m3-8h0m7 9h0m5-10h0m6 8h0m6-4h0m8 0h0m5 18h0m-8-9h0m-1 8h0m-15-5h0m-1 6h0m-2-6h0m-13 1h0m-5 1h0m-2-1h0m-2-4h0m-5 6h0m-5-3h0m-3-4h0m-2 7h0m-3 1h0m-17 0h0m-7-8h0m0 9h0m-2-9h0m-6 4h0m-6 0h0m-1-1h0m-26 6h0m-3-2h0m-4-4h0m-7-4h0m-5 1h0m0 1h0m-7 9h0m-5-8h0m-4 4h0m-1 4h0m-2-4h0m-18-5h0m-3-2h0m-11 0h0m-4 3h0m-3-2h0m-6 10h0m-1-6h0m-3 2h0m-5-5h0m-8 2h0m-3 1h0m-7-4h0m-3 6h0m-8-1h0m-4-1h0m-7 4h0m-5-8h0m-5-1h0m-5 9h0m-1-6h0m-12-3h0m-5 0h0m-1 8h0m-10-6h0m-2 8h0m-4 0h0m4 9h0m6-4h0m12 0h0m0 8h0m9-6h0m7-2h0m8-2h0m5-1h0m1 10h0m5 0h0m4-6h0m1-2h0m12-1h0m0 6h0m5-7h0m7 4h0m3 7h0m4-8h0m8 3h0m6-3h0m3 0h0m3-1h0m8-1h0m6 9h0m3-4h0m6-3h0m15-2h0m4 3h0m1 3h0m12-2h0m4 6h0m6-10h0m6 0h0m7 2h0m3-1h0m5 0h0m4 5h0m5 2h0m6-4h0m3 4h0m8-4h0m5-3h0m4 2h0m8 4h0m5-7h0m0 8h0m3-1h0m2-5h0m16 6h0m6-3h0m20 0h0m9-1h0m10 0h0m-5 12h0m-12 3h0m-4-1h0m-10-3h0m-3 3h0m-3-5h0m-10 4h0m-7 4h0m-5-4h0m-15 3h0m-1-4h0m-7 0h0m-7-5h0m-3 3h0m0 4h0m-2 2h0m-8 1h0m-8-2h0m-7-1h0m-4-6h0m-1-1h0m-8 0h0m-6 1h0m-1 3h0m-5 1h0m0 6h0m-17-5h0m-7 3h0m-4-9h0m-2 7h0m-1-7h0m-5 10h0m-1-8h0m-1 7h0m-16-3h0m-5 4h0m-4-6h0m-9 1h0m-4 1h0m-9-1h0m-2 5h0m-6-4h0m-6-3h0m-9-1h0m-5 2h0m-7-4h0m-1 3h0m-3 2h0m-1-4h0m-6 10h0m-1-8h0m-3-1h0m0 5h0m-6-2h0m-4-4h0m-2-1h0m0 7h0m-5-5h0m0 9h0m-14-10h0m219 11h0m45 0h0m33 0h0" stroke="#cc4450" stroke-width="1.5"/><path d="M308 -3h0m-11 1h0m-13 1h0m-4-1h0m-8-1h0m-46-1h0m-6 2h0m-21-2h0m-31 2h0m-37-1h0m-5 1h0m-13 0h0m-23-2h0m-6 0h0m-17 2h0m-2 0h0m-6-1h0m-5 0h0m-10-1h0m-1 2h0m-26-1h0m-20 1h0m11 5h0m21 0h0m8 4h0m6 4h0m4-8h0m22 2h0m7 1h0m12-4h0m3 8h0m6-9h0m6 7h0m13-4h0m5-1h0m4-1h0m16 8h0m2-5h0m0 5h0m10-8h0m3 4h0m6-6h0m0 3h0m6 8h0m1-10h0m5 6h0m7 4h0m1-4h0m9-6h0m4 8h0m2 1h0m11-10h0m5 0h0m1 10h0m5 0h0m1-8h0m0 0h0m19 9h0m16-4h0m4-2h0m1-5h0m2 9h0m3 0h0m6-6h0m0 6h0m4-1h0m6-6h0m9-1h0m0 8h0m3-7h0m1 5h0m4-6h0m5 10h0m3-2h0m-11 9h0m-3 0h0m-2 4h0m-3-5h0m-4-5h0m-6 6h0m-11 0h0m-2-1h0m-13-2h0m-14 1h0m-4 6h0m-6 0h0m-22 0h0m-4-3h0m-13-2h0m0 6h0m-3-3h0m-19 1h0m-3-9h0m-1 7h0m-2-4h0m-10 3h0m-8-1h0m-7 3h0m-2-4h0m-8 6h0m-3-6h0m-3 5h0m-2-5h0m-3-4h0m-1 10h0m-9-9h0m-2 3h0m-1 3h0m-5-1h0m-9 1h0m-6 3h0m-3 0h0m-1-8h0m-4-1h0m-2 1h0m-1 4h0m-10 0h0m-1-1h0m-9-4h0m-2 10h0m-1-8h0m-2 4h0m-2-4h0m-21 1h0m0 4h0m0 0h0m-5-2h0m0 4h0m-3-9h0m-2 5h0m-3 4h0m-3-1h0m0 2h0m-3-9h0m-7 8h0m3 8h0m2-4h0m2 8h0m14-7h0m2 1h0m3-3h0m2 10h0m5-11h0m1 7h0m4-5h0m11 4h0m2 3h0m4-6h0m2 2h0m6 5h0m5-2h0m9 2h0m11-2h0m14-8h0m1 6h0m4-4h0m1 6h0m5 1h0m4-8h0m8 8h0m1-8h0m8 10h0m3-7h0m6 4h0m2-2h0m6-5h0m6 5h0m10-6h0m8 9h0m3-5h0m10-2h0m8 6h0m1-5h0m3 3h0m6 3h0m5-6h0m5 5h0m6-2h0m4 0h0m3 2h0m3-6h0m8 9h0m5-2h0m3-7h0m2 6h0m2-2h0m0 2h0m4-7h0m3 4h0m8 0h0m1 3h0m7-4h0m29-3h0m11 1h0m-5 16h0m-8-2h0m-11-4h0m-1 10h0m-3-10h0m-2 6h0m0 3h0m-6-4h0m-12 6h0m-16-3h0m-2-3h0m0 5h0m-6-9h0m0 9h0m-13-8h0m-2 7h0m-6-3h0m-5 0h0m-2-3h0m-4 1h0m-4-1h0m-14-1h0m-1-1h0m-2 6h0m-5-5h0m-6 0h0m-2 9h0m-1-4h0m-13-7h0m-2 7h0m-2-6h0m-8 1h0m-8 1h0m-3-1h0m-5 9h0m-12-11h0m-4 6h0m-1 3h0m-4-3h0m-8-4h0m-8 5h0m-1 3h0m-3-7h0m-6 8h0m-2-2h0m-6-4h0m-22 2h0m-10-3h0m-8 7h0m-2-10h0m-3 10h0m-7-4h0m-4 2h0m-6-2h0m-9-6h0m-9 4h0m7 8h0m0 4h0m8 2h0m1 3h0m5-8h0m8 0h0m9 6h0m1 3h0m1-7h0m0 3h0m17-2h0m5 1h0m6-6h0m4 9h0m2-5h0m3 2h0m16 3h0m6 1h0m3-2h0m4-4h0m8-1h0m2 3h0m2-2h0m2-3h0m13 10h0m2-7h0m5 1h0m4 3h0m4-7h0m1 7h0m2-6h0m0 5h0m4-6h0m2 7h0m6 1h0m10-2h0m9-5h0m5-1h0m4 3h0m4-3h0m6-1h0m9 11h0m1-2h0m10-9h0m1 10h0m2-3h0m4-2h0m6 0h0m11-3h0m14 6h0m12 1h0m2-1h0m1-4h0m2 7h0m3-4h0m2-3h0m1 6h0m4-6h0m7-2h0m18 4h0m2 3h0m0 3h0m-6 4h0m-8 3h0m-1 1h0m-8-3h0m-5-3h0m-8 4h0m-5-6h0m-9 10h0m-7 1h0m-4-1h0m-2-3h0m-2-3h0m-2 5h0m-16-6h0m-3-2h0m-1 7h0m-16 3h0m-6-8h0m-3-2h0m-14 3h0m-7-2h0m-4 1h0m-4 5h0m-11-4h0m-3 6h0m-8-4h0m-4-3h0m-2 3h0m-1-4h0m-8 3h0m-5 4h0m-9 0h0m-5 1h0m-4-2h0m-7-4h0m-3 2h0m-8 5h0m-7-4h0m-1 4h0m-17-1h0m-8-10h0m-5 7h0m-5 3h0m-17-6h0m-6 1h0m-10-4h0m-2 9h0m-6-9h0m0 1h0m-1 4h0m-9 8h0m4 1h0m11 8h0m3-1h0m3-8h0m2 1h0m1 6h0m3 2h0m2-7h0m5 0h0m1 4h0m9-7h0m0 3h0m12 1h0m0 6h0m4-10h0m2 8h0m7 1h0m18-7h0m24 7h0m7-4h0m3 0h0m8-4h0m4 8h0m5-8h0m0 8h0m6-2h0m9-2h0m22-3h0m26 6h0m6-3h0m5 5h0m3-9h0m2 2h0m6-4h0m3 1h0m7 5h0m3 0h0m4 1h0m2-3h0m10-2h0m7 7h0m2-5h0m7-1h0m1 3h0m13-5h0m1 5h0m4 3h0m4 1h0m12-1h0m7-2h0m4 2h0m-4 5h0m-6-1h0m-4 6h0m-6 4h0m-8-1h0m-8-10h0m-19 1h0m-7 9h0m-2-3h0m-9-4h0m-5 7h0m-1-3h0m-7 4h0m-6-1h0m-4 1h0m-3-5h0m-5 1h0m-7 4h0m-3-8h0m-7 3h0m-2-6h0m-5 2h0m0 8h0m-2-10h0m-12 2h0m-2 6h0m-11 0h0m-2-7h0m-2 4h0m-19-3h0m-5 2h0m-1-4h0m-4 3h0m-4 4h0m-5-4h0m-5 4h0m-2-7h0m-1 8h0m-3-7h0m-7-1h0m-1 11h0m-4-1h0m-3 1h0m-9-9h0m0 8h0m-5-1h0m-1-6h0m-4-1h0m-3 2h0m0 2h0m-5-3h0m-6 0h0m-1 2h0m-4-5h0m-2 4h0m-7-4h0m-10 9h0m-1-9h0m-24 11h0m-2 0h0m0 6h0m24 2h0m4-5h0m3 9h0m4-4h0m2 2h0m1 2h0m3-8h0m3 6h0m2-8h0m6 0h0m6 5h0m6 2h0m3-6h0m13 0h0m15 1h0m1 3h0m11-2h0m0 4h0m13-2h0m8-1h0m0 3h0m5 2h0m2-7h0m6 2h0m0 5h0m5-7h0m2 2h0m20 2h0m3-7h0m14 8h0m8-1h0m2-2h0m9-5h0m3 11h0m6-7h0m7 6h0m4-5h0m2 5h0m3-1h0m5 0h0m2-7h0m4-2h0m5 5h0m9-4h0m2 6h0m2-6h0m0 5h0m12-2h0m16-2h0m10 8h0m7-5h0m1-4h0m1 7h0m1 0h0m-1 7h0m-10 5h0m-5 2h0m-10-9h0m0 2h0m-1 4h0m-1-6h0m-2 10h0m-5 0h0m0 0h0m-5-9h0m-4 4h0m-1 4h0m-1 1h0m-5-3h0m-4-4h0m-3 4h0m-2 2h0m-5-2h0m-2-3h0m-3 6h0m-9-1h0m-3-4h0m-2 2h0m-3 3h0m-3-9h0m-12 6h0m-12 0h0m-3-4h0m-1 5h0m-9-3h0m-9 0h0m-5 2h0m-1-5h0m-7 3h0m0 1h0m-2 3h0m-4 0h0m-6-2h0m-7-1h0m-2-2h0m-3 3h0m-6-7h0m-5 5h0m-5 5h0m-5-2h0m-1-8h0m-10 7h0m-5-4h0m-10 3h0m-1-2h0m-5-5h0m-3 9h0m-12-9h0m-1 8h0m-7-5h0m-8 2h0m-16-1h0m0 3h0m-1 4h0m-12-7h0m-2-3h0m0 6h0m-6-1h0m-8-6h0m-2 6h0m-4 4h0m-4-7h0m2 20h0m4-6h0m4 0h0m10 0h0m4 2h0m4 1h0m9-1h0m19 0h0m4-2h0m4 0h0m7 3h0m13-7h0m4-1h0m4 9h0m18-2h0m2-7h0m4 3h0m12 0h0m2 5h0m11-1h0m6-7h0m12 7h0m0 4h0m7-2h0m16-5h0m2 6h0m5-4h0m11-2h0m13 4h0m2 1h0m2-3h0m1-3h0m4 3h0m8-6h0m0 8h0m8-2h0m5 4h0m6-2h0m6 1h0m4-6h0m12 2h0m5 0h0m0 3h0m6 3h0m3-1h0m4-7h0m3-1h0m3 0h0m5-2h0m6 17h0m-5 4h0m-4-8h0m-5 1h0m-11 5h0m0 3h0m-6-2h0m-5 3h0m-5-4h0m-9-4h0m-7-3h0m-6 7h0m-1 4h0m-9-9h0m-5 9h0m-8-4h0m-5-3h0m-18-1h0m-1 4h0m-9-7h0m-4 10h0m-4-3h0m-4 0h0m0 3h0m-8-10h0m0 5h0m-12-2h0m0 7h0m-6-5h0m-3 3h0m-3-1h0m-16 0h0m-3-4h0m-6 6h0m-21-5h0m0 4h0m-6 2h0m-1-2h0m-2 2h0m-2 1h0m-4-4h0m-7-6h0m-14 6h0m-2-7h0m-1 9h0m-8 0h0m-6-1h0m-6 0h0m-1 2h0m-5-7h0m-1 3h0m-7-2h0m-9-4h0m-7 2h0m-3 1h0m-1 11h0m9 4h0m14 4h0m2-7h0m13 3h0m7-2h0m3-3h0m1 9h0m2-1h0m1-6h0m6 6h0m2-9h0m0 4h0m7 6h0m2-7h0m7 3h0m1-3h0m3 8h0m15-10h0m2 10h0m1-4h0m8-1h0m2-1h0m4-3h0m1 6h0m1 3h0m4-9h0m7 3h0m2-4h0m5 8h0m3 1h0m6-8h0m1-1h0m0 5h0m4-1h0m3-4h0m7 5h0m13-1h0m1 2h0m2-7h0m6 2h0m2 7h0m1-7h0m8 1h0m0 4h0m15-1h0m17-6h0m2 6h0m19 0h0m3-3h0m12-1h0m2 6h0m5 3h0m5-5h0m1-1h0m9-2h0m2 3h0m11-1h0m0 1h0m6-4h0m12 17h0m-4-1h0m-2 3h0m-2 2h0m-15-3h0m-2-7h0m-1 6h0m-2-3h0m-1-3h0m-4 5h0m-28 4h0m-4-9h0m-6 0h0m0 10h0m-5-8h0m-2 8h0m-7-9h0m0 2h0m-9 4h0m0 3h0m-4-11h0m-10 4h0m0 4h0m-8-4h0m-2 2h0m-4-5h0m-14 7h0m-16-8h0m-4 8h0m-9-4h0m-3 3h0m-22-5h0m-5 3h0m-9 5h0m-3-8h0m-6 1h0m-7-1h0m-4 4h0m-3 4h0m-8-9h0m-1 4h0m-9-1h0m-1 0h0m-5 1h0m-2-3h0m-10-2h0m-5 4h0m-2-3h0m-12 0h0m-2 7h0m-6-4h0m0 4h0m-5-7h0m-2 10h0m-4-11h0m-10 3h0m-1 18h0m5-1h0m15 3h0m4-4h0m4 3h0m9-3h0m14-7h0m2 8h0m18-5h0m12 2h0m0 4h0m2-7h0m10 8h0m6-10h0m2 0h0m7 7h0m3-6h0m0 7h0m0 1h0m13-4h0m4-3h0m10 3h0m5 0h0m4 5h0m2-2h0m4-1h0m4-7h0m1 9h0m3-7h0m7 5h0m11-7h0m3 6h0m9 1h0m13-1h0m1 2h0m7 3h0m12-7h0m11 3h0m44 0h0m1-4h0m2-3h0m1 9h0m10-9h0m8 0h0m4 0h0m4 4h0m0 13h0m-2 0h0m-22 0h0m-9 6h0m-7-1h0m-11-7h0m-4-1h0m0 5h0m-9-6h0m-2 9h0m-8-7h0m-4-2h0m-3 8h0m-1-5h0m-1 3h0m-7-6h0m-2 10h0m-5-7h0m-4 6h0m-10-3h0m-9-5h0m-6 9h0m-1-3h0m-11 1h0m-5-5h0m-13 1h0m-4 5h0m-6-5h0m-18 5h0m-3-6h0m-10-2h0m0 3h0m-5-2h0m0 8h0m-11-4h0m-20-5h0m-10 3h0m-3 2h0m-14 0h0m0 3h0m-10-8h0m-4 2h0m-2 6h0m-1-9h0m-1 6h0m-5-1h0m-5 4h0m-12-6h0m-6-3h0m-2 9h0m-5 2h0m3 4h0m4 4h0m2-7h0m3 8h0m2-5h0m5-4h0m0 4h0m8-4h0m24 1h0m1 8h0m6-5h0m5 6h0m3-1h0m14-1h0m5 3h0m1-7h0m4 1h0m3 6h0m1-4h0m4-1h0m3 4h0m19-4h0m0 3h0m6-3h0m5-1h0m1-4h0m10 5h0m6-2h0m2-3h0m2 9h0m1-4h0m4-1h0m2-5h0m0 11h0m1-1h0m2-7h0m5-1h0m6 0h0m2-2h0m15 2h0m5 4h0m2 5h0m3-10h0m2 1h0m5 1h0m8 3h0m8 5h0m3-8h0m8-2h0m14 8h0m3-1h0m1 3h0m4-3h0m4-1h0m1-3h0m7 0h0m8 0h0m3 4h0m2-7h0m4 4h0m9 5h0m3-6h0m9 3h0m1-4h0m5 16h0m-5 1h0m-8-6h0m0 3h0m-2 4h0m-13-1h0m-3-3h0m-1-3h0m-3 3h0m-6-1h0m-2-3h0m0 8h0m-3-8h0m-13 5h0m-6 0h0m0 5h0m-3-3h0m-3-5h0m-2-2h0m0 6h0m-7-4h0m-12 5h0m-1-7h0m0 5h0m-2-3h0m-3 8h0m-3-4h0m-1-7h0m-1 9h0m-2-5h0m-7 5h0m-7-9h0m0 3h0m-19 3h0m-12-4h0m-1 8h0m-6-7h0m-2 5h0m-1-7h0m-4 4h0m-2-3h0m-1 6h0m-8-2h0m-3 4h0m-1-4h0m-4 0h0m-9-4h0m-7 0h0m-4 2h0m-4 0h0m-13 7h0m-4-3h0m-2 1h0m-8-5h0m-6 4h0m-8-5h0m-12 2h0m-5 4h0m-2-2h0m-1 2h0m-10-1h0m-14 1h0m-19-5h0m0 4h0m7 8h0m11 6h0m3 0h0m12 0h0m4-2h0m9 0h0m4-8h0m1 11h0m5-1h0m1-7h0m3 2h0m7 4h0m8 2h0m3 0h0m4-8h0m2 1h0m8 3h0m1-4h0m2 0h0m13 0h0m0 2h0m7-5h0m31 0h0m3 2h0m4 0h0m4 8h0m8-7h0m6 6h0m3-4h0m3-3h0m2-1h0m7 2h0m2-1h0m5 5h0m1 4h0m6-5h0m11-1h0m11 3h0m2-7h0m4 5h0m4 3h0m19-2h0m5 2h0m7-5h0m5-4h0m10 8h0m14-3h0m9 1h0m2-6h0m2 10h0m7 11h0m-2-4h0m-3 6h0m-17 0h0m-5-11h0m-2 10h0m-3-8h0m-7 3h0m-4 2h0m-5 1h0m-2-4h0m-6 3h0m-9-2h0m0 3h0m-12-2h0m-2-3h0m-12 7h0m-4 0h0m-4-7h0m-18 5h0m-5 0h0m-11 0h0m-11-2h0m-6 1h0m-3 1h0m-6-8h0m-3 2h0m-11 0h0m-8 6h0m-5 0h0m-12 0h0m-14-6h0m-3 4h0m-3-5h0m-5 0h0m-2-1h0m-2 6h0m-4 0h0m-8-2h0m-10 1h0m-7-3h0m-4 0h0m-6 6h0m-1-5h0m0 7h0m-3-10h0m-1 3h0m-1 6h0m-10-2h0m-12 3h0m-3 0h0m-9-1h0m-2-9h0m-6 21h0m2-7h0m8 0h0m3 4h0m0 3h0m0 0h0m5-8h0m2 10h0m1-5h0m3 3h0m3 1h0m1 1h0m6-4h0m2 4h0m2-7h0m23 3h0m1-7h0m2 4h0m3 2h0m2-6h0m4 2h0m5 0h0m15 2h0m2 6h0m3-5h0m4-5h0m0 6h0m4-6h0m0 11h0m3-5h0m4-6h0m1 10h0m1-7h0m6-2h0m7 9h0m12-4h0m15 2h0m1-4h0m7 7h0m37-4h0m11-4h0m1-2h0m2 10h0m31-4h0m1-3h0m5 1h0m6 0h0m5 1h0m5-2h0m1-2h0m3 3h0m7-1h0m20-1h0m1 0h0m7 4h0m3-2h0m-1 17h0m-3 1h0m-4-1h0m-4-2h0m-3-1h0m-9 2h0m-8-4h0m-6-1h0m-1-4h0m-4 10h0m-1-9h0m0 3h0m-3 1h0m-1-3h0m-4 3h0m-8-3h0m-13 0h0m-4 4h0m-12-4h0m-3-1h0m-7 6h0m0 1h0m-4 2h0m-1-6h0m-4 5h0m-18-2h0m-5 4h0m-1-9h0m-1 8h0m-1-6h0m-5 4h0m-6-1h0m-3 2h0m-4-2h0m-5-7h0m-14 11h0m-3-7h0m-19 4h0m-4 1h0m-4-5h0m-2-2h0m-3 4h0m-5-6h0m-7 4h0m-2 6h0m-4-8h0m-13 6h0m-5-4h0m-6 7h0m-7-3h0m-6-7h0m-9 10h0m-4-6h0m-2-3h0m-4 9h0m-5-10h0m-14 4h0m-10 6h0m0 2h0m11 0h0m2 8h0m1-6h0m0 7h0m13-4h0m3 5h0m5-3h0m0 2h0m10-5h0m1-3h0m1 7h0m4-1h0m5-6h0m2 3h0m4 3h0m1 3h0m2-10h0m3 6h0m3-4h0m9 3h0m6 2h0m5-1h0m2-6h0m5 2h0m4 7h0m3-5h0m3-2h0m3 0h0m4 0h0m11 4h0m23-3h0m22-1h0m1 6h0m13-8h0m2 10h0m5 0h0m8-2h0m1-5h0m3 4h0m7-5h0m1-2h0m3 7h0m5-4h0m3 0h0m7 0h0m1 4h0m4 0h0m2 1h0m12 2h0m1-6h0m6-5h0m7 4h0m3 6h0m3-2h0m2-5h0m14-1h0m0 8h0m6 0h0m8-8h0m4 9h0m2-5h0m5-2h0m4 2h0m0 11h0m-4-5h0m-2 9h0m-1-2h0m-2-5h0m-14 4h0m-11-3h0m-15 5h0m-2-6h0m-6 6h0m-3-2h0m-11-2h0m-6 6h0m-3-6h0m-4 0h0m-20 4h0m-3 2h0m-21-5h0m0 3h0m-19-5h0m-1 6h0m-6-1h0m-1-8h0m-4 5h0m0 2h0m-8-4h0m-3 4h0m-5-5h0m-5 0h0m0 8h0m-3-2h0m-4 3h0m-3-4h0m-9-4h0m-6 7h0m-3-1h0m-3-5h0m-9-4h0m-1 5h0m-8 6h0m-14-1h0m-3-2h0m-8 0h0m-4-8h0m0 4h0m-8 7h0m-5-6h0m-9 3h0m-4-5h0m-1 6h0m-6-1h0m-1-6h0m0 9h0m-7 0h0m-1-7h0m-2 2h0m1 15h0m13-1h0m6-6h0m13 7h0m5 1h0m2-3h0m8-7h0m7 11h0m5-3h0m2-4h0m7 0h0m5 3h0m10 3h0m2-10h0m18 6h0m9 3h0m2-4h0m1-1h0m23 6h0m16-10h0m0 3h0m6 2h0m3 5h0m6-2h0m7 2h0m1-2h0m3-6h0m7 5h0m6-5h0m3 1h0m4 2h0m0 5h0m9-1h0m6 2h0m6 0h0m5-10h0m5 3h0m2 0h0m5-4h0m6 7h0m4-3h0m11 2h0m8 1h0m2-6h0m0 10h0m6-2h0m5-3h0m16 4h0m3 10h0m-3-5h0m0 7h0m-8-4h0m-1-4h0m-10-1h0m-1 6h0m-6-5h0m-13 2h0m-1 0h0m-4-4h0m-8 3h0m-7 1h0m-1 6h0m-3-9h0m-3 8h0m-1-3h0m-5-5h0m-4 2h0m-1 7h0m-1-4h0m-7 0h0m-7-3h0m-3 2h0m-4 6h0m-19-7h0m-4 2h0m-5-3h0m-1 8h0m-11-7h0m0 6h0m-1-8h0m-4-1h0m-1 6h0m-3 2h0m-7-6h0m-15 4h0m-11-6h0m-2 0h0m-6-1h0m-11 2h0m-2 2h0m-5-1h0m-4 5h0m-4 3h0m-3-10h0m-1 8h0m-11-6h0m0 6h0m-7-4h0m-5-2h0m0 2h0m-2-1h0m-5 0h0m-1 6h0m-23 0h0m-8-2h0m-6-1h0m-6-2h0m-2 5h0m-4 1h0m-6-6h0m-1-5h0m0 5h0m0 3h0m5 4h0m65 0h0m114 0h0m8 0h0m98 0h0" stroke="#cc4450" stroke-width="2"/><path d="M312 -1h0m-13-1h0m-5 0h0m-4-2h0m-33 0h0m-77 3h0m-30 0h0m-33-2h0m-40-1h0m-4 2h0m-21-1h0m-25 2h0m-7-3h0m-19 0h0m-4 13h0m5-3h0m1-6h0m10 1h0m9 4h0m2 4h0m1-5h0m4 7h0m11-3h0m7-2h0m2 2h0m7-8h0m3 2h0m15 5h0m3 4h0m4-11h0m0 0h0m2 8h0m11-8h0m2 5h0m4-5h0m10 2h0m3 0h0m12 6h0m15-4h0m2-1h0m1-3h0m15 11h0m16-9h0m21 1h0m5 1h0m0 2h0m5 0h0m2-5h0m3 9h0m24-6h0m1 5h0m17-9h0m15 8h0m16-2h0m5 2h0m9 1h0m10 10h0m-3-3h0m-16 5h0m-4-4h0m-4-5h0m-4 11h0m-14-3h0m-4 3h0m-15-6h0m-1-4h0m-13 0h0m-8 9h0m-13 1h0m-7-11h0m-6 4h0m-37-3h0m-2 7h0m-10-2h0m-4 3h0m-2-4h0m-2 6h0m-11-9h0m-8-1h0m-3 9h0m-9-2h0m-38-7h0m-3 1h0m0 6h0m-12-3h0m-1-2h0m-8-3h0m-11 0h0m-29 16h0m5 6h0m7 0h0m6-5h0m27-3h0m11 3h0m6-3h0m1 1h0m2 8h0m1-6h0m3-4h0m5 1h0m8 2h0m2 1h0m2-4h0m4 0h0m1 10h0m10-7h0m1-4h0m24 9h0m12 2h0m4-1h0m7-3h0m14-7h0m7 9h0m7-9h0m2 7h0m11-6h0m10 8h0m12 1h0m17-7h0m7 2h0m20 6h0m1-10h0m2 1h0m17 2h0m3 6h0m5-4h0m2 1h0m1-4h0m6-2h0m8 8h0m2-6h0m-9 10h0m-24 9h0m-3-2h0m-4-2h0m-3 3h0m-2-6h0m-2 2h0m-8-2h0m-6-1h0m-1 5h0m-10 3h0m-2-8h0m-9 2h0m-17 5h0m-1-4h0m-7 4h0m-1-7h0m-15 4h0m-19 5h0m-3-2h0m-11-9h0m-2 7h0m-7-4h0m-13 2h0m-4 0h0m-1-1h0m-2 2h0m-45-5h0m-2 8h0m0 2h0m-25-1h0m-1-4h0m-7-3h0m-9 4h0m-2 1h0m-20-5h0m-6 7h0m-2 0h0m-3-10h0m-1 9h0m6 4h0m35 1h0m4 7h0m6-5h0m3 7h0m6-11h0m8 10h0m6-8h0m3 0h0m6 9h0m3-6h0m10-4h0m5 2h0m10 4h0m4 3h0m6-5h0m5 4h0m20-9h0m1 11h0m5 0h0m15-6h0m1-1h0m1-4h0m5 2h0m5-2h0m5 0h0m14 7h0m8-7h0m11 1h0m19 4h0m2-1h0m9 7h0m3-3h0m8-3h0m1 3h0m5 3h0m3-8h0m22 4h0m13-2h0m0 6h0m2-10h0m4 1h0m-1 17h0m-5 0h0m-3-2h0m-23 1h0m-3-4h0m-18 7h0m-20-9h0m-7 9h0m-7-4h0m-18-4h0m-5 7h0m-6-5h0m-13 8h0m-3-4h0m-4-3h0m-7-2h0m-14 6h0m-11-7h0m-3 6h0m-7 4h0m-6-7h0m-6 7h0m-13-10h0m-8 6h0m-25 2h0m-1 2h0m-3-9h0m-26-2h0m-8 7h0m-11-6h0m-3 5h0m-17-6h0m0 23h0m3-7h0m1 6h0m11-6h0m7-3h0m6 2h0m2-3h0m9 1h0m19 4h0m4-5h0m13 3h0m2 2h0m6 4h0m3-6h0m0 6h0m13-6h0m1 5h0m11-1h0m7-4h0m8 6h0m15 0h0m8 2h0m2-8h0m1 1h0m2 7h0m6-3h0m2 1h0m4 1h0m3-5h0m10-5h0m13 4h0m5 0h0m3 6h0m7-10h0m0 6h0m4 5h0m10-5h0m2 2h0m7-8h0m1 10h0m4-6h0m8 5h0m1-5h0m3 2h0m25-1h0m10 1h0m18-6h0m7 7h0m-13 6h0m-5 3h0m-2 0h0m-4 7h0m-1-10h0m-7 4h0m-5 6h0m-2-4h0m-12 1h0m-2-7h0m-6 1h0m0 6h0m-12-8h0m-22 2h0m-4 5h0m-4-7h0m-6 9h0m-4-7h0m0 6h0m-5-5h0m-11 3h0m-19-4h0m-3 7h0m-14-5h0m-9-1h0m-2 1h0m-56-4h0m-10 5h0m-20 6h0m-32-5h0m-19 8h0m1 5h0m2 3h0m11-10h0m2 0h0m0 10h0m3-7h0m4 2h0m9-2h0m2-3h0m4 3h0m2-2h0m7 4h0m6 4h0m5-2h0m8 4h0m2-10h0m6 4h0m5 1h0m9 3h0m1-4h0m3-2h0m6 1h0m8 1h0m9-2h0m3 5h0m5-8h0m0 2h0m3-2h0m5 1h0m7 1h0m2 7h0m9-9h0m5 10h0m7 0h0m5-6h0m5-2h0m7 6h0m2-7h0m5 1h0m15 9h0m1-7h0m9-3h0m1 8h0m10-1h0m12-3h0m5-1h0m34 0h0m12-2h0m8 5h0m2-6h0m2 4h0m2 5h0m1-5h0m6 3h0m6 5h0m-3 7h0m-3-4h0m-3 6h0m-3-5h0m-7 3h0m-38 3h0m-30-2h0m-4 2h0m-3-11h0m-3 5h0m-1-1h0m-6-4h0m-19 9h0m-8-7h0m-1 9h0m-5 0h0m-26-11h0m0 2h0m-1 2h0m-19-3h0m0 6h0m-2 4h0m-18-11h0m-9 1h0m-9 9h0m-2-7h0m-1-1h0m-2 3h0m-4 2h0m-3-2h0m-2-5h0m0 11h0m-1-8h0m-4 3h0m-7 1h0m-6-7h0m-1 11h0m-7-4h0m-18 3h0m-6-1h0m-10 1h0m-5-6h0m-2 4h0m-3-3h0m-4 2h0m6 16h0m20-8h0m2 4h0m13 0h0m7-6h0m5 2h0m19 8h0m6-4h0m8 0h0m7-4h0m6-2h0m12 5h0m9-2h0m14 2h0m4 2h0m9-8h0m2 8h0m3-3h0m4-2h0m3 0h0m1 4h0m11-6h0m1 2h0m5 6h0m1-9h0m9 11h0m4-3h0m40 3h0m11-4h0m8 4h0m3-8h0m6 6h0m6 0h0m10 1h0m5-4h0m6 3h0m10-3h0m14-5h0m1 6h0m0 4h0m-7 9h0m-9-5h0m-5 6h0m-4-5h0m0 3h0m-2 4h0m-3-9h0m-11 0h0m-19 9h0m-4-2h0m-18-3h0m-1-2h0m-3 3h0m-1-6h0m-7 3h0m0 7h0m-6-1h0m-1-9h0m-2 5h0m-6-5h0m-12 10h0m-27-8h0m-1 7h0m-4-8h0m-1 3h0m-29 1h0m-15 3h0m-3-8h0m-6 0h0m-2 4h0m-10 2h0m-1-6h0m-16-1h0m-4 5h0m-2-4h0m-23 0h0m-2 4h0m-5-4h0m-14 0h0m-9 10h0m-1-8h0m-2 4h0m-13 15h0m6-2h0m10 0h0m3-8h0m0 4h0m22 1h0m3 1h0m6-3h0m13-3h0m9 8h0m17 0h0m8 0h0m9 3h0m8-10h0m9 9h0m4-9h0m6 1h0m6 8h0m0 1h0m2-7h0m10 6h0m5-9h0m10 2h0m7 6h0m12-9h0m3 3h0m7 1h0m6 2h0m9-1h0m1 3h0m6 2h0m13-2h0m2-7h0m4 4h0m2-2h0m11 2h0m15 0h0m10-3h0m1 6h0m12 0h0m11-5h0m2 4h0m6 4h0m1-2h0m4-7h0m0 13h0m-12-1h0m-2 5h0m-4-4h0m-3 0h0m-21-3h0m-9 0h0m-4 8h0m-2-2h0m-11 5h0m-20-1h0m-6-7h0m-6 3h0m-3-4h0m-9 9h0m-4-11h0m-2 10h0m-1-9h0m-14 1h0m0 4h0m-8-5h0m-22 7h0m-8 3h0m-12 0h0m-7 0h0m-7-7h0m-13 6h0m-18-1h0m-4-4h0m-6 2h0m-5-5h0m0 6h0m-9 2h0m-10-7h0m-9 7h0m-4-4h0m-1 5h0m-3-3h0m-6-2h0m-13-1h0m-3 6h0m-2-6h0m-6 6h0m-4 9h0m9-6h0m5 7h0m2 2h0m19-2h0m9-2h0m4 1h0m8 2h0m35-2h0m17 0h0m9-5h0m13 6h0m4 0h0m3-8h0m41-1h0m3 4h0m9-1h0m3 0h0m5 6h0m13-4h0m15 4h0m2-7h0m6-1h0m1 10h0m4-9h0m14 6h0m13-3h0m4 1h0m20 1h0m1 4h0m2-4h0m4-1h0m5-1h0m4 4h0m4-4h0m-9 10h0m-7 7h0m-10-6h0m-12 0h0m-2 2h0m-5 2h0m-7-2h0m-11 1h0m-4 1h0m-7 1h0m-14-7h0m-2 3h0m-10 4h0m-5-3h0m-1-3h0m-12 6h0m-4-5h0m-1-1h0m-12-2h0m-3 6h0m-15-7h0m-6 2h0m-4 7h0m-1 1h0m-4-10h0m-7 4h0m-13 5h0m-4-3h0m-11 5h0m-8-5h0m-2 5h0m-4-2h0m-4-7h0m-8 1h0m-5 2h0m-7 6h0m-6-3h0m-5-7h0m-11 4h0m-8 6h0m-1-6h0m-13 0h0m-16 2h0m-9-4h0m8 14h0m0 5h0m11-2h0m2 0h0m7-5h0m5 4h0m17 2h0m28-8h0m4 1h0m9 3h0m32-1h0m6-1h0m8 0h0m2 3h0m20-2h0m13 7h0m5-5h0m3-5h0m1 5h0m3 4h0m2-4h0m1-5h0m9 2h0m1 4h0m4-1h0m17 4h0m15-5h0m2 2h0m2 0h0m1-5h0m9 4h0m5-2h0m8 7h0m3-5h0m7 3h0m4 1h0m13-1h0m3-5h0m14-3h0m2 5h0m7-1h0m-22 16h0m-25-3h0m-18-4h0m-12 5h0m-2 3h0m-9-7h0m-11-1h0m-12 2h0m-13 4h0m-2-3h0m-2-3h0m-10 6h0m-1-8h0m-4 9h0m-2 2h0m-16-9h0m-9-1h0m-5 8h0m-2 2h0m-1-10h0m-10-1h0m0 3h0m0 4h0m-3 0h0m-12 2h0m-24-7h0m-3 2h0m-13 3h0m-5-1h0m-4-4h0m-3 8h0m-3-4h0m-4 4h0m-8-8h0m-13 4h0m-7 4h0m-1-5h0m-2-3h0m-7 2h0m-13-2h0m11 19h0m1-7h0m10 6h0m1-5h0m5 5h0m14 0h0m29-4h0m7 2h0m31 4h0m3-6h0m3 6h0m14-6h0m3-4h0m3 8h0m5-5h0m5 7h0m5-1h0m11-4h0m14 6h0m12-4h0m20 0h0m1-7h0m13 4h0m1 6h0m1-2h0m16-7h0m0 9h0m1-1h0m5-7h0m1 6h0m9-6h0m1 6h0m1-7h0m3 7h0m1 3h0m18-7h0m7 3h0m4-6h0m5-1h0m0 5h0m2 5h0m1-9h0m14 2h0m2 3h0m-17 17h0m-2-6h0m-1 2h0m-7-1h0m-4 2h0m-6-8h0m-16 4h0m-9-2h0m-7-2h0m-2 10h0m-3-9h0m-1 9h0m-3-7h0m-4 7h0m-1 1h0m-1-2h0m-5-2h0m-7 0h0m-5-1h0m-6-1h0m-3-2h0m-8 6h0m-20-3h0m-1 4h0m-4 0h0m-7-10h0m-1 11h0m-11-8h0m-2 5h0m-5-3h0m-24-5h0m-23 0h0m-4 11h0m-6-1h0m-14-3h0m-17-1h0m-1 4h0m-26 0h0m-3-10h0m-2 9h0m-17-2h0m-1-3h0m-8 4h0m5 4h0m2 10h0m9-7h0m13-1h0m0 2h0m5 5h0m5-7h0m9 5h0m1-5h0m12 6h0m23 0h0m6-1h0m6-6h0m8 6h0m15 3h0m11-6h0m7-3h0m6 5h0m29-1h0m3-1h0m2 3h0m17-7h0m9 1h0m14 6h0m1-5h0m2 4h0m6-2h0m4 6h0m21-8h0m2 5h0m42 2h0m4 0h0m6-7h0m7-1h0m3 10h0m-3 1h0m-12 2h0m0 4h0m-6 1h0m-5-1h0m-1 5h0m-7-10h0m-6 1h0m-2 9h0m-23-10h0m-9 8h0m-7-3h0m-5 4h0m-4-2h0m-3 3h0m-4-4h0m-15-5h0m-5 3h0m-23 0h0m-4-4h0m-4-1h0m-7 0h0m-9 5h0m0 4h0m-16-5h0m-8-3h0m-6 4h0m-9 1h0m-11 3h0m-7 1h0m-14-3h0m-3-3h0m-7-3h0m-4-1h0m-5 1h0m-12 10h0m-13-3h0m-5 3h0m-15 0h0m-1-1h0m-3-4h0m-5-1h0m-5 1h0m5 8h0m10 1h0m33-3h0m3 5h0m7-2h0m6 7h0m7-1h0m5-2h0m2 2h0m6 1h0m5-6h0m21 7h0m9-3h0m7-6h0m4-2h0m0 1h0m1 4h0m3-2h0m2 8h0m13-7h0m2-4h0m0 10h0m3-7h0m2-1h0m23 4h0m22-6h0m3 6h0m9-6h0m1 6h0m8 5h0m1-3h0m9-8h0m19 1h0m5 8h0m2-2h0m16 2h0m2-3h0m5 1h0m9-1h0m2 0h0m7-4h0m1 8h0m12-6h0m1 18h0m-16-8h0m-3 3h0m-14-3h0m-2 9h0m-1-11h0m-3 3h0m-29-1h0m-7 2h0m-5 2h0m-14-5h0m-2 8h0m-6-3h0m-6-6h0m-4 7h0m-31 4h0m-1-4h0m-5 3h0m-46-4h0m-11-4h0m0 5h0m-18 1h0m-2 2h0m-2-2h0m-13 1h0m-28 0h0m-9 2h0m-17-9h0m-11 5h0m-2 1h0m-7-6h0m-1 6h0m0 11h0m3 0h0m8 3h0m19-6h0m2 6h0m10 0h0m2-4h0m14-3h0m13 0h0m9 7h0m6-1h0m1 2h0m9-9h0m5 7h0m5 2h0m4-11h0m1 8h0m8 0h0m1-3h0m20-3h0m1 6h0m2-7h0m12 0h0m0 9h0m5-6h0m6 6h0m1-9h0m12 5h0m3-3h0m11 0h0m4 8h0m16-9h0m2 9h0m7-9h0m6-2h0m30 6h0m1-6h0m1 0h0m1 10h0m6 0h0m6-8h0m5 8h0m5-6h0m6 2h0m2 4h0m4-10h0m4 10h0m5-1h0m10 3h0m-10 3h0m-3 6h0m-12 2h0m-2-10h0m-5 8h0m-9 1h0m-6 0h0m-14-3h0m-16 2h0m-2-7h0m-16 8h0m-10-5h0m-16 1h0m-13 4h0m-9-8h0m-6 9h0m-3-4h0m-10 2h0m-7-5h0m-3 5h0m-7-4h0m-9 4h0m-16 0h0m-17-1h0m-26 2h0m-14 1h0m-4-3h0m-3 0h0m-2-3h0m-2 1h0m-22 2h0m-11-7h0m23 11h0m77 0h0m144 0h0" stroke="#cc4450" stroke-width="2.5"/><path d="M200 40h0m-94 29h0m-81 51h0m250 0h0m45 63h0m-186 80h0m-128 3h0m109-2h0m196 13h0m-81 20h0m-5 3h0m-94 3h0" stroke="#d2352d" stroke-width="3"/><path d="M90 -7h0m-98 2h0m19 10h0m23 3h0m38 2h0m23-8h0m86-2h0m40 7h0m101 14h0m-146 1h0m-22-2h0m-3-1h0m-11 4h0m-1-11h0m-84 19h0m26-2h0m8 2h0m13-3h0m2 1h0m27-1h0m28 2h0m30 4h0m14-6h0m34-2h0m86 3h0m-31 14h0m-12 1h0m-62-4h0m-74 0h0m-98 7h0m-21-10h0m-25 17h0m84 5h0m4-5h0m12 2h0m58-8h0m49 9h0m18-8h0m17 5h0m75 3h0m-22 14h0m-58-5h0m-71-6h0m-116 1h0m-9 4h0m-48 12h0m56-4h0m17 2h0m10 3h0m44 0h0m1-5h0m41 1h0m10 3h0m114-2h0m30 18h0m-17 0h0m-12-5h0m-120 0h0m-50-4h0m-36 0h0m-24 7h0m125 9h0m58 6h0m2-5h0m53-4h0m20 17h0m-39 4h0m-20-7h0m-25 1h0m-106 1h0m-40 4h0m-23-6h0m-56 3h0m8 17h0m89-8h0m13-1h0m33 2h0m15 6h0m74 1h0m10-5h0m67-5h0m-13 14h0m-2 5h0m-257 1h0m-11-8h0m-22 3h0m-13 9h0m32 6h0m28-5h0m57 6h0m56-4h0m66 2h0m44-5h0m5 6h0m-69 8h0m-31 3h0m-14-3h0m-47 2h0m-50-1h0m-19-3h0m-41 3h0m18 8h0m28 9h0m48-1h0m25 0h0m152 3h0m23-5h0m-34 12h0m-158 0h0m-57 5h0m-31 4h0m139 2h0m42-5h0m48 17h0m-67 1h0m-21-3h0m-29-1h0m-12 7h0m-70 7h0m39-2h0m149 8h0m7-3h0m-23 15h0m-96 1h0m-64-6h0m-12 2h0m-59 6h0m74 1h0m93 2h0m14 3h0m13 4h0m3-9h0m7 6h0m37-2h0m38 0h0m6-2h0m36-3h0m1 17h0m-39 1h0m-162-5h0m-36 2h0m-15 2h0m-22 0h0m-28 10h0m90-3h0m34 6h0m17 3h0m26-3h0m15 3h0m29-9h0m29 21h0m-46-3h0m-20 3h0m-11 1h0m-67-11h0m-96 1h0m-27-1h0m40 23h0m45-7h0m73-2h0m24 3h0m140 10h0m-95-1h0m-14 3h0m-32 6h0m-20-4h0m-62-2h0m-21 2h0m-76 14h0m8-3h0m35 0h0m21-5h0m5 6h0m20-5h0m13-1h0m5 2h0m5 7h0m7-4h0" stroke="#d2352d" stroke-width="3.5"/><path d="M284 -7h0m-8 2h0m-101-1h0m-71 4h0m-57 0h0m-5-1h0m-29 3h0m42 10h0m19-10h0m63 8h0m54-4h0m29 6h0m15-3h0m61 2h0m17 5h0m-79 6h0m-88-6h0m-70 5h0m-76 7h0m224 9h0m59 11h0m-12-8h0m-73 6h0m-59 2h0m-135-7h0m-4 15h0m10 3h0m141-1h0m6 0h0m88-6h0m23 8h0m30-1h0m-36 6h0m-53 3h0m-185 4h0m-10 13h0m32-4h0m17 3h0m27-6h0m7 0h0m6 5h0m49-8h0m15 10h0m6-7h0m60-2h0m68 9h0m6 11h0m-56-9h0m-141 7h0m-24 0h0m-20 3h0m-6-8h0m-53 1h0m-13 14h0m6 4h0m40-7h0m28-1h0m13 0h0m10 4h0m35-1h0m30 4h0m37-6h0m27-1h0m3-1h0m54 8h0m23 3h0m-7 8h0m-100-3h0m-18 5h0m-65-8h0m-28 0h0m-23 5h0m-63-1h0m122 15h0m15-9h0m8 3h0m92 6h0m37-7h0m17 6h0m2 3h0m-165 10h0m-29-8h0m-24 6h0m-49-7h0m17 23h0m64-4h0m56 4h0m23-4h0m51 2h0m12-8h0m0 10h0m19 0h0m55-9h0m-11 16h0m-142 1h0m-4-3h0m-102 5h0m-55-5h0m12 15h0m3-6h0m103 6h0m125 1h0m28-5h0m22 11h0m-97 4h0m-14-2h0m-90 1h0m-6 1h0m-46-3h0m-8 5h0m-33 0h0m40 11h0m84-2h0m14-3h0m5 4h0m11-3h0m54 1h0m19 3h0m37-5h0m-48 15h0m-41-1h0m-5-2h0m-22 1h0m-102 2h0m-15 2h0m-39 2h0m0 14h0m31-8h0m22 7h0m53-2h0m8-6h0m0 8h0m35-2h0m49 2h0m52-7h0m21 3h0m43 16h0m-133-7h0m-167 8h0m-5-2h0m36 8h0m9-3h0m11 7h0m2-7h0m37 9h0m44-6h0m124 2h0m37 11h0m-75 2h0m-51 3h0m-32 0h0m-26-4h0m-12-1h0m-9 2h0m95 11h0m90-1h0m-60 12h0m-47-5h0m-26-1h0m-146 6h0m92 6h0m113 6h0m87-2h0m15 0h0m-26 19h0m-69-5h0m-55 5h0m-17-7h0m-121 0h0m24 10h0m33 4h0m114-1h0" stroke="#d2352d" stroke-width="4"/><path d="M207 -5h0m-7 1h0m-13 1h0m-169-3h0m-9 15h0m162-7h0m68 1h0m31 6h0m15 0h0m-8 7h0m-29-2h0m-36-2h0m-9 7h0m-34-7h0m-128 7h0m109 13h0m74 2h0m94 9h0m-13-6h0m-19 0h0m-26 2h0m-12 2h0m-41 5h0m-31-6h0m-7-4h0m-9 5h0m-29 3h0m-59-5h0m-43 4h0m-19 5h0m25 9h0m153-5h0m15-1h0m86 1h0m18 5h0m-184 6h0m-102 0h0m-5 4h0m0 3h0m13 13h0m63-3h0m22-5h0m79-2h0m17-1h0m22 8h0m81-8h0m0 19h0m-80-1h0m-105 2h0m-30-2h0m67 10h0m32 4h0m10 1h0m16 2h0m30 2h0m-37 3h0m-32 4h0m-29-3h0m-27-1h0m-44-1h0m-70 15h0m45 0h0m19-4h0m9-1h0m116 6h0m69 3h0m30-8h0m4-1h0m13 18h0m-45-3h0m-17-4h0m-53 9h0m-4-6h0m-6-3h0m-36 11h0m-43-5h0m-15 2h0m-65 3h0m-11 1h0m24 11h0m30-2h0m18 2h0m48-1h0m2 0h0m41-6h0m117-3h0m1 11h0m-25 6h0m-72 5h0m-50-3h0m-79-2h0m-7 4h0m-13-2h0m31 6h0m5 5h0m49 2h0m121-1h0m44 3h0m-51 2h0m-76 6h0m-7 2h0m-111-6h0m-72 1h0m8 8h0m28 7h0m152-1h0m55-4h0m8 6h0m8 2h0m34-7h0m28 1h0m-38 16h0m-51-8h0m-21 3h0m-107-1h0m-26 0h0m-54 0h0m-9 13h0m13 7h0m4-10h0m26 3h0m2 6h0m17-3h0m24-6h0m49 6h0m40 5h0m16 0h0m118-4h0m2-6h0m-18 13h0m-46 3h0m-22 0h0m-36-1h0m-4 6h0m-10-8h0m-136 1h0m-21 8h0m-23 10h0m28-9h0m56 2h0m71 3h0m71 5h0m38-4h0m28 3h0m10-5h0m15 5h0m-22 10h0m-69 4h0m-22-4h0m-34-5h0m-83 9h0m-37-5h0m-35 0h0m35 6h0m10 0h0m45 10h0m15-3h0m20 1h0m86-7h0m43 10h0m22-2h0m-11 13h0m-14-1h0m-43-8h0m-111 6h0m-79 3h0m-13 1h0m96 11h0m24-4h0m135 1h0m6-1h0m-85 13h0m-158 3h0m-6 4h0m94 6h0m42 1h0m19-9h0m35 2h0m80 3h0" stroke="#d2352d" stroke-width="4.5"/><path d="M264 -8h0m-1 3h0m-103 2h0m-156 13h0m22-6h0m41 4h0m47-3h0m42 3h0m66-7h0m30 6h0m51 0h0m-2 12h0m-41-3h0m-16 4h0m-75 2h0m-107 1h0m-18-7h0m81 13h0m57-3h0m13-1h0m51 7h0m22-2h0m4 1h0m33-2h0m-98 13h0m-27-3h0m-32 5h0m-25 2h0m-15-3h0m-10 1h0m-64-5h0m51 10h0m53 8h0m84-4h0m-63 15h0m-18 0h0m-23-8h0m-119 9h0m100 9h0m117-5h0m78 15h0m-27 2h0m-43-5h0m-23 9h0m-29-7h0m-48 5h0m-13-3h0m-79 3h0m-15-4h0m-22-3h0m12 12h0m61 9h0m22-2h0m25-8h0m17 9h0m14-5h0m23 13h0m-134-5h0m-4 6h0m-20 2h0m43 12h0m9-7h0m110 9h0m22-8h0m27 1h0m58 7h0m39-1h0m-29 7h0m-4 1h0m-73 5h0m-8-9h0m-39 5h0m-29-4h0m-57-1h0m-20 7h0m-56 7h0m6 4h0m33-2h0m44-5h0m69 1h0m17 6h0m82-3h0m42 8h0m-46 8h0m-78 1h0m-26-3h0m-26 0h0m-15-6h0m-112 3h0m80 14h0m7 4h0m50-8h0m15 7h0m27-4h0m15 1h0m48 3h0m52 2h0m11-10h0m19 21h0m-94 1h0m-3-1h0m-30 0h0m-67-1h0m-19-4h0m-21 5h0m-92 8h0m16 1h0m150 4h0m121-3h0m22 1h0m7 12h0m-8-5h0m-78 1h0m-65 5h0m-50-7h0m-80-1h0m-35 1h0m87 13h0m90 5h0m39-6h0m49 2h0m19-4h0m15 5h0m2 10h0m-7 1h0m-77 7h0m-49-3h0m-24-3h0m-13-2h0m-3 8h0m-29-6h0m-8 2h0m-68 1h0m-21 14h0m11-9h0m51 1h0m90 1h0m67 7h0m42-10h0m31 10h0m-45 6h0m-63 3h0m-100-7h0m-81 10h0m17 5h0m21 1h0m93-4h0m8 11h0m15-10h0m4 4h0m17-5h0m123 6h0m19 14h0m-81-2h0m-16-6h0m-85 7h0m-9-1h0m-48 2h0m-81 8h0m40 6h0m27-3h0m19 3h0m11-10h0m24 9h0m38-8h0m60 1h0m41 3h0m0 5h0m17-5h0m48-5h0m-43 14h0m-116 8h0m-25-3h0m-113 11h0m91-5h0m101 9h0m32-4h0m2 3h0" stroke="#d2352d" stroke-width="5"/><path d="M319 -2h0m-181-2h0m-38 2h0m-17 13h0m25-9h0m49 9h0m9-9h0m99 3h0m42-3h0m-13 15h0m-99-2h0m-14 2h0m-90 1h0m-66 11h0m1 3h0m139-5h0m144 13h0m-74 0h0m-105-3h0m-76 5h0m-9 14h0m28-1h0m34 0h0m125 4h0m44-7h0m-10 8h0m-15 2h0m-168 5h0m-17-3h0m-65 18h0m34 0h0m214 12h0m-35-8h0m-25 0h0m-40 2h0m-78 1h0m-18-5h0m-3 13h0m6 5h0m88-3h0m21 8h0m11-6h0m5 6h0m131 8h0m-101 0h0m-160-4h0m-16 7h0m-32 2h0m85 10h0m77-7h0m16 1h0m84 17h0m-39 0h0m-68-8h0m-85 2h0m-32 14h0m11-5h0m150 6h0m89-3h0m-280 23h0m36 2h0m184-3h0m25 3h0m33-3h0m-49 22h0m-12-7h0m-23 0h0m-28 0h0m-12 2h0m-144 10h0m17 7h0m22-10h0m13 0h0m148 10h0m69-6h0m-25 17h0m-29-3h0m-36 4h0m-14-1h0m-65-5h0m-84 11h0m109-2h0m116 6h0m51 6h0m-121 3h0m-88 6h0m-92 8h0m35 4h0m207-2h0m1-5h0m-4 17h0m-51 1h0m-182-3h0m80 13h0m182-2h0m35 9h0m-38 3h0m-76 4h0m-13-7h0m-43 5h0m-36-3h0m-69-2h0m-15 17h0m21-2h0m7-5h0m179 9h0m38 12h0m-149-2h0m-56-2h0m-1 5h0m-70 0h0m191 8h0m10-2h0m11 0h0m64 0h0" stroke="#d2352d" stroke-width="5.5"/><path d="M178 13h0m70 13h0m50 46h0m-38 144h0m-155 67h0m90 16h0m-178 5h0" stroke="#f3eff5" stroke-width="6.5"/><path d="M264 5h0m-188 11h0m117 91h0m-114 4h0m-53 136h0m201 37h0m-128-5h0" stroke="#f3eff5" stroke-width="7"/><path d="M280 26h0m6 12h0m-198 34h0m141 36h0m-47 124h0m-110 78h0" stroke="#f3eff5" stroke-width="7.5"/><path d="M27 38h0m101 39h0m155 53h0m-101 42h0" stroke="#f3eff5" stroke-width="8"/><path d="M5 55h0m73 27h0m-72 108h0m86 42h0m70 10h0m126 11h0m-269 22h0m180 27h0" stroke="#f3eff5" stroke-width="8.5"/><path d="M266 61h0m-209 57h0m154 110h0m0 62h0" stroke="#f3eff5" stroke-width="9"/><path d="M189 38h0m115 45h0m-168 42h0m83 112h0m-48 28h0" stroke="#f3eff5" stroke-width="9.5"/><path d="M48 20h0m42 22h0m-33 16h0m221 27h0m-108 11h0m-85 214h0" stroke="#f3eff5" stroke-width="10"/><path d="M162 7h0m20 52h0m-124 124h0m-19 53h0m-34 53h0" stroke="#f3eff5" stroke-width="10.5"/><path d="M64 31h0m186 8h0m-31 122h0m-192-1h0m147 23h0m-120 59h0m52 10h0m-78 3h0m248 26h0" stroke="#f3eff5" stroke-width="11"/><path d="M56 38h0m224 51h0m-20-2h0m-193 38h0m-12 93h0m187 59h0" stroke="#f3eff5" stroke-width="11.5"/><path d="M177 12h0m58 80h0m23 123h0m-242 9h0m88 58h0m89 16h0m-177 5h0" stroke="#d0302a" stroke-width="6"/><path d="M278 11h0m-31 14h0m49 46h0m-191 60h0m172-1h0m17 124h0m-196 24h0m-16 22h0" stroke="#d0302a" stroke-width="6.5"/><path d="M263 4h0m-189 11h0m211 22h0m-208 12h0m10 22h0m-71 0h0m246 3h0m-195 33h0m125-1h0m35 1h0m-150 2h0m94 21h0m9 101h0m-155 15h0m200 37h0m-227-2h0" stroke="#d0302a" stroke-width="7"/><path d="M141 1h0m-67 14h0m204 10h0m-17 17h0m-235-5h0m100 38h0m74 43h0m-149-1h0m231 12h0m-34 10h0m-68 32h0m24 61h0m39 10h0m-210 53h0m38 13h0" stroke="#d0302a" stroke-width="7.5"/><path d="M45 89h0m54 11h0m-95 89h0m73 14h0m13 27h0m71 11h0m126 11h0m-285 16h0m15 6h0m62 5h0m-8-1h0m-31 4h0m237 12h0m-80 6h0" stroke="#d0302a" stroke-width="8"/><path d="M35 33h0m-31 21h0m260 6h0m-188 20h0m115 36h0m-135 1h0m153 109h0m-176 17h0m176 46h0" stroke="#d0302a" stroke-width="8.5"/><path d="M187 36h0m115 45h0m-178 48h0m11-6h0m21 37h0m79 75h0m-18 0h0m-20 18h0m60 42h0" stroke="#d0302a" stroke-width="9"/><path d="M46 18h0m42 22h0m-39 10h0m6 6h0m221 27h0m-5 1h0m-103 10h0m106 39h0m-105 130h0m-117 8h0m31 37h0" stroke="#d0302a" stroke-width="9.5"/><path d="M160 5h0m-98 24h0m118 28h0m112 37h0m-17 93h0m-219-6h0m-19 54h0m16 12h0m184-2h0m-234 43h0" stroke="#d0302a" stroke-width="10"/><path d="M289 8h0m-41 29h0m10 48h0m-8 37h0m-240 29h0m49-1h0m158 9h0m-192-1h0m147 23h0m-120 59h0m7 6h0m45 4h0m-78 3h0m248 27h0m-254-3h0m66 31h0" stroke="#d0302a" stroke-width="10.5"/><path d="M54 36h0m224 51h0m-32 6h0m-182 30h0m93 60h0m-66 28h0m-38 6h0m187 59h0" stroke="#d0302a" stroke-width="11"/></g></g>
<clipPath id="c9"><rect width="306" height="306"/></clipPath>
<g transform="translate(1791 1395.4)" clip-path="url(#c9)"><g filter="url(#bl)" stroke-linecap="round" fill="none"><rect x="-2" y="-2" width="310" height="310" fill="#b2c6d8"/><path d="M188 -1h0m-51-5h0m-21 5h0m-57 8h0m54-6h0m32 1h0m64 6h0m74 5h0m0 5h0m-40 2h0m-4 0h0m-55-5h0m-64 6h0m-57-2h0m-56 6h0m2 7h0m14-2h0m16 3h0m226 2h0m24 2h0m-11 2h0m-52 2h0m-23 1h0m-32 5h0m-142-10h0m-10 10h0m-18 9h0m76 0h0m22 2h0m30 0h0m67-9h0m66 5h0m-14 15h0m-89 0h0m-33-1h0m-3 3h0m-24-7h0m-8-3h0m-14 9h0m-30-3h0m-21-4h0m-14 3h0m41 11h0m6 2h0m68-4h0m163-2h0m21 7h0m1-5h0m-10 18h0m-3-3h0m-10-6h0m-27 8h0m-63-8h0m-91 5h0m-20 0h0m-56-4h0m-28 17h0m17-6h0m74 6h0m19 2h0m70 0h0m43 0h0m53-2h0m11-2h0m-15 10h0m-10 5h0m-124 1h0m-4-8h0m-13 11h0m-61-1h0m50 11h0m89 0h0m22-3h0m4-2h0m24-1h0m32 20h0m-27 0h0m-34-4h0m-48-1h0m-24-3h0m-42-1h0m-21-2h0m-32 8h0m48 5h0m32-1h0m24 10h0m5-3h0m51 1h0m84 13h0m-10-8h0m-10 4h0m-22 0h0m-64 4h0m-36-3h0m-134-3h0m-28-1h0m35 17h0m32-6h0m36-1h0m17 1h0m23 10h0m47-7h0m5-2h0m16 2h0m6 7h0m5-2h0m14-1h0m6-4h0m1 7h0m21 4h0m-18 4h0m-20 4h0m-22 0h0m-35-6h0m-22-1h0m-56 4h0m-9 2h0m-24-8h0m-26 0h0m-26 18h0m8-1h0m6-1h0m5-2h0m3-4h0m8 2h0m15 7h0m25-1h0m79-7h0m3 8h0m19-6h0m2 7h0m19-4h0m8-4h0m12 9h0m2-8h0m-54 14h0m-32 2h0m-57-2h0m-42 5h0m53 4h0m104 1h0m77 12h0m-76-1h0m-30 3h0m-49-1h0m-9 3h0m-48-5h0m82 19h0m26-6h0m24-1h0m123 5h0m-4 5h0m0 10h0m-153-7h0m-10 4h0m-18 4h0m-26-11h0m-1 0h0m-69 12h0m18 2h0m106 2h0m69 4h0m75-1h0m3 1h0m-8 9h0m-18-4h0m-20 5h0m-128 0h0m-6 0h0m-10-3h0m-14-2h0m-54 8h0m1 13h0m14-6h0m73 0h0m46 4h0m38 1h0m51-7h0m7 2h0m-29 17h0m-68 0h0m-5-2h0m-26 2h0m-30-9h0m-20 11h0m-25-7h0m-6 1h0m-4 0h0m-62 1h0m26 6h0m20 3h0m25-1h0m60-1h0m161 3h0" stroke="#bcaecb" stroke-width="6.5" stroke-opacity="0.75"/><path d="M289 -5h0m-24-1h0m-9 5h0m-3-2h0m-127 2h0m-92-4h0m-23 0h0m17 10h0m104 2h0m85-7h0m17 10h0m9-4h0m10-4h0m13 9h0m12-5h0m8 15h0m-9-8h0m-43 2h0m-34 8h0m-39-5h0m-36-4h0m-43 4h0m-44 5h0m26 8h0m7 1h0m9-4h0m5 1h0m61 3h0m17-1h0m16-5h0m9 2h0m12 0h0m14-1h0m9-1h0m8-1h0m29 2h0m43 6h0m13-8h0m-22 12h0m-11 1h0m-94 3h0m-11-4h0m-24 2h0m-13-1h0m-12 8h0m-15-6h0m-44 3h0m-2 4h0m-11-9h0m-44 2h0m-9 3h0m-9 7h0m25 6h0m76-4h0m15 3h0m70-4h0m5 1h0m37-1h0m56 7h0m17-3h0m-21 10h0m-76-4h0m-5 6h0m-12-1h0m-37 5h0m-8-6h0m-25 1h0m-30-5h0m-23 4h0m-24-2h0m-15 1h0m-17-4h0m-8 22h0m10-5h0m72 4h0m36-6h0m12 5h0m13-5h0m12 0h0m63 6h0m5-2h0m96-2h0m-46 8h0m-13 4h0m-7 3h0m-76-4h0m-8 2h0m-21 3h0m-4-9h0m-63 5h0m0 2h0m-30-5h0m-12-2h0m-2 0h0m-32 23h0m100 0h0m97-8h0m3-2h0m12 10h0m14-11h0m61 0h0m6 7h0m-26 13h0m-50-8h0m-52 5h0m-10 2h0m-50 3h0m-3-2h0m-45 3h0m-13 5h0m16 0h0m23-2h0m16 9h0m13-9h0m12 7h0m19-4h0m8 5h0m21-5h0m2-2h0m8 4h0m18-7h0m13 11h0m92-2h0m2 14h0m-25-10h0m-32 2h0m-35 2h0m-15-3h0m-40 7h0m-62-1h0m-28-5h0m-55 19h0m2-5h0m61 1h0m39-4h0m3 7h0m28-7h0m29 1h0m141 17h0m-52 2h0m-38-10h0m-38 2h0m-8 3h0m-17-4h0m-18 0h0m-13 5h0m-13-3h0m-14 8h0m-72-5h0m-12 3h0m-12-5h0m22 14h0m37-5h0m2 1h0m8 3h0m28-3h0m3-2h0m6 3h0m22 2h0m22-2h0m65-1h0m53 8h0m20-3h0m3 4h0m14-4h0m-9 11h0m-53 2h0m-1 2h0m-8-10h0m-17 5h0m-54-3h0m-55 5h0m-6-2h0m-9-4h0m-4 10h0m-87-8h0m-1 8h0m-16 4h0m64 4h0m13-7h0m84 2h0m97 1h0m13 6h0m41 3h0m-9 3h0m-95 7h0m-25-2h0m-4 3h0m-4-8h0m-2 2h0m-22-1h0m-36 7h0m-14 0h0m-1-8h0m-93 5h0m7 6h0m3 7h0m31-8h0m24 6h0m4-4h0m10-3h0m17 11h0m31-2h0m30-7h0m49 0h0m40 1h0m4 8h0m39 0h0m6-10h0m-26 21h0m-17-7h0m-11 6h0m-40 1h0m-35 0h0m-9-3h0m-22-5h0m-26 6h0m-27-7h0m-66 10h0m34 4h0m10 2h0m13 2h0m73-4h0m1 8h0m56-10h0m11 7h0m11-3h0m19 0h0m1 0h0m2 6h0m21 0h0m12 3h0m-14 9h0m-63-1h0m-18-4h0m-56 3h0m-22-9h0m-6 9h0m-7 0h0m-11 2h0m-73-7h0m59 11h0m66 5h0m11 0h0m27-7h0m5 2h0m59 5h0m30 2h0m41-3h0m-7 8h0m-26 8h0m-24-2h0m-95 1h0m-3-4h0m-3-1h0m-39 0h0m-15 4h0m-40-8h0m-45-1h0m-15 10h0m0 8h0m21 4h0m28-4h0m30 5h0m33-1h0m40-7h0m42-1h0m29 7h0m2-8h0m16 2h0m65 6h0m13 3h0m-50 4h0m-76 1h0m-10 2h0m-110-1h0m-77 10h0m15-2h0m19-1h0m110 5h0m27-3h0m37-1h0m21 3h0m11-2h0" stroke="#bcaecb" stroke-width="7" stroke-opacity="0.75"/><path d="M273 -6h0m-42 1h0m-9 4h0m-153 0h0m-5-2h0m-64-2h0m34 13h0m16-4h0m42-1h0m89 6h0m34-6h0m44-3h0m50 6h0m9-2h0m-30 13h0m-16 1h0m-37-1h0m-43 0h0m-8 6h0m-17-11h0m-64 6h0m-86 6h0m25 9h0m27 0h0m26 1h0m44-2h0m4-7h0m30 4h0m77 6h0m16-11h0m48 19h0m-15 3h0m-27-8h0m-72 3h0m-35-4h0m-22 0h0m-15 6h0m-66-5h0m-45-1h0m-15 9h0m-4-7h0m14 17h0m43-4h0m31 3h0m54-7h0m33 7h0m20 1h0m5 1h0m29-4h0m76 4h0m-28 14h0m-25-7h0m-26 3h0m-20-3h0m-39-1h0m-12 2h0m-69 2h0m-75 6h0m0 5h0m96-2h0m28 5h0m13-7h0m0 6h0m13 0h0m49 1h0m9-8h0m35 0h0m12 9h0m38-9h0m-18 21h0m-40-4h0m-25-3h0m-4 6h0m-13 0h0m-45-1h0m-3-2h0m-3 3h0m-50-1h0m-50 1h0m63 4h0m28 1h0m3 2h0m108 2h0m14-2h0m12-1h0m25 2h0m5 8h0m-15-1h0m-23 1h0m-13 6h0m-18-5h0m-9 7h0m-2-3h0m-9 2h0m-13-2h0m-27 0h0m-31-1h0m-52-4h0m-58 6h0m-12-5h0m-22 3h0m-8 0h0m13 12h0m1-4h0m54 1h0m10 9h0m19-4h0m22 4h0m32-6h0m11-3h0m6 6h0m59-8h0m38 8h0m18-8h0m37 14h0m-111-2h0m-49 11h0m-5-2h0m-10-3h0m-7-1h0m-51-2h0m-26 8h0m-39-9h0m-20 6h0m3 5h0m22 10h0m38-10h0m13-1h0m92 4h0m72-3h0m5 4h0m24-3h0m4 7h0m26-2h0m6-3h0m-46 17h0m-39-9h0m-17 9h0m-1-9h0m-28 5h0m-43-5h0m-20 3h0m-14 2h0m-49 1h0m-37 14h0m19-8h0m40 0h0m91 8h0m9-2h0m4-6h0m33 10h0m2-9h0m9 0h0m60 4h0m27 16h0m-28 2h0m-4-9h0m-4-2h0m-45 5h0m-39 2h0m-37-7h0m-13 6h0m-29-3h0m-84 1h0m-10 0h0m-13-4h0m44 21h0m184 2h0m8-6h0m15 2h0m57 0h0m-14 12h0m-26 1h0m-84-2h0m-34-4h0m-29 5h0m-12 2h0m-8 2h0m-76-9h0m11 13h0m74-1h0m13 7h0m20-8h0m22-1h0m62 2h0m4 3h0m28 0h0m33 8h0m-27 9h0m-27 1h0m-2-3h0m-16-8h0m-11 2h0m-27 3h0m-30 5h0m-4-2h0m-12-3h0m-9-2h0m-16 4h0m-27-1h0m-3 0h0m3 8h0m3-2h0m5 9h0m29-1h0m33-2h0m18 3h0m8 1h0m1-10h0m15 8h0m7-7h0m105 4h0m7-3h0m0 16h0m-18-3h0m-6 0h0m-11 2h0m-29 6h0m-35-7h0m-11-3h0m-14 3h0m-117-1h0m-6 3h0m-6-1h0m-8 2h0m-9-1h0m-14-2h0m-9-1h0m-13 3h0m6 8h0m0 5h0m16-3h0m69 1h0m13-3h0m107 0h0m100 8h0m-9 5h0m-39 5h0m-24-3h0m-16-3h0m-5 6h0m-34-1h0m-24 3h0m-104-5h0m-10-4h0m-9 1h0m-17 5h0m-21-5h0m-5 18h0m4-7h0m7 6h0m21-1h0m36 4h0m10-10h0m26 6h0m39-6h0m14 11h0m20-4h0m30-4h0m8 0h0m36 7h0m2 1h0m1-5h0m7 3h0m44-3h0m8-3h0m-2 13h0m-7-2h0m-31-1h0m-13 3h0m-2 4h0m-22-4h0m-55 4h0m-44-8h0m-38 6h0m-38 3h0m-18-6h0m-43 0h0m0 8h0m80 1h0m10 3h0m57-1h0m24 4h0" stroke="#bcaecb" stroke-width="7.5" stroke-opacity="0.75"/><path d="M107 -2h0m-4 1h0m-51-4h0m-56 6h0m23 4h0m7 0h0m47 1h0m17 1h0m27-3h0m47-4h0m35 9h0m13-5h0m37 5h0m42-7h0m7 2h0m18 11h0m-11 7h0m-6-8h0m-77 4h0m-57 4h0m-70-4h0m-2 2h0m-30 1h0m-20-8h0m44 13h0m37-2h0m35 1h0m43 6h0m30-2h0m76 2h0m-43 14h0m-24-8h0m-4 8h0m-4 0h0m-67 0h0m-14 2h0m-5-3h0m-32-7h0m-21 2h0m-49 7h0m-20-4h0m-16-1h0m21 17h0m2-9h0m10 4h0m29 0h0m71 2h0m3 1h0m15-1h0m4-4h0m75 2h0m64-4h0m13 3h0m-44 11h0m-41 8h0m-5-10h0m-10 5h0m-25-3h0m-16 0h0m-7 5h0m-141-3h0m-8 2h0m8 10h0m11 1h0m18 2h0m60 0h0m78-7h0m17-1h0m11 0h0m25 9h0m15-7h0m12 3h0m27 6h0m10 3h0m-1 6h0m-32-7h0m-21 6h0m-12 1h0m-8-8h0m-98 5h0m-39-5h0m-38 1h0m-65 6h0m-2-2h0m5 15h0m1-7h0m17 2h0m14 2h0m16-1h0m14 6h0m3-2h0m62-4h0m38 0h0m58 2h0m27 4h0m34 1h0m4-1h0m18-3h0m1 16h0m-17-4h0m-61-6h0m-58 5h0m-27 5h0m-99-10h0m0 2h0m-35 2h0m34 17h0m10 1h0m17-5h0m93-3h0m46 2h0m24-3h0m26 5h0m27 3h0m10-6h0m7 14h0m-5-5h0m-8-1h0m-24 10h0m-3-5h0m-20 1h0m-34 4h0m-10 0h0m-9-8h0m-7 3h0m-72 3h0m-5 0h0m-104-2h0m-3 16h0m12-3h0m21 4h0m32-9h0m24-2h0m9 11h0m1-11h0m70 1h0m11 9h0m26-2h0m5-5h0m73 16h0m-43-6h0m-72 6h0m-97 2h0m-28-6h0m-41 7h0m19 13h0m46-3h0m27-8h0m2 4h0m5-3h0m5 10h0m25-10h0m40 2h0m109 0h0m-14 18h0m-12 2h0m-16-1h0m-33-6h0m-28 4h0m-10 3h0m-27-4h0m-13-7h0m-50 3h0m-2-2h0m-12 0h0m-7 8h0m-7 2h0m-44-2h0m-9-6h0m104 13h0m12 4h0m74 1h0m8 0h0m16-2h0m10-2h0m23 5h0m31-1h0m10 3h0m-101 0h0m-22 10h0m-119 12h0m5-7h0m65 8h0m20-1h0m17-8h0m30 0h0m59 7h0m3-2h0m20 3h0m35 1h0m12 6h0m-19 2h0m-21-4h0m-21 5h0m-58 3h0m-84-6h0m-29 2h0m-8 4h0m-2-8h0m-20-2h0m-13-1h0m-14 11h0m-15-2h0m0 6h0m26 3h0m9-6h0m9 0h0m22 11h0m105-10h0m36 3h0m19 4h0m9-7h0m72 20h0m-8-3h0m-43-3h0m-18 4h0m-28-4h0m-10 2h0m-31-2h0m-28 0h0m-48 0h0m-36-2h0m-63 21h0m3-8h0m38 4h0m2-5h0m28 3h0m49 6h0m11 0h0m2-1h0m34 2h0m20-11h0m45 6h0m8-4h0m17-1h0m0 8h0m32-5h0m27-4h0m-67 13h0m-177 1h0m-24-1h0m-12 2h0m-16 7h0m-18-6h0m13 18h0m13-7h0m117 5h0m25-6h0m19 2h0m2 1h0m14 0h0m6-1h0m41-4h0m24 19h0m-59 0h0m-7-5h0m-57 3h0m-3 3h0m-33 0h0m-28-7h0m-7 0h0m-1 8h0m-84-7h0m18 15h0m45-1h0m59-4h0m42 5h0m35-1h0m89-4h0" stroke="#bcaecb" stroke-width="8" stroke-opacity="0.75"/><path d="M294 -2h0m-103-2h0m-15-1h0m-54-1h0m-27 2h0m-10-1h0m-34 3h0m-44 8h0m2 2h0m57 0h0m14 0h0m5-8h0m24 2h0m18 9h0m9-11h0m13 10h0m124-5h0m39-5h0m-40 20h0m-15-5h0m-106-2h0m-40 7h0m-7-4h0m-3-3h0m-20 9h0m-67-9h0m16 17h0m70 5h0m12-3h0m5-4h0m1 7h0m7-6h0m8 4h0m56-3h0m18 5h0m5-11h0m65 6h0m13 13h0m-11-3h0m-36 4h0m-33 1h0m-36-7h0m-48-1h0m-44-1h0m-39 6h0m-15 2h0m55 10h0m47 2h0m19 3h0m28 0h0m33-7h0m23 6h0m19-3h0m26-4h0m2 3h0m9 0h0m-5 9h0m-41 4h0m-3-2h0m-8-5h0m-13 2h0m-42 9h0m-71-11h0m-11 7h0m-8 2h0m-1-9h0m-86 4h0m-4 4h0m2 7h0m16 4h0m11 3h0m18 0h0m5-3h0m26-6h0m7 7h0m2-5h0m5 4h0m8-3h0m4 0h0m6 6h0m52-5h0m74 1h0m6-5h0m17 6h0m58-1h0m-15 6h0m-45 6h0m-14-5h0m-11 0h0m-16 4h0m-16-2h0m-81 1h0m-14 1h0m-7 5h0m-2-9h0m-52 0h0m-1 7h0m-7 0h0m-38 15h0m31-3h0m31-4h0m8-3h0m24-1h0m2 7h0m19-5h0m40 8h0m28-6h0m16-4h0m16 1h0m12 5h0m25 5h0m15-5h0m0 3h0m39 13h0m-93 0h0m-9-8h0m-22 8h0m-13-8h0m-10 7h0m-18-8h0m-41 9h0m-22-5h0m-37-5h0m-7 7h0m-24 7h0m72 0h0m4 4h0m10-2h0m10 5h0m4 0h0m147-1h0m19 1h0m36 3h0m-33 8h0m-44-3h0m-4 6h0m-47-8h0m-18-2h0m-93 6h0m-18 2h0m-18-7h0m-19 3h0m-16 11h0m10 4h0m30-8h0m7 4h0m0 4h0m12 2h0m8-4h0m4 4h0m23-3h0m35 4h0m26-10h0m22 5h0m35-2h0m1 2h0m21 1h0m1-2h0m45-5h0m42 9h0m-7 7h0m-6-1h0m-8 5h0m-3-8h0m-2 0h0m-115 4h0m-79 2h0m-30-4h0m-32 5h0m-23 3h0m-4 0h0m12 6h0m18 2h0m3 2h0m6-5h0m9 1h0m23 6h0m5-9h0m27 2h0m8 5h0m45 0h0m32 2h0m69-6h0m24 4h0m-1 15h0m-29-11h0m-1 1h0m-10 7h0m-60-1h0m-29-2h0m-44-4h0m-49 1h0m-20-1h0m-13 1h0m-5-1h0m-15 8h0m52 4h0m4 10h0m56-7h0m6-2h0m45 2h0m32-2h0m61 8h0m45 13h0m-2-8h0m-20 6h0m-21-4h0m-33-5h0m0 4h0m-1 7h0m-36-10h0m-1 4h0m-11 4h0m-56-6h0m-34-2h0m-37-1h0m-25 0h0m-2 6h0m-39 14h0m26-7h0m35 7h0m26 2h0m12-5h0m11 2h0m85 3h0m7-7h0m71 0h0m0 2h0m31 5h0m8 12h0m-4-7h0m-59 0h0m-21 6h0m-27-2h0m-61 1h0m-17-3h0m-24-5h0m-22 1h0m-30 3h0m-32 2h0m-17-1h0m0 16h0m77-8h0m41 8h0m16 2h0m9-2h0m32-7h0m54 1h0m63 6h0m-38 10h0m-118 0h0m-18-5h0m-7 5h0m-14-2h0m-1-2h0m-55-3h0m-21 9h0m-20 11h0m54-4h0m32-1h0m4 1h0m15 6h0m25-1h0m33-3h0m1 3h0m8-4h0m42-2h0m57-1h0m11 2h0m10 7h0m25-6h0m1 13h0m-16-1h0m-18 3h0m-17-6h0m-35 0h0m-13 0h0m-35 8h0m-3-10h0m-2 2h0m-40 6h0m-53 14h0m16-4h0m0 5h0m1-7h0m6 6h0m13-7h0m0 4h0m68 2h0m10-6h0m54 8h0m8-7h0m38 12h0m-71 2h0m-20-4h0m-45 7h0m-110 2h0m-8-3h0m-23 2h0m-17 4h0m106 0h0m93 0h0m73-1h0m4 2h0m33-3h0" stroke="#bcaecb" stroke-width="8.5" stroke-opacity="0.75"/><path d="M284 -2h0m-9 0h0m-118-3h0m-131 4h0m-3 10h0m27 2h0m50-7h0m62-4h0m25 3h0m39 3h0m41 2h0m29 5h0m-69-1h0m-21 9h0m-4-2h0m-33-3h0m-25-1h0m-11 8h0m-27-11h0m-5 11h0m-45-9h0m-22 0h0m-4-1h0m-27 0h0m6 22h0m85-5h0m59 0h0m29-6h0m36 0h0m20 10h0m70-10h0m4 4h0m-1 10h0m-14 7h0m-28-2h0m-17-2h0m0 5h0m-35-9h0m-4-1h0m-11 11h0m-121-6h0m-21 0h0m-9 1h0m-5 5h0m-7 10h0m37-7h0m15 2h0m54-1h0m14-1h0m6 4h0m23 3h0m14-2h0m41-5h0m41 0h0m-13 17h0m-35-2h0m-52-2h0m-48 2h0m-69 0h0m-28 2h0m-27-6h0m-11 5h0m43 9h0m5 3h0m39-3h0m44 1h0m18 4h0m27-3h0m54 6h0m40-4h0m11 4h0m15-6h0m16 9h0m-89 4h0m-36 3h0m-2-4h0m-17 5h0m-36 1h0m-12-4h0m-87 0h0m-17-6h0m-9 22h0m1-3h0m28 0h0m33-2h0m32-2h0m20-4h0m5 10h0m43-6h0m25 6h0m9-1h0m5-4h0m25 3h0m3-8h0m8 2h0m9 2h0m6 6h0m33-9h0m24 18h0m-37-4h0m-5 4h0m-39-3h0m-38 3h0m-28-5h0m-37 3h0m-57-3h0m-6 4h0m-24-4h0m-22 19h0m15 0h0m9-8h0m52 1h0m91 6h0m49-2h0m35-5h0m23-1h0m2 10h0m11-1h0m5 12h0m-46-8h0m-68 9h0m-18 1h0m-20-5h0m-34-6h0m-9 9h0m-30-2h0m-19 2h0m-26-6h0m-11 4h0m-28-6h0m-3-1h0m-7 2h0m51 14h0m92 4h0m13 1h0m134 13h0m-11-4h0m-4 0h0m-7-5h0m-34 10h0m-19-7h0m-31 3h0m-35 0h0m-86-4h0m-7-3h0m-40 0h0m-12 5h0m-2 3h0m-4 11h0m6-2h0m96 5h0m34-6h0m12-3h0m10 3h0m44-4h0m35 3h0m19 2h0m38-3h0m11 2h0m5 16h0m-7-8h0m-5 2h0m-44 0h0m-15 2h0m-162 4h0m-30-2h0m-27 16h0m13-2h0m25 1h0m40-2h0m25-2h0m16 4h0m4-4h0m158 2h0m12-7h0m-4 20h0m-5 3h0m-22-11h0m0 11h0m-14-10h0m-30 2h0m-10 4h0m-7 4h0m-8-5h0m-111 0h0m-43 1h0m-2-6h0m-3 4h0m-2-1h0m-35-3h0m0 7h0m-6-7h0m-7 9h0m-4 1h0m32 4h0m0 6h0m51-3h0m51-2h0m14 2h0m1-4h0m83 6h0m5-1h0m30-5h0m21 5h0m5-6h0m29 11h0m-19 6h0m-14-4h0m-33 2h0m-19-3h0m-107 6h0m-86 2h0m-19-5h0m-1-1h0m-10 12h0m30 2h0m17 3h0m58-3h0m24-4h0m20 8h0m30-9h0m3 3h0m74 4h0m15 4h0m2 10h0m-11-2h0m-13 0h0m-81-1h0m-21-4h0m-11-1h0m-20 3h0m-71 7h0m-60 3h0m59 2h0m41 3h0m11-7h0m81 3h0m56-1h0m5 5h0m17-4h0m29-3h0m-34 13h0m-23-1h0m-24 8h0m-47 3h0m-56-3h0m-17-1h0m-46 0h0m-25-3h0m-13-1h0m3 11h0m114 9h0m39-6h0m15-5h0m61 10h0m62 8h0m-15 0h0m-4 0h0m-1-2h0m-17 6h0m-25 1h0m-8-2h0m-36-7h0m-89 8h0m-17-2h0m-25 2h0m-39 0h0m-16-5h0m66 12h0m21-4h0m4 0h0m24-1h0m51 5h0m43-4h0" stroke="#bcaecb" stroke-width="9" stroke-opacity="0.75"/><path d="M304 -3h0m-131 2h0m-98-1h0m-61-3h0m-8 2h0m-4 6h0m14 5h0m17-7h0m6-1h0m13 3h0m10-1h0m5 0h0m7 7h0m6-9h0m70 5h0m34 5h0m21-6h0m11 4h0m21-3h0m21 6h0m47-7h0m-30 19h0m-12-9h0m-22-1h0m-65 5h0m-12-4h0m-19 6h0m-11-3h0m-12-3h0m-8 2h0m-7 5h0m-12-8h0m-20 5h0m-6 3h0m-45 2h0m-4-7h0m-6 11h0m23 2h0m21-2h0m44 3h0m34 2h0m84-6h0m3 1h0m64 0h0m29 9h0m-15 4h0m-10 6h0m-94-9h0m-67 6h0m-27 1h0m-18 1h0m-8-3h0m-51-4h0m-29 0h0m-1 19h0m17-5h0m1 1h0m33 3h0m7-8h0m64 11h0m15 0h0m22-7h0m1 7h0m24-5h0m37-5h0m20-1h0m4 4h0m27 6h0m-2 3h0m-57 7h0m-11-3h0m-70-5h0m-71 2h0m-9-1h0m-9 2h0m-17 6h0m-4-9h0m53 15h0m20 7h0m168-9h0m12 0h0m8 8h0m23 9h0m-20-2h0m-75 2h0m-125-5h0m0 10h0m-13-11h0m-14 7h0m-2 4h0m-31-9h0m-10 1h0m31 13h0m64 6h0m10-1h0m0 1h0m19-3h0m15-4h0m11 7h0m29-2h0m11-3h0m112 9h0m-54 8h0m-48-4h0m-23-1h0m-11-3h0m-55 4h0m-7 2h0m-21-5h0m-10 1h0m-3 2h0m-25-5h0m-22 8h0m-39 3h0m17 4h0m16 3h0m8 4h0m138-1h0m44-5h0m56 1h0m5 1h0m12-5h0m-13 12h0m-39 4h0m-12-3h0m-2-3h0m-81 9h0m-17-3h0m-2-6h0m-29 8h0m-4-6h0m-32 8h0m-46-2h0m-7 9h0m24-3h0m74 9h0m5-4h0m22 4h0m90-1h0m17-2h0m2-2h0m9 3h0m13-5h0m28 0h0m5 0h0m3 5h0m18 9h0m-44 3h0m-67-8h0m-55 3h0m0 6h0m-24-3h0m-37 0h0m-7 4h0m-21 8h0m66-5h0m2 7h0m26-8h0m19 7h0m21-1h0m26 3h0m21-9h0m48 19h0m-73-5h0m-155 8h0m-30-3h0m-7 1h0m87 3h0m32 9h0m22 0h0m18-9h0m4 2h0m13 7h0m50 1h0m3 0h0m25-8h0m14 11h0m-9 2h0m-10 7h0m-110-7h0m-4-2h0m-22 9h0m-15-7h0m-6-1h0m-6 3h0m-23-5h0m-5 7h0m-43-6h0m-1 7h0m-20 11h0m29-1h0m18-5h0m20 4h0m53 2h0m36 4h0m6-9h0m12 9h0m59-4h0m24 1h0m4-5h0m26 2h0m0 4h0m-69 7h0m-65-2h0m-145 2h0m-17 2h0m54 8h0m67-1h0m62 7h0m26-5h0m15 6h0m23-8h0m17 9h0m3-4h0m26-3h0m5 12h0m-97-3h0m-15 4h0m-26 4h0m-25 1h0m-5 1h0m-23-4h0m-35 4h0m-18-1h0m-56 10h0m12-7h0m88 4h0m93 3h0m17 3h0m47-5h0m22-4h0m10 13h0m-52 1h0m-4 7h0m-38-9h0m-2 6h0m-3-3h0m-2-3h0m-109-1h0m-3 5h0m-32 4h0m-32-9h0m-24 4h0m25 11h0m28 1h0m8 3h0m18 4h0m33-10h0m12-1h0m14 0h0m14 10h0m48-1h0m19-3h0m29 2h0m26 14h0m-28-5h0m-12-5h0m-31 11h0m-16-6h0m-34 1h0m-21-4h0m-12 2h0m-18-2h0m-62 4h0m-31 1h0m43 10h0m67-4h0m67 5h0m27-1h0m21-2h0m22 3h0" stroke="#bcaecb" stroke-width="9.5" stroke-opacity="0.75"/><path d="M240 -4h0m-35-2h0m-6 1h0m-46 1h0m-154 14h0m143 0h0m144-8h0m-32 19h0m-24-9h0m-10 2h0m-11 1h0m-5-3h0m-35 1h0m-58-1h0m-26 4h0m-10 5h0m-35-2h0m-28-6h0m-7-1h0m-2 21h0m39-1h0m14-8h0m20 2h0m86 0h0m119 4h0m16-2h0m-31 19h0m-91-5h0m-16-5h0m-1 8h0m-111-9h0m-10 4h0m27 14h0m209-6h0m26 15h0m-9 4h0m-26 4h0m-124-4h0m-32 1h0m-7-2h0m65 8h0m18 3h0m12-4h0m27 10h0m23-4h0m46 8h0m-28 3h0m-92 1h0m-25 4h0m-132-4h0m213 5h0m85 21h0m-3-6h0m-159-2h0m-13 10h0m-21 0h0m-7-4h0m-67 6h0m46 1h0m70 6h0m98 9h0m-7 2h0m-79-2h0m-92 5h0m-16-8h0m9 21h0m72-3h0m141 4h0m-18 9h0m-84 3h0m35 5h0m21-4h0m31 2h0m37 5h0m10 1h0m-37 6h0m-6 4h0m-152 3h0m-19-4h0m-43 1h0m-6-7h0m-5 5h0m17 13h0m41-5h0m49 4h0m72-5h0m9 4h0m5 4h0m42 13h0m-88-7h0m-59-2h0m-24 4h0m-30 5h0m-67-2h0m103 9h0m11-3h0m88 8h0m27-5h0m67 14h0m-12 5h0m-1-3h0m-75-6h0m-38 0h0m-66 8h0m-117-6h0m30 14h0m69-3h0m3 2h0m17-3h0m123 9h0m-12 7h0m-7-6h0m-37 11h0m-22-4h0m-108 4h0m-7-4h0m-6-7h0m-9 8h0m-40-6h0m5 18h0m34 0h0m29-3h0m9-4h0m40 2h0m9 0h0m12 1h0m38 0h0m16 0h0m76 16h0m-27 0h0m-63-4h0m-36-3h0m-70 3h0m-62 2h0m22 14h0m24-1h0m82-2h0m3-1h0m24 6h0m134 0h0m11 9h0m-12 0h0m-148-4h0m-39-3h0m-56 10h0m-5-8h0m10 13h0m247 0h0m14 0h0" stroke="#bcaecb" stroke-width="10" stroke-opacity="0.75"/><path d="M303 -2h0m-23 0h0m-7-1h0m-29 1h0m-8 0h0m-2 0h0m-10 0h0m-8-1h0m-22 0h0m-4 2h0m-19 0h0m-9-2h0m-24 0h0m-5 2h0m-4 0h0m-12 0h0m-12-1h0m-27 1h0m-3 0h0m-13 0h0m-2 0h0m-14-1h0m-6 1h0m-6-2h0m-9 2h0m-4 0h0m-8-1h0m-3 1h0m-4-1h0m-3 0h0m-4 3h0m0 9h0m1-2h0m2-5h0m3-2h0m0 6h0m5-5h0m6 7h0m3-9h0m0 6h0m2 3h0m1-7h0m0 9h0m1-8h0m4 7h0m3-2h0m3 0h0m0 2h0m4-5h0m1-3h0m0 6h0m2-3h0m7-2h0m1 6h0m2-3h0m1-4h0m1 8h0m1-10h0m0 5h0m2 3h0m0 2h0m2-9h0m0 9h0m2-2h0m1 2h0m2-8h0m3 4h0m1-5h0m6 5h0m4-3h0m3-2h0m3 1h0m2-2h0m6 9h0m1-5h0m1-4h0m0 6h0m2-6h0m1 9h0m1-9h0m5 4h0m3 3h0m1 1h0m1-5h0m3-1h0m1-1h0m0 6h0m2-6h0m0 3h0m3 3h0m1-2h0m9 6h0m1-2h0m3-4h0m4-3h0m3-2h0m4 10h0m2-10h0m0 3h0m2 2h0m3-1h0m1 5h0m1-5h0m4 7h0m2-5h0m3-2h0m2 1h0m3 4h0m3-8h0m2 9h0m4 1h0m5-2h0m4-5h0m2 7h0m2-2h0m2-5h0m1-1h0m0 6h0m2-8h0m5 0h0m4 6h0m6-5h0m0 3h0m3 4h0m1-6h0m1 0h0m1-1h0m1 2h0m0 6h0m1-6h0m3-4h0m3 7h0m2-5h0m3-1h0m1 5h0m2 0h0m1 1h0m0 4h0m3-8h0m0 7h0m4-7h0m0 5h0m3 0h0m2-5h0m4-3h0m3 0h0m0 3h0m4 8h0m5-10h0m1 3h0m1 6h0m1-5h0m2 2h0m5-1h0m1-6h0m0 4h0m4-2h0m2 9h0m4 0h0m2-10h0m5 0h0m4 2h0m0 5h0m3-2h0m3 1h0m4 3h0m5-6h0m2-4h0m5 9h0m0 11h0m-2-4h0m-4 4h0m-2-4h0m-1 5h0m-2-2h0m-1-6h0m-1 8h0m-2-6h0m-4 0h0m-1 3h0m-2 5h0m-3-3h0m-1-5h0m-2 4h0m-8 4h0m-3-1h0m-1-5h0m-2 1h0m-4-6h0m0 10h0m-1 1h0m-2-1h0m-3-7h0m0 6h0m-1-9h0m0 3h0m-3 1h0m0 3h0m-2 4h0m-1-4h0m-2 2h0m-5-2h0m-3-2h0m-6-3h0m-1 4h0m-3-4h0m0 5h0m-9-2h0m0 0h0m0 6h0m-2-1h0m-2-1h0m-1-7h0m-1 0h0m-5 1h0m-3-3h0m-1 2h0m0 9h0m-2-4h0m-1-4h0m-2 3h0m-2-5h0m0 4h0m-8-1h0m-1 4h0m-2-4h0m-1 1h0m-5 2h0m-2 0h0m-2-5h0m-4-1h0m-2 10h0m-3-9h0m0 0h0m0 9h0m-2-3h0m-2-2h0m-6 1h0m0 1h0m0 1h0m-4 2h0m-1-1h0m-4-10h0m-1 3h0m-2 3h0m-1-3h0m-2 0h0m-1 7h0m-1 1h0m-2 0h0m-2-7h0m-6 4h0m-1-7h0m-5 2h0m-1 0h0m0 8h0m-5-2h0m-8 2h0m-4-6h0m-3-3h0m0 1h0m-4-3h0m-3 3h0m-1 1h0m0 3h0m-4-1h0m-2-3h0m0 3h0m-2 1h0m-5 3h0m-4-4h0m-3-6h0m-2 6h0m-1 2h0m-9-5h0m0 8h0m-1-10h0m-3 6h0m-11-5h0m-10 2h0m0 2h0m-5-6h0m0 7h0m-1 2h0m-2-9h0m-1 6h0m-3-4h0m0 0h0m-5 2h0m-1-2h0m-1 7h0m-4-2h0m-4-4h0m-2 0h0m-1 5h0m-4-8h0m-2 10h0m-1-7h0m0 4h0m-4-1h0m0 4h0m-1-9h0m0 20h0m3 2h0m6-11h0m4 3h0m1-3h0m1 0h0m1 6h0m0 3h0m1-7h0m1 6h0m3-2h0m1 2h0m2 0h0m1-8h0m1 9h0m2-9h0m2 9h0m2-4h0m3 0h0m4 4h0m4 0h0m1-6h0m4 7h0m9-3h0m8-5h0m0 4h0m2 1h0m1-5h0m5 6h0m3-1h0m2 2h0m1-5h0m6 1h0m5-5h0m0 1h0m0 9h0m1-4h0m3-5h0m3-1h0m3 1h0m0 5h0m3-5h0m0 4h0m0 3h0m0 3h0m7-9h0m1 9h0m6-9h0m9 4h0m4 4h0m4-3h0m1-3h0m0 6h0m8-4h0m4-6h0m0 5h0m3-1h0m4 7h0m2-1h0m3-4h0m3-3h0m3-2h0m0 2h0m3 4h0m2-5h0m2 0h0m3 2h0m3 1h0m1-5h0m2 5h0m5-2h0m0 5h0m1-8h0m1 4h0m4-3h0m0 4h0m2 0h0m3-5h0m13 0h0m0 3h0m6 4h0m1-6h0m5 10h0m2-8h0m1 7h0m3-9h0m1 3h0m1 2h0m4 2h0m1-7h0m5-1h0m5 0h0m0 11h0m2-8h0m1 7h0m14-9h0m1 0h0m4 9h0m2-4h0m6 4h0m4-5h0m3 0h0m0 5h0m2-7h0m1 3h0m2 1h0m5-5h0m0 6h0m4-1h0m0 4h0m2-2h0m1 2h0m2-5h0m0 2h0m3 1h0m5 1h0m1-5h0m1 13h0m-4 1h0m0 2h0m-1-3h0m-2 5h0m-1-9h0m-3 3h0m-1 4h0m-3-7h0m0 9h0m-1-7h0m-1 5h0m-1-8h0m-3 1h0m0 6h0m-1-2h0m-1-3h0m-3 1h0m-1 2h0m-2 2h0m0 3h0m-2-1h0m-2-10h0m-1 4h0m0 4h0m-2-1h0m-4-5h0m-2 3h0m0 3h0m-2-8h0m-6 10h0m-1-3h0m-8-4h0m-1 8h0m-1-3h0m-5-2h0m-5-4h0m-1 7h0m-1-2h0m-11 0h0m-1-3h0m-3 4h0m-2-7h0m-6 2h0m-1-2h0m0 5h0m-5-1h0m-4 0h0m-2 1h0m-1-3h0m-5-1h0m0 1h0m0 8h0m-11-1h0m-1 0h0m-3 1h0m-6-6h0m-3-4h0m-1-1h0m-1 2h0m-1 3h0m-11 3h0m-1-8h0m0 4h0m-2 2h0m0 5h0m-1-8h0m0 2h0m-4-3h0m-15 1h0m-2 5h0m-3-7h0m-2 5h0m-2 4h0m-2-2h0m-2-1h0m-2-2h0m-5 1h0m-1 5h0m-2-11h0m-10 3h0m-1 2h0m-1-5h0m-2 1h0m-10 7h0m-2-8h0m0 10h0m-1-5h0m-4 2h0m-2 4h0m-1-10h0m-5 8h0m-3 1h0m-1-7h0m-3 3h0m-1 3h0m-4-3h0m-1 3h0m-3-9h0m-11 6h0m-1-5h0m-2 8h0m-1-1h0m-2 2h0m-1-4h0m-4-2h0m-4 4h0m0 1h0m0 1h0m-1-10h0m-3 6h0m0 2h0m-1 1h0m-1-9h0m0 0h0m0 3h0m0 4h0m0 2h0m-3 1h0m-1-6h0m-2 5h0m-3 1h0m-3-8h0m0 4h0m-2-5h0m0 6h0m-2 2h0m-1-1h0m-2-5h0m-2-1h0m-1 4h0m-2-5h0m-1 6h0m-2-4h0m0 13h0m0 5h0m3-3h0m5 0h0m6-5h0m0 2h0m0 5h0m3 0h0m3 0h0m7 2h0m4-6h0m1 7h0m3-5h0m2 2h0m6-7h0m7 1h0m1 8h0m1-4h0m4 5h0m7 0h0m1-10h0m2 2h0m2-1h0m2 2h0m5-1h0m0 8h0m3-8h0m17 8h0m5-10h0m4 4h0m5 6h0m1 0h0m2-1h0m10 1h0m12-2h0m3-7h0m0 2h0m1 1h0m2-5h0m2 10h0m2-4h0m7-5h0m2 6h0m1-6h0m3 3h0m2-4h0m0 2h0m1-1h0m1 9h0m7-1h0m1-4h0m10-2h0m0 7h0m4-8h0m3-1h0m0 7h0m2-2h0m6-2h0m0 7h0m11-1h0m1-8h0m1 5h0m1-7h0m3 9h0m1-4h0m7 2h0m3 3h0m1-4h0m1 0h0m2 3h0m2-2h0m5-7h0m0 5h0m4 5h0m1 1h0m3-8h0m4-3h0m2 0h0m0 6h0m1-6h0m0 4h0m2 6h0m16-4h0m4-4h0m2 6h0m4 0h0m2-7h0m3 3h0m1 3h0m2-7h0m2 11h0m2-10h0m5 0h0m1 6h0m4-6h0m2 0h0m4 6h0m0 1h0m2-2h0m1 3h0m5 10h0m-4 3h0m-5-2h0m-8-5h0m-4-3h0m-3 1h0m0 7h0m-2-2h0m-2 1h0m-2-4h0m-1 7h0m-2-4h0m-3-1h0m-9 0h0m-2-3h0m-4 4h0m-5-6h0m-4 5h0m-2 3h0m-4 1h0m-1-9h0m-1 6h0m-2-3h0m-4-3h0m0 5h0m-2 4h0m-1-8h0m0 2h0m0 4h0m-3 0h0m-1-5h0m-1 5h0m-1 0h0m0 2h0m-1-7h0m-2-1h0m0 9h0m0 1h0m-1-9h0m-1 3h0m-3-4h0m-1 3h0m0 2h0m-1-6h0m-6 3h0m-4-2h0m-2 10h0m-4-10h0m-4 5h0m-1-3h0m-5 2h0m-2 2h0m-3 4h0m-1-3h0m-1-6h0m-2 4h0m-1-2h0m0 4h0m-5-5h0m-1 4h0m-7 2h0m-3-7h0m0 4h0m0 4h0m-1-9h0m0 5h0m-3 5h0m-1-11h0m0 9h0m-1-2h0m-1-3h0m0 3h0m0 4h0m-5-10h0m-3 0h0m-4 1h0m0 3h0m-2-4h0m-1 6h0m-1 4h0m-1-9h0m-1 8h0m-2-3h0m-1-5h0m-5-2h0m-1 4h0m0 2h0m-5-6h0m-6 2h0m-6 5h0m-3 1h0m0 2h0m-4-5h0m-1 0h0m-1 6h0m-3-4h0m-1 2h0m0 1h0m-4-7h0m-1 8h0m-6-10h0m-1 3h0m-1-2h0m-1 6h0m-1-2h0m-3 0h0m-2-2h0m0 7h0m-2-10h0m0 8h0m0 2h0m-1-4h0m-2 3h0m-3-4h0m0 4h0m-4-5h0m0 2h0m-1-7h0m-1 0h0m0 6h0m-4 1h0m-3-3h0m-3 0h0m-5-2h0m-1 8h0m-4-6h0m0 4h0m-3-8h0m0 5h0m-1-1h0m-2-3h0m0 7h0m-4-2h0m-1-5h0m0 7h0m-1 2h0m-2-6h0m-1 2h0m-4-4h0m-5 5h0m-1-4h0m0 1h0m-2 1h0m-1-3h0m0 8h0m0 1h0m-1-4h0m-6-7h0m0 2h0m-3 6h0m-2 3h0m-3-8h0m-4 8h0m-2 2h0m8 4h0m0 4h0m2-7h0m6 8h0m3-5h0m0 4h0m4-2h0m2 0h0m0 4h0m5 0h0m0 0h0m4-3h0m4 2h0m6-2h0m1-5h0m0 1h0m0 3h0m1 3h0m1-3h0m4 2h0m1-5h0m5 2h0m0 4h0m5 1h0m4-7h0m5-1h0m7 4h0m0 1h0m3 3h0m2-10h0m0 1h0m5-1h0m0 6h0m0 3h0m2 0h0m8-1h0m3-7h0m7 3h0m0 6h0m6-3h0m3-7h0m0 1h0m1 3h0m0 6h0m7-7h0m6-3h0m0 1h0m5 1h0m2 7h0m1-7h0m0 6h0m1-9h0m1 4h0m2 4h0m1-3h0m5-5h0m1 11h0m2-6h0m0 2h0m5 3h0m4-8h0m6 2h0m9 1h0m2 4h0m1-7h0m1 6h0m2 0h0m5-1h0m1-1h0m6-6h0m4 2h0m4 9h0m2-1h0m6-1h0m1-8h0m4 10h0m2-4h0m2 3h0m5-8h0m1 3h0m1 1h0m3-3h0m1-1h0m0 5h0m0 3h0m3-2h0m2-5h0m0 2h0m5-2h0m3-3h0m3 2h0m2 5h0m4-4h0m0 5h0m3 1h0m6 1h0m1-1h0m0 2h0m1-8h0m0 3h0m4-4h0m0 8h0m2-7h0m2 4h0m1-4h0m4-1h0m7-2h0m0 11h0m3-5h0m4 2h0m11-7h0m1 8h0m3 0h0m2-8h0m0 1h0m0 2h0m0 3h0m0 4h0m1-10h0m3 0h0m0 14h0m-1 2h0m0 2h0m0 4h0m-1-6h0m-1 5h0m-6-8h0m0 8h0m-1-3h0m-1-3h0m-2 1h0m0 2h0m0 3h0m-3-5h0m-1 5h0m-4-10h0m-3 1h0m-1 5h0m0 5h0m-1-5h0m-5 2h0m0 2h0m-4-6h0m-2-3h0m0 6h0m-1 2h0m-1-7h0m-8 4h0m-2 0h0m0 3h0m-1-7h0m-1 4h0m-7-3h0m-2 4h0m-2-6h0m-1 10h0m-1-4h0m-4-3h0m-1 1h0m-1-4h0m-1 10h0m-3 0h0m0 0h0m-10-8h0m-2 8h0m-1-3h0m-2 1h0m-1-7h0m-1 1h0m-2 2h0m-1-4h0m-3 10h0m-1-4h0m-2 2h0m-2 0h0m-2-1h0m-1 3h0m-3-7h0m-3 3h0m-1-6h0m-2 4h0m-2-1h0m-1-2h0m-1 7h0m-2-3h0m-8 0h0m-1-2h0m-3-4h0m-4 5h0m-1 6h0m-3-8h0m-4 3h0m-4 0h0m-3-1h0m-4-5h0m0 8h0m-2 3h0m-5-3h0m-2-4h0m-3 5h0m-2-4h0m-9 2h0m-4 4h0m-8-6h0m-4 3h0m-1 3h0m-2-6h0m-1 2h0m-5 1h0m-1-6h0m-3 6h0m-1-7h0m-2 2h0m-1 4h0m-3-2h0m-1 2h0m-3 2h0m-6-7h0m0 1h0m-6 7h0m-1-6h0m0 7h0m-4 0h0m-1-11h0m0 8h0m-5 3h0m-5-10h0m0 6h0m-2-2h0m-3 2h0m-3-4h0m0 7h0m-2-7h0m-2-3h0m0 9h0m-1-1h0m-2-7h0m-5 0h0m-2-1h0m-3 5h0m-4-3h0m0 7h0m-2-9h0m-1 9h0m-3 1h0m-1-7h0m0 3h0m-4-1h0m-1 1h0m0 1h0m-3 2h0m-15 1h0m-1 1h0m-2-7h0m-3 2h0m2 11h0m2 5h0m4-8h0m3 5h0m2 3h0m1 0h0m2-1h0m4-8h0m1 5h0m2-3h0m0 6h0m0 2h0m8-1h0m1-9h0m0 1h0m1-1h0m3 2h0m5 0h0m1-3h0m1 3h0m0 4h0m3 0h0m4-3h0m0 1h0m2 3h0m2-4h0m4 3h0m2-6h0m0 2h0m2 8h0m1-2h0m2-5h0m0 2h0m3-5h0m1 7h0m6 3h0m1-2h0m4-6h0m1-3h0m3 5h0m2-1h0m0 1h0m5 2h0m7-5h0m3-2h0m2 5h0m1 5h0m1-9h0m1 10h0m1-10h0m2 3h0m4-2h0m2 4h0m0 4h0m3-1h0m4 1h0m5-6h0m2 5h0m5 2h0m5-6h0m0 3h0m1 1h0m3-1h0m3-4h0m1 5h0m1-2h0m3 1h0m5-4h0m4-2h0m0 5h0m10-4h0m2-1h0m0 8h0m2-4h0m1 5h0m11-11h0m3 7h0m0 3h0m2 1h0m1-7h0m3-4h0m3 8h0m3-7h0m0 7h0m5 2h0m1 0h0m1 1h0m2-2h0m3-9h0m0 2h0m3-1h0m0 1h0m5 0h0m3 7h0m2-7h0m0 4h0m11-2h0m4 0h0m0 2h0m9-3h0m8 8h0m2-8h0m4-1h0m1 8h0m2-8h0m5-1h0m6 7h0m1-4h0m0 6h0m1-10h0m0 7h0m4-3h0m0 2h0m1-5h0m1 8h0m6-7h0m0 9h0m1-5h0m3-6h0m4 2h0m3 0h0m0 4h0m4-4h0m3 1h0m0 1h0m2 19h0m-7-3h0m-7-5h0m-2 2h0m0 1h0m-2 3h0m-3-6h0m0 3h0m-1 5h0m-3-10h0m-2 9h0m-2-3h0m-5-1h0m0 3h0m0 2h0m-2-1h0m-3-9h0m0 4h0m-2-5h0m-4 10h0m-2-2h0m-5-4h0m-4-1h0m-1 8h0m-2-8h0m-3 1h0m-4 2h0m-1-6h0m-1 10h0m-1-2h0m-1-7h0m-1 10h0m-4-7h0m-1-2h0m0 3h0m-2 3h0m-5-8h0m0 11h0m-4-8h0m-3 0h0m0 3h0m-4-1h0m-2-5h0m0 2h0m-1 2h0m-1 1h0m0 3h0m-4 2h0m-6 0h0m-1-4h0m-2-4h0m-1 6h0m-1-2h0m-1-6h0m-1 9h0m-1 2h0m-1-1h0m-2-9h0m-10 2h0m-3 3h0m-2 0h0m0 2h0m-4-1h0m-2-3h0m-2 5h0m-3-9h0m-1 1h0m-2 0h0m-1 7h0m-1 3h0m-1 0h0m-1-10h0m-1 5h0m-2-3h0m-3 1h0m-1 7h0m-1-8h0m0 4h0m-2-1h0m-2-4h0m0 8h0m-4-10h0m0 7h0m-2-2h0m-8-1h0m-1 2h0m-5 1h0m-3 0h0m-7 0h0m-6 4h0m-4-9h0m-4 0h0m-3 3h0m-4-3h0m-3 6h0m-1-5h0m-1-2h0m-1 10h0m-2-10h0m-6 7h0m-1 3h0m-1-4h0m-1-4h0m-7 3h0m-1-3h0m0 0h0m-6 8h0m-2-6h0m-1-4h0m0 3h0m-4-1h0m0 1h0m-6 3h0m-2-7h0m0 4h0m-2 0h0m-3 3h0m-1 3h0m-1-10h0m-5 8h0m-4-3h0m-5-4h0m-3 5h0m-9 1h0m-1-7h0m-2 1h0m-2 8h0m-4-9h0m0 9h0m-1-4h0m-1-1h0m-1 3h0m-4-1h0m-1 11h0m3 1h0m1 1h0m5-2h0m1-2h0m2-2h0m1 1h0m20 7h0m4-6h0m0 7h0m1-6h0m1-2h0m1 8h0m4 0h0m2-9h0m3 1h0m4-2h0m1 5h0m0 4h0m3-9h0m8 11h0m1-9h0m0 5h0m2 2h0m3-3h0m1 1h0m6-7h0m6 8h0m19-2h0m1 5h0m8-2h0m1-7h0m2 6h0m3-8h0m0 2h0m1 0h0m3 7h0m16-7h0m4 1h0m1 5h0m0 3h0m1-4h0m1-4h0m2 6h0m6-6h0m0 7h0m2-10h0m1 3h0m3 7h0m4-7h0m0 5h0m5-5h0m1 4h0m1-4h0m1-3h0m4 1h0m2 7h0m2-5h0m1 0h0m2 4h0m1-4h0m1-3h0m1 8h0m3-2h0m4 2h0m3-4h0m5 1h0m0 2h0m5 4h0m5-3h0m3 3h0m6-7h0m1 0h0m3 5h0m3 1h0m6 1h0m2-5h0m6-4h0m8 8h0m1-9h0m0 8h0m2-3h0m1-6h0m1 2h0m0 9h0m6-10h0m0 4h0m5 1h0m1-3h0m4 2h0m1 5h0m1-10h0m1 4h0m1 6h0m10-8h0m0 6h0m1 0h0m1-8h0m2 7h0m5-7h0m7 2h0m0 5h0m0 4h0m9-1h0m2-8h0m0 3h0m0 3h0m1 14h0m0 1h0m-6-7h0m-2 5h0m-1-8h0m-3 9h0m-2 0h0m-6-5h0m-1-4h0m-2 6h0m-2 1h0m-9 0h0m-1-5h0m-2 1h0m-3-1h0m-1-1h0m-3 4h0m-2-6h0m-1 10h0m-3-5h0m-2 3h0m-4-2h0m-2-6h0m0 2h0m-2 8h0m-1-5h0m-1 0h0m-1-3h0m-3 9h0m-1 0h0m-1-2h0m-1-1h0m0 0h0m-6-8h0m0 9h0m-2-2h0m-4-7h0m0 5h0m-2 6h0m-1-2h0m-1-4h0m-6 1h0m-1 3h0m0 2h0m-2-5h0m-4 0h0m-1 3h0m-5-7h0m0 6h0m-2-1h0m-1 3h0m-1-9h0m-1 8h0m-2-7h0m-1 1h0m-1 2h0m-2 2h0m-1 2h0m-1-9h0m-2 5h0m-6 6h0m-10-8h0m-1 3h0m-2 2h0m-1-1h0m-1-7h0m-5 5h0m-2 3h0m-2-2h0m-2-6h0m-4 0h0m0 5h0m-1 1h0m-8 4h0m-2-3h0m-1 2h0m-6 0h0m-2 2h0m-3-6h0m-3-4h0m0 6h0m-4-4h0m-1 8h0m-6-11h0m0 3h0m0 3h0m-2 3h0m-3-7h0m0 3h0m0 6h0m-2-6h0m0 6h0m-4-1h0m-1-6h0m-1 3h0m-1-7h0m-3 6h0m-2-4h0m-1 1h0m0 5h0m-2-7h0m-1 2h0m-2 8h0m-1-11h0m-2 3h0m-5 4h0m-5 3h0m-2-2h0m-3-6h0m-1 4h0m-3-1h0m-5-1h0m-1 4h0m0 3h0m-1-4h0m-3-1h0m0 4h0m-4-9h0m-1 10h0m-3-1h0m-2-10h0m-4 8h0m-3-2h0m0 5h0m-7-2h0m-2-8h0m0 1h0m-3 5h0m-3-7h0m-2 3h0m-1 6h0m-2-7h0m-5 6h0m-4-2h0m-1 3h0m-1-7h0m-4-2h0m-4 10h0m-3-4h0m-3 3h0m-2 14h0m2-1h0m1-7h0m5 1h0m1 3h0m5-4h0m1 6h0m0 2h0m6-3h0m4-4h0m2 6h0m9 0h0m4-9h0m0 1h0m2 3h0m2-4h0m2 6h0m0 1h0m1-4h0m1 3h0m3-7h0m3 7h0m0 4h0m4 0h0m4-8h0m0 4h0m4-4h0m0 7h0m5-1h0m1-5h0m1 6h0m1-3h0m3-6h0m1 4h0m0 5h0m1-7h0m3 4h0m0 4h0m16-10h0m0 2h0m0 1h0m5-1h0m2 6h0m3-6h0m2 4h0m1-7h0m1 9h0m2-8h0m8 6h0m1-7h0m1 3h0m1 7h0m1-10h0m6 8h0m1-5h0m3 7h0m1-9h0m4 6h0m4-6h0m1-1h0m1 9h0m1-6h0m1-1h0m6 7h0m4-9h0m0 8h0m1-3h0m3-4h0m1 6h0m2-7h0m0 8h0m1-3h0m0 5h0m3-1h0m2-2h0m2-7h0m2 4h0m2 2h0m3 2h0m2-7h0m3-1h0m4 7h0m2-1h0m6-5h0m2 4h0m2 4h0m1-8h0m0 7h0m1-4h0m1 5h0m0 2h0m1-6h0m4 5h0m1-8h0m4 7h0m2-2h0m1 1h0m4-3h0m1 4h0m10 2h0m2-10h0m0 1h0m5 0h0m0 5h0m3-1h0m1-2h0m4 1h0m0 3h0m6-8h0m3 1h0m0 3h0m1-2h0m3 3h0m2-4h0m4 10h0m2-6h0m1-3h0m7 0h0m1 5h0m10-7h0m6 2h0m2 3h0m2 6h0m3-1h0m4-5h0m1 5h0m1-3h0m1 11h0m-2 1h0m-1-7h0m-1 4h0m-1-2h0m-3 6h0m0 1h0m-2-6h0m-1 3h0m-6-1h0m-1-2h0m-1 4h0m-1-2h0m-4-2h0m-2 2h0m-1 2h0m-4 1h0m-3-3h0m0 6h0m-3-8h0m-3 4h0m0 4h0m-1-10h0m-3 8h0m0 1h0m-2 0h0m-1-4h0m-7-5h0m-2 6h0m-1-4h0m0 7h0m-5-9h0m-6-1h0m0 4h0m0 6h0m-2 0h0m-11-7h0m-2 5h0m0 3h0m-1-7h0m-1 7h0m-4-5h0m-4 2h0m-2-4h0m-7 5h0m-4 2h0m-1-3h0m-2-2h0m-1 5h0m-1-6h0m-1 6h0m-4-11h0m0 1h0m-2 8h0m-2-8h0m-2 4h0m-2 0h0m-1 4h0m-1-9h0m-2 4h0m-2-3h0m0 3h0m-2 2h0m-1-5h0m-7 3h0m-2 3h0m-1-4h0m-1-3h0m-1 5h0m-2-4h0m-1 4h0m-1 5h0m-5-6h0m0 1h0m-1 3h0m-2 3h0m-2-9h0m-8 5h0m0 3h0m-2-4h0m0 4h0m-5-8h0m0 3h0m-4 4h0m-3-3h0m-1-4h0m-5 1h0m0 2h0m-1 1h0m-1-3h0m-3 5h0m-1-1h0m-3-2h0m0 2h0m-2-5h0m-3-2h0m-3 1h0m-2 6h0m-5-4h0m0 6h0m-3-5h0m-7 7h0m-1-3h0m-2-6h0m0 8h0m-3-4h0m-2 5h0m-14-6h0m-5-5h0m-3 3h0m-1 3h0m-2 0h0m-4 0h0m-2 1h0m-1-7h0m0 8h0m-1-5h0m-1 2h0m-9 0h0m-1-5h0m-3 3h0m-5 1h0m-5 4h0m-2-4h0m-3-2h0m-2 5h0m-2-3h0m-4 2h0m-1-3h0m-2 1h0m0 7h0m-1-2h0m-1-6h0m-3 19h0m9-9h0m4 8h0m2 0h0m2 1h0m4 1h0m3-6h0m0 4h0m7 2h0m1-6h0m2 0h0m2 5h0m2-7h0m4-3h0m0 1h0m5 1h0m3 8h0m7-7h0m5 1h0m0 7h0m2-4h0m3-1h0m4 0h0m3-2h0m1-2h0m6 5h0m3-7h0m0 1h0m10 6h0m1-2h0m1-3h0m3 5h0m1-5h0m2-2h0m0 0h0m3 10h0m1-4h0m1 0h0m1 4h0m3-5h0m0 2h0m3-7h0m0 3h0m4-3h0m2 10h0m2-4h0m2-1h0m1-4h0m1 4h0m0 1h0m0 3h0m2-4h0m3 2h0m2-2h0m3 3h0m0 3h0m2-4h0m5-6h0m2 5h0m0 2h0m2 3h0m3-9h0m5-2h0m4 0h0m0 3h0m5-1h0m0 6h0m2-8h0m0 9h0m2-8h0m0 5h0m0 4h0m2-10h0m4 7h0m0 2h0m2-6h0m0 3h0m2-6h0m4 0h0m6 8h0m1-4h0m1-4h0m0 6h0m2-6h0m1 2h0m0 1h0m8-3h0m0 4h0m3 1h0m3 2h0m0 2h0m6-5h0m6-4h0m3 9h0m1-7h0m2 3h0m2-3h0m1 3h0m3 3h0m3-2h0m0 2h0m2 3h0m3 0h0m4-11h0m0 2h0m1 2h0m3 3h0m3 4h0m3 0h0m9-4h0m2-5h0m0 2h0m5-1h0m1 4h0m0 3h0m4-7h0m0 4h0m4-5h0m4 7h0m1-7h0m4 9h0m2-10h0m3 0h0m0 6h0m1-7h0m0 11h0m1-11h0m1 5h0m6-1h0m0 3h0m0 4h0m2-1h0m6-6h0m4 9h0m-6-1h0m0 5h0m0 3h0m-3-6h0m-4 3h0m-1 0h0m0 5h0m-2-6h0m0 6h0m-3-8h0m-2 2h0m-6 7h0m-2-2h0m-3-9h0m0 2h0m-2-1h0m-2 2h0m-3 8h0m-5-3h0m-4-8h0m0 3h0m-5 7h0m-1-6h0m-3 0h0m-5-2h0m0 1h0m-2 5h0m-1-5h0m0 7h0m-4-7h0m-2 3h0m-1-4h0m-1 8h0m-1-8h0m-1 8h0m-5 1h0m-2-2h0m0 2h0m-2-4h0m-3 2h0m-3 0h0m0 2h0m-1-5h0m-2-1h0m-6-1h0m-1-3h0m-3 5h0m-2-5h0m-8 8h0m-1-3h0m-5-4h0m0 4h0m-4 1h0m-3-2h0m-2-4h0m0 4h0m-4-4h0m-4 0h0m-1 2h0m-2 5h0m-2-3h0m0 5h0m-1-7h0m-3 8h0m-1-3h0m-3-5h0m0 2h0m-3-2h0m-8 4h0m-1 4h0m-2-5h0m-2-4h0m-3 0h0m-2 6h0m-2-4h0m-3-3h0m-3 5h0m-5-3h0m0 5h0m-3-8h0m-1 11h0m-4-4h0m-2-4h0m0 5h0m-1-4h0m0 4h0m0 3h0m-5-9h0m0 3h0m-1-2h0m-2-1h0m0 4h0m-3 1h0m-5-7h0m-1 5h0m0 3h0m-1-8h0m-3 10h0m-2-7h0m-4 5h0m-2 3h0m-1-7h0m0 6h0m-3-9h0m-3 5h0m-2 5h0m-3-8h0m0 3h0m-1 1h0m-2-7h0m-5 4h0m-6-2h0m0 7h0m-1-3h0m-4 4h0m-5 0h0m-1-9h0m-2 1h0m-4 8h0m-1-2h0m-6-8h0m0 3h0m-4-1h0m-1 6h0m-3 1h0m-2-5h0m-1-2h0m-1 7h0m-3-7h0m-1-2h0m0 5h0m-2-2h0m-2-3h0m-3 3h0m0 2h0m-2-4h0m-1 2h0m0 3h0m-2-1h0m-1-3h0m-1 0h0m-2 8h0m0 0h0m-5 11h0m1-6h0m2 2h0m3-3h0m4-2h0m1 4h0m0 1h0m2-2h0m4-1h0m0 3h0m3-2h0m0 3h0m3-2h0m0 4h0m2-4h0m1 5h0m2-2h0m1-4h0m1-3h0m3 6h0m5-4h0m6-2h0m2 2h0m1 2h0m0 2h0m3 0h0m2 4h0m1-6h0m0 1h0m6 3h0m7-4h0m0 5h0m11-4h0m3-4h0m0 2h0m5-1h0m2 8h0m4-2h0m1 3h0m1-4h0m4-6h0m0 2h0m0 5h0m1-3h0m11 4h0m0 2h0m3 0h0m2-11h0m2 9h0m2-4h0m2 2h0m2-2h0m2 4h0m7-6h0m3 2h0m1 5h0m1 1h0m1-9h0m1 2h0m2 6h0m4 0h0m6-9h0m1 1h0m0 4h0m3-5h0m4 8h0m0 1h0m3-7h0m0 5h0m2-1h0m3 0h0m1-7h0m0 7h0m3-1h0m4 3h0m2-6h0m3 4h0m4-7h0m0 1h0m0 5h0m0 3h0m1-9h0m4 4h0m2 4h0m1-7h0m4 1h0m3 5h0m1-4h0m0 1h0m2-4h0m14 9h0m9-9h0m1 11h0m4-4h0m2-5h0m2 5h0m0 2h0m1-5h0m3-4h0m0 4h0m4-4h0m5 10h0m1-3h0m1-1h0m10-6h0m2 9h0m3-4h0m1 3h0m2-8h0m4 10h0m5-2h0m2-1h0m2 1h0m2-2h0m4-5h0m2 5h0m1-6h0m0 10h0m1-5h0m2 3h0m2-3h0m4 5h0m2-6h0m5 1h0m0 3h0m4 4h0m-6 9h0m-3-9h0m-3 7h0m-4-4h0m0 3h0m-2 3h0m-2-8h0m0 6h0m-1-1h0m-1-5h0m-3 7h0m-1-5h0m0 2h0m-5 0h0m0 4h0m-5-9h0m-2 4h0m-6-2h0m0 5h0m-3-1h0m-8-5h0m-5 0h0m-1 8h0m-2-7h0m0 2h0m-5-3h0m-1 8h0m-7 1h0m-8 0h0m-2-5h0m-1-4h0m-1 10h0m-13-2h0m-3-3h0m0 1h0m-4-7h0m-2 8h0m-2-3h0m-5-2h0m0 2h0m-3-4h0m-1 8h0m-5-9h0m-1 6h0m-1 1h0m-2-3h0m-2 5h0m-2-3h0m-1-6h0m0 7h0m-2 3h0m-2-6h0m-2-4h0m-2 2h0m0 8h0m-1-3h0m-5 0h0m-2-6h0m-1 6h0m-6-3h0m0 7h0m-4-3h0m-4-4h0m0 1h0m0 6h0m-5-2h0m-2-7h0m-2 3h0m-2 4h0m-4 0h0m-3-3h0m-3-4h0m-2 1h0m-7 7h0m-4-9h0m-1 10h0m-12-11h0m-1 2h0m-2 6h0m-1-5h0m-2 3h0m-1-3h0m-3 8h0m-7-7h0m-12-3h0m-8 7h0m-1-1h0m-4-5h0m0 8h0m-4-2h0m-1-8h0m-1 2h0m-3 4h0m-2 0h0m0 3h0m-1-5h0m-2 3h0m-2 3h0m-2-1h0m0 0h0m-4-2h0m-5-7h0m0 8h0m-1 3h0m-5-5h0m-3-3h0m-6-3h0m-1 5h0m0 1h0m-7-1h0m0 6h0m-4-6h0m-1-5h0m-2 18h0m7 0h0m0 3h0m1-8h0m1-1h0m5 9h0m5-6h0m6 5h0m1-6h0m0 3h0m4 3h0m2 1h0m2 1h0m3-10h0m0 7h0m2-3h0m1 3h0m2-6h0m1 3h0m2-1h0m3-3h0m1 8h0m2-3h0m5-2h0m2 4h0m9 3h0m1-6h0m4 2h0m1 3h0m3-1h0m1-3h0m1 2h0m1-6h0m3 4h0m0 4h0m4 1h0m3-1h0m3 2h0m1-11h0m1 7h0m1-3h0m0 6h0m0 1h0m4-6h0m4 3h0m0 1h0m7-8h0m1 8h0m1-3h0m1 2h0m3-7h0m0 7h0m1-3h0m1-2h0m1-3h0m2 6h0m1-4h0m0 1h0m4 0h0m0 3h0m4-5h0m0 5h0m1-2h0m0 7h0m1-4h0m1 3h0m2-3h0m3-3h0m3-1h0m2 6h0m13-8h0m0 9h0m6-8h0m1-1h0m0 7h0m0 3h0m3-11h0m1 5h0m3-5h0m1 8h0m2-5h0m1-1h0m1 2h0m3-3h0m3 6h0m3-4h0m1-1h0m1 5h0m1-4h0m2 4h0m3-7h0m1 10h0m3-8h0m0 1h0m2-2h0m0 9h0m1 0h0m0 1h0m2-9h0m2 3h0m0 5h0m3-10h0m3 1h0m3 0h0m8 6h0m0 4h0m2-8h0m0 7h0m3 1h0m3-7h0m1 7h0m6-10h0m3 9h0m1-7h0m4 5h0m5 2h0m1-6h0m0 2h0m2-4h0m1 5h0m1 2h0m3-2h0m1 1h0m1-3h0m1-3h0m1 6h0m1-8h0m2 4h0m7-4h0m1 11h0m1-2h0m4-3h0m1-2h0m4 4h0m1-2h0m5-3h0m0 5h0m1 1h0m3-5h0m0 6h0m3-8h0m2 0h0m3 7h0m1-6h0m4-2h0m0 4h0m2-3h0m3 0h0m4 13h0m-5-3h0m-4 6h0m-4 2h0m-1-2h0m0 1h0m-3-6h0m0 2h0m-1 6h0m-4-3h0m0 5h0m-1-9h0m0 1h0m-2-1h0m-2 2h0m-12-1h0m-7 5h0m-2-8h0m0 5h0m-1 4h0m-2-5h0m-4 4h0m-4 0h0m-3-1h0m-1-6h0m-2 3h0m-2 5h0m-1-6h0m-1-3h0m-2 11h0m-1-6h0m0 3h0m-2-8h0m-1 10h0m-2-3h0m-2-7h0m0 3h0m-3 6h0m-4-5h0m-4-2h0m-1 4h0m-2-1h0m-6-2h0m0 4h0m-2-3h0m0 3h0m-4-6h0m-3 0h0m-1 3h0m-3 4h0m-2-8h0m-2 7h0m-2-3h0m-1 7h0m-1-8h0m-1-2h0m0 9h0m0 0h0m-1-6h0m-1-3h0m-2 2h0m0 7h0m-4-6h0m0 1h0m-1 6h0m-1-2h0m-4 2h0m-5-1h0m-12 0h0m-2 1h0m-1-7h0m-4-2h0m-5-2h0m-6 2h0m-4 7h0m-1-3h0m-3-2h0m-2-2h0m-1 7h0m-1-6h0m-4 3h0m0 2h0m-2 1h0m-7-8h0m0 4h0m0 4h0m-4-7h0m0 3h0m-2 4h0m-5-5h0m0 6h0m-1-1h0m-1-8h0m-5 0h0m0 5h0m-7 5h0m-2-1h0m-3 0h0m-2 1h0m-3-5h0m-1-3h0m-1 1h0m-2-3h0m-1 9h0m-4-9h0m-3 1h0m-2 3h0m0 6h0m-2-1h0m0 1h0m-3-9h0m-1 6h0m-6-5h0m-2 5h0m-3-8h0m0 7h0m-6 3h0m-2-9h0m0 8h0m-3-3h0m-5-1h0m-1-2h0m-2 6h0m-9-9h0m-1 5h0m-9 2h0m0 2h0m-3-6h0m-9 13h0m5-1h0m3 2h0m2 3h0m5-3h0m5 5h0m3-5h0m2-4h0m2 4h0m3-1h0m5-2h0m4 0h0m0 3h0m7 1h0m2 1h0m7-3h0m0 6h0m2-8h0m1-2h0m3 6h0m5-5h0m3-1h0m1 10h0m6-10h0m3 5h0m11 0h0m6-3h0m1-1h0m3 5h0m1-3h0m0 8h0m1-11h0m0 7h0m1 0h0m1-6h0m1 6h0m1-1h0m1-6h0m1 4h0m3 1h0m3 4h0m6-6h0m4-2h0m0 10h0m2-4h0m5-3h0m3 5h0m1-8h0m1 10h0m5-9h0m7 3h0m2 0h0m3 2h0m1-4h0m1-1h0m0 7h0m3-7h0m2 5h0m3 4h0m1-3h0m5-4h0m1 0h0m0 3h0m3-1h0m1-3h0m0 8h0m1-10h0m1 8h0m2-1h0m3 0h0m2-4h0m5 1h0m2 5h0m1-7h0m3 5h0m0 3h0m2-1h0m2-2h0m1-3h0m2 5h0m1-10h0m3 10h0m2-7h0m1 0h0m0 3h0m3-5h0m0 3h0m0 6h0m6-3h0m1 2h0m8-8h0m0 4h0m3-2h0m1 6h0m2 2h0m2 0h0m3-5h0m1-4h0m1 8h0m2-7h0m4 0h0m1 7h0m4-6h0m0 4h0m5 3h0m2 0h0m2 0h0m3-5h0m1 1h0m3-4h0m2 1h0m1 2h0m1-2h0m2-2h0m1-1h0m1 7h0m1-2h0m3 3h0m8-2h0m2 1h0m3-7h0m2 3h0m1-2h0m3 6h0m2-8h0m3 11h0m2 0h0m2-7h0m0 5h0m2-8h0m1 0h0m1 8h0m0 1h0m2-7h0m-1 19h0m-1-2h0m-4-6h0m-4-1h0m-4-1h0m-4 2h0m-1 3h0m-2 0h0m0 5h0m-1-10h0m0 3h0m0 3h0m-1-2h0m-3-1h0m-1 7h0m-3-1h0m-2-5h0m0 5h0m-3-4h0m-1-4h0m-1-1h0m-4 0h0m-1 11h0m-2-4h0m-1 4h0m-1 0h0m-4-7h0m-2 1h0m-1 2h0m-1 1h0m-1 2h0m-2-4h0m0 5h0m-2-5h0m-2 5h0m-1 0h0m-11-9h0m-8-1h0m-4 0h0m-19-1h0m0 2h0m-1 8h0m-3-5h0m0 1h0m-2-3h0m-3 5h0m-1 3h0m-4-8h0m-1 3h0m-2-6h0m-2 4h0m-2-4h0m0 4h0m-1-2h0m-2-1h0m-1 6h0m-2-6h0m-2 4h0m-1 3h0m-1-5h0m-2 6h0m-5-2h0m-1 3h0m-8-2h0m0 0h0m-5-2h0m-3-6h0m-1 7h0m-3 2h0m-1-9h0m0 5h0m-2 5h0m-1-8h0m-5 7h0m-2-7h0m0 7h0m-4 0h0m-1-5h0m-1-2h0m-1 7h0m-2-9h0m0 7h0m-8-4h0m-2 8h0m-3 0h0m-1-6h0m-2 4h0m-4-9h0m-2 0h0m-3 1h0m-1 6h0m-1 2h0m0 1h0m-2-10h0m-5 0h0m-4 10h0m-3-2h0m-1-1h0m-1-7h0m-1 10h0m-3-4h0m-6 1h0m-4-6h0m0 7h0m-2-6h0m-3 7h0m-1-1h0m-3 1h0m-2 1h0m-6-6h0m0 4h0m-2-7h0m-1 4h0m0 5h0m-1-7h0m-3-2h0m0 9h0m-3 1h0m-3-5h0m-1 3h0m-1-1h0m-1-8h0m-8 7h0m-26-6h0m-7 8h0m3 9h0m3 0h0m1 4h0m2-6h0m0 1h0m3 4h0m1 2h0m3-4h0m0 3h0m0 0h0m1-2h0m5-6h0m0 2h0m11 3h0m0 1h0m1 3h0m1-7h0m1 4h0m4-3h0m1 3h0m1-7h0m6 5h0m2-3h0m3-2h0m0 3h0m5-3h0m1 2h0m1 2h0m1-3h0m1 4h0m2 2h0m3-4h0m5 2h0m4-5h0m2 7h0m1-2h0m8 0h0m3-6h0m2 2h0m1 9h0m5-10h0m2 3h0m3 0h0m1 1h0m0 4h0m0 2h0m3-4h0m6-7h0m5 4h0m5 7h0m1 0h0m5-4h0m2-6h0m2 9h0m1 1h0m1-8h0m0 7h0m1-8h0m4 0h0m1-1h0m0 2h0m2 1h0m0 5h0m0 2h0m2-4h0m3-3h0m0 6h0m2-5h0m1-3h0m0 5h0m0 2h0m1-1h0m2-7h0m0 4h0m0 2h0m1-2h0m4-2h0m3 6h0m1-1h0m5 3h0m5-6h0m2-3h0m0 1h0m2 4h0m1 1h0m6-6h0m0 6h0m2-1h0m2 1h0m2-1h0m7-6h0m1 9h0m2-1h0m1-8h0m1 1h0m2 8h0m2-3h0m4-1h0m0 3h0m1-3h0m4 2h0m1-6h0m0 9h0m5-5h0m16 1h0m3 1h0m1-2h0m3-2h0m2 1h0m0 6h0m4-5h0m5-5h0m5 1h0m4 6h0m6-4h0m7-2h0m2 8h0m3-2h0m4-2h0m0 2h0m2 2h0m3-8h0m0 5h0m0 3h0m1-9h0m1 9h0m1-3h0m0 4h0m2-5h0m5 1h0m0 1h0m1-4h0m2 6h0m7-6h0m2-2h0m-11 10h0m-2 9h0m-6-2h0m-2-3h0m-1 1h0m0 2h0m-5-1h0m-2-4h0m-4 7h0m-2-5h0m-1-1h0m-1-2h0m0 9h0m-1-3h0m0 1h0m-1-1h0m-1-7h0m-3 3h0m0 7h0m-1 0h0m-3 1h0m-6 0h0m-1-2h0m-5-2h0m-3 3h0m-6-5h0m-1 2h0m-1-4h0m-2 1h0m-2 6h0m-2 1h0m-2-2h0m-11-6h0m0 2h0m0 3h0m-4-3h0m0 4h0m-4-4h0m-1 5h0m-3-7h0m-3 2h0m-2 4h0m-6-4h0m-1-4h0m0 9h0m-1-8h0m-1-1h0m-1 8h0m-1 0h0m-3-5h0m-1 7h0m-1-2h0m-5-7h0m-2 3h0m-1-3h0m-1 7h0m-2 1h0m-2-5h0m0 4h0m-2-8h0m0 8h0m-3-1h0m-2-4h0m-3 0h0m0 7h0m-4-7h0m-2-1h0m-4 6h0m-4-9h0m-2 7h0m-5-7h0m-6 9h0m0 1h0m-1-5h0m-1 5h0m-1-1h0m-3-4h0m-2-3h0m0 4h0m0 1h0m-4-6h0m0 0h0m0 2h0m-1 8h0m-2-5h0m-2-5h0m0 9h0m-3-4h0m0 5h0m-2-4h0m-5-5h0m-7 3h0m-10-1h0m-7-1h0m0 6h0m-1-9h0m-2 3h0m-1-2h0m0 10h0m-2 0h0m-9-8h0m-2-3h0m-1 6h0m-3-2h0m-5 0h0m-2-3h0m0 2h0m-2-2h0m-2 2h0m-2 5h0m-2-5h0m-3 7h0m-2-5h0m-8 1h0m-2-1h0m-1-3h0m-3 6h0m-2 0h0m-1-5h0m-3 8h0m-2-5h0m-1-4h0m0 9h0m-5-4h0m-3-3h0m0 5h0m-5-5h0m-1-1h0m-1-2h0m-2 0h0m-2 1h0m-6 2h0m0 11h0m0 2h0m3-1h0m1 2h0m2-3h0m7 5h0m7-8h0m0 0h0m2 10h0m1-2h0m2-6h0m3 0h0m3 8h0m4-1h0m3 2h0m1-5h0m3 4h0m2-10h0m1 11h0m2 0h0m10-5h0m3-4h0m0 2h0m0 7h0m1-9h0m6 3h0m2-3h0m2-2h0m2 9h0m1 2h0m2-3h0m7 2h0m13-2h0m4-3h0m2-4h0m1 8h0m1-9h0m0 2h0m0 3h0m4 4h0m1-6h0m5-1h0m2 8h0m1 0h0m1-7h0m3 8h0m2-6h0m0 4h0m4-2h0m2 2h0m2-3h0m1-5h0m1 10h0m2-1h0m2-3h0m3-5h0m0 4h0m10 2h0m0 1h0m1-2h0m0 4h0m4-10h0m0 10h0m6-8h0m3 2h0m0 5h0m1-5h0m6 4h0m2-7h0m2 1h0m1 1h0m0 7h0m2-11h0m0 1h0m2 0h0m0 9h0m1-6h0m1 1h0m1-5h0m6 6h0m4-4h0m0 8h0m10-1h0m1-5h0m0 5h0m4-4h0m0 2h0m2-7h0m1 8h0m0 3h0m9-9h0m0 2h0m1 6h0m2-2h0m12 1h0m4-3h0m1-5h0m0 2h0m4 3h0m1-6h0m1 6h0m3-1h0m2 3h0m5-8h0m0 7h0m0 4h0m3-5h0m3-5h0m1 2h0m1 3h0m3 3h0m2-3h0m10-3h0m9 4h0m6-3h0m10-1h0m1 3h0m2 4h0m2-10h0m1 4h0m0 5h0m1-8h0m0 6h0m0 8h0m-1 3h0m0 3h0m-9-9h0m-2 5h0m0 2h0m-8 1h0m0 3h0m-4-5h0m-3-4h0m-3 4h0m-5-1h0m-1-3h0m-1 4h0m-2-4h0m0 2h0m-4-3h0m0 1h0m-2 4h0m-3 1h0m-5 2h0m-2-1h0m0 2h0m-2-8h0m-6 2h0m-1-4h0m-5 1h0m-2 2h0m-3 2h0m-2-5h0m-3 5h0m-1 1h0m-1 5h0m-11-10h0m-4 1h0m-3 5h0m-6-5h0m0 8h0m-3-6h0m-2 5h0m-8-4h0m-3-4h0m-1 0h0m0 9h0m-12-8h0m-6-1h0m-1 3h0m-1-2h0m-2 4h0m-2-3h0m-1-1h0m-4 5h0m-1-6h0m-1 2h0m-4 1h0m-1 1h0m-3-1h0m-3 1h0m-1-3h0m-9 6h0m-3-8h0m0 5h0m-1 4h0m-3 1h0m-1-10h0m-2 6h0m-2 3h0m-7-3h0m-1-1h0m0 3h0m-6-8h0m0 7h0m-1-4h0m-2-3h0m0 6h0m-4 2h0m-4-2h0m-4 3h0m-5-5h0m0 2h0m-4-5h0m0 9h0m-1-7h0m0 4h0m-2-6h0m-2 8h0m-3-5h0m-2-2h0m-2 2h0m-4-3h0m-2 2h0m-3 4h0m-7-1h0m-1-3h0m-2-1h0m-10 3h0m-2-3h0m0 8h0m-2-8h0m-5-1h0m-7 4h0m0 3h0m-3 1h0m-5-6h0m0 4h0m-1-7h0m-5 8h0m-2-6h0m0 8h0m-2-1h0m-1-2h0m-1-1h0m-3 4h0m-2-9h0m-1 0h0" stroke="#cc5258" stroke-width="1" stroke-opacity="0.85"/><path d="M307 -2h0m-6 0h0m-8-1h0m-5 2h0m-11 0h0m-7 0h0m-14-1h0m-4 0h0m-20 0h0m-3 1h0m-8-1h0m-6 1h0m-8 0h0m-1 0h0m-20-2h0m-9 1h0m-14 1h0m-12 0h0m-27 0h0m-2 0h0m-3 0h0m-7 0h0m-4-1h0m-8 1h0m-3 0h0m-6-1h0m-20 1h0m-13-1h0m-34 0h0m-23-1h0m-2 1h0m-1 10h0m2 1h0m3 1h0m1-5h0m1 6h0m2-2h0m2-1h0m1 2h0m1-10h0m0 6h0m4 2h0m1-4h0m2 5h0m5-1h0m4-7h0m0 5h0m1-2h0m0 7h0m1-3h0m1-7h0m3-1h0m0 2h0m3 0h0m0 3h0m0 6h0m2-11h0m1 6h0m0 5h0m1-11h0m1 11h0m4 0h0m2-9h0m1 0h0m5-1h0m3 6h0m3-3h0m2-2h0m2 1h0m0 5h0m0 3h0m1 0h0m2-8h0m0 6h0m1-9h0m1 0h0m0 5h0m2 2h0m1-2h0m0 4h0m3-7h0m0 2h0m0 7h0m1-5h0m1-5h0m0 5h0m3-2h0m1 2h0m2-1h0m9 3h0m2-5h0m3 5h0m1 2h0m3-3h0m2-7h0m0 1h0m1 10h0m2-2h0m2 2h0m3-2h0m5-5h0m3 0h0m1-4h0m4 3h0m6 8h0m5-6h0m2-5h0m0 11h0m1-10h0m0 4h0m1 2h0m1-4h0m0 8h0m1-9h0m4 9h0m4-9h0m0 5h0m1-6h0m0 10h0m1-4h0m3-6h0m0 2h0m1 4h0m1-7h0m0 2h0m1 1h0m2-1h0m3 0h0m3 1h0m7-3h0m1 3h0m3 2h0m5 2h0m3-5h0m0 7h0m3-8h0m1 5h0m1 1h0m7-2h0m5-2h0m2 5h0m1-6h0m1 3h0m1 4h0m1-2h0m3-1h0m3 1h0m0 4h0m1-11h0m2 3h0m1 1h0m2 4h0m2-4h0m6 5h0m1-7h0m4 6h0m1-8h0m3 11h0m1-7h0m3 3h0m0 3h0m1-6h0m2-3h0m4 5h0m3-5h0m1 3h0m0 2h0m1-6h0m0 1h0m3 7h0m1-8h0m2 6h0m2 3h0m2-6h0m2-2h0m1-1h0m0 3h0m0 4h0m2 1h0m1-7h0m0 9h0m4-6h0m0 3h0m0 2h0m4-4h0m1-5h0m1 7h0m1-2h0m2 4h0m1-9h0m1 1h0m0 3h0m2 0h0m0 3h0m3-2h0m0 4h0m3-9h0m1 9h0m2-9h0m2 3h0m0 8h0m5-1h0m2-8h0m4 4h0m1-3h0m1 3h0m2-4h0m0 3h0m-2 12h0m0 6h0m-1-1h0m-2-5h0m-1 6h0m-1-7h0m-3 1h0m-1 0h0m-3 2h0m0 1h0m-1-8h0m-1 1h0m0 7h0m-4 1h0m-1-7h0m-1 1h0m0 3h0m0 2h0m-4-8h0m-1 8h0m-1-5h0m-2 4h0m0 2h0m-1-6h0m-2 6h0m-1-7h0m0 4h0m-1-5h0m-3 4h0m-1 5h0m-2-8h0m-2 0h0m0 2h0m-1 3h0m-4-5h0m-3 4h0m0 5h0m-2-6h0m-1 4h0m-1 2h0m-3-2h0m-1-7h0m0 2h0m-2-2h0m0 0h0m-3 8h0m-2-9h0m0 7h0m-2-3h0m0 6h0m-1-10h0m0 1h0m-1 4h0m0 4h0m-3-2h0m-1-1h0m-1-4h0m-1 0h0m0 6h0m-2 1h0m-1-6h0m-2 1h0m-1-5h0m-1 2h0m-1 0h0m0 5h0m-5-7h0m0 9h0m-1-7h0m-5 7h0m-1-2h0m-1-5h0m0 1h0m0 7h0m-2-5h0m-1 3h0m-1 1h0m-3-5h0m-1 5h0m-1 1h0m-2-9h0m-5 0h0m0 4h0m-5 2h0m-1-7h0m-1 10h0m-2-10h0m-1 4h0m0 4h0m-1-1h0m-2-5h0m-1 6h0m0 3h0m-2-10h0m-1 8h0m-1-4h0m0 0h0m-1 0h0m0 4h0m-3-6h0m-1 3h0m-2-2h0m0 1h0m-1 3h0m-2-1h0m-2 1h0m-1-6h0m0 0h0m-3 0h0m0 6h0m-1-8h0m-1 4h0m-2 6h0m-1-6h0m-7-2h0m0 8h0m-4-10h0m-2 7h0m-3-4h0m-1 6h0m-1-8h0m0 1h0m0 3h0m0 2h0m-2 1h0m-2-4h0m-3 2h0m-4-3h0m-1 4h0m-1 1h0m-1-8h0m-3 0h0m-1 2h0m0 9h0m-3-5h0m-1-5h0m0 8h0m-2-3h0m0 2h0m0 3h0m-2-1h0m-10-4h0m-1-2h0m0 5h0m-1 1h0m-1-3h0m-2 1h0m-1-2h0m-1-5h0m-2 3h0m-1-2h0m-1 6h0m-2 2h0m-3-8h0m0 6h0m-4-2h0m-1 3h0m-4-7h0m-2 2h0m0 4h0m-3-3h0m-1-5h0m-4 11h0m-3-1h0m-2-2h0m-1 3h0m-2-11h0m-2 4h0m-2-3h0m-1 4h0m-6 1h0m-8-6h0m0 2h0m-3 2h0m-1-4h0m0 7h0m-1 2h0m-5-1h0m-1-1h0m-3 1h0m-1-2h0m-2-3h0m-5 3h0m-1 2h0m-2-8h0m0 0h0m-1 8h0m-2-3h0m-1 4h0m-1-3h0m-1-6h0m-2 6h0m-1 3h0m-1-4h0m-1 0h0m-1 5h0m-3-10h0m0 3h0m-1 6h0m-2-5h0m-1 8h0m1 10h0m3-1h0m2-7h0m3 7h0m1-9h0m2 3h0m6 7h0m1-8h0m1-2h0m4 2h0m11 2h0m0 6h0m1 0h0m6-3h0m1 4h0m2-5h0m4 3h0m1 1h0m8-10h0m0 2h0m1 2h0m0 5h0m2-7h0m0 3h0m1 3h0m4 0h0m0 2h0m2 0h0m1-3h0m2-6h0m0 5h0m0 1h0m2-6h0m3-1h0m1 3h0m0 2h0m0 5h0m1-10h0m0 11h0m1-9h0m2-1h0m1 3h0m3-4h0m0 5h0m1-3h0m1-2h0m0 3h0m2 6h0m3 2h0m2-8h0m1 2h0m1 6h0m2-8h0m0 6h0m2-6h0m7 1h0m6-3h0m0 5h0m1-3h0m2 2h0m2 5h0m1-5h0m1 6h0m3-4h0m0 3h0m1-8h0m0 5h0m2 2h0m2-4h0m1 5h0m1-9h0m0 8h0m5-9h0m0 7h0m3-3h0m1-3h0m0 4h0m0 4h0m0 2h0m1-9h0m3 9h0m1-9h0m1 3h0m0 2h0m0 2h0m3-6h0m9 3h0m0 2h0m2 1h0m2-7h0m1 3h0m1-4h0m0 8h0m3-3h0m2-4h0m3 3h0m2 6h0m4-1h0m1-10h0m2 9h0m2-6h0m0 8h0m1-11h0m1 9h0m2-4h0m4-4h0m3 1h0m6 1h0m0 3h0m0 1h0m0 4h0m1-10h0m3 8h0m2-3h0m1-6h0m1 5h0m0 5h0m1-8h0m0 6h0m2 1h0m1 2h0m3-11h0m0 9h0m1-5h0m0 2h0m1-5h0m2 9h0m1-7h0m0 1h0m0 3h0m2-3h0m0 2h0m4 4h0m1-8h0m0 3h0m1 1h0m1-5h0m0 7h0m2 0h0m3-7h0m0 2h0m3 1h0m1 3h0m1-7h0m11 6h0m15 4h0m4-3h0m7-3h0m4 1h0m0 3h0m1 3h0m4-3h0m1 0h0m2 3h0m1-4h0m1-4h0m3 2h0m3-2h0m3 2h0m4 5h0m3-5h0m0 6h0m4-8h0m3-3h0m-2 15h0m-3 2h0m-1-2h0m-4 3h0m0 1h0m-4-2h0m-2-5h0m-2 7h0m-2-7h0m0 5h0m0 5h0m-2-10h0m0 11h0m-2-7h0m-1-3h0m-3 1h0m-5-1h0m0 9h0m-5-4h0m-1 3h0m-2-1h0m-1 3h0m-2-8h0m-1 6h0m-2-4h0m0 1h0m-1-2h0m-1 4h0m-1-4h0m-7 0h0m-1 0h0m0 7h0m-1-3h0m-3-2h0m-4-5h0m-1 8h0m-1-4h0m0 3h0m-3-3h0m0 3h0m-1-5h0m-3 8h0m-2-2h0m-1-8h0m0 4h0m-2 2h0m-1 2h0m-1-1h0m-1-3h0m-2 4h0m-1-8h0m-3 5h0m0 0h0m-2 4h0m-2-5h0m-4-5h0m0 9h0m-2-5h0m-1 7h0m-3-3h0m-1 3h0m-1-6h0m-1 6h0m-3 0h0m-1-7h0m-3 3h0m-1-5h0m0 2h0m-1-4h0m0 7h0m-1 4h0m-2-7h0m-2 6h0m0 1h0m-2-5h0m-2 3h0m-2-9h0m0 9h0m-10-7h0m0 4h0m-1 0h0m-3 0h0m0 5h0m-5-9h0m0 5h0m-1-1h0m-1-6h0m0 7h0m-1 4h0m-2-9h0m0 5h0m-2-5h0m-2 0h0m-4 5h0m-1 0h0m-2-3h0m0 5h0m-5-1h0m-3-5h0m0 7h0m-2-8h0m-2 2h0m-2-4h0m-1 5h0m0 2h0m-1 2h0m-2-1h0m-1-2h0m-1 4h0m-2-9h0m-3 2h0m0 0h0m-2 0h0m-1 7h0m-1-8h0m-2 1h0m0 5h0m-2-6h0m0 8h0m-2-9h0m-3 8h0m-4-1h0m-4-3h0m0 2h0m-4 2h0m-1-2h0m-1 4h0m-2-11h0m0 5h0m-1 5h0m-1-8h0m-1 1h0m-1 2h0m0 4h0m-1-2h0m-1-2h0m-1-2h0m0 7h0m-2-9h0m-2 6h0m-3-5h0m0 2h0m0 4h0m-1-7h0m-4 10h0m-1-8h0m0 6h0m-2-3h0m-1-6h0m-3 7h0m-3-5h0m0 5h0m-2 2h0m-1 1h0m-1-9h0m0 3h0m-2 3h0m-2-4h0m0 5h0m-5-1h0m0 1h0m0 3h0m-3-1h0m-1-5h0m-1-2h0m0 5h0m-1-1h0m-1-5h0m-2 2h0m-2 1h0m-2 1h0m-1-3h0m-1 7h0m-2-8h0m-1 7h0m-1 2h0m-3-6h0m-2 1h0m0 3h0m-4-3h0m-3-6h0m-1 2h0m-2-2h0m0 7h0m-1-6h0m-2 5h0m-2-5h0m0 10h0m-4-11h0m-1 11h0m-2-7h0m-1 5h0m-1-2h0m0 4h0m-4-1h0m-1-5h0m-1-2h0m-1 16h0m5 4h0m2-10h0m0 7h0m1-7h0m0 2h0m3-3h0m0 3h0m5 3h0m1-4h0m2 1h0m0 1h0m1-3h0m2 10h0m0 0h0m1-3h0m3 0h0m1-3h0m2 1h0m1-3h0m1-1h0m2-2h0m0 5h0m1 6h0m4-4h0m1-4h0m1 7h0m1-8h0m1 0h0m1 4h0m2-6h0m1 7h0m0 2h0m1-6h0m1 3h0m0 2h0m2-5h0m3 6h0m1-3h0m2-4h0m0 4h0m0 4h0m2-5h0m2 0h0m0 3h0m0 1h0m4-7h0m2 2h0m0 2h0m2 2h0m2-1h0m2 4h0m2-9h0m1-1h0m4 1h0m0 7h0m2-7h0m0 5h0m1-4h0m2-2h0m0 5h0m4-1h0m1 3h0m2-8h0m1 2h0m0 8h0m6 0h0m4-6h0m1-3h0m2 8h0m13-3h0m2-3h0m1-3h0m2 11h0m1-11h0m1 1h0m0 8h0m5-1h0m0 3h0m2-5h0m2-3h0m3 7h0m3-5h0m0 1h0m1 5h0m2-8h0m1-1h0m0 8h0m0 1h0m4-9h0m1 3h0m2-2h0m5 3h0m0 3h0m1-4h0m0 5h0m5-5h0m0 3h0m1 1h0m1-8h0m1 6h0m0 2h0m1-7h0m1-2h0m2 2h0m2 0h0m5 5h0m3-5h0m3 3h0m0 4h0m2-5h0m2 5h0m2-6h0m0 8h0m2-7h0m0 7h0m4-5h0m1-6h0m0 9h0m1-6h0m1 3h0m0 4h0m0 1h0m2-10h0m0 4h0m0 4h0m3-2h0m1-7h0m0 5h0m1 1h0m5-3h0m1-3h0m1 3h0m3 6h0m10-6h0m3 1h0m2-4h0m0 11h0m1-5h0m1-1h0m2 4h0m1-4h0m2-2h0m0 3h0m5 1h0m4 4h0m5-7h0m1 0h0m1 6h0m0 1h0m2-10h0m1-1h0m0 8h0m2-4h0m5 7h0m1-3h0m1-5h0m0 5h0m1-4h0m2-3h0m0 8h0m2-6h0m2-3h0m4 7h0m2 3h0m2-6h0m0 2h0m1 1h0m0 1h0m2-6h0m3 1h0m1 8h0m2-11h0m0 7h0m1 1h0m2 0h0m1-3h0m0 2h0m2 1h0m2-7h0m0 2h0m0 5h0m4-5h0m2 0h0m3-2h0m1 2h0m1 1h0m1-2h0m0 5h0m1 2h0m2 12h0m-3 2h0m-3-11h0m-3 0h0m0 2h0m0 9h0m-4-9h0m0 9h0m-1-2h0m-1-8h0m0 4h0m-4 3h0m-6-6h0m0 6h0m-2-6h0m-1 0h0m-1 4h0m0 2h0m0 2h0m-1-9h0m-3 8h0m-1 2h0m-1-9h0m-1-1h0m0 3h0m0 4h0m-2-3h0m0 5h0m-1-1h0m-1-3h0m-3-5h0m0 0h0m0 2h0m-2 6h0m-1-1h0m-2-8h0m0 11h0m-2-2h0m-9-6h0m-2-2h0m0 3h0m-3-4h0m0 5h0m-2-3h0m0 7h0m-3-3h0m-1-6h0m0 11h0m-2-1h0m-2-8h0m-4 9h0m-1-1h0m-4-1h0m-3 2h0m-4-5h0m-3 3h0m-1-6h0m0 4h0m-1 2h0m-6-5h0m-2 4h0m-3-7h0m0 6h0m0 0h0m-4 2h0m-1-6h0m-2 5h0m-2-2h0m-1-4h0m-1 8h0m-2-1h0m-3-8h0m0 4h0m-3-4h0m-1 7h0m-1-3h0m-1 6h0m-1-10h0m-3 4h0m-2-2h0m-2 2h0m0 4h0m-1-8h0m-1 1h0m-4-2h0m-1 11h0m-2-2h0m-2-4h0m-2-2h0m-2-2h0m-2 4h0m0 6h0m-1-9h0m-2 3h0m-1 6h0m-1-8h0m0 1h0m-2 4h0m0 2h0m-3-10h0m0 10h0m-4-3h0m-6-6h0m0 6h0m-2-2h0m0 6h0m-2-8h0m-1 8h0m-2-11h0m-1 6h0m0 3h0m-1-5h0m-1 5h0m0 2h0m-1-6h0m-1-5h0m0 4h0m-1-2h0m0 5h0m-2 1h0m-2-2h0m0 3h0m-3-9h0m-5 5h0m-1-4h0m0 3h0m-1 5h0m-2-5h0m-2-3h0m0 3h0m-2 0h0m-1-3h0m-2 7h0m-1-6h0m0 4h0m-1-5h0m0 4h0m0 3h0m-1-7h0m-2 7h0m-2-6h0m-1 1h0m-1 2h0m-2-5h0m-1 11h0m-1-8h0m0 8h0m-4-1h0m-3-4h0m-5 5h0m-1-6h0m-2 5h0m-2-7h0m0 4h0m-1-4h0m-3 0h0m0 7h0m-1-1h0m-1-3h0m-1 4h0m-2-2h0m-1-2h0m-1 3h0m-1-9h0m-2 3h0m0 4h0m-1 0h0m-2-1h0m-1-6h0m-2 4h0m-1 6h0m-5-1h0m-2-5h0m-4 4h0m0 2h0m-1-6h0m-1-1h0m-1 1h0m-3 7h0m-3-10h0m-1 2h0m-1-3h0m0 11h0m-2-1h0m-2 1h0m-1-4h0m-4-6h0m-1 0h0m-2 1h0m0 3h0m-4-5h0m-6 10h0m-1-4h0m0 5h0m-2-6h0m-1-5h0m0 9h0m-1-9h0m-2 11h0m-1-7h0m2 13h0m0 6h0m2-5h0m0 3h0m5 0h0m3-9h0m0 4h0m0 3h0m0 3h0m4-4h0m3-1h0m1 1h0m0 3h0m5-4h0m3 0h0m1 3h0m2-6h0m0 7h0m2-3h0m1-3h0m0 0h0m1 8h0m2-4h0m1-3h0m1-1h0m0 2h0m1-3h0m0 7h0m5-4h0m5-2h0m4-1h0m0 5h0m1-2h0m0 5h0m2-2h0m1-5h0m2 4h0m2-4h0m5 1h0m3 6h0m3-3h0m1-1h0m0 1h0m1-5h0m1 3h0m0 5h0m2 0h0m1-1h0m1-7h0m2 5h0m3 4h0m1-2h0m5-5h0m2 2h0m1 5h0m1-11h0m0 9h0m0 0h0m1-5h0m1-1h0m2-2h0m2 3h0m1 4h0m1-7h0m1 2h0m2 2h0m0 3h0m1-1h0m1-4h0m3-3h0m0 2h0m0 6h0m2-2h0m0 4h0m2 0h0m2-5h0m1 2h0m1-6h0m3 8h0m2-9h0m2 3h0m1 1h0m0 3h0m2 4h0m1-5h0m0 1h0m1 2h0m2-5h0m1 5h0m1-4h0m4-5h0m2 9h0m1-8h0m1 6h0m2-5h0m0 8h0m2-9h0m0 4h0m1-5h0m3 3h0m2-2h0m2 1h0m0 5h0m1-2h0m3-4h0m1 5h0m1-2h0m0 7h0m2-10h0m0 8h0m1-3h0m2 1h0m1-4h0m11-3h0m0 11h0m1-10h0m1 5h0m2-6h0m2 6h0m1-3h0m0 2h0m2-2h0m3-1h0m0 9h0m1-5h0m8 3h0m2 0h0m3 0h0m1-3h0m4 0h0m2-2h0m3 1h0m0 2h0m2-4h0m2-3h0m0 3h0m1 0h0m2 2h0m1 1h0m1 5h0m1-10h0m0 0h0m0 6h0m3 1h0m2-3h0m1 5h0m2-6h0m3-3h0m0 5h0m2 0h0m1-4h0m1-2h0m6 10h0m2-5h0m3 2h0m2-2h0m0 5h0m2 0h0m1-10h0m1 6h0m2-5h0m2 3h0m0 6h0m3-7h0m3 1h0m2 3h0m1 2h0m6-8h0m1 6h0m1-3h0m9-1h0m0 6h0m0 1h0m3 1h0m2-7h0m1-1h0m0 7h0m1-5h0m0 2h0m1 2h0m1-5h0m2 1h0m0 5h0m1-9h0m0 9h0m1-6h0m1 5h0m3-4h0m2-3h0m6 0h0m1 6h0m1 2h0m-1 8h0m-1-5h0m-4 9h0m-1-6h0m0 4h0m-1-2h0m-8-6h0m0 1h0m-2 7h0m-1-4h0m-1-4h0m0 10h0m-1-2h0m-1-5h0m-6-1h0m0 3h0m-2-3h0m0 8h0m-9-5h0m0 2h0m-3-7h0m0 1h0m0 3h0m-2 2h0m-1-3h0m0 5h0m-2 2h0m-1-7h0m0 1h0m-1 6h0m-4-6h0m0 5h0m-1-9h0m-2 5h0m0 3h0m0 3h0m-1-9h0m0 9h0m-3-8h0m-1 0h0m0 4h0m-6-6h0m-1 6h0m0 4h0m-1-11h0m-3 2h0m0 4h0m-1-3h0m0 4h0m-8 0h0m0 2h0m-2-9h0m-1 9h0m-2-9h0m-1 0h0m0 5h0m-1-5h0m-1 7h0m-3-4h0m0 3h0m-1 3h0m-4 0h0m-1-9h0m-4 6h0m0 0h0m-1-2h0m-3 3h0m-2-7h0m0 4h0m-3-3h0m-1 2h0m-4-2h0m-1 8h0m-2-1h0m-1-6h0m-1 9h0m-1-3h0m0 2h0m0 1h0m-1 0h0m-6-2h0m-5 1h0m-1-6h0m-2 3h0m-4-1h0m-2-2h0m-2 5h0m-2-1h0m0 3h0m-3-8h0m-2 3h0m0 2h0m-6-8h0m0 8h0m0 1h0m-3 0h0m-2 0h0m-2-9h0m0 10h0m-1-8h0m-1 6h0m-4 2h0m-1-8h0m-2 2h0m-2-2h0m-1 0h0m-2-2h0m-7 10h0m-1-7h0m0 8h0m-1-3h0m-1-3h0m-1 6h0m-1-5h0m-1-4h0m-2 1h0m-2 8h0m-1-6h0m-1-3h0m-1-1h0m-2 9h0m-1-7h0m0 2h0m0 1h0m-1 4h0m-2-5h0m-1 5h0m-1-6h0m-2-4h0m-1 0h0m-2 4h0m0 3h0m0 3h0m-1 1h0m-1-2h0m-1-7h0m-1 7h0m-2-6h0m-1 1h0m-1 3h0m-3-1h0m-4 0h0m-1 5h0m0 0h0m-2-7h0m-1-2h0m-1 0h0m-4 2h0m-2 4h0m-1-4h0m-5 5h0m-2-3h0m0 3h0m-3 0h0m-1-8h0m-1 7h0m-1-6h0m-2 7h0m-3-7h0m-1 5h0m-2-7h0m-2 4h0m-1 3h0m0 4h0m-1-9h0m0 8h0m-2-4h0m-4-1h0m-1 3h0m-1 2h0m-1-8h0m0 5h0m-3-3h0m-3 0h0m0 2h0m0 1h0m-1-3h0m-1-2h0m-3 0h0m-1-1h0m0 8h0m0 2h0m-4 0h0m-2-3h0m-1-6h0m-1 2h0m-2-4h0m0 8h0m0 1h0m-3-4h0m-6 2h0m0 4h0m-2-5h0m-1 0h0m-3 1h0m-1 4h0m-1 10h0m0 2h0m1-6h0m1-5h0m1 0h0m2 10h0m3 0h0m5-5h0m3-5h0m0 11h0m7-11h0m0 5h0m4 2h0m2-4h0m0 7h0m2-5h0m3 2h0m0 4h0m1-3h0m1-7h0m0 5h0m3-6h0m0 10h0m3 0h0m2-10h0m2 2h0m1 3h0m2 3h0m0 3h0m1-5h0m2-5h0m3 0h0m2 8h0m1-1h0m1-1h0m2-4h0m2-3h0m2 1h0m2 6h0m4-6h0m1 1h0m1 8h0m1 1h0m2-11h0m1 3h0m3 7h0m2-6h0m4 0h0m4-1h0m1-3h0m3 4h0m0 2h0m1-3h0m0 8h0m1-5h0m1-6h0m1 9h0m3-6h0m1 8h0m3-9h0m3 2h0m0 5h0m3-7h0m1 6h0m6 3h0m4-11h0m0 2h0m4-2h0m3 1h0m2 3h0m1-4h0m2 10h0m2-8h0m0 4h0m3-6h0m1 1h0m4 0h0m0 3h0m0 3h0m3 0h0m0 4h0m1-11h0m0 3h0m0 5h0m1 3h0m1-4h0m2-4h0m2 7h0m3-7h0m0 6h0m1-4h0m3 6h0m1-9h0m0 3h0m0 0h0m1-4h0m0 9h0m3-10h0m0 8h0m3-2h0m1-6h0m3 3h0m0 7h0m4-5h0m1 3h0m1-2h0m1 4h0m1 1h0m3-7h0m3 6h0m4-3h0m0 1h0m3 1h0m1 2h0m1-4h0m1-4h0m1-2h0m2 0h0m1 3h0m1 1h0m0 4h0m2 2h0m2-9h0m0 5h0m1-5h0m0 6h0m2 3h0m3-5h0m0 4h0m4-3h0m0 3h0m4-9h0m0 6h0m0 1h0m2-3h0m0 5h0m2-3h0m1-5h0m2 1h0m2 3h0m8-1h0m3-4h0m0 7h0m0 1h0m0 2h0m3-11h0m2 5h0m0 4h0m3-1h0m2-1h0m0 4h0m1-4h0m1-7h0m0 3h0m0 6h0m0 2h0m2-2h0m0 2h0m2-6h0m2-3h0m1 8h0m1-6h0m1-4h0m3 0h0m2 3h0m3 0h0m1 2h0m2 5h0m1 1h0m3-3h0m1-2h0m3 5h0m5-7h0m1 2h0m2 1h0m0 1h0m1-7h0m0 3h0m4 7h0m2-9h0m0 7h0m1-2h0m1 2h0m1-5h0m4-2h0m1 9h0m1-3h0m2-2h0m1-2h0m0 5h0m1-9h0m2 6h0m1 14h0m-1-2h0m-1 2h0m-3-4h0m0 1h0m-3 5h0m-1-2h0m-6-8h0m-2 2h0m-2 5h0m-2-3h0m-1 1h0m0 3h0m-3 1h0m-1-3h0m-1 5h0m-1-10h0m0 3h0m-1 0h0m0 1h0m-1 4h0m-3-8h0m-1 1h0m-1 5h0m-2-7h0m0 1h0m-2 7h0m-1 1h0m-1-4h0m-1-1h0m-1 6h0m-1-4h0m-1-2h0m-1 3h0m-1 0h0m0 4h0m-5-1h0m-2 1h0m-9 0h0m-2-8h0m-1 1h0m0 3h0m-2-2h0m-1-1h0m-3 6h0m-1-3h0m-6 4h0m-5 0h0m-2-11h0m-1 6h0m-3 4h0m-1-9h0m-2 3h0m0 5h0m-4-6h0m-1-2h0m0 9h0m-3-7h0m-2 7h0m-1-6h0m-1 1h0m-5 6h0m-2-1h0m-1-6h0m-1-2h0m-5 0h0m0 3h0m-4-3h0m-4 9h0m-2-11h0m0 8h0m-1-5h0m-3-3h0m-1 3h0m-1 3h0m-3-1h0m-1-4h0m-2 2h0m-1 5h0m0 2h0m-1-6h0m-1 3h0m-5-5h0m0 3h0m-4-5h0m0 6h0m-2 3h0m-1-9h0m-1 6h0m-2-6h0m-2 7h0m-3-5h0m-1 3h0m0 3h0m-2-6h0m0 5h0m-2-7h0m0 7h0m-2-3h0m-1 5h0m-1 2h0m-1-11h0m-1 8h0m-4-8h0m-5 4h0m-2-1h0m0 4h0m-2-5h0m-1 0h0m0 3h0m-1-1h0m-3-3h0m-2 5h0m-1 2h0m-1-7h0m0 0h0m-1 9h0m-1-4h0m-2 1h0m0 0h0m-3 0h0m-3 2h0m-1 1h0m-1-8h0m0 7h0m-4-5h0m0 5h0m-1 0h0m-1-5h0m0 7h0m-1-6h0m-1 0h0m-5 1h0m-1 2h0m-1-6h0m0 9h0m-3-7h0m0 2h0m0 4h0m-3-9h0m-1 5h0m-3 4h0m-1-5h0m-6-4h0m-3 3h0m-1-4h0m-2 2h0m0 9h0m-2 0h0m-3-10h0m-1 2h0m-2-3h0m-1 1h0m0 1h0m0 3h0m0 1h0m-5-3h0m-3 0h0m-2 3h0m-4-2h0m-3 5h0m-2-4h0m-1-1h0m-1 3h0m-2-7h0m-2 8h0m-3-7h0m-1 2h0m0 2h0m-3-3h0m-6 1h0m-1 1h0m-4-4h0m0 4h0m0 6h0m-3-6h0m-1 7h0m-1-7h0m-2-4h0m-1 9h0m-3-2h0m-1 3h0m-1 4h0m2 6h0m2-7h0m2-1h0m1 1h0m1 3h0m0 7h0m2-8h0m1 8h0m1-11h0m1 11h0m5-11h0m1 11h0m5-9h0m7 7h0m1-3h0m0 3h0m3-5h0m0 4h0m3-2h0m1-2h0m1 2h0m1 4h0m3-8h0m0 1h0m2 0h0m0 2h0m1 3h0m1-4h0m1 7h0m2-7h0m1 4h0m3-6h0m0 3h0m3-2h0m1 4h0m1-4h0m0 6h0m1-1h0m2-5h0m1 2h0m0 3h0m1-4h0m0 3h0m2-4h0m3 2h0m2 5h0m3 0h0m3 0h0m4-7h0m1 0h0m0 5h0m1 1h0m1-5h0m4 0h0m1-1h0m2-2h0m0 7h0m0 3h0m1-11h0m0 5h0m1 3h0m2-6h0m0 2h0m1 3h0m3-7h0m0 6h0m2-3h0m0 0h0m3-3h0m0 6h0m3-1h0m0 6h0m1-11h0m0 5h0m1-5h0m1 0h0m0 7h0m0 2h0m2-7h0m2 2h0m1-4h0m0 10h0m1-5h0m1 5h0m3-5h0m1 5h0m1-10h0m0 8h0m1-4h0m1-1h0m1 0h0m1 7h0m1-9h0m0 5h0m1 5h0m1-6h0m0 1h0m1-5h0m3 9h0m2-3h0m1-5h0m0 9h0m4-11h0m0 5h0m1 5h0m3-9h0m4 1h0m0 2h0m0 4h0m2-3h0m2-2h0m0 5h0m0 3h0m3-8h0m3 2h0m0 3h0m1-8h0m0 6h0m2-4h0m2 4h0m2-2h0m1 2h0m3 2h0m1 2h0m1 1h0m1-6h0m1-4h0m2 5h0m2 3h0m2-9h0m2 4h0m4-2h0m6 6h0m1 3h0m4-1h0m3 0h0m1-6h0m0 4h0m2 1h0m2 1h0m2-5h0m0 4h0m1-4h0m0 1h0m4-5h0m0 4h0m4-4h0m0 5h0m1-2h0m1 5h0m0 2h0m3-8h0m0 6h0m2 0h0m3-8h0m0 3h0m1 0h0m0 3h0m3 4h0m1-4h0m3-4h0m0 2h0m0 4h0m3-9h0m0 7h0m2-4h0m1 5h0m0 2h0m2-4h0m0 4h0m1-2h0m9-4h0m2-1h0m3 7h0m1-9h0m0 5h0m0 2h0m1 3h0m2-3h0m4 0h0m2 2h0m3-3h0m3 1h0m3-7h0m0 3h0m2 0h0m0 5h0m1-6h0m3 1h0m0 3h0m2-2h0m3 0h0m2-3h0m0 9h0m1-8h0m3 7h0m11-7h0m0 0h0m0 6h0m4-3h0m2 3h0m1-3h0m1 8h0m0 4h0m-2-4h0m0 7h0m-3-9h0m-1 6h0m-2-2h0m0 3h0m-2-4h0m-2 3h0m-1 5h0m-7-4h0m-2-7h0m-1 10h0m-1-10h0m-1 9h0m-1-7h0m0 4h0m-2-2h0m-1-4h0m-1 4h0m-1 6h0m-3-2h0m-3 1h0m-1-3h0m-1 4h0m-1-6h0m-1 6h0m-2-8h0m-1 1h0m0 7h0m-3-2h0m-3-2h0m-1-4h0m-1 0h0m0 8h0m-2-6h0m0 2h0m-1-3h0m-1 7h0m-2-4h0m-1-1h0m-7 0h0m-3-3h0m-2 4h0m-1-3h0m-3 8h0m-2-7h0m0 5h0m-1-7h0m-1 4h0m-1 0h0m-2 3h0m0 2h0m-2-10h0m-1 0h0m0 5h0m-1 0h0m-1-3h0m-1 8h0m-1-1h0m-1-7h0m-2-1h0m-1 2h0m0 7h0m-2-7h0m0 7h0m-1-9h0m-1 9h0m-2-6h0m0 2h0m0 3h0m-2-10h0m-3 5h0m0 2h0m-4-1h0m-1-5h0m0 2h0m-2 8h0m-2-9h0m0 9h0m-4-9h0m-6 7h0m-4-2h0m0 4h0m-2-7h0m0 2h0m0 4h0m-3-2h0m0 3h0m-2-2h0m-2 1h0m-3-6h0m0 6h0m-3-3h0m-2-1h0m-1-2h0m-2 1h0m0 3h0m-4 2h0m-2-2h0m-5 0h0m0 2h0m0 1h0m-2-10h0m-1 0h0m0 5h0m0 1h0m-2 4h0m-5-6h0m0 5h0m-3-6h0m0 4h0m-1-3h0m-1 1h0m-1-5h0m-2 7h0m-1-6h0m-3 2h0m-1-1h0m0 2h0m-3 1h0m-1-6h0m-1 9h0m-6-8h0m-1 3h0m-3 0h0m-1-3h0m-3 6h0m-2-5h0m0 5h0m-2-3h0m0 7h0m-2-2h0m-1-9h0m0 5h0m-1 0h0m-1 5h0m-2-4h0m0 1h0m-3 1h0m-2-7h0m0 5h0m-3 4h0m-1-3h0m-1-7h0m0 10h0m-2-8h0m-2 5h0m-1-4h0m-2-2h0m-9 5h0m-2-6h0m0 3h0m-2 8h0m-1-1h0m-2 0h0m-3 0h0m-2-8h0m0 1h0m-2 0h0m-1 5h0m0 2h0m-1-6h0m-1-3h0m-2 3h0m0 1h0m0 2h0m-4-7h0m0 5h0m0 2h0m-3-6h0m0 3h0m0 6h0m-2-8h0m-4 1h0m-1-3h0m-2 3h0m0 4h0m-3 4h0m-1-11h0m-1 4h0m-1 6h0m-1-1h0m-8-5h0m-2 2h0m0 3h0m-1-7h0m0 4h0m-1-3h0m-2 0h0m0 8h0m-1 0h0m-2-3h0m-2-5h0m0 1h0m0 3h0m-3-5h0m-1 4h0m0 4h0m-1-6h0m-3-4h0m0 4h0m-2-2h0m0 2h0m-3-1h0m2 9h0m0 1h0m0 6h0m1 1h0m1 3h0m1-6h0m1-4h0m1 3h0m1 1h0m1-1h0m0 6h0m1-1h0m3-8h0m0 10h0m1-4h0m2-5h0m0 0h0m2 7h0m1-9h0m0 6h0m3 0h0m1-5h0m2-1h0m1 3h0m0 4h0m6-7h0m3 3h0m2-1h0m1-2h0m2 11h0m2-2h0m1-6h0m1 7h0m5 1h0m1-2h0m2-5h0m0 3h0m1-6h0m0 6h0m3-7h0m0 3h0m1 2h0m0 4h0m2-3h0m1 2h0m1-8h0m4 6h0m3-4h0m0 5h0m1 2h0m1-2h0m2-6h0m1 6h0m6-6h0m0 5h0m3-5h0m1 2h0m8-2h0m0 10h0m2 0h0m1-10h0m5 10h0m2-11h0m0 10h0m3 0h0m3-10h0m0 8h0m6 3h0m3-2h0m1-9h0m0 6h0m0 4h0m1 1h0m4-3h0m3-3h0m0 1h0m2-6h0m0 7h0m1-1h0m1 2h0m3-7h0m1 4h0m5-2h0m2 0h0m2 1h0m2 3h0m2 0h0m2 1h0m1 2h0m3-9h0m0 2h0m1 4h0m1 4h0m2-8h0m3 0h0m1 5h0m2 2h0m6 1h0m1-6h0m1 5h0m2 1h0m1-5h0m0 3h0m1-8h0m3 7h0m1-4h0m3-1h0m0 4h0m1 3h0m1-8h0m0 3h0m2-2h0m0 5h0m2-2h0m3-4h0m3 6h0m3-6h0m4 8h0m5-10h0m0 3h0m1-3h0m2 4h0m0 1h0m0 5h0m1-10h0m1 7h0m0 2h0m4-7h0m0 3h0m2-3h0m2 5h0m1-5h0m0 7h0m3-8h0m0 10h0m2-6h0m1-1h0m0 5h0m3 0h0m1-7h0m0 1h0m0 2h0m0 5h0m7-8h0m0 3h0m3 0h0m1-4h0m1 9h0m2-3h0m2 0h0m2-4h0m11 1h0m0 1h0m2 5h0m1-6h0m3-3h0m0 6h0m1-5h0m1-1h0m4 0h0m0 10h0m1-6h0m0 1h0m1-3h0m1-2h0m2 5h0m1-6h0m1 2h0m5 8h0m0 0h0m1-7h0m1 2h0m1 5h0m1-5h0m3 0h0m0 5h0m1-10h0m1 6h0m5-3h0m0 7h0m0 0h0m1-2h0m2 2h0m1-5h0m1-4h0m1 0h0m1 9h0m3-9h0m2 9h0m1-4h0m2-3h0m1 10h0m-4 10h0m-1-1h0m-2-8h0m-9 4h0m-2-4h0m0 9h0m-1-11h0m-1 2h0m-1 6h0m-4 0h0m0 3h0m-1-11h0m0 1h0m-1 5h0m-2 1h0m-3-5h0m-1 5h0m0 4h0m-2-8h0m0 1h0m-2-4h0m0 1h0m-1 4h0m0 6h0m-1-3h0m-3-4h0m-1 6h0m-4-4h0m-2-5h0m-2 7h0m-3 3h0m-1-4h0m-9-7h0m-2 6h0m-3-6h0m-2 1h0m-2 2h0m-3-3h0m0 5h0m-4 6h0m-1-11h0m-1 2h0m-1 4h0m-1 5h0m-1-6h0m-3-2h0m-2 2h0m-3 3h0m-2-3h0m0 3h0m-2-7h0m-3 5h0m-1-6h0m-2 3h0m-1 2h0m-3-3h0m0 2h0m-1-2h0m-8-2h0m0 3h0m-2-3h0m0 3h0m0 5h0m-1-3h0m-1 2h0m-1-1h0m-1-4h0m-1 4h0m-1-5h0m0 9h0m-2-8h0m0 5h0m-2-6h0m0 7h0m-3 3h0m-2-4h0m-2 1h0m-2-6h0m-2 8h0m-1-8h0m-1 7h0m-1-4h0m0 5h0m-3-5h0m-1 5h0m-4-2h0m-3 1h0m-1 0h0m-1-6h0m-2-1h0m0 9h0m-3-10h0m-2 8h0m-2-4h0m-1-1h0m-2-1h0m-2 7h0m-4-6h0m-2 3h0m-1-5h0m0 5h0m0 3h0m-4-9h0m-1 4h0m0 3h0m-2-8h0m0 3h0m-2-3h0m0 11h0m-1-4h0m-2-3h0m-1 3h0m-2 1h0m0 2h0m-1-10h0m0 10h0m-1-1h0m-2-3h0m-1-4h0m-1 8h0m-1-7h0m-5-2h0m-1 2h0m0 2h0m0 4h0m-1 2h0m-7-8h0m0 2h0m-1 2h0m-2-3h0m-1 3h0m-1-1h0m-1-5h0m0 1h0m-18 4h0m0 3h0m-4 0h0m0 0h0m-1 1h0m-2-10h0m-3 10h0m-2-7h0m-1-2h0m-3 2h0m-2 7h0m-4-8h0m-4 4h0m-2-3h0m-3 7h0m-1-4h0m-1 1h0m-2-5h0m-1 2h0m0 4h0m-4 0h0m-1-5h0m-1 5h0m-1 0h0m-4-8h0m0 4h0m-3-3h0m-1-1h0m-2 1h0m0 2h0m0 5h0m0 3h0m-2-11h0m-3 3h0m0 4h0m0 3h0m-2-5h0m-1 4h0m-5-6h0m0 6h0m0 0h0m-4-2h0m-4-3h0m0 7h0m-2-2h0m0 9h0m1-2h0m1-2h0m0 1h0m1 4h0m5-3h0m3 0h0m1-3h0m3 3h0m2 4h0m2-7h0m2 4h0m0 2h0m1 0h0m5-5h0m0 3h0m1-5h0m0 1h0m1 4h0m0 3h0m2-7h0m1 5h0m1 5h0m2-11h0m1 1h0m1 10h0m2-11h0m0 9h0m1-7h0m0 2h0m7 3h0m1 3h0m4-7h0m1-1h0m2 6h0m1 3h0m2-9h0m0 5h0m1-5h0m0 9h0m4-10h0m1 4h0m0 4h0m1-3h0m3-5h0m3 0h0m1 3h0m2 4h0m0 1h0m1-5h0m1-2h0m0 9h0m5-10h0m0 8h0m2-6h0m0 1h0m1 4h0m2 3h0m1-8h0m0 6h0m2-1h0m6 1h0m3-6h0m2 6h0m0 2h0m1-4h0m3-7h0m0 5h0m0 3h0m7-6h0m0 7h0m5-6h0m0 5h0m0 3h0m3-2h0m2-3h0m3 4h0m5-8h0m1-2h0m1 0h0m0 10h0m5-6h0m0 4h0m1 1h0m1-9h0m0 3h0m2 3h0m4-2h0m0 5h0m3-4h0m2-3h0m3 2h0m0 2h0m4 1h0m0 2h0m3 1h0m2-8h0m1 5h0m0 3h0m2-6h0m1 2h0m1-1h0m5-1h0m1 5h0m2-7h0m5 6h0m2-6h0m0 2h0m4-4h0m0 4h0m1-4h0m0 8h0m1-6h0m4 1h0m7-1h0m0 5h0m2 0h0m1-6h0m0 6h0m0 3h0m1-6h0m2-3h0m2 7h0m0 3h0m4-9h0m0 4h0m1 4h0m5-4h0m0 4h0m1 1h0m1-10h0m1 6h0m1-2h0m2-1h0m1-2h0m0 4h0m2 3h0m1-1h0m2-2h0m3-6h0m0 4h0m2-2h0m3 1h0m1-1h0m0 8h0m1-8h0m0 4h0m2 2h0m0 3h0m1-1h0m1-7h0m1-3h0m1 8h0m3 3h0m3-2h0m1-3h0m1-1h0m1 3h0m6-3h0m1-1h0m1 5h0m2-1h0m2 3h0m1-5h0m1-5h0m1 2h0m3-2h0m0 0h0m2 9h0m1 0h0m2-4h0m2-1h0m3-5h0m0 6h0m2-2h0m4 0h0m0 3h0m1 3h0m2-6h0m0 2h0m1-2h0m0 5h0m4 1h0m1-10h0m0 7h0m1-7h0m1 4h0m2 7h0m3-7h0m1 2h0m1 0h0m0 3h0m1-7h0m2 5h0m1 1h0m-1 4h0m0 6h0m-1 0h0m-2-2h0m-1-2h0m-1 6h0m-1-2h0m0 5h0m-5-11h0m0 11h0m-2-2h0m-1-6h0m-2 3h0m-2-2h0m0 6h0m-2-9h0m-2 6h0m-2 4h0m-1-4h0m-1-4h0m-1 6h0m-1-4h0m-2 4h0m-2-7h0m0 5h0m-1-5h0m-1 6h0m-1 3h0m-1-8h0m-1-1h0m-1 2h0m-1 3h0m-2-1h0m-2-5h0m-1 4h0m-3-5h0m-2 11h0m-1-10h0m-1 7h0m-1 0h0m0 2h0m-2 0h0m-4-3h0m-1 4h0m-1-6h0m-5 2h0m-2-4h0m-2 4h0m0 4h0m-4-7h0m0 2h0m-2-3h0m-1-2h0m-5 5h0m-3 4h0m-2-9h0m-2 8h0m0 2h0m-2-10h0m-1 6h0m-1 1h0m-1-5h0m-1 3h0m-2-4h0m0 8h0m-3-5h0m0 4h0m-1-5h0m0 2h0m-2 0h0m-1-6h0m0 4h0m-4 2h0m-1-5h0m-3-1h0m-1 7h0m0 1h0m-1 2h0m-4-9h0m0 3h0m-2-4h0m0 4h0m-1 6h0m-2 0h0m-2-7h0m-1-2h0m0 2h0m0 2h0m-2 3h0m-1 0h0m-4 1h0m-1-7h0m-5 0h0m-2 4h0m-1-2h0m-1 2h0m0 2h0m-2 1h0m-4-1h0m-2 2h0m-2-3h0m-2-3h0m0 6h0m-2 0h0m-6-10h0m-1 6h0m-1-5h0m-2 6h0m-2-6h0m-2 2h0m0 7h0m-3-7h0m0 6h0m-3-8h0m0 4h0m0 3h0m-1-1h0m-3-5h0m-3-1h0m0 1h0m0 1h0m0 6h0m-3-9h0m-10 7h0m0 3h0m-2-1h0m-1-8h0m-2 8h0m-1-8h0m-1 4h0m-2-2h0m-3 2h0m-1-1h0m-1-2h0m-10 0h0m-1 7h0m-1-3h0m-1-2h0m-3 2h0m0 3h0m-3-9h0m-3 3h0m-1 7h0m-2-3h0m0 1h0m-1-7h0m0 10h0m-1-3h0m0 1h0m-1 2h0m-2-11h0m-1 5h0m-1-2h0m-2 2h0m-1-5h0m-1 10h0m0 1h0m-4-7h0m0 0h0m0 2h0m0 0h0m-1-6h0m-2 10h0m-1-2h0m-2-6h0m0 6h0m-2-1h0m-1-3h0m0 2h0m-3-3h0m-5 2h0m-2 6h0m-2-11h0m0 7h0m-2 4h0m-1-8h0m0 2h0m-2-3h0m-1 4h0m-5 2h0m-1-5h0m-2 8h0m-1-2h0m-1 2h0m-1-1h0m-1-9h0m0 1h0m-1 6h0m-2 1h0m-5-3h0m0 5h0m-1-10h0m0 6h0m-2 3h0m-2-5h0m-1-1h0m-1-2h0m0 8h0m-4-9h0m0 6h0m0 4h0m3 5h0m1-3h0m0 10h0m2-8h0m1 6h0m4-6h0m0 6h0m2 2h0m4-2h0m3 0h0m1 2h0m1-3h0m5-8h0m0 7h0m2-7h0m2 4h0m1 6h0m2-8h0m3 5h0m4 4h0m0 0h0m2-6h0m2 0h0m0 2h0m2-2h0m4-5h0m1 9h0m3-1h0m0 3h0m1-11h0m4 0h0m4 6h0m0 5h0m1-7h0m2 2h0m3-3h0m0 2h0m1 4h0m1-6h0m0 8h0m4-8h0m1 2h0m1-4h0m1 3h0m1 3h0m0 1h0m7-7h0m12 2h0m0 2h0m2-5h0m1 10h0m1-6h0m1 1h0m7-2h0m8 2h0m1-5h0m0 8h0m0 3h0m3-11h0m0 4h0m2 6h0m5-6h0m1 5h0m1-6h0m0 6h0m0 1h0m2-9h0m0 6h0m1 3h0m1-4h0m5 3h0m1-8h0m1 1h0m1 5h0m1-2h0m2 6h0m1-3h0m2 3h0m6-4h0m1-1h0m0 4h0m2-6h0m1-3h0m3 0h0m2 4h0m0 6h0m4-5h0m1-3h0m1 0h0m0 3h0m3-5h0m0 2h0m0 7h0m3-9h0m1 3h0m2-3h0m0 7h0m1 3h0m1-10h0m0 6h0m2 3h0m5-3h0m1-7h0m0 4h0m0 6h0m2-1h0m2-3h0m0 5h0m3-4h0m1 3h0m2-4h0m1-5h0m3 3h0m0 4h0m1-1h0m0 3h0m1-8h0m1 2h0m4-4h0m0 4h0m3 0h0m2-1h0m0 2h0m1 4h0m1-7h0m6 1h0m0 4h0m0 4h0m1-6h0m1-4h0m2 2h0m0 3h0m2-4h0m0 8h0m1-2h0m3-2h0m1 5h0m5-5h0m2-4h0m1 3h0m0 2h0m1-3h0m0 7h0m1-2h0m1-9h0m1 9h0m1-3h0m4-6h0m1 11h0m1 0h0m1-5h0m0 2h0m1-6h0m3 5h0m1-3h0m0 4h0m3 2h0m1-8h0m0 4h0m11-3h0m3-2h0m3-1h0m2 8h0m1-5h0m1 7h0m2-8h0m7-2h0m4 8h0m0 3h0m1-6h0m4 2h0m4-6h0m2 7h0m0 3h0m2-9h0m1 14h0m-1-3h0m-1 8h0m-1-8h0m-2 4h0m-1-3h0m0 7h0m-3-9h0m-2 4h0m-2-3h0m0 6h0m0 4h0m-2-8h0m-4 1h0m-1 6h0m-4-10h0m-2 0h0m0 11h0m-2-7h0m-1 3h0m-3 1h0m-1-8h0m0 7h0m0 3h0m-1-5h0m-2 3h0m-1 1h0m-1-5h0m-1 6h0m-3-7h0m-2-3h0m0 6h0m-1-1h0m-4-3h0m-2-2h0m0 2h0m-3-2h0m0 1h0m-4 6h0m0 4h0m0 0h0m-2-3h0m-1 2h0m-4-2h0m-2 0h0m0 2h0m-3-8h0m-2 1h0m-3-3h0m-2 2h0m-1-2h0m-1 2h0m0 1h0m-3-2h0m-1 5h0m-1-5h0m-4 10h0m-5-11h0m-2 0h0m-6 5h0m-1 6h0m-1-10h0m-1-1h0m0 10h0m-2-8h0m-2 3h0m0 1h0m0 3h0m-1 2h0m-3 0h0m-1-3h0m-1-7h0m0 7h0m-2-8h0m0 5h0m-2 1h0m-1 3h0m-2-4h0m0 1h0m-3-4h0m0 6h0m0 3h0m-1-7h0m-1 7h0m-2-9h0m-1 7h0m-1-3h0m-2 2h0m-1-5h0m-2-2h0m-1 2h0m0 8h0m-1-11h0m0 1h0m-3 7h0m-2 1h0m-2-4h0m0 2h0m-2-1h0m0 5h0m-1-10h0m-2 1h0m0 4h0m0 5h0m-4-4h0m-2-5h0m-4 5h0m-1-4h0m-3 1h0m-1-2h0m-4 0h0m-1 5h0m-2-2h0m-1-5h0m-3 8h0m-1 3h0m-3-10h0m0 4h0m0 6h0m-1-4h0m-2-1h0m-1-5h0m0 4h0m-1-2h0m-1-3h0m0 10h0m-1-3h0m-2-1h0m0 1h0m-3-1h0m-1 5h0m-2-5h0m-1-2h0m-3 3h0m-2-6h0m-1 5h0m-3 0h0m-8 3h0m-1 1h0m-1-9h0m-1 3h0m-3-4h0m-1 10h0m-2 0h0m-1-10h0m-1 7h0m-5-3h0m0 4h0m-1-7h0m0 6h0m-2-5h0m0 7h0m-1-8h0m-1 3h0m0 7h0m-1-11h0m-1 8h0m-1 3h0m-4-5h0m0 4h0m-1-9h0m-1 8h0m-6-8h0m-2 1h0m-3-2h0m0 3h0m0 1h0m-1 0h0m-2 4h0m-1-3h0m-2 2h0m0 4h0m-1-1h0m-1-4h0m-2 2h0m0 2h0m-3-7h0m-2 6h0m-1-4h0m-3-2h0m-1 4h0m-3-4h0m-3-1h0m-1 9h0m-1-4h0m-1-7h0m-3 0h0m-2 4h0m-3-4h0m0 2h0m-3 4h0m-1-1h0m-1-5h0m0 2h0m-1 5h0m0 2h0m-1 0h0m-1-8h0m-2 2h0m0 8h0m-1-5h0m-2-1h0m0 2h0m-2-7h0m0 1h0m-2 6h0m-1-6h0m0 4h0m-1 4h0m-2 0h0m0 1h0m-2 2h0m4 1h0m0 9h0m2-6h0m3 5h0m3-9h0m1 6h0m2 2h0m1-4h0m2 2h0m3 0h0m3 0h0m1-1h0m5-4h0m1 3h0m1-3h0m1 3h0m1 0h0m1-4h0m4 9h0m2-6h0m1 7h0m4-3h0m0 3h0m3-8h0m3 0h0m0 3h0m1 3h0m2-7h0m0 9h0m1-3h0m2 3h0m1-7h0m1-3h0m0 1h0m0 10h0m7-1h0m2-8h0m2-2h0m1 3h0m0 6h0m0 2h0m2-9h0m0 1h0m1 3h0m5-3h0m1 3h0m2 2h0m2-3h0m1-5h0m1 3h0m1 4h0m4-6h0m0 4h0m0 1h0m0 5h0m4-2h0m1-5h0m1 2h0m2-6h0m1 6h0m3-3h0m7 3h0m2-5h0m0 3h0m4 4h0m3 0h0m0 1h0m1 1h0m4 1h0m1-6h0m3-3h0m4 3h0m1-5h0m3 4h0m1 3h0m1-6h0m2 5h0m0 5h0m1-2h0m2-6h0m1-3h0m1 1h0m1 3h0m0 2h0m3 1h0m1-5h0m1 0h0m0 4h0m0 2h0m1-5h0m8 7h0m6-1h0m3-6h0m0 6h0m1-3h0m3-5h0m0 7h0m1 1h0m1-2h0m1-4h0m1 6h0m2-7h0m0 2h0m1 7h0m11-6h0m1-1h0m2 6h0m3-6h0m4-3h0m2 0h0m8 5h0m1-2h0m6-3h0m1 2h0m1 5h0m4-7h0m1 2h0m0 4h0m2-5h0m0 7h0m2-8h0m1 4h0m0 5h0m3-5h0m0 2h0m1 3h0m1-10h0m0 5h0m2 0h0m1-5h0m0 2h0m1 6h0m3-7h0m1 2h0m2 2h0m0 4h0m2-9h0m3 4h0m0 6h0m2-4h0m2-5h0m3 3h0m2 5h0m3-4h0m0 3h0m1-8h0m0 4h0m0 3h0m3-2h0m7-2h0m3-2h0m1 8h0m3-5h0m3-3h0m2 5h0m5-4h0m0 7h0m3-6h0m1 7h0m1-5h0m0 2h0m4-6h0m1 0h0m1 5h0m3-3h0m1 0h0m1 4h0m0 4h0m2-2h0m1-7h0m2-2h0m1 4h0m1 5h0m-3 7h0m-2 0h0m0 6h0m-1-3h0m-2-5h0m0 8h0m-1 0h0m-1-1h0m-1-6h0m-2 3h0m-1-2h0m-2-4h0m-1 7h0m-3 2h0m-2-9h0m0 3h0m0 3h0m-5-5h0m-2 4h0m-1 4h0m0 1h0m-3-8h0m0 3h0m-1 2h0m-2-7h0m0 8h0m-5-8h0m0 6h0m-3 3h0m-1-8h0m-3 6h0m-1 4h0m-2-10h0m-1 3h0m0 6h0m-1 1h0m-3-10h0m-2-1h0m0 2h0m0 7h0m-2-7h0m0 5h0m-3-4h0m0 7h0m-2-1h0m-6-8h0m-1 3h0m0 1h0m0 4h0m-5 0h0m-1-9h0m-2 5h0m0 4h0m-1 1h0m-1-10h0m-1 2h0m-1 4h0m-1-4h0m-3 5h0m0 1h0m-4-7h0m0 6h0m-2-3h0m-5 1h0m-4 4h0m-1 0h0m-1-4h0m-1-2h0m-2 4h0m0 3h0m-3-9h0m-2 9h0m-1-7h0m0 3h0m-3-4h0m0 6h0m-3 1h0m-6-7h0m0 7h0m-1-5h0m0 6h0m-1 1h0m-5-7h0m-2 6h0m-1-9h0m-1 2h0m0 4h0m-1 0h0m0 4h0m-9-9h0m-1 5h0m-2-1h0m-2 4h0m-2-3h0m-1 2h0m-1-4h0m-3 4h0m-1-2h0m-1 2h0m-1 1h0m-1 0h0m-3-10h0m0 10h0m-2 0h0m-1-9h0m-1 9h0m-4-7h0m-4-2h0m-1 4h0m0 3h0m-1-3h0m-3 4h0m-2-9h0m-3 5h0m-1-1h0m-2 0h0m-1-3h0m0 5h0m0 5h0m-4-2h0m-1 2h0m-1-4h0m-2-7h0m-2 2h0m-1 7h0m-1-4h0m-1 6h0m-11-11h0m0 4h0m-3-1h0m-5 0h0m-2-3h0m0 2h0m0 7h0m-1-4h0m-1 1h0m-1 3h0m-1-8h0m0 0h0m0 3h0m-5 4h0m-2-7h0m0 1h0m-1 4h0m-1-4h0m0 4h0m-1 4h0m-3-3h0m-1 1h0m-3-4h0m-1-4h0m0 6h0m-9-5h0m0 4h0m-3-2h0m-2 0h0m-1 4h0m-2 0h0m0 2h0m-1-6h0m-2-2h0m-1 9h0m-2-6h0m-1 7h0m-1-11h0m0 4h0m0 4h0m-2-7h0m-2 8h0m0 2h0m-7-9h0m0 3h0m-1 6h0m-2-5h0m-1-6h0m0 9h0m-2-6h0m0 8h0m-1-1h0m-1-1h0m-1-8h0m0 2h0m-5 0h0m-2-3h0m-2 3h0m0 7h0m0 0h0m-1-4h0m-1 4h0m-2-8h0m-1 4h0m-1 5h0m-1-8h0m0 6h0m-1-5h0m-2 7h0m-1-9h0m-1 19h0m1-6h0m0 7h0m2-2h0m1-7h0m0 2h0m0 8h0m2-2h0m0 2h0m1-7h0m2-1h0m0 4h0m1-7h0m2 3h0m1 7h0m1-2h0m1-5h0m5-3h0m8 5h0m2 4h0m1-8h0m2 3h0m1-3h0m1 2h0m1 3h0m1-1h0m8-2h0m2 0h0m3 8h0m1-11h0m2 11h0m3-3h0m1-1h0m1-4h0m1 5h0m1 3h0m2-6h0m1-5h0m0 3h0m1 5h0m1-3h0m1 2h0m2-3h0m0 5h0m5-8h0m0 6h0m1-7h0m2 3h0m0 8h0m1-3h0m2 0h0m2-5h0m9 7h0m1-1h0m2 1h0m2-5h0m1 0h0m3-5h0m1 6h0m6 4h0m3-8h0m4 7h0m1-6h0m1 2h0m3-2h0m0 3h0m0 3h0m4-5h0m0 3h0m2-5h0m2-2h0m6 7h0m2 1h0m0 1h0m1-6h0m0 8h0m3-6h0m4 0h0m0 6h0m1-2h0m0 0h0m1-3h0m0 3h0m1-9h0m1 7h0m0 4h0m1-8h0m3-3h0m1 1h0m0 7h0m6 0h0m4-3h0m1 6h0m1-11h0m1 6h0m2-4h0m5 0h0m1-2h0m0 5h0m1 6h0m2-4h0m2-3h0m3 7h0m3-8h0m2 4h0m1 4h0m3-4h0m6-5h0m3-2h0m0 3h0m1 1h0m1 6h0m3-7h0m0 5h0m1-2h0m1 0h0m2 2h0m1 1h0m0 1h0m1-10h0m3 7h0m2 0h0m1-5h0m1-2h0m2 10h0m4 0h0m1-10h0m1 4h0m1-4h0m1 2h0m0 3h0m1 5h0m2-9h0m2 4h0m1-5h0m2 4h0m0 5h0m2-6h0m1-3h0m3 9h0m0 1h0m3-4h0m2 1h0m0 4h0m4-7h0m5 7h0m1-7h0m0 3h0m1 2h0m1-9h0m0 3h0m1-1h0m0 4h0m0 1h0m2-7h0m0 5h0m3-4h0m2 1h0m1 8h0m1-5h0m0 3h0m1-8h0m3 9h0m2-2h0m2-6h0m4 10h0m1-5h0m4 4h0m2-5h0m1-5h0m1 11h0m2 0h0m2-4h0m2 1h0m2 3h0m1-6h0m1-3h0m2 7h0m0 1h0m1-4h0m1 1h0m1-1h0m1 1h0m2-1h0m1-4h0m2 6h0m0 3h0m4-6h0m1 11h0m-5 3h0m-1-5h0m-1 7h0m-1-3h0m-1 1h0m0 3h0m-1-4h0m-2 3h0m-1-6h0m0 4h0m-1 2h0m-1-7h0m0 6h0m-2 0h0m-1 1h0m-6-3h0m0 4h0m0 1h0m-2-7h0m0 3h0m-3-5h0m0 3h0m-2 3h0m-1-7h0m-3 7h0m-3 3h0m-4-5h0m-4-5h0m0 4h0m-3 2h0m-3 3h0m-3-5h0m-2 6h0m-1-3h0m-3-7h0m0 5h0m-2-2h0m-1 3h0m-3 3h0m-1-8h0m0 6h0m-1 1h0m-4 1h0m-1 1h0m-1-8h0m0 8h0m-3-8h0m-4 1h0m-7-2h0m-6-2h0m-1 3h0m-2-2h0m0 5h0m-4-3h0m-1 7h0m-2-2h0m-1-5h0m-1-2h0m-3 1h0m-2 6h0m-1-6h0m-3 5h0m0 1h0m-2-6h0m-4 8h0m-2-4h0m-1 3h0m-3-5h0m-1-4h0m0 10h0m-1-5h0m-3-4h0m-2 3h0m0 2h0m-3-3h0m0 3h0m0 4h0m-3-9h0m-1 9h0m0 1h0m-4-8h0m-2-1h0m0 4h0m-1-5h0m-1 4h0m-3-2h0m0 6h0m-2-7h0m-3-2h0m-1 11h0m0 0h0m-3-8h0m-1 5h0m-3 0h0m-1-3h0m-2-1h0m0 3h0m0 2h0m-2-3h0m-3 0h0m-5-4h0m-2 1h0m-1 2h0m-2 6h0m-1-11h0m0 1h0m-1 10h0m-7-11h0m-1 3h0m-2-3h0m0 7h0m-1-5h0m0 6h0m-2-7h0m-3 5h0m0 3h0m0 1h0m-1-7h0m0 5h0m-2 0h0m-2-3h0m-4-1h0m0 4h0m-2-6h0m-1 6h0m0 2h0m-2-5h0m0 4h0m-3-8h0m0 6h0m-1 1h0m-2-5h0m0 6h0m-2-7h0m-1 0h0m-3 9h0m-1-10h0m0 6h0m-4 2h0m-3 2h0m-2-9h0m0 2h0m-1 5h0m-4-1h0m-3-5h0m-7 0h0m-1 8h0m-1-10h0m0 8h0m-3-9h0m0 11h0m-1-3h0m-2 2h0m-4-5h0m0 3h0m-4-8h0m0 3h0m-1 8h0m-4-7h0m0 5h0m-1-4h0m0 2h0m-1-5h0m-1 8h0m-2-4h0m0 3h0m-2-3h0m-1 5h0m-5-9h0m-1 8h0m-3-2h0m-3 2h0m-2-4h0m-1 0h0m-3 0h0m0 5h0m-4-5h0m-2-3h0m-1 6h0m-3-2h0m-1-7h0m0 9h0m-1-9h0m1 13h0m0 1h0m3 5h0m1-6h0m0 2h0m3 6h0m3-5h0m2 0h0m1-4h0m1 4h0m0 1h0m4 2h0m0 1h0m0 3h0m2-3h0m1-5h0m1 3h0m0 5h0m2-7h0m0 2h0m6-6h0m0 5h0m2-4h0m0 6h0m2 4h0m1-11h0m5 7h0m1-2h0m1-1h0m0 2h0m0 4h0m2-10h0m1 1h0m2 10h0m2-5h0m2 1h0m1-4h0m2 3h0m1 2h0m3-7h0m1 7h0m2-6h0m1 4h0m1 3h0m1-7h0m1 6h0m3-5h0m2 2h0m0 3h0m3-7h0m8 3h0m7-2h0m0 4h0m1 4h0m1-9h0m1 4h0m2 2h0m1-5h0m1-2h0m0 11h0m1-4h0m0 3h0m3-4h0m1-6h0m1 10h0m2-6h0m2 0h0m0 6h0m2-6h0m1 4h0m4-2h0m2 0h0m1-4h0m4 3h0m0 5h0m2-4h0m2-3h0m0 6h0m1-7h0m0 6h0m4-1h0m5-5h0m0 6h0m3 1h0m1-3h0m4 3h0m14-7h0m1 9h0m1 0h0m2-10h0m6 4h0m0 3h0m1-6h0m4 6h0m2 0h0m0 3h0m2-9h0m1-2h0m2 1h0m0 5h0m2 2h0m6-8h0m0 3h0m1-2h0m2-1h0m1 6h0m2-5h0m0 7h0m3-5h0m5 8h0m4-1h0m8-7h0m1 6h0m1 0h0m1-4h0m2 3h0m2-4h0m1-3h0m1 7h0m1-6h0m2 2h0m6 7h0m2-2h0m3-5h0m2 1h0m3 3h0m1-2h0m1-5h0m0 3h0m0 7h0m1-3h0m5-6h0m0 3h0m1 3h0m2-1h0m0 4h0m3-1h0m2-9h0m2 7h0m1 1h0m0 1h0m1-9h0m1 2h0m0 4h0m1-7h0m0 6h0m1-3h0m3 2h0m1 2h0m2 1h0m1-6h0m1 5h0m2-2h0m0 4h0m2-9h0m1 2h0m2 5h0m3-7h0m2 1h0m1 2h0m1 8h0m7-7h0m1-1h0m0 7h0m1 1h0m1-10h0m1 5h0m1 4h0m2-10h0m2 1h0m0 4h0m1 6h0m1-6h0m1-2h0m0 4h0m0 4h0m2-1h0m1 1h0m2-11h0m0 8h0m1-7h0m-2 13h0m-1 3h0m0 2h0m-1-2h0m-2 4h0m-1-2h0m-1 3h0m-1-7h0m0 6h0m-2-3h0m-1-6h0m0 2h0m-1 0h0m0 5h0m-4-3h0m-4-3h0m-1 1h0m0 6h0m-7-8h0m0 8h0m0 3h0m-1-9h0m-1-1h0m-3 7h0m-3 2h0m-3-4h0m-1 3h0m-1-9h0m-1 0h0m-1 9h0m-1-6h0m-2 6h0m-1-8h0m0 5h0m-3 3h0m-2-5h0m-3-2h0m0 4h0m-1-1h0m0 2h0m-1-6h0m-3 6h0m-1-4h0m0 2h0m-1 1h0m-2 3h0m-3-7h0m-3 7h0m-1-9h0m-2 0h0m0 2h0m0 6h0m-3-5h0m-6-3h0m0 1h0m0 4h0m0 4h0m0 1h0m-4-2h0m-2-1h0m-2 4h0m-1-8h0m-2-2h0m-1-1h0m0 11h0m-1-3h0m-3-3h0m-2-5h0m0 7h0m-1 4h0m-1-9h0m-1-2h0m-5 2h0m-1 7h0m-1 0h0m-1-7h0m-2 2h0m-3 0h0m-1-3h0m-1 2h0m-10 5h0m-4-6h0m0 0h0m-2 2h0m-2 7h0m-2 0h0m-3-4h0m0 0h0m-2-6h0m-1 5h0m0 3h0m-2 0h0m0 1h0m-5-2h0m-1-7h0m0 4h0m-1 5h0m-3-1h0m-3-3h0m-2 2h0m-6-6h0m0 9h0m-1-9h0m-4-2h0m0 6h0m-2-6h0m-1 2h0m-1 6h0m-4-5h0m0 2h0m0 6h0m-4-4h0m-1 0h0m-6-4h0m0 8h0m-2-11h0m-2 9h0m-1-3h0m0 1h0m-2-2h0m-2 2h0m0 4h0m-6-11h0m0 6h0m-1 2h0m-1 2h0m-3 0h0m-1-9h0m0 1h0m-6-1h0m-1 3h0m-5-1h0m-6 4h0m-5 4h0m-4-8h0m-2-3h0m0 5h0m-2 4h0m-2-8h0m0 0h0m-1 6h0m-3-5h0m-2 4h0m-3-6h0m0 6h0m-2 5h0m-1-11h0m-2 1h0m-3 3h0m0 4h0m-2-3h0m-1-3h0m-2 0h0m0 4h0m-1 2h0m-1 1h0m-2-9h0m-8 10h0m-2-9h0m-1 8h0m-1-5h0m-2 5h0m-1-8h0m0 7h0m-1-5h0m-1 7h0m-2-7h0m-2 7h0m-1-9h0m-1-1h0m0 2h0m0 4h0m-2 5h0m-2 0h0m-3-5h0m0 3h0m0 2h0m-2-5h0m0 2h0m-1-7h0m-2 2h0m0 5h0m-2-3h0m0 1h0m-1 3h0m2 3h0m1 2h0m1-1h0m0 9h0m2-2h0m1-4h0m2 3h0m1-3h0m3 7h0m2-3h0m0 1h0m4 0h0m1 1h0m1-9h0m3 7h0m2-4h0m1 6h0m4-8h0m1 6h0m0 0h0m1-7h0m1 5h0m2 0h0m2-6h0m1 6h0m2 2h0m1-6h0m1 6h0m1-8h0m2 6h0m4-2h0m0 2h0m0 5h0m1-6h0m1 3h0m0 2h0m3-1h0m2-5h0m1 4h0m2 1h0m1-2h0m2-4h0m0 4h0m2 4h0m1-3h0m4-4h0m1-3h0m1 4h0m3 1h0m0 3h0m2-7h0m0 3h0m1 3h0m1 1h0m1 0h0m1-5h0m1-3h0m0 6h0m1-2h0m0 2h0m2 1h0m2 1h0m6 0h0m1 0h0m2-6h0m1 3h0m2-2h0m4 3h0m1 3h0m3-6h0m2 7h0m1-3h0m1 2h0m1-5h0m6-1h0m0 3h0m1-3h0m1-2h0m3 0h0m3 0h0m1 9h0m2-6h0m1 2h0m4 1h0m2-2h0m1 3h0m1-6h0m2 7h0m5 1h0m1-5h0m1-6h0m2 2h0m1 0h0m3-2h0m0 3h0m1 5h0m1-2h0m1 5h0m2-11h0m0 6h0m0 1h0m6 0h0m1 4h0m3-6h0m3 2h0m1 3h0m1-3h0m2-1h0m5 3h0m7-5h0m2-3h0m0 4h0m0 6h0m2-4h0m1-3h0m0 4h0m2-5h0m1 8h0m3-8h0m1 7h0m1-2h0m5 2h0m2-8h0m0 9h0m1-7h0m5-4h0m0 3h0m1-2h0m0 4h0m0 6h0m1-2h0m3-3h0m0 5h0m4-6h0m1-2h0m0 5h0m2-6h0m1-1h0m7-1h0m0 4h0m1 2h0m4 1h0m1 2h0m1-9h0m6 7h0m1 3h0m1-1h0m1-7h0m1 1h0m0 2h0m2 6h0m1-8h0m3-2h0m1 8h0m0 1h0m2 0h0m1-3h0m2-4h0m3 2h0m2-4h0m5 0h0m2 2h0m2 1h0m1-4h0m3 10h0m1-1h0m15-2h0m0 4h0m3-7h0m0 4h0m0 2h0m2 1h0m1-4h0m1-1h0m2-2h0m2 1h0m0 6h0m4 2h0m-1 8h0m-2-8h0m0 2h0m0 4h0m-2-2h0m0 4h0m-2-8h0m-1 1h0m0 1h0m-1 6h0m-3 1h0m-2-4h0m-1-4h0m0 7h0m-1-9h0m-6 3h0m-1 4h0m0 3h0m-5-1h0m-2-6h0m-2-2h0m-2 3h0m0 2h0m0 2h0m-2-8h0m-2 8h0m-1 0h0m-4-4h0m0 2h0m-8 0h0m-1 4h0m-8-8h0m0 3h0m-4 1h0m-2 4h0m-2-1h0m-1-2h0m-1 0h0m-2 2h0m-1-3h0m-3-3h0m-2-2h0m-2 3h0m0 2h0m-6 0h0m0 2h0m-1-4h0m-1-4h0m-1 7h0m-7-6h0m-4 3h0m-1 3h0m-2 2h0m-1-8h0m-3 5h0m-1 3h0m-3-8h0m0 5h0m-1 1h0m-2 0h0m-1-6h0m-1 7h0m-1-8h0m-2 7h0m-2-1h0m-3 1h0m-2-5h0m-1 4h0m-1 0h0m-1 3h0m-1-6h0m-1 2h0m0 4h0m-4 0h0m-2-7h0m-1 8h0m-6-6h0m-3-4h0m-2 3h0m-2-1h0m0 0h0m-2 6h0m0 1h0m-1 2h0m-2-1h0m-1-4h0m-1-5h0m-1 5h0m-1 2h0m-1-6h0m-2 0h0m0 4h0m-2-3h0m-9 3h0m-3 1h0m-4-4h0m-2 2h0m-3-2h0m-3-1h0m-1 5h0m-1 2h0m-2-5h0m-3-2h0m-1 1h0m-1 7h0m-1-9h0m0 2h0m-2 8h0m-4-8h0m-3-2h0m0 3h0m-2-2h0m0 8h0m-1-5h0m-1-3h0m-3-1h0m-5 6h0m-5-1h0m-2 3h0m-3-7h0m-1 1h0m0 5h0m-1-6h0m0 5h0m-2 1h0m-1 3h0m-3-8h0m-1-3h0m-1 9h0m-2-3h0m0 3h0m-1-8h0m-5 3h0m0 3h0m0 1h0m0 3h0m-2-10h0m0 3h0m-3-4h0m-2 10h0m-1-5h0m-1-2h0m-2 3h0m-1 1h0m-1 1h0m-1-7h0m0 2h0m-1 3h0m-1-4h0m-2 6h0m-1-4h0m-1 2h0m-1-4h0m-2 6h0m-1-8h0m0 7h0m-1-3h0m-5 6h0m-5-1h0m-2-7h0m-2 1h0m0 4h0m-1 2h0m-1-6h0m-2 7h0m-4-5h0m-1-2h0m0 2h0m-4-5h0m-1 5h0m-1 4h0m-4-4h0m-4 1h0m-2 0h0m0 4h0" stroke="#cc5258" stroke-width="1.5" stroke-opacity="0.85"/><path d="M144 -1h0m-133 9h0m8-6h0m10-2h0m4 4h0m24 0h0m80 4h0m23 1h0m9 0h0m4-1h0m4 0h0m2-4h0m1 6h0m38-1h0m18-8h0m2 9h0m4-4h0m12 5h0m6-5h0m14 0h0m23-5h0m12 18h0m-17-1h0m-8-1h0m-16 5h0m-82-10h0m-11 10h0m-30-10h0m-10 9h0m-5 0h0m-5-7h0m-13 1h0m-20-2h0m-9 3h0m-2 4h0m-52 2h0m-8 1h0m31 12h0m18-8h0m18 4h0m6-3h0m31-2h0m28 0h0m13 9h0m34-11h0m2 4h0m13 2h0m4-6h0m5 9h0m11-4h0m64 2h0m0 12h0m-63-2h0m-15 4h0m-4-7h0m-16 6h0m-22 2h0m-19-5h0m-17-4h0m-9 0h0m-15 10h0m-62-10h0m-1 10h0m-11 0h0m-5-8h0m-29 15h0m18 2h0m117-4h0m11 3h0m31-1h0m1 2h0m13-4h0m38-3h0m1 2h0m0 5h0m8-7h0m33 9h0m2-4h0m15 2h0m1-6h0m-14 13h0m-10-2h0m-10 7h0m-4-3h0m-43 3h0m-2-6h0m-10 0h0m-9-1h0m-8 3h0m-34-4h0m-8 7h0m-4-5h0m-2 6h0m-8 2h0m-29 0h0m-53 0h0m-3-10h0m-3 5h0m-5 1h0m-13 0h0m-22 2h0m6 12h0m25-1h0m23-1h0m13-3h0m23 3h0m7 3h0m7-8h0m18 1h0m16 6h0m30-5h0m6 7h0m4-9h0m31 4h0m44 0h0m39 0h0m5 8h0m-5 1h0m-10 8h0m-1-4h0m-8 0h0m-50-2h0m-29 4h0m-26 2h0m-85-5h0m-6-4h0m-14 2h0m-4 4h0m-10 0h0m-19 1h0m-22-8h0m12 12h0m10 9h0m19-9h0m29 2h0m35 9h0m48-9h0m2 5h0m8-3h0m16 1h0m13-4h0m2 1h0m16-1h0m1 9h0m33-1h0m6-3h0m2-5h0m8 6h0m6-6h0m10 2h0m2-3h0m4 6h0m-36 13h0m-22-4h0m-12-3h0m-19 7h0m-25-3h0m-24 3h0m-22-5h0m-5 0h0m-4 8h0m-12-6h0m-13-3h0m-4-1h0m-9 1h0m0 6h0m-8-5h0m-5 7h0m-30-4h0m-6 3h0m-2-2h0m-2-3h0m47 12h0m13 2h0m30-5h0m5 4h0m32 6h0m2-10h0m8 4h0m22 5h0m60-5h0m3 5h0m4 2h0m9-9h0m8-2h0m10 3h0m17-2h0m3 15h0m-3 0h0m-2 5h0m-21-7h0m-3 7h0m-3-3h0m-4 0h0m-9 0h0m-70-2h0m-62 2h0m-5-5h0m0 9h0m-53-5h0m-26 5h0m-8 1h0m-5-4h0m-23 5h0m34 4h0m7 0h0m28 5h0m17-1h0m4-5h0m36-3h0m29 3h0m16 2h0m58-1h0m22 0h0m17 5h0m7 0h0m16-7h0m5 18h0m-10 1h0m-16 0h0m-7-9h0m-35 3h0m-35 0h0m-29 8h0m-12-8h0m-30 3h0m-23-1h0m-62-4h0m-15 1h0m-23 9h0m28 9h0m25-7h0m1 4h0m22 5h0m7-3h0m25-5h0m10 4h0m4-5h0m5 7h0m14-3h0m27 1h0m28-1h0m3 5h0m1-8h0m74 0h0m21 18h0m-10-1h0m-26-6h0m0 5h0m-27-6h0m-19 4h0m-1-4h0m-22 10h0m-24-7h0m-2 4h0m-59-7h0m-15 11h0m-33-11h0m-9 2h0m-30 0h0m-6 4h0m-19 5h0m50 9h0m3-4h0m3-2h0m11 9h0m58-6h0m6-3h0m52 2h0m52 6h0m29-2h0m2-6h0m16 7h0m19-4h0m1 13h0m-5-1h0m-8 0h0m-5 6h0m-7-2h0m-7-8h0m-3 7h0m-1-6h0m-35 5h0m-9-3h0m-7-3h0m-8 8h0m-14-6h0m-51 6h0m-11-4h0m0 5h0m-21-1h0m-1-6h0m-6 4h0m-84 3h0m-6-3h0m-19 8h0m1 6h0m22-7h0m2 1h0m7 8h0m3-5h0m7 3h0m7-1h0m28-6h0m2 8h0m17-10h0m3 10h0m3-10h0m9 11h0m16-1h0m7 1h0m1-10h0m7 0h0m6-1h0m6 4h0m62-4h0m0 8h0m5-2h0m1-5h0m5 5h0m39-2h0m11-3h0m2 5h0m3 2h0m1-3h0m28 1h0m-13 16h0m-11-1h0m-28-3h0m-12-6h0m-1 7h0m-3 0h0m-13 0h0m-28-1h0m-13-1h0m-34 0h0m-8 2h0m-15-6h0m-11 9h0m-2 0h0m-2-9h0m-1 3h0m-10 0h0m-14 5h0m-23-5h0m-33-2h0m-29 8h0m19 4h0m7 5h0m7 4h0m5-2h0m36-7h0m14 5h0m28-7h0m6 11h0m8-3h0m5-7h0m13 3h0m3 2h0m21-3h0m48 5h0m9 1h0m4-2h0m10 3h0m20-10h0m2 0h0m10 9h0m16 8h0m-10-3h0m-78-1h0m-15 3h0m-12 4h0m-2 1h0m-22-4h0m-22 0h0m-63-1h0m-10 2h0m-12 1h0m-8-6h0m0 4h0m-11 0h0m-14 2h0m-19 15h0m4-8h0m9 3h0m5-5h0m7 10h0m11-3h0m12 3h0m38-3h0m25-1h0m1-3h0m4 2h0m11 0h0m6-5h0m6 7h0m0 4h0m28-5h0m28-2h0m9-2h0m43 1h0m5 1h0m4 3h0m16-4h0m15-3h0m20 6h0m-1 10h0m-9 3h0m-25-4h0m-24-3h0m-8 8h0m-3-3h0m-12-3h0m-11 1h0m-2 2h0m-6-1h0m-36-2h0m-55 9h0m-4-5h0m-4 5h0m-56-9h0m-51-2h0m2 21h0m9 1h0m3-2h0m1-4h0m53 6h0m14-9h0m19 7h0m5-7h0m29 0h0m1 3h0m17-4h0m7 3h0m0 7h0m6-8h0m5 0h0m11-2h0m7 9h0m7-1h0m2-8h0m5 2h0m14 5h0m20 1h0m17-5h0m23 8h0m9 5h0m-3 2h0m-6-5h0m-10 8h0m-3-6h0m-3 1h0m-12-2h0m-6 2h0m-30-1h0m-7 1h0m-15 0h0m-41 4h0m-13-3h0m-14-2h0m-1 0h0m-33 7h0m-13-3h0m-6-3h0m-6-2h0m-10 7h0m-19-5h0m-36-4h0" stroke="#cc5258" stroke-width="2" stroke-opacity="0.85"/><path d="M249 15h0m4 41h0m-183 92h0m228 17h0m-230 15h0m-28 37h0m48 30h0m97-6h0m55 61h0m-36 1h0" stroke="#7386c9" stroke-width="3"/><path d="M198 -3h0m-111 3h0m95 11h0m99 1h0m-47 3h0m-45-3h0m-49 11h0m-124-5h0m31 41h0m26-9h0m65 18h0m-32-5h0m-102 7h0m-3-9h0m167 12h0m118 22h0m-101-10h0m-62 7h0m-77 3h0m-44-7h0m7 11h0m48 3h0m7-3h0m116 0h0m23 2h0m-91 9h0m-17 9h0m-64 9h0m69-8h0m26 10h0m63-8h0m107 11h0m-274 3h0m59 16h0m94-7h0m72 1h0m5 2h0m-128 29h0m11-7h0m67 0h0m-32 19h0m-111 12h0m59 0h0m21-9h0m11 3h0m77 0h0m61 19h0m-111-4h0m-146-1h0m10 7h0m110 23h0m-19-2h0m-53 12h0m91-5h0m62-3h0m77 18h0m-13 4h0m-80-3h0m-109 2h0m-89 0h0m221 4h0m24-2h0m-176 22h0m-53-2h0m-25 15h0m89-3h0m104-7h0m-115 16h0m-84 1h0" stroke="#7386c9" stroke-width="3.5"/><path d="M151 -3h0m-26 2h0m137 19h0m-243 10h0m20-4h0m72 7h0m2-7h0m11 8h0m104 3h0m11-2h0m42 4h0m-46 7h0m-117-6h0m-99 7h0m-8 4h0m29 2h0m67-2h0m90 9h0m-22 12h0m-110-8h0m-39 6h0m-23 9h0m181-1h0m-151 13h0m-3 6h0m-25 11h0m5-1h0m11-3h0m19 4h0m115-4h0m35-6h0m111 3h0m-42 11h0m-159 17h0m174-2h0m-43 13h0m-172-2h0m-9 17h0m52-9h0m72 19h0m-88-4h0m-51 8h0m84 11h0m86-6h0m12 0h0m1-2h0m8-1h0m28-1h0m-89 29h0m54 1h0m10 1h0m48 11h0m-237 4h0m77 3h0m36 3h0m32 1h0m19-4h0m37 3h0m31 4h0m36 12h0m-40-2h0m-44-6h0m-44 10h0m-123-1h0m-33-5h0m-5 17h0m84 2h0m86-7h0m-34 24h0m88 16h0m-23 0h0m-103-1h0m-28 8h0m44-1h0m46 9h0m66-5h0m1 0h0m8 14h0" stroke="#7386c9" stroke-width="4"/><path d="M41 6h0m10 4h0m130-8h0m98 9h0m5-4h0m-33 12h0m-45-2h0m-39-2h0m-13-2h0m-5 6h0m-83-2h0m221 26h0m-5-7h0m-151 3h0m-31 10h0m53 2h0m11 7h0m47 0h0m23 0h0m6-6h0m30 0h0m7 16h0m-65-5h0m-38 0h0m-43 3h0m-3 0h0m-17 5h0m-2 11h0m37-3h0m60-7h0m45 4h0m-13 16h0m-7-1h0m-48 0h0m-20-6h0m-27 10h0m-121-1h0m7 12h0m134 5h0m-149 6h0m-8 9h0m190 5h0m83-9h0m29 19h0m-101-8h0m-168-1h0m27 14h0m239-1h0m-30 12h0m-115 2h0m-69 6h0m-74-1h0m-11 11h0m12-5h0m119 4h0m68-4h0m20 0h0m19-1h0m17 12h0m-127 0h0m-86 0h0m-20 14h0m108-3h0m8 11h0m45-5h0m3-5h0m11 2h0m11 6h0m64-7h0m-59 18h0m-13-4h0m-180 0h0m266 8h0m-129 18h0m-45 3h0m-108-2h0m113 11h0m17 0h0m100-4h0m19-1h0m-10 16h0m-118 3h0m-44-7h0m-59 9h0m271 7h0m13 4h0m-10 10h0m-6 3h0m-145-10h0m-142 18h0m113-4h0m127 0h0m29-2h0" stroke="#7386c9" stroke-width="4.5"/><path d="M136 3h0m56 4h0m-11 15h0m-39-7h0m-5 3h0m-49-2h0m-4 0h0m-40 1h0m94 16h0m69-4h0m28 5h0m40-1h0m-19 4h0m-46 10h0m-73-7h0m-25 7h0m-68 6h0m25-5h0m130 4h0m106 14h0m-56-2h0m-9-3h0m-20 8h0m-104-3h0m-25-1h0m-39 0h0m-55 1h0m29 17h0m9-5h0m245 7h0m-252 18h0m276 3h0m-18 11h0m-64-7h0m-147-2h0m-29 1h0m70 17h0m19-3h0m40 1h0m12 6h0m48 0h0m6 13h0m-222-7h0m60 16h0m209 6h0m-80 3h0m-48 6h0m88 9h0m-147 6h0m-50 9h0m-5-1h0m0 12h0m73-5h0m0 2h0m49-5h0m8 0h0m131 10h0m-72 11h0m-19-11h0m-4 20h0m33 2h0m60 1h0m-10 4h0m-25 4h0m-216 4h0m14 7h0m58 5h0m164-4h0m-3 5h0m-93 0h0m-27 15h0m36-1h0m31-1h0m18-1h0m-47 18h0m-196-3h0m108 19h0m157 8h0m-29 1h0m-16-7h0m-17 2h0m-107 1h0" stroke="#7386c9" stroke-width="5"/><path d="M154 7h0m155 16h0m-275-1h0m178 2h0m46 19h0m-55 1h0m39 22h0m-72 3h0m91 23h0m11 4h0m-187 46h0m-78 13h0m133-1h0m84-5h0m-122 14h0m21 50h0m-108-3h0m242 16h0m-121 2h0m-18 6h0m-32-6h0m-13 0h0m-75 6h0m187 27h0m54 5h0m1 18h0m-218-2h0m22 19h0" stroke="#7386c9" stroke-width="5.5"/><path d="M152 250l22-12 12 18-3 50h-28l-6-28Z" fill="#b6c9da"/></g></g>
<text x="1387.3" y="1042" font-size="16.5" fill="#111" textLength="55.7" lengthAdjust="spacingAndGlyphs">100μm</text>
<path d="M1396.7 1048.3H1441.5" stroke="#111" stroke-width="1.4"/>
<text x="1388" y="1363.8" font-size="16.5" fill="#111" textLength="56.5" lengthAdjust="spacingAndGlyphs">100μm</text>
<path d="M1396.7 1369.3H1442" stroke="#111" stroke-width="1.4"/>
<text x="1707.3" y="1042" font-size="16.5" fill="#111" textLength="55.7" lengthAdjust="spacingAndGlyphs">100μm</text>
<path d="M1716.7 1048.3H1761.5" stroke="#111" stroke-width="1.4"/>
<text x="1708" y="1363.8" font-size="16.5" fill="#111" textLength="56.5" lengthAdjust="spacingAndGlyphs">100μm</text>
<path d="M1716.7 1369.3H1762" stroke="#111" stroke-width="1.4"/>
<text x="2028.3" y="1042" font-size="16.5" fill="#111" textLength="55.7" lengthAdjust="spacingAndGlyphs">100μm</text>
<path d="M2037.7 1048.3H2082.5" stroke="#111" stroke-width="1.4"/>
<text x="2029" y="1363.8" font-size="16.5" fill="#111" textLength="56.5" lengthAdjust="spacingAndGlyphs">100μm</text>
<path d="M2037.7 1369.3H2083" stroke="#111" stroke-width="1.4"/>
<text x="1394" y="1682.8" font-size="16.5" fill="#111" textLength="45.5" lengthAdjust="spacingAndGlyphs">50μm</text>
<path d="M1402.7 1688.3H1437.8" stroke="#111" stroke-width="1.4"/>
<text x="1716.4" y="1682.8" font-size="16.5" fill="#111" textLength="45.5" lengthAdjust="spacingAndGlyphs">50μm</text>
<path d="M1725.1 1688.3H1760.2" stroke="#111" stroke-width="1.4"/>
<text x="2035" y="1682.8" font-size="16.5" fill="#111" textLength="45.5" lengthAdjust="spacingAndGlyphs">50μm</text>
<path d="M2043.7 1688.3H2078.8" stroke="#111" stroke-width="1.4"/>
</svg></body></html>
